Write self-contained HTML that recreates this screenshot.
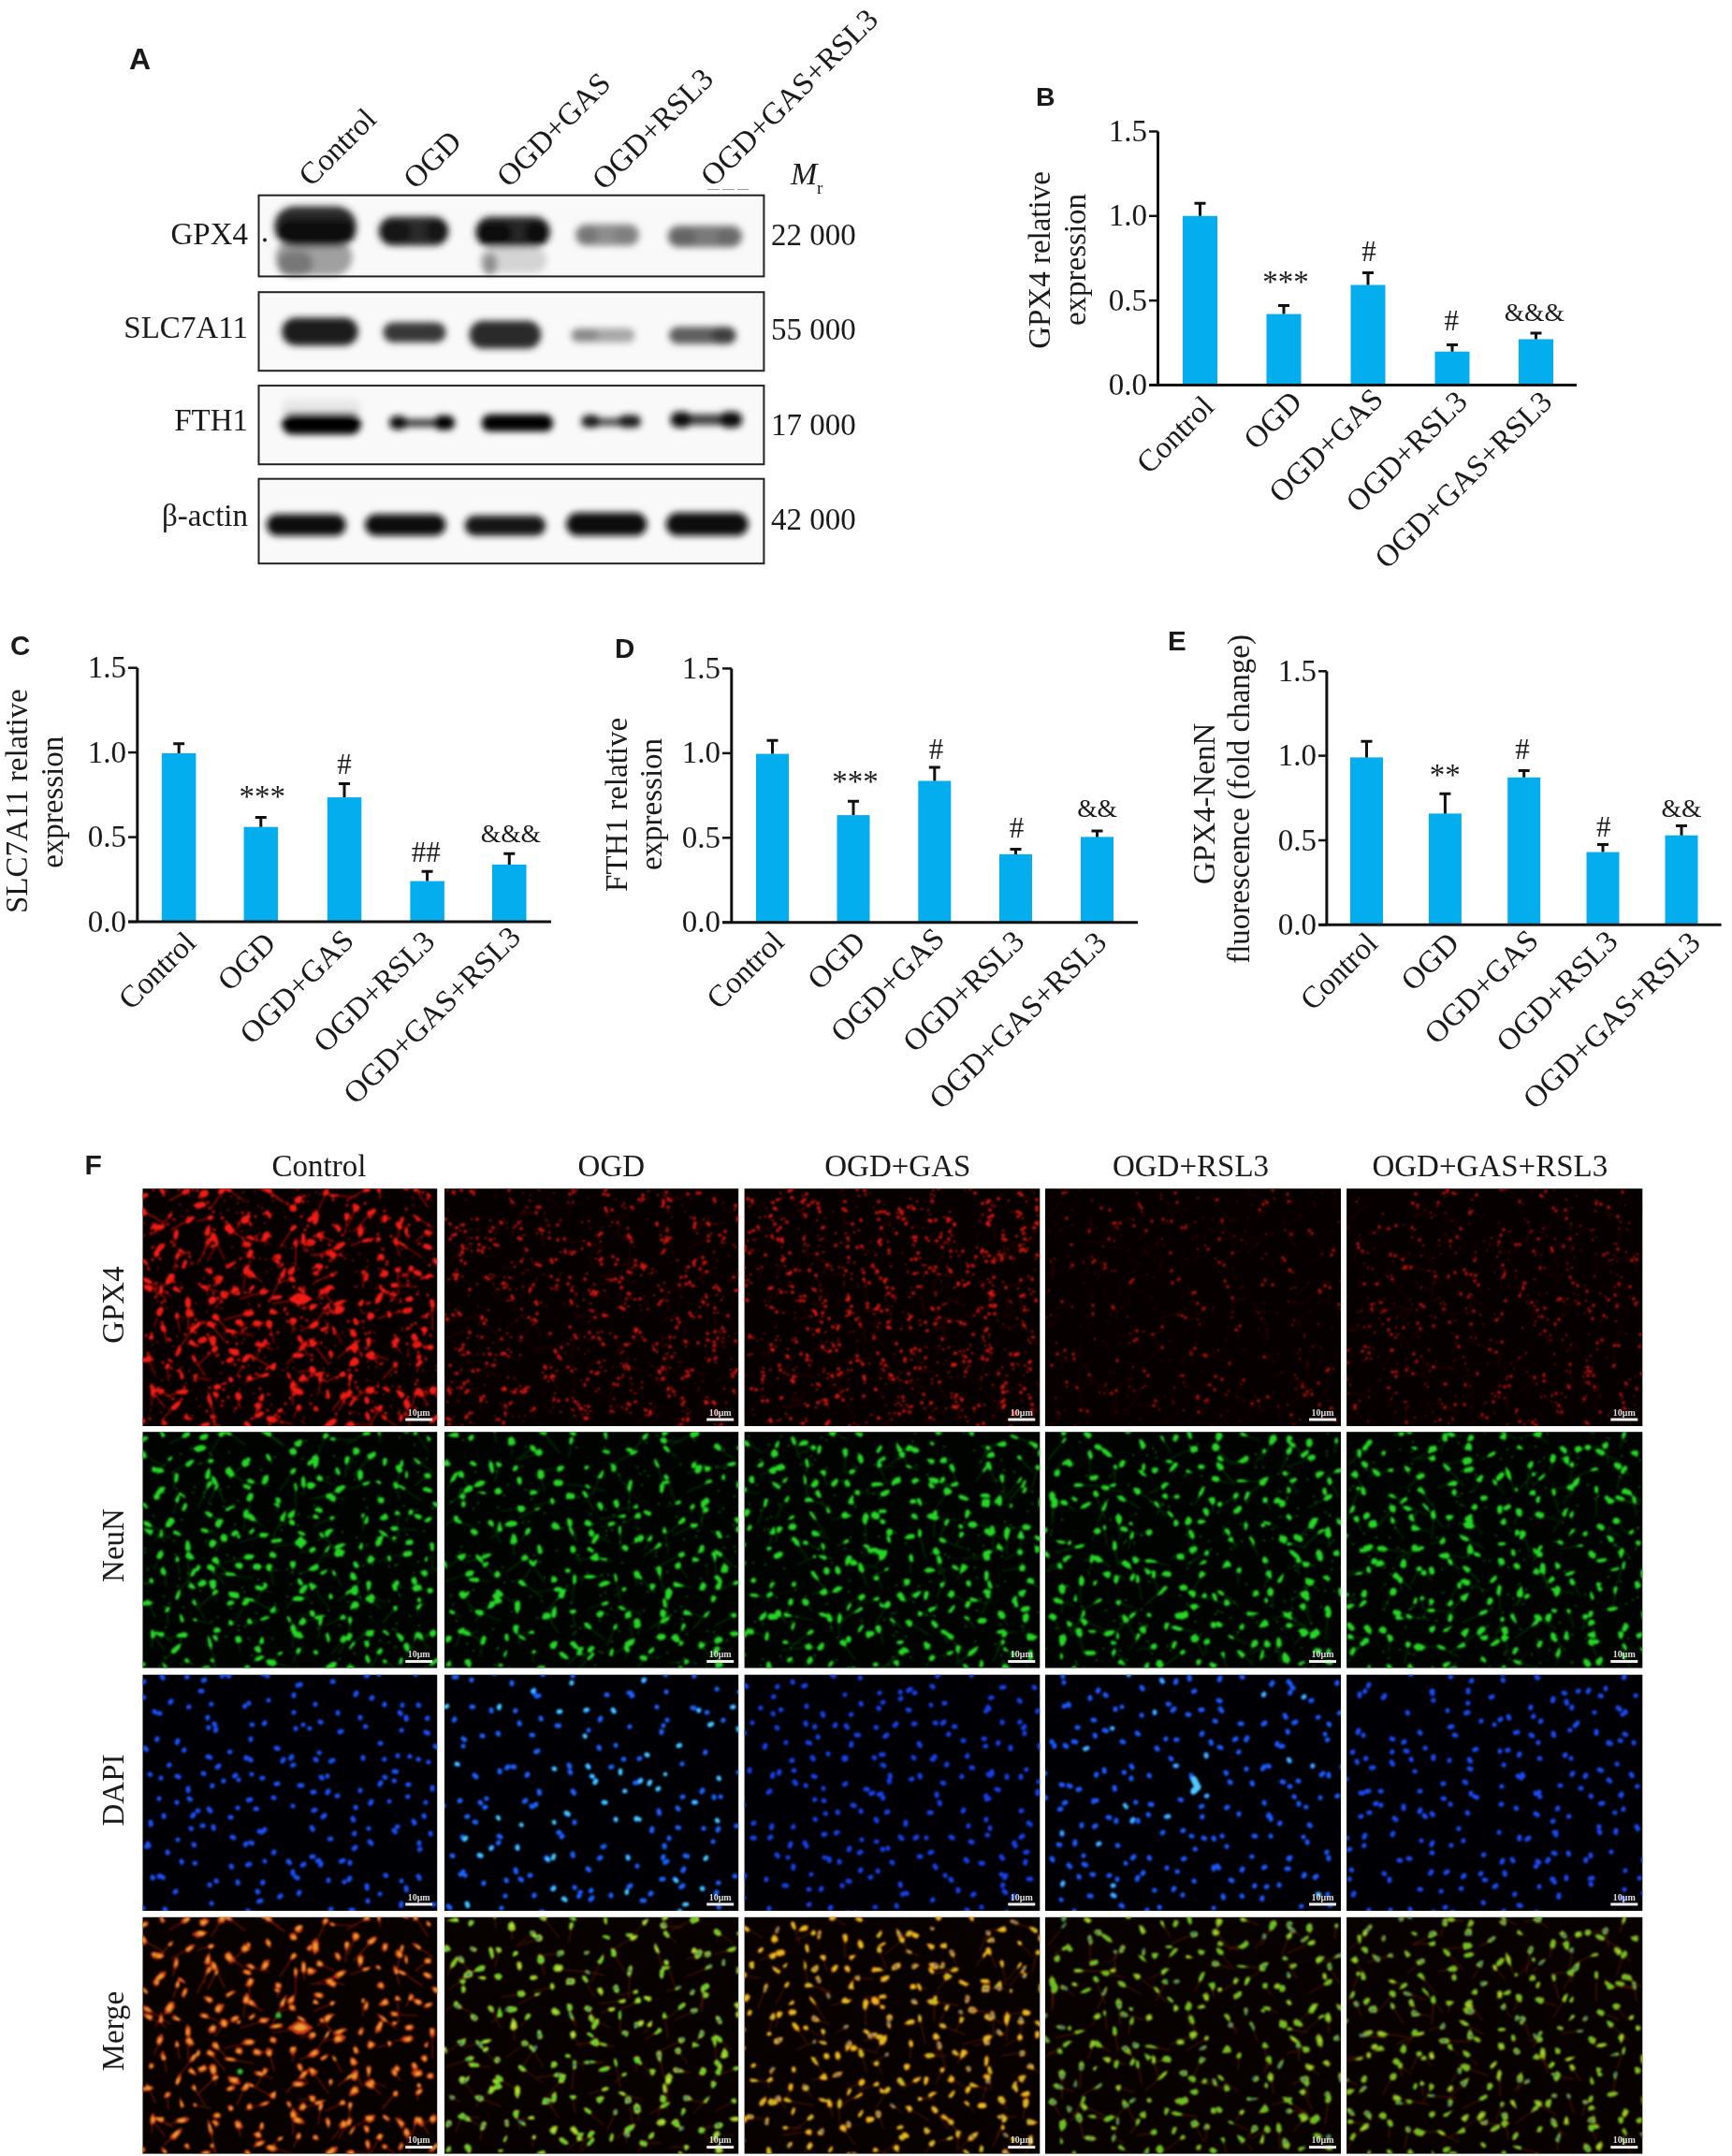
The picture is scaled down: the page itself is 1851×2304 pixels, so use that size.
<!DOCTYPE html>
<html><head><meta charset="utf-8"><title>Figure</title>
<style>html,body{margin:0;padding:0;background:#fff;}body{width:1851px;height:2304px;overflow:hidden;}svg{display:block;will-change:transform;}</style>
</head><body>
<svg width="1851" height="2304" viewBox="0 0 1851 2304" font-family="'Liberation Serif', serif" fill="#1a1a1a">
<defs><filter id="bl" x="-50%" y="-50%" width="200%" height="200%"><feGaussianBlur stdDeviation="3.6"/></filter><filter id="mb" x="0" y="0" width="100%" height="100%"><feGaussianBlur stdDeviation="1"/></filter><clipPath id="c00"><rect x="152.5" y="1270.2" width="314.7" height="253.8"/></clipPath><clipPath id="c01"><rect x="475" y="1270.2" width="314.2" height="253.8"/></clipPath><clipPath id="c02"><rect x="795.6" y="1270.2" width="315.7" height="253.8"/></clipPath><clipPath id="c03"><rect x="1117" y="1270.2" width="316.0" height="253.8"/></clipPath><clipPath id="c04"><rect x="1439.1" y="1270.2" width="316.2" height="253.8"/></clipPath><clipPath id="c10"><rect x="152.5" y="1530.2" width="314.7" height="252.3"/></clipPath><clipPath id="c11"><rect x="475" y="1530.2" width="314.2" height="252.3"/></clipPath><clipPath id="c12"><rect x="795.6" y="1530.2" width="315.7" height="252.3"/></clipPath><clipPath id="c13"><rect x="1117" y="1530.2" width="316.0" height="252.3"/></clipPath><clipPath id="c14"><rect x="1439.1" y="1530.2" width="316.2" height="252.3"/></clipPath><clipPath id="c20"><rect x="152.5" y="1789.7" width="314.7" height="252.3"/></clipPath><clipPath id="c21"><rect x="475" y="1789.7" width="314.2" height="252.3"/></clipPath><clipPath id="c22"><rect x="795.6" y="1789.7" width="315.7" height="252.3"/></clipPath><clipPath id="c23"><rect x="1117" y="1789.7" width="316.0" height="252.3"/></clipPath><clipPath id="c24"><rect x="1439.1" y="1789.7" width="316.2" height="252.3"/></clipPath><clipPath id="c30"><rect x="152.5" y="2048.8" width="314.7" height="252.8"/></clipPath><clipPath id="c31"><rect x="475" y="2048.8" width="314.2" height="252.8"/></clipPath><clipPath id="c32"><rect x="795.6" y="2048.8" width="315.7" height="252.8"/></clipPath><clipPath id="c33"><rect x="1117" y="2048.8" width="316.0" height="252.8"/></clipPath><clipPath id="c34"><rect x="1439.1" y="2048.8" width="316.2" height="252.8"/></clipPath></defs>
<text x="138" y="73.6" font-family="'Liberation Sans', sans-serif" font-weight="bold" font-size="32">A</text>
<text x="1107" y="112.6" font-family="'Liberation Sans', sans-serif" font-weight="bold" font-size="28.5">B</text>
<text x="11" y="700" font-family="'Liberation Sans', sans-serif" font-weight="bold" font-size="29.5">C</text>
<text x="657" y="703" font-family="'Liberation Sans', sans-serif" font-weight="bold" font-size="29.5">D</text>
<text x="1248" y="694.5" font-family="'Liberation Sans', sans-serif" font-weight="bold" font-size="29.5">E</text>
<text x="90.5" y="1255" font-family="'Liberation Sans', sans-serif" font-weight="bold" font-size="30">F</text>
<rect x="276.5" y="208.7" width="539.9" height="86.7" fill="#f9f9f9"/>
<rect x="276.5" y="312.2" width="539.9" height="84.0" fill="#f9f9f9"/>
<rect x="276.5" y="412.1" width="539.9" height="84.1" fill="#f9f9f9"/>
<rect x="276.5" y="511.7" width="539.9" height="90.5" fill="#f9f9f9"/>
<g filter="url(#bl)">
<rect x="294.5" y="255.5" width="82.0" height="39.0" rx="19.5" fill="#a0a0a0"/>
<rect x="296.5" y="268.5" width="38.0" height="26.0" rx="13.0" fill="#787878"/>
<rect x="293.1" y="220.5" width="87.9" height="43.0" rx="21.5" fill="#2a2a2a"/>
<rect x="296.5" y="234.5" width="83.0" height="27.0" rx="13.5" fill="#080808"/>
<rect x="404.5" y="231.5" width="75.0" height="31.0" rx="15.5" fill="#2a2a2a"/>
<rect x="407.5" y="236.5" width="32.0" height="23.0" rx="11.5" fill="#151515"/>
<rect x="455.5" y="234.5" width="22.0" height="25.0" rx="11.0" fill="#151515"/>
<rect x="508.1" y="231.5" width="79.9" height="32.7" rx="16.3" fill="#262626"/>
<rect x="510.5" y="237.5" width="37.0" height="24.0" rx="12.0" fill="#101010"/>
<rect x="560.5" y="236.5" width="25.0" height="25.0" rx="12.5" fill="#101010"/>
<rect x="512.5" y="264.5" width="72.0" height="27.0" rx="13.5" fill="#d4d4d4"/>
<rect x="515.5" y="270.5" width="16.0" height="23.0" rx="8.0" fill="#8a8a8a" opacity="0.9"/>
<rect x="614.8" y="239.5" width="68.5" height="23.0" rx="11.5" fill="#8e8e8e"/>
<rect x="617.5" y="242.5" width="22.0" height="18.0" rx="9.0" fill="#777"/>
<rect x="655.5" y="242.5" width="24.0" height="18.0" rx="9.0" fill="#808080"/>
<rect x="713.5" y="240.9" width="79.8" height="23.3" rx="11.6" fill="#7a7a7a"/>
<rect x="716.5" y="244.5" width="28.0" height="18.0" rx="9.0" fill="#666"/>
<rect x="765.5" y="244.5" width="24.0" height="18.0" rx="9.0" fill="#6a6a6a"/>
<rect x="301.2" y="339.5" width="81.5" height="29.7" rx="14.8" fill="#1c1c1c"/>
<rect x="409.5" y="344.4" width="67.0" height="21.6" rx="10.8" fill="#383838"/>
<rect x="501.5" y="342.8" width="76.8" height="29.7" rx="14.8" fill="#2c2c2c"/>
<rect x="610.0" y="350.8" width="68.5" height="15.2" rx="7.6" fill="#a8a8a8"/>
<rect x="611.5" y="351.5" width="28.0" height="13.0" rx="6.5" fill="#8a8a8a"/>
<rect x="715.0" y="349.2" width="71.8" height="18.3" rx="9.2" fill="#5e5e5e"/>
<rect x="760.5" y="349.5" width="26.0" height="18.0" rx="9.0" fill="#404040"/>
<rect x="300.5" y="426.5" width="86.0" height="19.0" rx="9.5" fill="#e8e8e8"/>
<rect x="301.2" y="441.1" width="84.7" height="23.2" rx="11.6" fill="#000"/>
<rect x="416.5" y="447.5" width="69.0" height="9.0" rx="4.5" fill="#444"/>
<rect x="416.0" y="444.5" width="19.5" height="14.5" rx="7.2" fill="#111"/>
<rect x="463.5" y="444.0" width="22.6" height="15.5" rx="7.8" fill="#050505"/>
<rect x="514.5" y="442.7" width="76.7" height="18.4" rx="9.2" fill="#000"/>
<rect x="621.5" y="446.5" width="63.0" height="9.0" rx="4.5" fill="#555"/>
<rect x="621.3" y="443.5" width="20.2" height="13.5" rx="6.8" fill="#1a1a1a"/>
<rect x="660.5" y="443.5" width="24.5" height="13.5" rx="6.8" fill="#1a1a1a"/>
<rect x="716.5" y="442.5" width="76.8" height="12.0" rx="6.0" fill="#444"/>
<rect x="716.5" y="440.0" width="23.0" height="17.0" rx="8.5" fill="#0a0a0a"/>
<rect x="768.5" y="440.0" width="24.8" height="17.0" rx="8.5" fill="#0a0a0a"/>
<rect x="285.0" y="549.4" width="84.7" height="23.2" rx="11.6" fill="#111"/>
<rect x="390.1" y="549.4" width="86.3" height="23.1" rx="11.6" fill="#0c0c0c"/>
<rect x="496.8" y="551.0" width="86.3" height="21.5" rx="10.8" fill="#141414"/>
<rect x="605.1" y="547.8" width="86.3" height="24.7" rx="12.4" fill="#111"/>
<rect x="711.8" y="547.8" width="87.9" height="24.7" rx="12.4" fill="#0e0e0e"/>
</g>
<circle cx="283" cy="256.6" r="2" fill="#222"/>
<rect x="276.5" y="208.7" width="539.9" height="86.7" fill="none" stroke="#222" stroke-width="2"/>
<rect x="276.5" y="312.2" width="539.9" height="84.0" fill="none" stroke="#222" stroke-width="2"/>
<rect x="276.5" y="412.1" width="539.9" height="84.1" fill="none" stroke="#222" stroke-width="2"/>
<rect x="276.5" y="511.7" width="539.9" height="90.5" fill="none" stroke="#222" stroke-width="2"/>
<text x="265" y="261" font-size="33" text-anchor="end">GPX4</text>
<text x="265" y="360.5" font-size="33" text-anchor="end">SLC7A11</text>
<text x="265" y="459.7" font-size="33" text-anchor="end">FTH1</text>
<text x="265" y="562" font-size="33" text-anchor="end">β-actin</text>
<text x="824" y="262" font-size="33">22 000</text>
<text x="824" y="363.3" font-size="33">55 000</text>
<text x="824" y="465.4" font-size="33">17 000</text>
<text x="824" y="566" font-size="33">42 000</text>
<text x="845" y="196.5" font-size="34" font-style="italic">M</text>
<text x="873" y="206.5" font-size="19">r</text>
<text transform="translate(332.6 200.6) rotate(-45)" font-size="33">Control</text>
<text transform="translate(444.3 203.6) rotate(-45)" font-size="33">OGD</text>
<text transform="translate(544 201.5) rotate(-45)" font-size="33">OGD+GAS</text>
<text transform="translate(645.9 204.4) rotate(-45)" font-size="33">OGD+RSL3</text>
<text transform="translate(762.1 200.9) rotate(-45)" font-size="33">OGD+GAS+RSL3</text>
<line x1="756" y1="202.5" x2="800" y2="202.5" stroke="#888" stroke-width="0.8" stroke-dasharray="13 3"/>
<rect x="1264.0" y="230.8" width="37" height="180.7" fill="#03adee"/>
<path d="M1282.5 230.8V215.7M1276.5 217.2H1288.5" stroke="#111" stroke-width="3" fill="none"/>
<rect x="1353.5" y="335.6" width="37" height="75.9" fill="#03adee"/>
<path d="M1372.0 335.6V325.0M1366.0 326.5H1378.0" stroke="#111" stroke-width="3" fill="none"/>
<rect x="1443.5" y="304.5" width="37" height="107.0" fill="#03adee"/>
<path d="M1462.0 304.5V290.1M1456.0 291.6H1468.0" stroke="#111" stroke-width="3" fill="none"/>
<rect x="1533.5" y="375.7" width="37" height="35.8" fill="#03adee"/>
<path d="M1552.0 375.7V367.1M1546.0 368.6H1558.0" stroke="#111" stroke-width="3" fill="none"/>
<rect x="1623.0" y="362.5" width="37" height="49.0" fill="#03adee"/>
<path d="M1641.5 362.5V354.6M1635.5 356.1H1647.5" stroke="#111" stroke-width="3" fill="none"/>
<path d="M1237.5 140.5V411.5M1228 411.5H1685" stroke="#111" stroke-width="3" fill="none"/>
<path d="M1228 411.5H1237.5" stroke="#111" stroke-width="2.5"/>
<text x="1226.0" y="422.0" font-size="33" text-anchor="end">0.0</text>
<path d="M1228 321.2H1237.5" stroke="#111" stroke-width="2.5"/>
<text x="1226.0" y="331.7" font-size="33" text-anchor="end">0.5</text>
<path d="M1228 230.8H1237.5" stroke="#111" stroke-width="2.5"/>
<text x="1226.0" y="241.3" font-size="33" text-anchor="end">1.0</text>
<path d="M1228 140.5H1237.5" stroke="#111" stroke-width="2.5"/>
<text x="1226.0" y="151.0" font-size="33" text-anchor="end">1.5</text>
<text x="1374.0" y="311.7" font-size="33" text-anchor="middle">***</text>
<text x="1463.0" y="278.9" font-size="31" text-anchor="middle">#</text>
<text x="1551.3" y="353.2" font-size="31" text-anchor="middle">#</text>
<text x="1639.8" y="343.0" font-size="27.5" text-anchor="middle">&amp;&amp;&amp;</text>
<text transform="translate(1122.2 278) rotate(-90)" font-size="33" text-anchor="middle">GPX4 relative</text>
<text transform="translate(1159.8 277.5) rotate(-90)" font-size="33" text-anchor="middle">expression</text>
<text transform="translate(1299.3 436.5) rotate(-45)" font-size="33" text-anchor="end">Control</text>
<text transform="translate(1393 431.5) rotate(-45)" font-size="33" text-anchor="end">OGD</text>
<text transform="translate(1480 428.5) rotate(-45)" font-size="33" text-anchor="end">OGD+GAS</text>
<text transform="translate(1570 431) rotate(-45)" font-size="33" text-anchor="end">OGD+RSL3</text>
<text transform="translate(1660.5 431.3) rotate(-45)" font-size="33" text-anchor="end">OGD+GAS+RSL3</text>
<rect x="172.9" y="805.0" width="36.5" height="180.0" fill="#03adee"/>
<path d="M191.2 805.0V793.3M185.2 794.8H197.2" stroke="#111" stroke-width="3" fill="none"/>
<rect x="260.6" y="883.7" width="36.5" height="101.3" fill="#03adee"/>
<path d="M278.8 883.7V872.0M272.8 873.5H284.8" stroke="#111" stroke-width="3" fill="none"/>
<rect x="349.8" y="852.1" width="36.5" height="132.9" fill="#03adee"/>
<path d="M368.0 852.1V836.0M362.0 837.5H374.0" stroke="#111" stroke-width="3" fill="none"/>
<rect x="438.4" y="941.6" width="36.5" height="43.4" fill="#03adee"/>
<path d="M456.6 941.6V929.7M450.6 931.2H462.6" stroke="#111" stroke-width="3" fill="none"/>
<rect x="526.0" y="923.9" width="36.5" height="61.1" fill="#03adee"/>
<path d="M544.3 923.9V910.7M538.3 912.2H550.3" stroke="#111" stroke-width="3" fill="none"/>
<path d="M146.8 713.7V985M137 985H589" stroke="#111" stroke-width="3" fill="none"/>
<path d="M137 985.0H146.8" stroke="#111" stroke-width="2.5"/>
<text x="135.0" y="995.5" font-size="33" text-anchor="end">0.0</text>
<path d="M137 894.6H146.8" stroke="#111" stroke-width="2.5"/>
<text x="135.0" y="905.1" font-size="33" text-anchor="end">0.5</text>
<path d="M137 804.1H146.8" stroke="#111" stroke-width="2.5"/>
<text x="135.0" y="814.6" font-size="33" text-anchor="end">1.0</text>
<path d="M137 713.7H146.8" stroke="#111" stroke-width="2.5"/>
<text x="135.0" y="724.2" font-size="33" text-anchor="end">1.5</text>
<text x="280.3" y="862.0" font-size="33" text-anchor="middle">***</text>
<text x="367.9" y="826.6" font-size="31" text-anchor="middle">#</text>
<text x="455.2" y="921.0" font-size="31" text-anchor="middle">##</text>
<text x="545.9" y="899.9" font-size="27.5" text-anchor="middle">&amp;&amp;&amp;</text>
<text transform="translate(29.4 856.2) rotate(-90)" font-size="33" text-anchor="middle">SLC7A11 relative</text>
<text transform="translate(67 857.3) rotate(-90)" font-size="33" text-anchor="middle">expression</text>
<text transform="translate(211.2 1009.3) rotate(-45)" font-size="33" text-anchor="end">Control</text>
<text transform="translate(296.4 1010) rotate(-45)" font-size="33" text-anchor="end">OGD</text>
<text transform="translate(380 1007) rotate(-45)" font-size="33" text-anchor="end">OGD+GAS</text>
<text transform="translate(466.4 1008) rotate(-45)" font-size="33" text-anchor="end">OGD+RSL3</text>
<text transform="translate(558.3 1003.4) rotate(-45)" font-size="33" text-anchor="end">OGD+GAS+RSL3</text>
<rect x="808.0" y="805.6" width="35" height="180.2" fill="#03adee"/>
<path d="M825.5 805.6V789.8M819.5 791.3H831.5" stroke="#111" stroke-width="3" fill="none"/>
<rect x="894.5" y="871.1" width="35" height="114.7" fill="#03adee"/>
<path d="M912.0 871.1V854.8M906.0 856.3H918.0" stroke="#111" stroke-width="3" fill="none"/>
<rect x="981.3" y="834.5" width="35" height="151.3" fill="#03adee"/>
<path d="M998.8 834.5V818.4M992.8 819.9H1004.8" stroke="#111" stroke-width="3" fill="none"/>
<rect x="1068.0" y="912.9" width="35" height="72.9" fill="#03adee"/>
<path d="M1085.5 912.9V906.0M1079.5 907.5H1091.5" stroke="#111" stroke-width="3" fill="none"/>
<rect x="1155.0" y="894.4" width="35" height="91.4" fill="#03adee"/>
<path d="M1172.5 894.4V886.5M1166.5 888.0H1178.5" stroke="#111" stroke-width="3" fill="none"/>
<path d="M781.8 714.4V985.8M772 985.8H1216" stroke="#111" stroke-width="3" fill="none"/>
<path d="M772 985.8H781.8" stroke="#111" stroke-width="2.5"/>
<text x="770.0" y="996.3" font-size="33" text-anchor="end">0.0</text>
<path d="M772 895.3H781.8" stroke="#111" stroke-width="2.5"/>
<text x="770.0" y="905.8" font-size="33" text-anchor="end">0.5</text>
<path d="M772 804.9H781.8" stroke="#111" stroke-width="2.5"/>
<text x="770.0" y="815.4" font-size="33" text-anchor="end">1.0</text>
<path d="M772 714.4H781.8" stroke="#111" stroke-width="2.5"/>
<text x="770.0" y="724.9" font-size="33" text-anchor="end">1.5</text>
<text x="913.9" y="846.3" font-size="33" text-anchor="middle">***</text>
<text x="1000.5" y="810.6" font-size="31" text-anchor="middle">#</text>
<text x="1086.5" y="894.7" font-size="31" text-anchor="middle">#</text>
<text x="1172.6" y="872.5" font-size="27.5" text-anchor="middle">&amp;&amp;</text>
<text transform="translate(669.8 859.9) rotate(-90)" font-size="33" text-anchor="middle">FTH1 relative</text>
<text transform="translate(707.4 859.5) rotate(-90)" font-size="33" text-anchor="middle">expression</text>
<text transform="translate(839.8 1008.6) rotate(-45)" font-size="33" text-anchor="end">Control</text>
<text transform="translate(926.7 1008.6) rotate(-45)" font-size="33" text-anchor="end">OGD</text>
<text transform="translate(1011.3 1005) rotate(-45)" font-size="33" text-anchor="end">OGD+GAS</text>
<text transform="translate(1096.5 1007.8) rotate(-45)" font-size="33" text-anchor="end">OGD+RSL3</text>
<text transform="translate(1184.5 1009) rotate(-45)" font-size="33" text-anchor="end">OGD+GAS+RSL3</text>
<rect x="1443.0" y="809.4" width="35" height="178.9" fill="#03adee"/>
<path d="M1460.5 809.4V790.7M1454.5 792.2H1466.5" stroke="#111" stroke-width="3" fill="none"/>
<rect x="1526.9" y="869.4" width="35" height="118.9" fill="#03adee"/>
<path d="M1544.4 869.4V846.8M1538.4 848.3H1550.4" stroke="#111" stroke-width="3" fill="none"/>
<rect x="1611.2" y="830.8" width="35" height="157.5" fill="#03adee"/>
<path d="M1628.7 830.8V822.1M1622.7 823.6H1634.7" stroke="#111" stroke-width="3" fill="none"/>
<rect x="1695.5" y="910.6" width="35" height="77.7" fill="#03adee"/>
<path d="M1713.0 910.6V901.0M1707.0 902.5H1719.0" stroke="#111" stroke-width="3" fill="none"/>
<rect x="1779.5" y="892.7" width="35" height="95.6" fill="#03adee"/>
<path d="M1797.0 892.7V881.0M1791.0 882.5H1803.0" stroke="#111" stroke-width="3" fill="none"/>
<path d="M1417.9 717.3V988.3M1409 988.3H1839.6" stroke="#111" stroke-width="3" fill="none"/>
<path d="M1409 988.3H1417.9" stroke="#111" stroke-width="2.5"/>
<text x="1407.0" y="998.8" font-size="33" text-anchor="end">0.0</text>
<path d="M1409 898.0H1417.9" stroke="#111" stroke-width="2.5"/>
<text x="1407.0" y="908.5" font-size="33" text-anchor="end">0.5</text>
<path d="M1409 807.6H1417.9" stroke="#111" stroke-width="2.5"/>
<text x="1407.0" y="818.1" font-size="33" text-anchor="end">1.0</text>
<path d="M1409 717.3H1417.9" stroke="#111" stroke-width="2.5"/>
<text x="1407.0" y="727.8" font-size="33" text-anchor="end">1.5</text>
<text x="1544.3" y="839.2" font-size="33" text-anchor="middle">**</text>
<text x="1626.9" y="811.0" font-size="31" text-anchor="middle">#</text>
<text x="1713.7" y="893.8" font-size="31" text-anchor="middle">#</text>
<text x="1796.9" y="872.5" font-size="27.5" text-anchor="middle">&amp;&amp;</text>
<text transform="translate(1297.8 858.9) rotate(-90)" font-size="33" text-anchor="middle">GPX4-NenN</text>
<text transform="translate(1335.2 853.9) rotate(-90)" font-size="33" text-anchor="middle">fluorescence (fold change)</text>
<text transform="translate(1474.3 1010) rotate(-45)" font-size="33" text-anchor="end">Control</text>
<text transform="translate(1561 1010) rotate(-45)" font-size="33" text-anchor="end">OGD</text>
<text transform="translate(1646 1007) rotate(-45)" font-size="33" text-anchor="end">OGD+GAS</text>
<text transform="translate(1730.8 1007.8) rotate(-45)" font-size="33" text-anchor="end">OGD+RSL3</text>
<text transform="translate(1819 1009) rotate(-45)" font-size="33" text-anchor="end">OGD+GAS+RSL3</text>
<rect x="152.5" y="1270.2" width="314.7" height="253.8" fill="#060000"/>
<g clip-path="url(#c00)" filter="url(#mb)">
<path d="M149 1282l-10 9M194 1276l-13 7M234 1278l-8 13M248 1274l14 10M284 1272l17 12M290 1274l14 11M346 1280l-8 18M359 1278l21 1M386 1274l-15 9M406 1275l0 6M446 1273l11 17M158 1297l17 10M179 1302l-12 14M198 1306l-15 8M222 1302l-11 3M257 1308l-12 12M370 1307l-1 11M378 1296l-6 14M393 1300l-15 16M428 1309l-4 18M450 1304l12 8M167 1312l4 4M187 1325l-2 7M221 1323l-3 18M232 1329l8 17M251 1317l9 6M272 1324l16 4M310 1317l-11 16M325 1330l0 7M346 1322l11 5M454 1319l-10 8M221 1332l-10 19M229 1334l-7 13M267 1347l-1 11M297 1347l-0 8M316 1335l0 18M328 1327l-10 0M357 1340l11 3M357 1334l-20 8M386 1327l-11 4M424 1332l3 10M436 1334l15 10M189 1346l-4 11M262 1364l-2 13M273 1365l7 5M350 1341l-18 0M388 1363l-0 13M425 1361l1 22M437 1360l-3 6M164 1372l18 12M177 1372l-11 14M223 1377l9 3M246 1381l-8 5M300 1366l-9 18M307 1368l-10 3M347 1383l13 14M353 1363l-17 7M414 1382l9 7M426 1374l20 1M164 1379l13 8M201 1400l0 21M238 1387l-8 11M277 1382l-20 6M314 1390l-22 3M328 1397l-7 1M347 1381l-8 6M462 1400l-0 21M168 1409l-3 8M190 1410l2 11M229 1420l11 13M234 1411l9 10M260 1405l-20 5M313 1416l0 8M330 1418l-9 4M346 1401l-9 13M356 1401l-10 2M413 1406l-9 3M429 1402l-8 1M176 1424l2 11M203 1425l-12 16M229 1439l2 11M252 1424l19 3M280 1414l10 1M289 1420l4 14M322 1435l7 14M338 1440l13 18M359 1424l6 11M379 1431l8 20M160 1456l6 13M227 1444l-16 15M283 1439l8 3M281 1438l-8 14M319 1444l-13 14M369 1445l-8 6M401 1448l11 4M424 1440l4 5M150 1455l-21 3M179 1464l1 11M210 1456l9 14M259 1459l-6 12M272 1451l18 10M312 1474l8 9M329 1465l-10 1M335 1470l-11 4M363 1470l-15 7M400 1453l7 6M420 1461l-11 13M447 1454l-1 12M163 1492l-1 9M175 1488l9 6M188 1489l-10 3M211 1472l14 3M231 1486l-0 10M276 1472l-14 5M313 1486l0 15M342 1478l-2 13M374 1477l-1 7M370 1494l-8 13M391 1487l-13 7M443 1493l-3 11M452 1493l6 9M165 1489l11 15M174 1488l7 4M182 1508l-7 7M226 1502l5 21M255 1497l2 8M278 1497l-7 20M317 1508l-3 7M363 1497l-8 10M435 1506l3 19M459 1488l-8 5M147 1519l-8 0M214 1525l-15 6M228 1518l3 5M296 1518l16 4M296 1510l-9 8M347 1525l-6 4M380 1522l18 1M403 1510l-8 13M414 1517l15 11" fill="none" stroke="#b81008" stroke-width="1.5" stroke-linecap="round" opacity="0.8"/>
<path d="M403 1510h.1M334 1335h.1M390 1365h.1M405 1356h.1M332 1470h.1M158 1354h.1M278 1345h.1M442 1288h.1M294 1348h.1M195 1300h.1M432 1364h.1M442 1365h.1M258 1316h.1M178 1272h.1M394 1495h.1M449 1453h.1M430 1422h.1M303 1510h.1M326 1315h.1M333 1491h.1M390 1403h.1M384 1340h.1M366 1424h.1M172 1509h.1M418 1469h.1M236 1467h.1M265 1284h.1M436 1449h.1M234 1388h.1M210 1495h.1M256 1484h.1M285 1417h.1M237 1279h.1M162 1314h.1M276 1289h.1M302 1331h.1M237 1368h.1M242 1387h.1M335 1410h.1M154 1307h.1M178 1398h.1M303 1356h.1M283 1307h.1M269 1416h.1M417 1391h.1M371 1283h.1M386 1400h.1M324 1469h.1M381 1359h.1M274 1511h.1M378 1509h.1M307 1462h.1M348 1412h.1M348 1440h.1M262 1339h.1M414 1453h.1M266 1393h.1M452 1464h.1M455 1501h.1M221 1402h.1M427 1507h.1M463 1340h.1M259 1435h.1M236 1297h.1M313 1462h.1M307 1403h.1M292 1283h.1M368 1499h.1M428 1388h.1M271 1489h.1M216 1281h.1M429 1364h.1M258 1362h.1M206 1513h.1M325 1515h.1M277 1420h.1M338 1274h.1M374 1301h.1M430 1419h.1M392 1475h.1M200 1294h.1M329 1473h.1M163 1437h.1M224 1394h.1M283 1330h.1M441 1416h.1M240 1283h.1M410 1490h.1M181 1302h.1M352 1331h.1M402 1461h.1M342 1276h.1M392 1354h.1M312 1334h.1M255 1281h.1M313 1350h.1M461 1400h.1M393 1455h.1M260 1274h.1M261 1431h.1M303 1464h.1M161 1427h.1M222 1383h.1M438 1458h.1M325 1521h.1M199 1338h.1M189 1428h.1M394 1487h.1M185 1439h.1M406 1302h.1M466 1464h.1M451 1322h.1M318 1324h.1M297 1440h.1M312 1392h.1M398 1498h.1M247 1279h.1M272 1273h.1M250 1508h.1M248 1333h.1M447 1432h.1M282 1491h.1M436 1443h.1M388 1419h.1M199 1389h.1M296 1402h.1M390 1312h.1M467 1493h.1M266 1459h.1M369 1316h.1M400 1433h.1M369 1297h.1M378 1422h.1M175 1516h.1M353 1456h.1M290 1501h.1M429 1335h.1M418 1503h.1M285 1359h.1M441 1280h.1M181 1506h.1M358 1438h.1M240 1425h.1M205 1401h.1M183 1295h.1M153 1367h.1M369 1345h.1M383 1511h.1M356 1448h.1M218 1366h.1M168 1391h.1M387 1403h.1M182 1470h.1M319 1356h.1M394 1461h.1M329 1284h.1M343 1393h.1M206 1400h.1M402 1377h.1M449 1304h.1M209 1393h.1M362 1316h.1M467 1483h.1M235 1364h.1M330 1277h.1M395 1452h.1M237 1398h.1M373 1324h.1M400 1424h.1M373 1421h.1M339 1369h.1M195 1408h.1M374 1315h.1M262 1404h.1M277 1441h.1M173 1373h.1M278 1462h.1M277 1318h.1M466 1460h.1M305 1332h.1M194 1461h.1M381 1375h.1M357 1424h.1M416 1484h.1M379 1375h.1M225 1503h.1M393 1347h.1M213 1347h.1M161 1507h.1M365 1394h.1M276 1433h.1M202 1277h.1M403 1400h.1M313 1455h.1M467 1515h.1M199 1478h.1M253 1296h.1M426 1363h.1M424 1433h.1M346 1463h.1M154 1319h.1M252 1490h.1M447 1380h.1M192 1287h.1M252 1429h.1M164 1318h.1M407 1306h.1M213 1503h.1M344 1421h.1M284 1346h.1M403 1482h.1M168 1434h.1M322 1417h.1M252 1319h.1M199 1306h.1M173 1475h.1M456 1483h.1M223 1428h.1M323 1519h.1M267 1335h.1M377 1347h.1M180 1454h.1M404 1477h.1M423 1324h.1M270 1322h.1M459 1513h.1M348 1425h.1M457 1330h.1M315 1420h.1M169 1355h.1M254 1286h.1M190 1447h.1M154 1321h.1M198 1391h.1M420 1481h.1M461 1283h.1M335 1372h.1M283 1450h.1M254 1501h.1M202 1465h.1M170 1310h.1M244 1293h.1M296 1403h.1M436 1447h.1M302 1362h.1M333 1388h.1M305 1301h.1M251 1355h.1M218 1433h.1M280 1291h.1" fill="none" stroke="#c01010" stroke-width="2" stroke-linecap="round" opacity="0.8"/>
<path d="M148 1283l1 -5l5 -3l4 0l1 3l-6 3zM175 1276l-2 0l-3 -5l1 -3l2 1l4 5zM194 1276l1 -4l6 -3l2 2l0 3l-5 3zM213 1278l1 -5l5 -2l4 2l-1 5l-5 2zM234 1277l-1 -4l3 -5l4 0l1 4l-3 4zM248 1274l-4 0l-4 -3l-2 -4l4 1l5 3zM284 1272l-3 0l-2 -2l0 -2l2 -1l3 2zM291 1275l-5 0l-4 -3l-1 -4l4 0l5 2zM322 1282l-2 1l-2 -2l0 -3l3 0l3 1zM320 1286l-4 0l-2 -4l3 -3l3 0l3 4zM346 1279l-1 -3l1 -4l3 -1l3 3l-3 3zM359 1278l-2 2l-3 -1l-2 -1l2 -2l3 0zM387 1274l2 -4l3 -2l3 1l1 4l-4 1zM406 1276l-3 -3l0 -5l2 -1l2 1l0 4zM436 1272l-3 0l-4 -3l0 -3l3 0l5 3zM446 1273l-4 1l0 -4l0 -3l4 -1l1 4zM459 1280l-2 -1l-1 -2l0 -3l3 2l2 2zM158 1297l-4 3l-5 -4l0 -4l3 -3l4 4zM180 1301l-1 -2l3 -2l2 -1l0 3l-2 2zM198 1306l1 -3l5 -3l5 0l-4 5l-4 3zM206 1288l5 -3l6 -1l4 3l-3 3l-7 2zM221 1303l2 -4l3 0l3 1l-2 3l-2 1zM258 1307l-1 -4l4 -4l4 1l2 5l-5 3zM267 1302l-2 1l-2 -4l2 -2l2 1l1 3zM289 1303l-3 -3l-3 -4l2 -3l3 2l2 4zM313 1295l-3 -1l-1 -6l5 -1l3 3l0 4zM329 1306l-1 -2l3 -4l3 0l0 3l-2 3zM336 1310l-2 -5l-1 -8l5 -4l3 5l-1 8zM370 1306l-2 -4l0 -5l3 -1l3 1l-1 5zM378 1296l-1 -5l0 -5l5 1l3 3l-2 4zM393 1300l-1 -5l6 -3l3 -1l1 4l-4 4zM410 1307l-2 -3l1 -5l3 -1l2 1l0 6zM428 1310l-1 -4l1 -5l3 -1l1 2l-1 4zM450 1304l-3 1l-2 -2l-5 -5l5 1l4 3zM167 1311l-3 3l-2 -3l1 -4l3 0l3 2zM162 1312l4 -4l8 1l2 3l-3 2l-6 0zM187 1325l-2 -4l2 -7l3 0l1 3l-1 6zM221 1321l-3 -2l2 -6l4 -5l1 6l-1 6zM231 1328l-3 -1l-3 -6l1 -4l4 1l3 7zM251 1317l-5 2l-6 -5l0 -4l5 -3l4 5zM272 1324l-2 2l-3 -1l-5 -3l5 -2l4 2zM279 1327l1 -5l2 -5l6 -1l0 6l-4 4zM310 1316l0 -3l3 -4l2 0l3 2l-4 4zM325 1331l-3 -3l0 -8l2 -3l2 3l1 7zM345 1322l-2 2l-5 -2l0 -3l3 -3l4 3zM362 1317l-3 -3l-2 -5l3 -1l3 2l2 4zM384 1323l-2 -5l0 -5l3 -3l4 3l-1 6zM407 1326l-2 0l-3 -2l0 -2l2 0l3 1zM430 1313l-4 1l-3 -4l0 -4l5 -1l2 5zM435 1320l-2 -1l-1 -4l2 -5l2 3l0 6zM454 1319l-1 -4l3 -1l4 1l1 4l-4 1zM166 1344l-2 -4l1 -3l4 -2l2 3l-1 4zM165 1339l2 -5l4 -5l6 0l-2 5l-5 4zM199 1341l-3 -1l-5 -3l-1 -2l3 -1l4 4zM221 1332l0 -4l1 -4l4 -3l1 5l-3 3zM229 1333l0 -3l2 -4l2 0l1 2l-3 4zM269 1331l-3 2l-6 -3l-1 -3l3 -1l6 2zM267 1345l-4 -2l2 -6l3 -2l3 2l-1 5zM297 1347l-2 -2l-1 -4l3 -1l4 1l-1 5zM316 1335l-1 -4l-1 -5l2 -2l2 3l0 4zM328 1327l1 -3l5 0l4 3l-3 4l-6 1zM358 1340l-4 3l-5 -2l-1 -4l3 -1l4 0zM357 1334l3 -5l6 -2l4 1l-3 4l-6 4zM387 1327l0 -2l6 -2l4 1l-3 3l-5 1zM403 1343l2 -3l4 0l2 3l-1 4l-5 -1zM424 1331l-2 0l-2 -5l2 -4l3 3l1 5zM434 1332l-3 0l-5 -3l-1 -3l3 1l5 3zM462 1335l-4 1l-6 -3l0 -3l3 -1l6 2zM158 1352l-2 0l-4 -4l0 -3l3 1l3 4zM188 1346l-1 -3l2 -4l3 -3l0 4l-1 5zM194 1355l1 -4l2 -5l3 1l0 3l-3 6zM228 1360l-4 2l-3 -3l-3 -3l4 -1l4 2zM241 1354l0 -2l7 -3l4 0l-4 4l-5 3zM263 1363l-3 -2l0 -5l4 -5l3 6l-1 5zM274 1366l-6 -1l-4 -3l1 -3l3 -2l4 4zM300 1350l-2 1l-4 -2l-2 -2l3 -1l4 2zM309 1363l-2 -4l3 -4l5 -2l0 5l-2 4zM341 1363l-4 0l-3 -1l1 -3l2 -1l3 2zM345 1355l-2 2l-6 -2l-1 -3l3 -2l6 1zM352 1341l1 -2l5 -1l2 3l-2 4l-5 -1zM388 1362l-2 -1l0 -2l2 -2l2 1l-1 3zM405 1364l3 -5l4 -2l3 2l0 4l-5 2zM425 1360l-3 -1l0 -3l2 -2l3 2l2 3zM438 1359l-2 -2l2 -5l3 1l2 2l-3 4zM469 1349l-3 3l-3 -3l-1 -4l3 -1l3 2zM164 1372l-5 0l-5 -2l-1 -5l5 1l3 2zM177 1373l0 -5l4 -7l5 0l1 5l-5 6zM194 1381l-3 0l-6 -2l0 -3l2 -2l5 4zM223 1378l-4 0l-3 -1l-3 -3l3 -1l6 1zM230 1371l0 -4l3 -4l6 1l-2 5l-3 4zM246 1381l2 -4l4 -2l3 1l1 3l-6 3zM267 1380l-1 -3l3 -3l3 -1l0 3l-3 3zM300 1366l-1 -4l3 -4l4 -4l-1 6l-1 5zM308 1368l1 -4l4 0l2 2l1 4l-5 0zM327 1381l-3 1l-5 -3l-1 -2l2 -1l5 2zM346 1383l-2 0l-3 -3l1 -2l2 -1l3 4zM352 1363l1 -2l2 -1l3 1l-1 3l-2 1zM390 1370l-1 -3l1 -3l2 -5l2 3l-1 6zM415 1382l-3 0l-5 -3l-3 -5l5 2l4 3zM426 1374l-3 2l-4 0l-2 -3l2 -2l5 0zM451 1363l-3 1l-5 -2l-2 -4l5 -1l4 2zM453 1366l2 -3l3 -2l5 1l-3 3l-3 2zM163 1378l-2 3l-6 -3l-2 -5l6 0l5 2zM172 1383l-2 -2l0 -3l2 -6l2 5l0 5zM201 1398l-3 -2l0 -6l2 -5l4 4l0 7zM225 1394l-3 -4l3 -4l3 -1l4 3l-3 5zM237 1387l-2 -4l2 -4l5 1l2 4l-2 4zM257 1383l-1 1l-3 0l0 -3l2 -1l2 1zM277 1382l1 -4l4 0l6 1l-4 4l-4 1zM288 1388l3 -3l8 -1l3 1l-2 3l-8 1zM314 1390l4 -3l6 -2l3 3l-2 3l-7 1zM330 1397l2 -3l4 -1l2 3l-1 2l-5 3zM346 1381l0 -4l5 -4l6 1l-4 5l-3 4zM356 1395l3 -4l7 -2l5 1l-5 3l-5 3zM385 1396l-3 -2l3 -4l2 -2l2 3l-2 5zM401 1394l0 -6l4 -6l5 -2l-1 5l-2 6zM425 1384l-2 1l-3 1l-1 -3l1 -1l3 0zM433 1388l2 -2l5 -1l2 3l-2 3l-6 0zM462 1399l-2 -3l-1 -7l3 -1l2 2l1 6zM169 1407l-2 -3l1 -5l5 -3l2 4l-3 6zM190 1409l-3 0l0 -4l2 -3l2 2l1 4zM208 1406l-5 2l-5 -4l1 -4l3 -3l4 5zM229 1420l-5 -2l-4 -2l2 -4l4 0l4 3zM235 1412l-5 -1l-4 -3l2 -4l4 0l2 3zM260 1414l-3 3l-5 -2l-1 -3l2 -2l5 0zM259 1405l3 -4l6 -1l4 2l-2 4l-6 1zM296 1402l-2 3l-6 -1l0 -4l2 -2l4 2zM313 1417l-4 -4l1 -4l3 -1l4 1l0 4zM329 1419l4 -5l5 -3l3 2l-1 4l-5 3zM347 1401l0 -4l3 -4l3 -2l-1 4l-2 3zM357 1401l1 -4l6 -2l5 3l-3 5l-7 2zM382 1416l-3 0l-2 -6l2 -2l3 2l2 4zM394 1411l-2 -4l2 -5l4 1l3 3l-3 4zM414 1406l0 -4l3 0l2 2l-1 3l-2 2zM429 1402l3 -4l8 -1l1 3l-2 3l-6 1zM455 1409l-1 -1l0 -3l3 -2l0 3l0 3zM161 1432l-2 -1l0 -2l2 -3l3 1l0 4zM175 1423l-2 0l-2 -5l3 -4l3 4l1 4zM203 1425l0 -4l3 -4l4 -2l0 4l-3 5zM214 1416l-2 3l-3 1l1 -5l1 -3l3 1zM229 1439l-4 -2l-2 -7l4 -3l4 2l0 6zM254 1424l-5 1l-7 -1l-2 -3l3 -1l7 1zM281 1414l-4 4l-6 -1l-1 -3l2 -3l5 0zM289 1420l-3 -1l-2 -5l2 -4l5 2l0 5zM323 1436l-4 -3l-1 -3l0 -3l3 0l3 5zM336 1439l-3 1l-3 -6l1 -4l3 2l6 3zM343 1423l-1 -3l5 -2l3 -1l0 3l-5 3zM359 1424l-2 0l-2 -3l0 -4l3 2l1 3zM379 1429l-4 -1l-1 -4l1 -4l4 1l3 6zM393 1441l-1 -4l-1 -6l3 -2l3 2l-1 6zM420 1435l1 -4l3 -3l3 3l0 3l-3 2zM445 1433l-4 0l-2 -5l2 -3l3 0l3 5zM455 1425l-3 -1l-3 -4l3 -2l4 0l1 4zM160 1456l-3 -2l-1 -3l1 -3l2 1l2 4zM189 1450l-2 -2l2 -6l3 -5l2 5l-3 6zM210 1439l-5 -1l-4 -2l1 -3l2 -2l5 4zM222 1432l-4 3l-5 1l-2 -4l4 -3l4 -1zM227 1445l-1 -4l4 -3l3 1l0 3l-3 3zM256 1448l-5 1l-6 -3l-1 -5l5 0l6 1zM283 1439l-3 1l-6 -1l-2 -4l4 -1l6 2zM281 1439l0 -3l1 -5l3 0l1 3l-2 4zM312 1449l2 -3l8 0l4 2l-4 3l-7 0zM320 1443l0 -4l5 -5l4 -1l-1 5l-4 5zM351 1446l1 -3l2 0l2 3l-1 3l-3 1zM369 1445l1 -4l5 -4l3 0l-1 3l-4 3zM376 1444l-2 -4l3 -5l5 -1l1 6l-2 5zM401 1448l-3 2l-2 -2l-1 -3l2 -2l3 2zM424 1440l-3 0l-2 -4l-1 -3l3 -1l4 5zM451 1438l-3 2l-5 1l-3 -4l4 -4l6 1zM460 1443l-3 -1l-1 -4l3 -1l3 0l2 4zM149 1455l4 -4l8 -1l4 3l-5 2l-4 1zM179 1463l-3 0l1 -4l1 -2l4 1l-1 3zM195 1474l-2 0l-1 -6l0 -5l3 4l2 5zM210 1456l-3 -1l-2 -3l1 -2l2 -1l2 4zM241 1454l3 -3l4 -1l3 3l-3 2l-4 2zM260 1456l-2 -2l4 -6l3 -1l3 2l-4 6zM272 1451l-2 1l-3 -2l-2 -2l3 -1l3 2zM290 1464l-2 -3l3 -4l4 -1l0 4l-1 4zM311 1473l-2 1l-2 -4l-1 -3l3 0l2 4zM330 1465l1 -5l4 0l3 4l-2 4l-4 -1zM336 1470l1 -3l5 -1l6 0l-5 4l-5 1zM362 1470l2 -3l3 -2l2 2l1 3l-5 2zM373 1460l1 -5l4 -5l5 2l1 5l-5 3zM400 1453l-5 0l-5 -4l2 -3l4 -2l4 5zM421 1461l-1 -3l1 -3l4 1l0 3l-2 3zM448 1452l-3 0l1 -4l2 -1l2 2l0 3zM444 1460l1 -3l4 -4l3 2l-1 2l-3 3zM162 1493l-1 -4l0 -6l3 -3l2 5l-1 4zM175 1488l-2 2l-3 -2l0 -4l3 0l3 1zM188 1489l2 -3l7 -2l5 2l-3 4l-7 0zM211 1472l-2 1l-2 -1l-1 -2l1 -1l3 1zM231 1485l-3 -1l1 -4l3 -1l4 1l0 4zM248 1477l-3 0l-1 -3l1 -3l3 1l2 3zM263 1474l1 -3l3 -2l3 3l0 3l-4 1zM277 1471l3 -2l4 -2l5 1l-3 3l-5 1zM313 1487l-3 -4l0 -4l3 -4l3 4l1 5zM319 1476l1 -4l4 -4l3 3l0 3l-3 3zM342 1478l-2 -3l1 -6l3 -1l1 2l-1 6zM374 1478l-2 -5l0 -4l3 -2l2 3l-1 3zM370 1494l0 -5l2 -4l3 0l2 3l-3 5zM391 1488l0 -5l4 -1l5 0l0 6l-5 2zM416 1488l-3 -1l-4 -3l0 -2l3 0l5 4zM443 1494l0 -5l1 -4l2 -3l1 3l-1 5zM452 1493l-5 -1l-2 -5l1 -3l3 -1l4 5zM166 1490l-4 -1l-1 -2l1 -3l2 -1l3 3zM174 1488l-3 2l-5 -4l-1 -2l4 0l5 1zM183 1507l0 -4l6 -5l5 -2l-2 6l-5 5zM226 1504l-3 -5l-1 -6l0 -7l3 6l2 7zM234 1492l-3 2l-3 -3l-1 -3l3 -1l4 3zM255 1497l-3 -2l-1 -5l3 -3l3 2l2 5zM279 1506l-4 0l-4 -4l3 -3l3 0l2 3zM278 1498l-1 -4l2 -4l2 -1l1 3l0 4zM325 1490l-5 1l-6 -2l0 -4l3 -2l6 2zM318 1508l-2 -3l2 -4l3 0l1 2l-1 4zM351 1496l-2 -4l-1 -5l2 -3l2 4l1 4zM364 1496l-1 -4l4 -5l4 2l0 3l-3 3zM374 1503l-1 -2l3 -5l2 -2l2 2l-4 6zM393 1501l-3 -2l-1 -5l2 -2l3 2l1 4zM431 1493l-2 2l-4 -5l-2 -5l5 1l5 4zM436 1507l-4 -4l-1 -5l3 -4l3 3l2 5zM459 1487l0 -3l4 -3l3 2l1 4l-5 4zM148 1519l1 -3l5 0l2 3l-2 2l-4 1zM178 1523l-2 0l-3 -3l0 -4l4 3l2 2zM203 1518l-4 -1l-3 -2l2 -3l2 0l2 2zM213 1525l3 -4l5 -1l4 0l-2 4l-4 2zM228 1517l-2 -1l-2 -2l1 -2l3 0l1 3zM269 1526l-4 0l-4 -3l0 -4l4 0l3 4zM272 1515l2 -4l5 -3l4 2l-3 3l-3 2zM297 1518l-5 3l-6 -2l-2 -4l3 -2l7 1zM297 1509l-1 -2l4 -2l2 0l0 3l-3 2zM341 1508l-4 0l-2 -1l0 -3l3 -2l2 3zM346 1526l3 -6l6 -4l5 0l-1 5l-7 5zM379 1522l-1 3l-6 0l-2 -4l4 -2l3 0zM394 1519l-3 -4l-1 -4l2 -3l2 2l2 5zM404 1508l-3 -2l4 -4l3 -1l1 3l-2 5zM413 1517l-2 1l-2 -2l-1 -2l3 -1l3 1zM428 1519l-2 -1l1 -5l2 -2l2 2l-1 5zM458 1520l3 -4l5 -4l6 -1l-4 5l-6 5zM334 1388l-9 6l-8 0l-9 -6l9 -6l8 0z" fill="#f01c12"/>
<path d="M164 1271h.1M143 1285h.1M143 1284h.1M175 1277h.1M167 1267h.1M191 1271h.1M206 1271h.1M210 1261h.1M213 1279h.1M219 1268h.1M211 1272h.1M233 1266h.1M245 1265h.1M246 1270h.1M239 1264h.1M278 1269h.1M282 1272h.1M291 1278h.1M324 1284h.1M325 1278h.1M318 1270h.1M349 1268h.1M350 1271h.1M353 1264h.1M360 1277h.1M356 1282h.1M351 1276h.1M407 1268h.1M407 1268h.1M403 1270h.1M428 1267h.1M443 1268h.1M448 1273h.1M457 1281h.1M452 1274h.1M458 1278h.1M151 1295h.1M179 1308h.1M186 1303h.1M201 1301h.1M224 1291h.1M222 1285h.1M228 1295h.1M255 1307h.1M259 1296h.1M273 1300h.1M268 1309h.1M266 1296h.1M267 1307h.1M289 1298h.1M282 1297h.1M307 1286h.1M315 1288h.1M338 1295h.1M335 1297h.1M329 1310h.1M335 1306h.1M371 1288h.1M390 1286h.1M395 1299h.1M396 1301h.1M413 1300h.1M411 1294h.1M416 1302h.1M430 1304h.1M434 1292h.1M446 1304h.1M175 1310h.1M166 1309h.1M161 1318h.1M162 1312h.1M166 1316h.1M186 1331h.1M221 1328h.1M223 1326h.1M231 1322h.1M227 1331h.1M229 1314h.1M237 1302h.1M242 1306h.1M238 1301h.1M281 1325h.1M274 1321h.1M289 1321h.1M274 1325h.1M322 1300h.1M327 1330h.1M326 1314h.1M328 1336h.1M345 1322h.1M343 1325h.1M345 1317h.1M366 1320h.1M356 1309h.1M386 1310h.1M404 1319h.1M398 1324h.1M403 1326h.1M437 1309h.1M435 1320h.1M437 1321h.1M458 1309h.1M461 1318h.1M458 1320h.1M171 1345h.1M163 1346h.1M163 1333h.1M172 1332h.1M183 1327h.1M193 1341h.1M202 1339h.1M226 1332h.1M228 1332h.1M263 1332h.1M260 1324h.1M260 1331h.1M268 1323h.1M271 1344h.1M292 1345h.1M294 1342h.1M314 1329h.1M323 1328h.1M336 1321h.1M332 1328h.1M352 1330h.1M356 1345h.1M344 1343h.1M358 1335h.1M358 1334h.1M361 1330h.1M396 1326h.1M414 1348h.1M409 1335h.1M404 1346h.1M421 1326h.1M418 1321h.1M434 1333h.1M448 1329h.1M159 1356h.1M189 1353h.1M205 1350h.1M203 1343h.1M196 1351h.1M229 1366h.1M225 1356h.1M232 1368h.1M257 1345h.1M251 1349h.1M243 1353h.1M268 1364h.1M265 1353h.1M266 1364h.1M268 1363h.1M302 1351h.1M295 1344h.1M300 1353h.1M310 1357h.1M310 1357h.1M339 1359h.1M335 1355h.1M337 1361h.1M341 1358h.1M349 1354h.1M353 1347h.1M364 1340h.1M352 1338h.1M390 1362h.1M413 1351h.1M409 1357h.1M411 1364h.1M427 1355h.1M431 1362h.1M434 1362h.1M436 1369h.1M475 1356h.1M459 1352h.1M468 1354h.1M166 1377h.1M149 1362h.1M167 1371h.1M186 1370h.1M178 1381h.1M194 1376h.1M224 1374h.1M221 1377h.1M213 1372h.1M232 1364h.1M221 1379h.1M230 1373h.1M241 1383h.1M249 1382h.1M250 1375h.1M262 1381h.1M267 1381h.1M301 1365h.1M298 1367h.1M299 1370h.1M314 1375h.1M325 1376h.1M323 1383h.1M321 1376h.1M342 1383h.1M346 1378h.1M344 1387h.1M359 1360h.1M390 1359h.1M419 1389h.1M407 1374h.1M415 1381h.1M436 1373h.1M451 1366h.1M453 1365h.1M462 1364h.1M151 1378h.1M173 1392h.1M176 1390h.1M166 1386h.1M202 1400h.1M228 1382h.1M243 1382h.1M237 1391h.1M233 1387h.1M252 1383h.1M282 1377h.1M288 1390h.1M318 1387h.1M338 1395h.1M356 1377h.1M353 1400h.1M392 1393h.1M408 1384h.1M420 1381h.1M418 1383h.1M428 1391h.1M446 1383h.1M457 1384h.1M462 1400h.1M173 1413h.1M189 1408h.1M200 1406h.1M215 1414h.1M218 1413h.1M230 1415h.1M258 1417h.1M260 1421h.1M268 1400h.1M263 1401h.1M277 1395h.1M304 1400h.1M305 1398h.1M307 1412h.1M312 1414h.1M307 1404h.1M350 1415h.1M328 1411h.1M352 1397h.1M346 1398h.1M356 1403h.1M350 1404h.1M355 1402h.1M382 1413h.1M388 1412h.1M395 1392h.1M415 1402h.1M432 1400h.1M436 1401h.1M426 1401h.1M458 1404h.1M455 1406h.1M452 1407h.1M156 1427h.1M162 1425h.1M180 1431h.1M182 1432h.1M176 1423h.1M204 1419h.1M206 1415h.1M209 1410h.1M224 1430h.1M222 1426h.1M249 1426h.1M259 1422h.1M263 1419h.1M260 1415h.1M297 1424h.1M289 1426h.1M324 1440h.1M319 1431h.1M320 1443h.1M343 1435h.1M335 1431h.1M349 1423h.1M350 1419h.1M357 1425h.1M358 1424h.1M372 1412h.1M391 1441h.1M395 1424h.1M391 1425h.1M435 1436h.1M422 1427h.1M437 1419h.1M440 1416h.1M435 1420h.1M444 1414h.1M460 1427h.1M453 1426h.1M160 1449h.1M158 1446h.1M192 1445h.1M183 1455h.1M211 1438h.1M198 1426h.1M215 1432h.1M209 1424h.1M233 1448h.1M223 1446h.1M243 1434h.1M246 1445h.1M253 1436h.1M274 1437h.1M281 1435h.1M287 1436h.1M277 1443h.1M333 1448h.1M333 1453h.1M325 1438h.1M326 1435h.1M330 1438h.1M354 1450h.1M383 1433h.1M380 1434h.1M402 1451h.1M420 1439h.1M443 1436h.1M446 1436h.1M453 1439h.1M455 1440h.1M162 1453h.1M183 1462h.1M174 1456h.1M181 1453h.1M190 1465h.1M197 1482h.1M192 1464h.1M206 1449h.1M247 1455h.1M238 1456h.1M255 1453h.1M260 1461h.1M251 1458h.1M271 1453h.1M287 1461h.1M287 1461h.1M285 1463h.1M309 1471h.1M341 1471h.1M350 1470h.1M328 1475h.1M360 1472h.1M381 1464h.1M379 1445h.1M386 1447h.1M408 1457h.1M423 1466h.1M424 1457h.1M449 1450h.1M447 1445h.1M447 1452h.1M455 1452h.1M162 1482h.1M171 1489h.1M174 1486h.1M189 1488h.1M190 1487h.1M185 1495h.1M209 1475h.1M208 1474h.1M210 1469h.1M239 1485h.1M238 1479h.1M224 1483h.1M241 1478h.1M256 1471h.1M277 1470h.1M274 1468h.1M313 1490h.1M315 1482h.1M310 1494h.1M333 1469h.1M346 1475h.1M380 1477h.1M373 1479h.1M373 1464h.1M377 1493h.1M382 1483h.1M367 1497h.1M385 1487h.1M402 1488h.1M404 1481h.1M413 1483h.1M446 1475h.1M444 1479h.1M455 1487h.1M443 1489h.1M165 1492h.1M162 1480h.1M161 1482h.1M169 1483h.1M194 1495h.1M222 1494h.1M223 1497h.1M238 1497h.1M244 1493h.1M237 1502h.1M252 1505h.1M275 1507h.1M279 1501h.1M278 1503h.1M287 1490h.1M277 1494h.1M278 1484h.1M312 1486h.1M315 1490h.1M321 1506h.1M350 1487h.1M349 1493h.1M369 1490h.1M374 1510h.1M379 1494h.1M381 1495h.1M399 1508h.1M436 1493h.1M427 1482h.1M444 1505h.1M466 1484h.1M471 1487h.1M466 1490h.1M160 1516h.1M174 1522h.1M204 1516h.1M199 1512h.1M230 1514h.1M234 1524h.1M230 1523h.1M221 1508h.1M228 1519h.1M229 1514h.1M268 1529h.1M286 1507h.1M269 1516h.1M292 1518h.1M288 1522h.1M301 1520h.1M298 1514h.1M295 1512h.1M305 1500h.1M338 1506h.1M332 1500h.1M359 1511h.1M347 1524h.1M369 1524h.1M378 1524h.1M397 1507h.1M407 1507h.1M404 1507h.1M401 1504h.1M412 1510h.1M410 1514h.1M409 1513h.1M433 1510h.1M433 1512h.1M426 1510h.1M463 1519h.1M472 1507h.1M322 1408h.1M319 1395h.1M325 1398h.1" fill="none" stroke="#d81510" stroke-width="3" stroke-linecap="round"/>
</g>
<rect x="433.2" y="1515.5" width="29" height="3" fill="#eee"/>
<text x="447.7" y="1512.5" font-size="10" font-weight="bold" fill="#ddd" text-anchor="middle">10μm</text>
<rect x="152.5" y="1530.2" width="314.7" height="252.3" fill="#000300"/>
<g clip-path="url(#c10)" filter="url(#mb)">
<path d="M149 1542l-10 9M194 1536l-13 7M234 1538l-8 13M248 1534l14 10M284 1532l17 12M290 1534l14 11M346 1540l-8 18M359 1538l21 1M386 1534l-15 9M406 1535l0 6M446 1533l11 17M158 1557l17 10M179 1562l-12 14M198 1566l-15 8M222 1562l-11 3M257 1568l-12 12M370 1567l-1 11M378 1556l-6 14M393 1560l-15 16M428 1569l-4 18M450 1564l12 8M167 1572l4 4M187 1585l-2 7M221 1583l-3 18M232 1589l8 17M251 1577l9 6M272 1584l16 4M310 1577l-11 16M325 1590l0 7M346 1582l11 5M454 1579l-10 8M221 1592l-10 19M229 1594l-7 13M267 1607l-1 11M297 1607l-0 8M316 1595l0 18M328 1587l-10 0M357 1600l11 3M357 1594l-20 8M386 1587l-11 4M424 1592l3 10M436 1594l15 10M189 1606l-4 11M262 1624l-2 13M273 1625l7 5M350 1601l-18 0M388 1623l-0 13M425 1621l1 22M437 1620l-3 6M164 1632l18 12M177 1632l-11 14M223 1637l9 3M246 1641l-8 5M300 1626l-9 18M307 1628l-10 3M347 1643l13 14M353 1623l-17 7M414 1642l9 7M426 1634l20 1M164 1639l13 8M201 1660l0 21M238 1647l-8 11M277 1642l-20 6M314 1650l-22 3M328 1657l-7 1M347 1641l-8 6M462 1660l-0 21M168 1669l-3 8M190 1670l2 11M229 1680l11 13M234 1671l9 10M260 1665l-20 5M313 1676l0 8M330 1678l-9 4M346 1661l-9 13M356 1661l-10 2M413 1666l-9 3M429 1662l-8 1M176 1684l2 11M203 1685l-12 16M229 1699l2 11M252 1684l19 3M280 1674l10 1M289 1680l4 14M322 1695l7 14M338 1700l13 18M359 1684l6 11M379 1691l8 20M160 1716l6 13M227 1704l-16 15M283 1699l8 3M281 1698l-8 14M319 1704l-13 14M369 1705l-8 6M401 1708l11 4M424 1700l4 5M150 1715l-21 3M179 1724l1 11M210 1716l9 14M259 1719l-6 12M272 1711l18 10M312 1734l8 9M329 1725l-10 1M335 1730l-11 4M363 1730l-15 7M400 1713l7 6M420 1721l-11 13M447 1714l-1 12M163 1752l-1 9M175 1748l9 6M188 1749l-10 3M211 1732l14 3M231 1746l-0 10M276 1732l-14 5M313 1746l0 15M342 1738l-2 13M374 1737l-1 7M370 1754l-8 13M391 1747l-13 7M443 1753l-3 11M452 1753l6 9M165 1749l11 15M174 1748l7 4M182 1768l-7 7M226 1762l5 21M255 1757l2 8M278 1757l-7 20M317 1768l-3 7M363 1757l-8 10M435 1766l3 19M459 1748l-8 5M147 1779l-8 0M214 1785l-15 6M228 1778l3 5M296 1778l16 4M296 1770l-9 8M347 1785l-6 4M380 1782l18 1M403 1770l-8 13M414 1777l15 11" fill="none" stroke="#18a018" stroke-width="1.2" stroke-linecap="round" opacity="0.35"/>
<path d="M301 1635h.1M297 1721h.1M432 1609h.1M158 1692h.1M429 1572h.1M176 1683h.1M202 1690h.1M262 1738h.1M446 1614h.1M345 1782h.1M416 1674h.1M394 1753h.1M455 1781h.1M422 1760h.1M379 1767h.1M196 1718h.1M456 1559h.1M279 1757h.1M451 1621h.1M276 1688h.1M427 1705h.1M372 1712h.1M294 1723h.1M321 1744h.1M261 1708h.1M416 1755h.1M428 1696h.1M383 1691h.1M438 1727h.1M427 1536h.1M177 1739h.1M384 1707h.1M186 1575h.1M200 1659h.1M190 1695h.1M435 1640h.1M226 1555h.1M155 1692h.1M304 1626h.1M420 1741h.1M319 1618h.1M193 1753h.1M376 1731h.1M366 1637h.1M294 1714h.1M214 1700h.1M163 1692h.1M220 1647h.1M228 1681h.1M340 1740h.1M155 1659h.1M318 1630h.1M350 1579h.1M215 1688h.1M259 1697h.1M290 1563h.1M325 1580h.1M155 1655h.1M192 1687h.1M307 1706h.1M351 1721h.1M158 1677h.1M453 1636h.1M336 1783h.1M381 1643h.1M175 1706h.1M443 1544h.1M398 1672h.1M340 1610h.1M230 1622h.1M281 1692h.1M416 1711h.1M187 1661h.1M392 1651h.1M243 1662h.1M379 1581h.1M363 1773h.1M381 1720h.1M193 1554h.1M458 1540h.1M218 1595h.1M242 1749h.1M403 1643h.1M389 1602h.1M236 1592h.1M189 1591h.1M466 1677h.1M332 1675h.1M448 1737h.1M323 1559h.1M291 1751h.1M348 1747h.1M269 1769h.1M265 1585h.1M291 1679h.1M224 1553h.1M423 1742h.1M170 1781h.1M321 1682h.1M247 1719h.1M233 1587h.1M266 1603h.1M294 1557h.1M396 1728h.1M451 1699h.1M208 1589h.1M175 1595h.1M238 1682h.1M233 1728h.1M327 1540h.1M389 1746h.1M225 1672h.1M442 1681h.1M295 1678h.1M226 1733h.1M269 1709h.1M204 1548h.1M374 1778h.1M366 1663h.1M181 1713h.1M373 1753h.1M336 1609h.1M311 1693h.1M176 1771h.1M255 1737h.1M201 1682h.1M167 1743h.1M447 1669h.1M321 1698h.1M312 1680h.1M447 1573h.1M164 1620h.1M388 1623h.1M186 1646h.1M251 1629h.1M292 1659h.1M363 1737h.1M452 1714h.1M365 1782h.1M244 1589h.1M176 1717h.1M406 1753h.1M333 1713h.1M255 1742h.1M274 1724h.1M214 1564h.1M239 1610h.1M225 1607h.1M456 1747h.1M205 1778h.1M318 1782h.1M424 1735h.1M392 1769h.1M266 1751h.1M194 1778h.1M388 1673h.1M422 1673h.1M206 1595h.1M194 1624h.1M160 1715h.1M250 1608h.1M404 1599h.1M357 1556h.1M307 1677h.1M392 1611h.1M226 1636h.1M424 1672h.1M457 1682h.1M261 1701h.1M245 1552h.1M279 1571h.1M189 1591h.1M346 1642h.1M254 1604h.1M448 1776h.1M250 1665h.1M462 1612h.1M271 1636h.1M233 1674h.1M330 1621h.1" fill="none" stroke="#20b020" stroke-width="1.8" stroke-linecap="round" opacity="0.7"/>
<path d="M148 1543l1 -5l5 -3l4 0l0 3l-5 3zM175 1536l-2 0l-2 -5l0 -3l2 1l4 5zM194 1536l2 -4l5 -3l2 2l0 3l-5 3zM213 1538l1 -4l5 -2l4 1l-2 5l-4 1zM235 1536l-2 -3l3 -5l4 1l1 3l-3 3zM248 1534l-4 0l-4 -3l-2 -4l4 1l5 3zM284 1532l-3 0l-2 -2l0 -2l2 0l3 1zM290 1535l-4 0l-4 -3l-1 -4l4 0l5 2zM322 1542l-2 1l-2 -2l1 -3l2 1l3 0zM320 1546l-4 0l-2 -4l3 -2l3 0l3 3zM346 1538l-1 -2l1 -4l3 -1l3 3l-3 3zM359 1538l-2 2l-3 -1l-2 -1l2 -2l3 0zM387 1534l2 -4l3 -2l3 1l1 4l-4 1zM406 1536l-2 -4l-1 -4l2 -1l2 1l0 3zM436 1532l-3 -1l-4 -2l0 -3l3 0l5 3zM446 1533l-4 1l0 -4l0 -3l4 -1l0 4zM459 1540l-2 -1l-1 -2l0 -3l3 2l2 2zM157 1557l-3 2l-5 -3l1 -4l2 -3l4 4zM180 1561l-1 -2l3 -2l2 -1l0 3l-2 2zM198 1566l1 -3l5 -3l4 0l-3 5l-4 3zM206 1548l5 -3l6 -1l4 3l-3 3l-7 2zM222 1562l1 -3l3 0l3 1l-2 3l-2 1zM259 1567l-1 -4l3 -4l4 1l2 5l-5 3zM267 1562l-2 0l-2 -3l2 -2l2 1l1 3zM289 1562l-3 -2l-2 -4l1 -3l3 2l2 4zM313 1555l-3 -1l-1 -5l5 -2l3 3l0 4zM329 1566l-1 -2l3 -4l3 0l0 3l-2 3zM336 1570l-2 -6l-1 -7l5 -3l3 4l-1 8zM370 1566l-2 -4l1 -5l2 -1l3 1l-1 5zM378 1555l-1 -4l1 -4l4 0l3 3l-2 4zM394 1560l-2 -5l6 -3l3 -1l1 4l-4 4zM410 1567l-1 -3l0 -5l3 -1l2 1l-1 6zM428 1570l-1 -4l1 -5l3 -1l0 2l0 4zM450 1564l-3 1l-2 -2l-4 -5l4 1l4 3zM167 1571l-3 3l-2 -3l1 -4l3 1l2 1zM163 1572l3 -4l7 1l3 3l-3 2l-5 0zM187 1585l-1 -4l1 -6l3 -1l1 3l-1 6zM221 1581l-2 -2l1 -6l4 -5l1 6l-1 6zM231 1588l-3 -2l-2 -5l0 -4l4 2l3 6zM251 1577l-5 2l-5 -5l0 -4l4 -3l4 5zM272 1584l-2 2l-3 -1l-4 -3l4 -2l4 2zM280 1586l0 -4l2 -5l5 -1l0 6l-3 4zM311 1576l-1 -4l3 -3l2 0l2 2l-3 4zM325 1591l-3 -4l0 -7l2 -3l2 3l1 7zM345 1582l-2 1l-4 -1l-1 -3l3 -3l4 3zM362 1577l-3 -3l-1 -5l3 -1l1 2l2 4zM384 1583l-2 -5l0 -5l3 -3l3 3l0 6zM407 1586l-2 0l-3 -2l0 -2l2 0l3 1zM430 1573l-4 1l-3 -4l0 -4l5 -1l2 5zM435 1580l-2 -1l0 -4l1 -4l2 3l0 4zM454 1579l-1 -4l4 -1l3 1l1 4l-4 1zM166 1603l-2 -3l1 -3l4 -2l2 4l-1 3zM165 1599l2 -5l4 -5l6 0l-2 5l-5 4zM199 1601l-3 -1l-5 -3l0 -2l2 0l4 3zM221 1592l0 -4l1 -4l4 -2l1 4l-3 3zM229 1593l0 -3l2 -3l1 -1l2 2l-3 4zM268 1591l-2 1l-5 -2l-2 -3l3 -1l6 2zM267 1605l-4 -2l2 -6l3 -2l3 2l-1 5zM297 1607l-2 -2l-1 -4l3 -1l3 2l0 4zM316 1595l-1 -4l-1 -5l2 -2l1 3l1 4zM328 1587l1 -3l5 0l4 3l-4 4l-5 0zM357 1600l-3 3l-5 -2l-1 -4l3 -1l4 0zM357 1594l3 -5l6 -2l4 1l-3 4l-5 4zM388 1587l-1 -2l6 -2l3 1l-2 2l-5 2zM403 1603l2 -3l4 0l2 3l-2 4l-4 -1zM424 1591l-2 0l-2 -5l2 -3l3 2l1 5zM434 1592l-3 0l-5 -3l-1 -2l3 0l5 3zM462 1595l-4 0l-6 -2l0 -3l3 -1l6 2zM158 1612l-2 0l-4 -4l0 -2l3 0l3 4zM188 1606l-1 -3l2 -4l3 -3l0 4l-1 5zM194 1614l1 -3l2 -5l3 1l0 3l-3 5zM228 1620l-4 2l-3 -3l-3 -3l4 -1l4 2zM241 1614l0 -2l7 -3l4 1l-4 2l-5 3zM263 1623l-3 -2l0 -5l4 -4l2 5l0 5zM274 1626l-6 -1l-4 -3l1 -3l3 -2l4 4zM299 1610l-1 1l-4 -2l-2 -2l3 -1l4 2zM309 1623l-2 -4l3 -3l5 -3l0 5l-2 4zM341 1623l-4 0l-3 -1l1 -3l2 -1l3 2zM345 1615l-2 2l-6 -2l-1 -3l4 -1l4 1zM352 1601l1 -2l5 -1l1 3l-1 4l-5 -1zM388 1622l-2 -1l0 -2l2 -2l2 1l-1 3zM405 1623l4 -4l3 -2l2 2l1 4l-5 2zM425 1619l-3 0l0 -3l2 -2l3 2l1 3zM438 1619l-2 -2l2 -4l2 0l2 2l-2 4zM469 1609l-3 2l-3 -3l-1 -3l3 0l3 1zM163 1632l-4 0l-5 -2l-1 -5l5 1l3 2zM177 1632l0 -4l4 -6l4 0l2 4l-5 6zM194 1641l-3 0l-6 -2l0 -2l2 -2l5 3zM223 1638l-4 0l-3 -1l-2 -3l2 -1l6 1zM230 1631l0 -4l3 -4l6 1l-2 5l-3 4zM247 1641l1 -4l4 -2l2 1l2 3l-6 3zM267 1640l-1 -3l3 -3l2 -1l1 3l-3 3zM300 1626l-1 -4l3 -4l4 -4l-1 6l-1 5zM309 1628l0 -4l4 0l2 2l0 4l-4 0zM327 1641l-4 0l-4 -2l-1 -2l3 -1l4 2zM346 1643l-2 0l-3 -3l1 -2l2 -1l2 4zM352 1623l1 -2l2 -1l3 1l-1 2l-2 2zM390 1629l-1 -2l1 -3l2 -5l2 4l-1 5zM415 1642l-3 0l-5 -3l-3 -4l5 1l4 3zM426 1634l-3 2l-4 0l-2 -3l2 -2l5 0zM450 1623l-2 1l-4 -2l-2 -4l4 0l4 1zM453 1626l2 -3l3 -2l4 1l-2 3l-3 2zM163 1638l-2 3l-5 -4l-3 -4l6 1l5 1zM172 1643l-2 -2l1 -3l1 -5l2 4l0 5zM201 1658l-3 -2l0 -6l2 -5l3 4l1 7zM225 1654l-2 -4l2 -4l3 -1l4 3l-3 5zM237 1647l-2 -4l3 -4l4 1l1 4l-1 4zM257 1643l-1 1l-2 0l-1 -3l2 -1l2 1zM277 1642l1 -4l4 0l6 1l-4 4l-4 0zM289 1648l2 -3l8 -1l3 1l-2 3l-8 1zM315 1650l3 -3l6 -2l3 3l-3 3l-6 1zM330 1657l2 -3l4 -1l2 3l-2 2l-4 2zM347 1641l0 -4l4 -3l6 0l-4 5l-3 4zM357 1655l2 -4l7 -2l4 1l-4 3l-5 3zM385 1656l-2 -2l2 -4l2 -2l1 3l-1 5zM402 1653l-1 -5l4 -6l5 -2l-1 5l-2 6zM424 1644l-1 1l-3 1l-1 -3l1 -1l3 0zM433 1648l2 -2l5 -1l2 3l-2 3l-6 0zM462 1658l-2 -2l-1 -7l3 -1l2 2l0 6zM169 1666l-2 -2l2 -5l4 -3l2 5l-3 5zM190 1669l-3 0l1 -4l1 -3l2 3l1 3zM208 1666l-5 1l-5 -3l1 -4l3 -2l4 4zM229 1680l-5 -2l-3 -2l1 -4l4 0l4 3zM234 1672l-4 -1l-4 -3l2 -4l4 0l2 3zM260 1674l-3 3l-5 -2l-1 -3l2 -2l5 0zM260 1665l3 -4l5 0l4 1l-2 4l-6 1zM296 1662l-2 3l-6 -1l0 -4l2 -2l4 2zM313 1677l-3 -4l0 -4l3 -1l3 1l0 4zM329 1678l4 -4l5 -3l3 2l-1 4l-5 2zM347 1660l0 -3l3 -4l3 -2l-1 4l-2 3zM357 1661l1 -4l6 -2l5 3l-3 5l-7 1zM382 1676l-3 -1l-2 -4l2 -3l3 2l2 4zM394 1671l-2 -4l3 -5l3 1l3 3l-3 4zM414 1666l0 -3l2 -1l2 2l0 3l-2 2zM430 1662l2 -4l7 -1l2 3l-2 3l-6 1zM455 1669l-1 -1l0 -3l3 -2l0 3l-1 3zM161 1692l-1 -1l-1 -2l2 -3l3 2l0 3zM175 1683l-2 0l-2 -5l3 -4l3 4l1 4zM203 1685l1 -4l2 -4l4 -2l0 4l-3 5zM214 1676l-2 3l-3 0l1 -4l1 -3l3 1zM229 1699l-4 -2l-2 -7l4 -2l4 1l0 6zM253 1684l-5 0l-6 0l-2 -3l3 -1l7 1zM280 1674l-3 4l-6 -1l-1 -3l2 -3l5 0zM289 1679l-3 0l-2 -4l2 -4l5 1l-1 5zM323 1695l-4 -2l-1 -3l0 -3l3 0l3 5zM336 1698l-3 2l-3 -6l1 -3l3 1l5 3zM343 1683l-1 -3l5 -2l3 -1l-1 3l-4 3zM359 1684l-2 0l-2 -3l0 -3l3 1l1 3zM379 1689l-4 -1l-1 -4l1 -4l4 1l3 6zM393 1701l-1 -5l-1 -5l3 -2l3 2l-1 6zM421 1694l0 -3l3 -3l3 3l-1 3l-2 2zM445 1693l-4 0l-2 -5l2 -2l3 -1l2 5zM455 1685l-3 -1l-3 -4l3 -2l4 0l1 4zM160 1716l-3 -2l-1 -3l1 -2l2 1l2 3zM189 1710l-2 -2l2 -6l3 -4l1 5l-2 5zM209 1698l-4 0l-4 -2l1 -3l2 -2l4 4zM221 1692l-3 3l-5 1l-2 -4l4 -3l4 -1zM227 1705l0 -4l3 -2l3 0l0 3l-3 2zM256 1708l-6 0l-5 -2l-1 -5l5 0l6 1zM282 1699l-2 1l-6 -1l-2 -4l4 -1l5 2zM281 1698l0 -2l1 -5l3 1l1 2l-2 4zM312 1709l3 -3l7 0l4 2l-4 3l-7 0zM320 1703l0 -4l5 -5l4 -1l-1 5l-4 5zM351 1706l1 -3l2 0l2 3l-1 3l-3 0zM369 1705l1 -4l5 -3l3 0l-1 2l-4 3zM376 1704l-2 -4l3 -5l5 -1l1 6l-2 5zM401 1708l-3 2l-2 -2l-1 -3l2 -2l3 2zM424 1700l-3 0l-2 -4l0 -3l2 -1l4 5zM451 1698l-3 2l-5 1l-3 -4l4 -4l6 1zM460 1703l-3 -1l-1 -4l3 -1l3 0l1 4zM149 1715l5 -4l7 0l3 2l-4 2l-4 1zM179 1723l-3 0l1 -4l2 -2l3 1l-1 3zM195 1734l-2 -1l-1 -4l0 -5l3 3l2 5zM210 1716l-3 -1l-2 -3l1 -2l2 -1l2 4zM242 1714l2 -3l4 -1l3 3l-3 2l-4 1zM261 1716l-3 -2l4 -6l3 -1l3 3l-4 5zM272 1711l-2 1l-3 -2l-2 -2l3 0l3 1zM290 1724l-2 -3l3 -3l3 -2l1 4l-1 3zM311 1733l-2 1l-2 -4l-1 -2l3 -1l2 4zM331 1725l0 -4l4 0l2 3l-1 4l-4 -1zM336 1730l1 -3l5 -1l6 0l-5 4l-4 1zM363 1730l1 -3l3 -2l2 2l1 3l-5 1zM374 1720l1 -5l3 -4l5 1l1 5l-5 2zM399 1713l-4 0l-5 -4l2 -3l4 -2l4 5zM421 1721l-1 -3l1 -2l3 0l1 3l-2 3zM448 1712l-2 0l0 -4l2 -1l2 2l0 3zM445 1720l0 -3l4 -4l2 2l-1 2l-2 3zM163 1752l-2 -3l0 -6l3 -2l1 4l0 4zM175 1748l-2 2l-3 -2l0 -4l3 0l3 1zM188 1749l2 -3l7 -2l4 2l-2 4l-7 0zM211 1732l-2 1l-2 -1l-1 -1l1 -2l3 1zM231 1745l-3 -1l1 -4l3 -1l3 1l1 4zM248 1737l-3 0l-1 -3l1 -3l3 1l2 3zM264 1734l0 -3l3 -2l2 3l1 3l-4 1zM277 1731l3 -2l4 -2l5 1l-3 2l-5 2zM313 1747l-2 -4l-1 -4l3 -4l3 4l1 5zM319 1736l1 -4l4 -4l3 3l0 3l-3 3zM342 1738l-2 -3l1 -6l3 -1l1 2l-1 5zM374 1737l-2 -4l0 -4l3 -2l1 3l0 3zM370 1753l0 -4l2 -4l3 0l2 3l-3 5zM391 1748l0 -5l4 -1l5 0l-1 6l-4 1zM416 1748l-3 -1l-4 -3l0 -2l3 0l4 4zM443 1754l0 -5l1 -4l2 -2l1 3l-1 3zM452 1753l-5 -2l-2 -4l1 -2l3 -1l3 4zM165 1750l-3 -1l-1 -2l1 -2l2 -1l3 2zM174 1748l-3 1l-5 -3l-1 -2l4 0l4 1zM183 1767l0 -4l6 -5l5 -2l-2 6l-5 5zM226 1763l-3 -4l-1 -6l0 -6l3 5l2 6zM233 1752l-2 2l-3 -3l-1 -3l3 -1l3 3zM255 1756l-3 -1l-1 -5l3 -2l3 1l2 5zM279 1766l-4 0l-4 -4l3 -3l3 0l2 3zM278 1757l-1 -3l2 -4l2 -1l1 3l0 4zM325 1750l-5 1l-6 -2l0 -4l3 -2l5 2zM318 1768l-2 -3l2 -4l3 0l1 2l-2 4zM351 1756l-2 -4l-1 -5l2 -3l2 4l1 4zM365 1756l-2 -4l4 -5l3 2l1 3l-3 3zM374 1763l-1 -2l3 -5l2 -2l2 2l-4 5zM393 1761l-3 -2l-1 -5l2 -1l3 1l1 4zM431 1753l-2 2l-4 -5l-2 -5l5 1l4 4zM436 1766l-4 -4l-1 -4l3 -3l3 2l1 5zM459 1747l0 -3l4 -3l3 2l0 4l-4 3zM148 1779l1 -3l5 0l2 3l-2 2l-3 0zM178 1783l-2 0l-2 -3l-1 -4l4 3l2 2zM203 1777l-4 0l-2 -2l1 -3l2 0l2 2zM214 1785l3 -4l4 -1l4 1l-2 3l-4 2zM228 1777l-2 -1l-2 -2l1 -1l3 -1l1 3zM268 1786l-3 0l-4 -3l1 -3l3 -1l3 4zM272 1775l2 -4l5 -2l4 1l-3 3l-3 2zM296 1778l-4 3l-6 -2l-2 -4l3 -2l7 1zM298 1769l-2 -2l4 -2l2 0l0 2l-3 2zM340 1768l-3 0l-2 -1l0 -3l3 -1l2 2zM347 1785l2 -5l6 -4l5 0l-1 5l-7 5zM379 1782l-1 3l-6 0l-2 -4l4 -2l3 1zM394 1778l-3 -3l-1 -4l2 -3l2 2l2 5zM404 1768l-2 -2l3 -4l3 -1l1 3l-2 4zM413 1777l-2 1l-2 -2l0 -2l2 -1l3 2zM428 1779l-2 -1l1 -5l2 -2l2 2l-1 4zM458 1780l3 -4l5 -4l5 -1l-3 5l-6 4z" fill="#26d626"/>
<path d="M314.5 1648.2l7-7 7 7-7 7z" fill="#26d626"/>
</g>
<rect x="433.2" y="1774.0" width="29" height="3" fill="#eee"/>
<text x="447.7" y="1771.0" font-size="10" font-weight="bold" fill="#ddd" text-anchor="middle">10μm</text>
<rect x="152.5" y="1789.7" width="314.7" height="252.3" fill="#000004"/>
<g clip-path="url(#c20)" filter="url(#mb)">
<path d="M154 1797l-1.0 0.9M173 1791l1.2 2.3M200 1792l-0.4 0.2M219 1795l-1.8 0.9M238 1790l-0.8 1.2M243 1790l1.8 1.2M280 1788l1.6 1.1M286 1791l0.0 0.0M321 1800l0.3 0.3M318 1801l0.1 0.2M355 1797l1.3 0.1M393 1790l-1.7 1.0M405 1789l0.0 0.5M444 1789l0.3 0.4M152 1813l1.6 0.9M183 1818l-1.2 1.4M202 1824l-0.5 0.3M216 1807l-2.0 0.2M226 1821l-0.4 0.1M262 1823l-0.6 0.6M266 1820l0.1 0.2M287 1817l0.0 0.1M314 1811l-0.1 1.3M337 1821l-0.1 0.6M381 1809l-0.9 2.1M398 1814l-1.0 1.1M411 1821l-0.2 1.0M430 1822l-0.1 0.5M447 1822l0.7 0.5M165 1829l0.8 0.8M171 1831l-0.8 0.0M222 1835l-0.2 1.2M229 1842l0.8 1.6M269 1843l0.7 0.2M283 1841l-0.8 1.1M314 1830l-0.1 0.1M324 1843l0.0 0.1M342 1840l1.1 0.5M361 1830l0.1 1.0M385 1835l-0.0 0.9M427 1830l1.2 1.3M434 1835l0.3 2.5M457 1836l-0.6 0.5M168 1858l-0.4 1.3M223 1846l-0.2 0.4M231 1848l-0.7 1.4M268 1858l-0.1 1.2M316 1847l0.0 0.6M331 1847l-0.2 0.0M365 1850l-2.1 0.9M391 1845l-0.6 0.2M407 1863l-1.0 0.0M429 1849l0.2 0.1M455 1851l2.4 1.3M155 1868l1.6 1.7M190 1860l-0.8 2.5M197 1870l-0.5 0.6M222 1877l2.8 1.2M246 1872l-0.6 0.3M263 1878l-0.1 1.0M267 1880l1.3 1.0M295 1868l2.3 0.8M312 1877l-1.3 2.2M337 1880l1.2 0.9M341 1873l0.3 0.1M388 1878l-0.0 1.3M411 1880l-0.2 0.1M425 1876l0.0 0.4M438 1877l-0.1 0.1M465 1866l2.4 1.3M181 1886l-0.4 0.5M189 1898l2.1 0.9M217 1895l1.0 0.4M234 1887l-1.9 1.5M252 1897l-1.5 1.0M269 1896l-0.0 0.0M303 1880l-1.1 2.2M314 1886l-1.5 0.5M343 1899l1.2 1.3M356 1881l-2.7 1.2M411 1899l0.8 0.6M421 1893l2.8 0.2M447 1880l0.4 0.2M458 1883l-0.2 0.1M160 1896l0.7 0.4M172 1900l-0.0 0.2M201 1911l0.1 2.8M227 1908l-0.3 0.7M239 1903l-0.3 0.4M255 1902l0.0 0.0M281 1900l-1.2 0.4M297 1906l-2.0 0.4M336 1915l-2.1 0.3M350 1898l-0.1 0.1M385 1913l-0.2 0.6M407 1905l-1.2 2.0M421 1903l0.6 0.0M437 1907l-1.4 0.0M462 1910l-0.0 2.0M170 1922l-0.1 0.2M189 1926l0.1 0.4M202 1922l1.6 1.0M223 1933l1.9 2.3M254 1932l0.2 0.0M268 1923l-2.7 0.6M292 1921l1.0 0.3M313 1930l0.0 0.0M337 1934l-2.0 0.8M351 1914l-1.3 1.9M361 1919l-1.0 0.2M380 1931l0.3 0.9M397 1925l-1.3 2.3M416 1925l-0.0 0.0M436 1920l-0.4 0.0M455 1926l-0.1 0.3M161 1947l0.3 2.9M175 1940l0.2 1.4M207 1939l-1.4 1.9M211 1935l0.8 0.2M228 1952l0.4 2.1M246 1942l1.3 0.2M273 1933l1.6 0.1M333 1953l1.4 2.0M347 1940l-2.1 1.7M377 1943l0.8 2.2M394 1954l-0.0 0.1M425 1952l-0.5 0.2M442 1946l1.1 2.3M453 1940l0.5 1.3M158 1970l1.0 2.3M190 1966l-0.0 0.0M204 1954l0.5 0.4M216 1951l1.4 0.1M248 1963l1.9 1.0M277 1957l2.8 0.9M283 1955l-0.7 1.1M354 1965l-1.8 0.2M379 1959l-0.5 0.7M421 1956l1.4 1.8M460 1959l0.2 1.0M159 1973l-2.7 0.3M179 1979l0.2 1.2M194 1989l0.3 1.2M207 1971l0.6 0.9M263 1970l-0.7 1.4M268 1969l1.5 0.8M293 1979l-0.6 1.0M308 1989l1.6 1.7M335 1984l-2.2 0.2M341 1988l-1.8 0.6M367 1988l-2.6 1.2M380 1974l-1.8 1.6M395 1968l2.1 2.0M448 1969l-0.1 1.3M449 1976l-0.7 0.5M163 2007l-0.0 0.0M172 2005l2.4 1.5M208 1991l0.7 0.1M247 1994l0.6 1.3M267 1992l-2.5 0.9M283 1989l-0.1 0.0M313 2000l0.0 2.2M325 1992l-1.8 1.3M343 1991l-0.4 2.3M374 1990l-0.1 1.2M374 2007l-1.2 1.9M412 2004l0.7 0.6M447 2005l1.4 2.1M163 2006l0.7 0.9M170 2005l0.3 0.2M188 2021l-1.0 1.0M224 2014l0.1 0.5M231 2010l0.5 0.3M254 2011l0.3 1.5M275 2021l0.7 1.0M281 2011l-0.5 1.3M316 2006l2.3 1.0M320 2022l-0.7 1.6M351 2009l0.0 0.8M368 2011l-0.1 0.2M392 2015l0.4 3.0M429 2010l0.0 0.0M434 2017l0.4 3.0M153 2039l-0.8 0.0M176 2040l1.0 1.5M226 2034l0.1 0.1M265 2042l1.2 1.1M279 2031l-2.4 1.1M300 2026l-1.4 1.2M354 2040l-0.8 0.6M375 2041l2.4 0.2M393 2031l0.1 0.9M406 2024l-0.0 0.0M429 2034l-0.4 2.5M464 2035l-0.6 0.4M320 1908l2.9 0.0" fill="none" stroke="#1c50f8" stroke-width="5" stroke-linecap="round"/>
</g>
<rect x="433.2" y="2033.5" width="29" height="3" fill="#eee"/>
<text x="447.7" y="2030.5" font-size="10" font-weight="bold" fill="#ddd" text-anchor="middle">10μm</text>
<rect x="152.5" y="2048.8" width="314.7" height="252.8" fill="#070200"/>
<g clip-path="url(#c30)" filter="url(#mb)">
<path d="M149 2061l-10 9M194 2055l-13 7M234 2056l-8 13M248 2053l14 10M284 2050l17 12M290 2053l14 11M346 2058l-8 18M359 2057l21 1M386 2053l-15 9M406 2053l0 6M446 2052l11 17M158 2076l17 10M179 2081l-12 14M198 2085l-15 8M222 2081l-11 3M257 2087l-12 12M370 2085l-1 11M378 2074l-6 14M393 2079l-15 16M428 2088l-4 18M450 2083l12 8M167 2090l4 4M187 2104l-2 7M221 2101l-3 18M232 2107l8 17M251 2096l9 6M272 2103l16 4M310 2096l-11 16M325 2108l0 7M346 2101l11 5M454 2098l-10 8M221 2110l-10 19M229 2112l-7 13M267 2125l-1 11M297 2126l-0 8M316 2114l0 18M328 2106l-10 0M357 2118l11 3M357 2112l-20 8M386 2106l-11 4M424 2111l3 10M436 2112l15 10M189 2124l-4 11M262 2142l-2 13M273 2144l7 5M350 2120l-18 0M388 2141l-0 13M425 2140l1 22M437 2138l-3 6M164 2151l18 12M177 2151l-11 14M223 2156l9 3M246 2160l-8 5M300 2145l-9 18M307 2147l-10 3M347 2162l13 14M353 2142l-17 7M414 2161l9 7M426 2153l20 1M164 2158l13 8M201 2179l0 21M238 2165l-8 11M277 2161l-20 6M314 2169l-22 3M328 2176l-7 1M347 2159l-8 6M462 2178l-0 21M168 2187l-3 8M190 2189l2 11M229 2199l11 13M234 2190l9 10M260 2184l-20 5M313 2195l0 8M330 2197l-9 4M346 2180l-9 13M356 2179l-10 2M413 2185l-9 3M429 2180l-8 1M176 2203l2 11M203 2203l-12 16M229 2217l2 11M252 2202l19 3M280 2193l10 1M289 2199l4 14M322 2213l7 14M338 2219l13 18M359 2203l6 11M379 2210l8 20M160 2234l6 13M227 2223l-16 15M283 2218l8 3M281 2217l-8 14M319 2222l-13 14M369 2223l-8 6M401 2226l11 4M424 2218l4 5M150 2233l-21 3M179 2243l1 11M210 2235l9 14M259 2237l-6 12M272 2230l18 10M312 2252l8 9M329 2243l-10 1M335 2249l-11 4M363 2249l-15 7M400 2232l7 6M420 2240l-11 13M447 2232l-1 12M163 2270l-1 9M175 2267l9 6M188 2268l-10 3M211 2250l14 3M231 2264l-0 10M276 2250l-14 5M313 2265l0 15M342 2257l-2 13M374 2256l-1 7M370 2272l-8 13M391 2266l-13 7M443 2272l-3 11M452 2271l6 9M165 2268l11 15M174 2267l7 4M182 2286l-7 7M226 2281l5 21M255 2275l2 8M278 2276l-7 20M317 2287l-3 7M363 2276l-8 10M435 2284l3 19M459 2266l-8 5M147 2298l-8 0M214 2304l-15 6M228 2297l3 5M296 2297l16 4M296 2288l-9 8M347 2304l-6 4M380 2300l18 1M403 2289l-8 13M414 2296l15 11" fill="none" stroke="#b02010" stroke-width="1.2" stroke-linecap="round" opacity="0.7"/>
<path d="M148 2062l0 -5l7 -4l3 0l1 4l-6 3zM175 2055l-3 0l-2 -6l1 -3l2 1l4 6zM193 2055l2 -5l6 -3l3 2l-1 3l-5 4zM213 2057l0 -5l6 -3l5 3l-2 4l-5 3zM234 2056l-2 -4l3 -5l5 0l2 4l-3 4zM249 2053l-5 0l-5 -4l-2 -4l5 1l6 3zM284 2050l-2 1l-3 -2l0 -3l2 0l3 1zM291 2054l-5 0l-5 -4l-1 -4l5 0l6 3zM323 2061l-3 1l-2 -2l0 -3l3 0l3 1zM320 2066l-4 -1l-2 -4l3 -3l3 0l4 4zM346 2058l-2 -4l2 -4l3 -1l3 3l-3 4zM359 2057l-2 2l-3 -1l-3 -2l3 -2l3 1zM387 2053l2 -5l3 -2l3 2l1 4l-4 1zM406 2055l-3 -3l0 -6l2 -1l2 1l0 4zM436 2051l-3 -1l-4 -2l0 -3l3 -1l6 4zM447 2052l-5 1l-1 -4l1 -4l4 -1l1 5zM459 2059l-2 -1l-2 -2l1 -4l3 2l2 3zM158 2076l-4 3l-6 -4l1 -4l3 -4l4 4zM180 2080l-1 -2l3 -3l3 -1l0 3l-2 3zM198 2085l0 -3l6 -4l5 0l-3 5l-5 4zM205 2067l6 -4l6 0l5 2l-4 4l-7 2zM221 2081l2 -3l3 -1l4 2l-3 3l-2 1zM258 2086l-1 -4l4 -5l5 1l2 5l-6 4zM267 2081l-3 0l-1 -4l2 -2l2 1l1 3zM289 2082l-4 -3l-2 -4l2 -4l3 2l2 4zM313 2074l-3 -2l-1 -5l5 -2l3 3l1 5zM329 2085l-2 -3l4 -4l3 0l0 3l-2 4zM336 2089l-3 -6l0 -8l5 -4l3 5l0 9zM370 2086l-2 -5l0 -5l3 -2l3 2l-1 5zM378 2075l-2 -5l1 -5l5 0l3 4l-2 4zM393 2079l-1 -5l6 -4l4 -1l1 4l-5 5zM410 2086l-2 -3l1 -6l3 -1l3 1l-1 7zM428 2090l-1 -5l1 -6l3 -1l1 2l-1 5zM450 2083l-2 1l-4 -3l-4 -5l5 1l5 3zM167 2090l-3 3l-3 -4l1 -3l4 0l3 1zM161 2090l5 -4l8 1l2 3l-3 3l-6 0zM186 2105l-1 -5l2 -8l3 0l1 4l-1 6zM221 2100l-3 -2l2 -7l4 -5l1 6l0 7zM232 2107l-4 -1l-3 -6l1 -5l4 2l3 6zM252 2096l-6 2l-6 -5l0 -5l5 -3l4 5zM273 2103l-3 2l-3 -1l-5 -4l5 -2l4 2zM279 2106l0 -5l3 -6l6 -1l0 6l-4 5zM310 2095l0 -4l3 -4l3 0l2 3l-4 4zM325 2110l-3 -3l0 -9l2 -3l3 3l0 8zM346 2101l-3 1l-5 -1l0 -4l2 -3l5 3zM362 2096l-3 -3l-2 -6l3 -1l3 2l2 5zM384 2103l-2 -6l0 -5l3 -4l4 3l-1 7zM407 2105l-2 0l-4 -2l1 -3l2 0l3 2zM430 2092l-4 1l-4 -4l1 -5l5 -1l3 6zM435 2099l-2 -1l-1 -5l1 -5l3 4l0 5zM454 2098l-1 -4l3 -2l5 1l0 5l-4 1zM166 2123l-3 -4l2 -4l4 -2l2 4l-1 4zM164 2119l2 -6l6 -6l6 0l-2 6l-6 4zM199 2120l-3 -1l-6 -3l0 -3l3 0l4 4zM220 2111l0 -4l2 -5l5 -3l0 5l-3 4zM229 2112l0 -3l2 -4l2 -1l1 2l-3 5zM269 2110l-3 1l-6 -2l-1 -3l3 -2l6 2zM267 2124l-5 -2l3 -7l3 -2l4 3l-2 5zM297 2126l-3 -2l0 -5l3 -1l4 2l0 5zM316 2115l-2 -5l0 -6l2 -2l2 3l0 5zM328 2106l1 -4l5 1l5 3l-4 4l-6 1zM358 2119l-4 4l-5 -3l-2 -4l4 -2l5 0zM356 2113l3 -5l7 -3l5 1l-4 5l-6 4zM387 2106l0 -3l6 -1l4 0l-3 3l-5 2zM402 2122l3 -4l4 0l2 4l-1 4l-5 -1zM424 2110l-2 0l-2 -6l1 -4l4 3l2 6zM435 2111l-4 0l-5 -3l-2 -3l4 0l6 3zM462 2114l-4 1l-6 -4l0 -3l3 -1l6 3zM158 2131l-2 0l-5 -5l1 -2l3 0l3 4zM188 2125l-1 -3l2 -5l3 -3l0 4l0 6zM194 2134l0 -4l3 -6l4 1l-1 4l-3 6zM228 2139l-4 2l-4 -3l-3 -4l5 -1l5 2zM241 2133l0 -2l7 -4l5 1l-4 3l-6 4zM263 2142l-4 -2l1 -6l4 -5l3 6l0 6zM275 2145l-6 -1l-5 -3l1 -3l3 -2l4 3zM300 2128l-2 2l-4 -2l-2 -2l3 -1l4 1zM308 2142l-2 -4l4 -4l5 -3l0 6l-2 4zM341 2142l-4 0l-3 -1l1 -4l2 -1l3 3zM346 2134l-3 2l-7 -2l-1 -4l4 -1l6 1zM351 2120l2 -3l5 0l2 3l-2 4l-5 -1zM388 2141l-2 -2l0 -2l2 -2l2 1l0 4zM404 2143l4 -5l4 -3l3 2l1 5l-6 2zM425 2138l-3 0l0 -4l2 -2l3 2l2 4zM437 2138l-1 -2l2 -6l3 1l2 2l-3 5zM470 2128l-4 3l-4 -4l-1 -4l4 0l4 2zM164 2151l-5 0l-6 -2l-1 -6l6 1l3 3zM176 2152l0 -6l5 -7l5 0l1 6l-5 7zM194 2159l-3 1l-7 -2l0 -3l2 -2l6 4zM224 2157l-5 0l-4 -1l-2 -3l3 -2l6 1zM230 2150l-1 -4l4 -5l7 1l-2 6l-4 4zM246 2160l1 -4l5 -2l3 0l1 3l-6 5zM267 2159l-2 -3l4 -3l3 -2l1 4l-4 3zM299 2146l0 -5l3 -5l5 -5l-2 7l-1 6zM308 2146l1 -4l4 0l3 2l0 5l-5 0zM328 2160l-4 0l-6 -2l-1 -3l3 -1l5 3zM346 2162l-2 0l-3 -3l1 -2l2 -1l3 3zM352 2142l1 -3l2 -1l4 1l-2 3l-2 2zM390 2149l-2 -3l2 -4l2 -5l2 4l-1 6zM415 2161l-3 0l-6 -4l-3 -5l6 2l4 4zM426 2153l-2 2l-5 0l-2 -3l1 -3l6 1zM451 2142l-3 1l-5 -2l-2 -5l5 0l5 2zM452 2145l3 -4l3 -1l5 0l-2 4l-4 2zM163 2157l-2 3l-6 -4l-3 -5l7 1l5 2zM172 2162l-3 -2l1 -4l2 -6l2 5l1 6zM201 2178l-3 -3l0 -7l2 -5l4 4l0 8zM224 2173l-2 -4l3 -4l3 -2l4 3l-2 6zM237 2166l-3 -4l3 -5l5 1l2 4l-2 5zM257 2161l-1 2l-3 0l0 -3l2 -1l3 0zM276 2161l2 -5l5 0l6 1l-4 5l-5 0zM287 2167l3 -3l10 -2l3 2l-2 3l-9 1zM314 2169l4 -3l7 -3l3 3l-3 4l-7 1zM329 2176l2 -4l5 -1l2 3l-1 3l-5 3zM346 2160l0 -5l5 -3l7 0l-5 6l-3 4zM356 2174l2 -4l9 -3l5 2l-6 3l-6 3zM384 2175l-2 -2l2 -5l4 -2l1 3l-2 6zM401 2173l0 -6l4 -7l5 -2l-1 6l-2 7zM425 2162l-2 2l-3 1l-2 -3l2 -2l3 0zM432 2166l3 -2l5 -1l3 3l-3 4l-6 0zM462 2178l-3 -3l0 -8l3 0l3 1l0 7zM169 2186l-2 -3l1 -6l5 -4l2 6l-3 6zM190 2188l-3 0l0 -5l2 -3l2 3l1 4zM208 2185l-5 2l-5 -4l0 -4l4 -4l4 5zM229 2199l-5 -2l-4 -2l2 -5l4 1l4 3zM235 2191l-5 -1l-4 -3l1 -5l5 0l2 4zM260 2193l-3 3l-5 -2l-1 -3l2 -3l5 0zM258 2184l4 -5l6 0l5 2l-2 4l-7 1zM296 2181l-2 3l-6 -2l0 -3l2 -3l5 2zM313 2197l-4 -5l1 -4l3 -1l4 0l0 5zM328 2198l4 -6l6 -3l4 3l-2 4l-5 3zM346 2180l1 -4l3 -5l3 -2l-1 4l-2 4zM356 2179l2 -3l6 -3l6 4l-4 5l-8 2zM382 2195l-3 0l-2 -6l2 -3l3 2l2 5zM394 2190l-2 -4l2 -6l5 2l3 3l-4 4zM414 2184l0 -3l3 0l2 2l-1 3l-2 2zM428 2180l3 -4l9 -1l2 4l-3 3l-6 1zM454 2188l-1 -2l1 -2l3 -3l1 4l-1 3zM161 2211l-2 -1l0 -3l2 -3l4 2l-1 4zM175 2202l-2 0l-2 -6l3 -5l3 6l1 4zM202 2204l1 -4l3 -4l5 -3l0 4l-4 6zM214 2195l-2 3l-3 1l1 -5l1 -4l3 1zM229 2219l-4 -3l-2 -8l4 -3l4 2l1 7zM254 2202l-5 1l-7 -1l-3 -2l4 -2l7 1zM281 2193l-3 4l-7 -1l-1 -4l2 -3l5 1zM289 2198l-3 0l-3 -5l3 -5l5 2l0 6zM323 2215l-4 -3l-2 -4l1 -3l4 0l2 5zM337 2218l-4 1l-3 -6l0 -4l5 1l5 4zM343 2202l-1 -3l5 -3l4 -1l-1 4l-5 3zM359 2203l-2 -1l-2 -3l0 -3l3 2l2 3zM379 2208l-4 -1l-1 -5l1 -4l5 2l3 5zM393 2221l-1 -6l-1 -6l3 -2l3 2l-1 7zM420 2213l1 -4l3 -3l4 4l-1 3l-3 2zM445 2213l-4 -1l-2 -6l2 -2l3 0l3 5zM455 2204l-3 -1l-3 -4l3 -3l4 0l1 5zM160 2235l-3 -2l-2 -4l2 -2l2 1l2 4zM189 2229l-2 -3l2 -6l4 -5l1 6l-3 6zM210 2218l-4 -1l-5 -3l0 -2l3 -3l5 5zM222 2211l-4 3l-5 1l-2 -5l4 -2l4 -2zM227 2224l-1 -5l4 -2l3 0l1 4l-4 2zM257 2227l-6 1l-6 -3l-2 -6l6 0l6 1zM283 2218l-3 1l-6 -1l-3 -4l5 -1l6 2zM281 2217l-1 -3l2 -5l3 1l2 2l-3 5zM312 2227l2 -3l9 0l4 3l-4 3l-9 0zM319 2222l1 -4l5 -5l5 -2l-1 5l-5 6zM351 2225l1 -3l2 -1l2 3l-1 4l-3 1zM368 2224l2 -4l5 -4l3 0l0 3l-5 3zM376 2223l-2 -4l3 -6l6 -1l0 6l-2 6zM401 2227l-3 2l-3 -3l-1 -2l2 -3l4 2zM424 2219l-3 0l-3 -4l0 -4l3 -1l4 5zM452 2217l-3 2l-6 1l-4 -5l5 -4l7 1zM461 2222l-5 -1l0 -4l3 -2l4 0l1 5zM148 2234l5 -4l8 -1l4 2l-4 3l-6 1zM179 2242l-4 0l1 -4l2 -3l5 1l-1 4zM195 2253l-2 -1l-1 -5l0 -6l3 5l2 5zM210 2235l-3 -1l-3 -3l2 -3l2 -1l2 5zM241 2233l3 -3l5 -2l3 3l-3 3l-5 1zM260 2235l-3 -2l5 -7l4 -1l3 3l-5 6zM272 2230l-2 1l-4 -2l-1 -3l3 0l3 2zM290 2243l-3 -4l4 -3l4 -2l0 5l-1 4zM311 2251l-2 2l-3 -5l0 -2l3 -1l3 4zM330 2243l0 -4l6 0l2 3l-2 5l-4 -1zM336 2249l0 -3l6 -2l7 0l-6 4l-5 2zM362 2249l1 -3l4 -3l2 3l1 3l-5 1zM373 2240l1 -6l4 -5l5 1l1 6l-5 3zM400 2232l-5 0l-6 -4l2 -4l5 -2l5 5zM420 2240l0 -3l1 -3l4 0l1 4l-2 3zM448 2231l-3 -1l1 -4l2 0l2 1l0 4zM444 2239l0 -4l5 -4l3 2l-1 3l-3 3zM162 2272l-2 -5l1 -6l3 -3l2 5l-1 5zM175 2266l-2 3l-3 -2l-1 -4l4 -1l3 1zM187 2268l2 -4l9 -2l5 2l-4 4l-7 1zM211 2250l-2 2l-2 -1l-1 -2l1 -2l3 1zM231 2264l-4 -2l1 -3l4 -2l4 2l0 4zM248 2256l-3 0l-2 -4l2 -3l3 1l2 3zM263 2253l1 -4l4 -2l2 3l0 4l-4 1zM276 2250l4 -3l5 -2l4 1l-3 3l-5 2zM313 2266l-3 -4l0 -4l3 -5l4 5l1 5zM319 2255l1 -5l4 -4l3 3l1 3l-4 4zM342 2257l-2 -3l1 -7l3 -1l2 3l-2 5zM374 2257l-2 -5l0 -5l3 -1l2 2l-1 4zM370 2273l0 -5l2 -5l3 0l2 3l-3 6zM390 2266l0 -5l5 -1l6 0l-1 6l-5 3zM416 2267l-3 -1l-4 -3l0 -3l3 0l5 4zM443 2273l-1 -5l1 -5l3 -2l2 3l-2 4zM452 2273l-5 -2l-2 -5l1 -3l4 -1l3 5zM166 2269l-4 -1l-1 -3l0 -2l3 -1l3 3zM175 2267l-4 1l-5 -3l-1 -3l3 0l6 2zM182 2286l0 -4l7 -6l6 -2l-2 6l-6 7zM227 2283l-4 -5l-1 -7l0 -7l3 6l3 8zM234 2271l-3 2l-4 -4l-1 -3l4 -1l4 3zM256 2276l-4 -2l-2 -6l3 -3l4 2l3 6zM279 2285l-4 0l-5 -4l4 -3l3 0l3 3zM278 2277l-1 -4l2 -5l2 0l1 2l0 5zM326 2269l-6 1l-6 -2l-1 -5l4 -1l6 2zM317 2287l-1 -3l2 -5l3 0l1 3l-1 4zM351 2275l-2 -4l-2 -6l3 -3l3 4l0 5zM364 2275l-2 -4l4 -6l5 2l1 4l-4 3zM374 2282l-1 -2l3 -6l2 -2l2 2l-4 6zM393 2280l-3 -2l-2 -6l3 -1l3 1l1 5zM432 2272l-3 3l-4 -6l-3 -6l6 1l5 5zM436 2286l-5 -5l0 -5l3 -3l3 3l2 5zM459 2266l0 -3l4 -4l4 2l0 5l-5 4zM147 2298l2 -4l5 0l2 4l-2 2l-4 0zM178 2302l-2 0l-3 -3l-1 -5l5 3l2 3zM203 2297l-4 -1l-3 -3l2 -2l2 -1l2 2zM212 2304l4 -5l5 -1l5 1l-3 4l-5 2zM228 2296l-3 -1l-1 -2l1 -2l3 -1l1 4zM269 2305l-4 0l-4 -4l0 -3l4 -1l3 4zM271 2294l3 -5l5 -2l5 1l-3 4l-5 2zM297 2297l-5 3l-7 -3l-1 -3l3 -2l7 0zM297 2288l-1 -3l4 -2l3 0l-1 3l-3 2zM341 2287l-4 0l-3 -1l0 -4l4 -1l2 2zM346 2305l2 -6l7 -5l6 0l-1 5l-8 6zM379 2300l-1 4l-6 0l-3 -4l5 -3l4 1zM394 2298l-3 -4l-1 -5l2 -3l3 2l1 6zM404 2287l-3 -2l4 -5l3 0l2 2l-3 6zM413 2296l-2 1l-3 -2l0 -3l3 -1l4 2zM428 2298l-3 -1l2 -6l2 -2l3 3l-2 4zM457 2299l4 -4l5 -5l6 -1l-4 5l-6 6zM335 2167l-10 7l-8 0l-10 -7l10 -7l8 0z" fill="#c83818"/>
<path d="M151 2060l0 -3l3 -2l2 0l1 2l-3 2zM174 2053l-1 0l-1 -3l0 -2l1 1l2 3zM196 2053l1 -2l3 -2l2 1l0 2l-3 2zM215 2056l0 -3l3 -1l3 1l-1 2l-2 2zM236 2053l-1 -2l1 -3l3 0l1 2l-2 3zM246 2051l-2 0l-3 -2l-1 -2l3 1l3 1zM283 2049l-2 1l-1 -2l0 -1l1 0l2 1zM289 2052l-3 0l-2 -2l-1 -2l2 0l3 1zM322 2060l-2 1l-1 -1l0 -2l2 0l2 0zM319 2063l-2 0l-1 -3l1 -1l2 0l2 2zM347 2055l-1 -1l1 -3l2 0l1 2l-1 1zM357 2057l-1 1l-1 -1l-2 -1l1 -1l2 1zM389 2051l2 -2l1 -1l2 0l0 3l-2 0zM406 2052l-2 -2l0 -3l1 0l1 0l0 2zM434 2049l-2 0l-2 -1l0 -2l2 0l3 2zM445 2051l-2 0l0 -2l0 -2l2 -1l1 3zM458 2058l-1 -1l0 -1l0 -2l2 1l1 2zM156 2074l-3 2l-3 -2l1 -2l2 -2l2 2zM181 2079l-1 -1l2 -2l1 0l0 1l-1 2zM199 2084l1 -2l3 -2l3 1l-2 2l-3 2zM210 2067l3 -3l3 0l3 2l-2 2l-4 0zM223 2081l1 -2l2 -1l2 1l-1 2l-2 1zM260 2084l-1 -2l2 -2l3 0l1 3l-3 2zM267 2080l-2 0l0 -2l1 -1l1 0l0 2zM288 2079l-2 -1l-1 -3l1 -2l2 2l1 2zM314 2072l-2 0l-1 -3l3 -1l2 2l0 2zM330 2083l-1 -1l2 -2l2 0l0 1l-2 2zM336 2085l-1 -3l0 -4l2 -3l2 3l0 5zM371 2082l-2 -3l0 -3l2 0l2 1l-1 2zM379 2072l-1 -3l1 -2l3 0l1 2l-1 2zM395 2077l-1 -3l4 -2l2 -1l0 3l-2 2zM411 2083l-1 -1l0 -3l2 -1l1 1l0 3zM429 2086l-1 -3l1 -3l1 -1l1 2l-1 2zM449 2082l-2 1l-1 -2l-3 -2l3 0l3 2zM166 2089l-1 2l-2 -2l1 -2l2 0l1 1zM166 2090l2 -2l4 1l2 1l-2 2l-3 0zM187 2101l0 -2l1 -4l1 0l1 2l-1 3zM222 2098l-2 -2l1 -3l2 -3l1 3l-1 4zM230 2104l-2 0l-1 -4l0 -2l3 1l1 3zM248 2094l-3 1l-3 -3l0 -3l3 -1l2 3zM271 2103l-1 1l-2 -1l-3 -2l3 -1l2 1zM281 2103l0 -2l1 -3l3 -1l1 4l-3 2zM312 2093l0 -3l1 -2l2 0l1 2l-2 2zM325 2107l-2 -2l0 -5l1 -2l2 2l0 5zM344 2100l-2 1l-2 -1l0 -2l1 -2l3 2zM361 2093l-1 -1l-1 -3l2 -1l1 1l1 3zM385 2099l-2 -3l0 -3l2 -2l2 2l0 4zM406 2103l-1 1l-2 -2l0 -1l1 0l2 1zM429 2091l-2 0l-2 -2l0 -3l3 0l1 3zM435 2097l-1 0l-1 -3l1 -2l1 1l0 3zM455 2097l0 -2l2 -1l2 0l0 3l-2 0zM167 2120l-2 -2l1 -1l2 -2l1 3l0 2zM167 2116l1 -3l3 -3l4 0l-1 3l-3 2zM197 2119l-1 -1l-3 -2l-1 -1l2 0l2 2zM222 2109l0 -3l1 -2l2 -2l0 3l-1 2zM230 2110l0 -2l1 -2l1 0l1 1l-2 3zM267 2109l-2 1l-3 -2l-1 -1l2 -1l3 1zM267 2121l-2 -1l1 -4l2 -1l2 1l-1 3zM297 2124l-1 -1l-1 -2l2 -1l2 1l0 2zM316 2111l-1 -2l0 -4l1 -1l1 2l0 2zM329 2106l1 -2l2 0l3 2l-2 2l-3 0zM355 2118l-2 2l-3 -2l0 -2l1 0l3 0zM360 2111l2 -3l3 -1l3 1l-2 2l-3 2zM389 2105l-1 -1l4 -1l2 0l-1 2l-3 1zM405 2122l1 -2l2 0l1 2l-1 2l-2 -1zM424 2109l-1 0l-1 -3l0 -2l2 1l1 3zM432 2110l-2 0l-3 -2l0 -2l2 1l3 1zM460 2112l-3 1l-3 -2l0 -2l2 0l3 1zM157 2130l-1 0l-3 -3l1 -1l1 0l2 2zM189 2123l-1 -2l1 -2l2 -2l0 2l0 3zM195 2131l1 -1l1 -3l2 0l0 2l-2 3zM226 2138l-2 1l-2 -1l-2 -2l3 -1l2 1zM243 2132l0 -1l4 -2l2 0l-2 2l-3 2zM263 2140l-2 -1l0 -3l3 -3l1 3l0 3zM271 2142l-3 0l-2 -2l0 -1l2 -1l2 2zM298 2128l-1 0l-2 0l-1 -2l2 0l2 1zM310 2140l-1 -3l2 -2l2 -1l0 3l-1 2zM339 2141l-2 0l-2 -1l1 -2l1 0l2 1zM344 2133l-2 1l-3 -1l-1 -2l2 -1l3 1zM353 2120l1 -1l3 -1l1 2l-1 2l-3 -1zM388 2140l-1 -1l0 -1l1 -2l1 1l0 2zM408 2141l2 -3l2 -1l1 1l1 3l-3 1zM425 2137l-2 0l0 -2l2 -1l1 1l1 2zM438 2137l-1 -1l1 -3l2 0l1 1l-2 3zM468 2127l-2 2l-2 -2l0 -2l2 -1l2 1zM162 2149l-3 0l-3 -1l-1 -3l3 1l2 1zM179 2149l-1 -3l3 -4l3 0l0 3l-2 4zM192 2158l-2 1l-3 -1l0 -2l1 -1l3 2zM221 2156l-2 0l-2 -1l-2 -1l2 -1l3 0zM231 2149l0 -3l2 -2l3 0l-1 4l-2 2zM248 2158l1 -2l3 -1l1 0l1 2l-3 2zM268 2157l-1 -1l2 -2l1 -1l1 2l-2 2zM301 2143l-1 -3l2 -2l3 -3l-1 4l-1 3zM310 2146l1 -2l2 -1l1 2l0 2l-2 0zM325 2159l-2 0l-3 -1l0 -2l1 0l3 1zM345 2160l-1 0l-2 -1l1 -1l1 -1l1 2zM353 2141l1 -1l1 -1l2 1l-1 2l-1 1zM391 2147l-1 -2l0 -2l1 -3l2 2l-1 4zM413 2160l-1 0l-3 -2l-2 -3l3 1l2 2zM424 2153l-1 1l-3 -1l-1 -1l1 -1l3 0zM449 2141l-2 1l-2 -2l-1 -2l2 -1l3 1zM455 2144l1 -2l2 -1l3 0l-2 2l-2 1zM162 2156l-1 2l-4 -2l-1 -3l3 1l3 1zM172 2161l-2 -1l1 -2l1 -4l1 3l0 3zM201 2175l-2 -2l0 -3l2 -3l1 2l0 4zM226 2170l-2 -2l2 -2l2 -1l2 2l-2 3zM238 2165l-1 -3l1 -3l3 1l1 3l-1 2zM256 2161l0 1l-2 0l0 -2l1 0l2 0zM279 2160l0 -2l3 0l3 0l-2 3l-2 0zM291 2166l2 -2l5 -1l1 2l-1 1l-4 1zM317 2168l2 -1l4 -2l1 2l-1 2l-4 0zM332 2175l1 -2l3 0l1 1l-1 2l-3 1zM348 2159l0 -3l2 -2l4 0l-2 4l-2 2zM359 2172l2 -2l4 -1l3 1l-3 2l-3 1zM385 2173l-1 0l1 -3l2 -1l0 2l-1 3zM403 2169l0 -3l3 -4l2 -1l0 3l-2 4zM423 2162l0 1l-2 0l-1 -1l1 -1l2 0zM434 2166l2 -1l3 0l1 1l-1 2l-4 0zM462 2174l-1 -1l-1 -4l2 -1l1 1l0 4zM169 2183l-1 -1l1 -3l3 -2l1 3l-2 3zM189 2186l-1 0l0 -2l1 -2l1 2l1 2zM206 2183l-3 1l-3 -2l0 -2l2 -2l3 3zM227 2196l-3 0l-2 -2l1 -2l2 0l2 2zM233 2189l-3 -1l-2 -2l1 -2l2 0l2 2zM258 2192l-2 2l-3 -1l0 -2l1 -1l2 0zM262 2183l2 -2l4 -1l2 1l-1 3l-4 0zM294 2180l-1 2l-3 -1l0 -2l1 -1l3 1zM313 2193l-2 -2l0 -3l2 0l2 0l0 2zM332 2196l2 -3l3 -2l2 2l-1 2l-3 1zM348 2177l0 -2l2 -3l2 -1l-1 3l-1 2zM358 2179l1 -2l3 -1l3 2l-1 3l-5 0zM381 2193l-2 0l-1 -3l2 -2l1 1l1 3zM395 2188l-1 -2l1 -3l3 0l1 2l-2 2zM415 2184l0 -2l1 0l2 1l-1 2l-1 1zM432 2180l2 -2l4 -1l1 2l-1 2l-4 0zM455 2187l-1 -1l1 -1l1 -2l0 2l0 2zM161 2210l-1 -1l0 -2l1 -1l2 1l0 2zM175 2201l-1 0l-1 -3l1 -2l2 2l1 3zM204 2202l1 -3l1 -2l3 -2l0 3l-3 3zM213 2195l-1 1l-2 1l0 -3l1 -2l2 1zM229 2216l-3 -2l-1 -4l2 -2l3 1l0 4zM251 2202l-3 0l-4 0l-2 -2l2 0l4 0zM278 2193l-2 2l-4 -1l0 -2l1 -1l2 0zM288 2197l-1 -1l-2 -2l2 -2l3 0l-1 4zM322 2212l-2 -1l-1 -2l0 -2l2 0l1 3zM335 2215l-2 1l-1 -3l0 -2l2 0l3 3zM344 2201l0 -2l2 -1l2 -1l0 2l-3 2zM358 2202l-1 0l-1 -2l0 -2l2 1l1 2zM378 2206l-2 -1l-1 -2l1 -3l2 1l2 3zM394 2217l-1 -3l-1 -3l2 -1l2 1l-1 4zM422 2212l0 -2l2 -1l2 1l0 2l-2 1zM444 2210l-2 -1l-1 -3l1 -1l1 0l2 3zM454 2202l-1 0l-2 -3l2 -1l2 0l1 3zM159 2233l-1 -1l-1 -2l0 -2l1 1l2 2zM189 2227l-1 -1l1 -4l2 -2l1 3l-1 3zM207 2216l-2 -1l-3 -1l1 -1l1 -2l3 2zM220 2211l-3 1l-3 1l-1 -3l3 -1l2 -1zM228 2222l0 -2l2 -1l2 0l0 2l-2 1zM253 2225l-3 0l-3 -1l-1 -3l3 0l4 0zM281 2217l-2 1l-3 -1l-1 -2l2 -1l3 1zM282 2216l-1 -2l1 -2l2 0l1 1l-2 3zM315 2227l1 -1l5 0l2 1l-2 2l-5 0zM322 2219l0 -2l3 -3l2 0l0 2l-3 3zM352 2225l0 -2l2 0l1 1l-1 2l-1 1zM371 2222l1 -3l3 -2l1 0l0 2l-2 1zM377 2221l-1 -2l2 -3l3 -1l0 3l-1 3zM400 2226l-2 1l-1 -1l-1 -2l1 -1l2 1zM423 2217l-2 0l-1 -2l0 -2l2 0l2 3zM450 2216l-2 2l-3 0l-2 -2l2 -2l4 0zM460 2220l-2 0l0 -2l1 -1l2 0l1 2zM153 2233l2 -2l5 -1l2 2l-3 1l-2 0zM179 2240l-2 0l1 -2l1 -1l2 0l-1 2zM195 2251l-2 0l0 -3l0 -3l2 2l1 3zM209 2233l-2 0l-1 -2l1 -1l1 -1l1 2zM243 2232l2 -1l2 -1l2 2l-2 1l-2 1zM261 2233l-1 -1l2 -4l2 -1l2 2l-3 3zM271 2229l-2 1l-1 -1l-1 -2l2 0l1 1zM291 2241l-1 -2l1 -2l3 -1l0 3l-1 2zM310 2250l-1 1l-1 -2l-1 -2l2 0l1 2zM332 2243l0 -2l3 0l1 2l-1 2l-2 0zM338 2248l0 -2l3 0l4 0l-3 2l-3 1zM364 2248l0 -1l2 -2l2 1l0 2l-3 1zM376 2237l0 -3l2 -3l3 1l1 3l-3 1zM398 2230l-3 0l-3 -2l1 -2l3 -1l2 3zM421 2239l0 -2l0 -1l3 0l0 2l-1 1zM448 2230l-2 0l1 -3l1 0l1 1l0 2zM446 2237l0 -2l3 -2l1 1l0 2l-2 1zM163 2269l-1 -2l0 -4l2 -1l1 2l-1 3zM174 2266l-1 1l-2 -1l0 -2l2 -1l2 1zM190 2267l1 -2l5 -1l2 1l-1 3l-4 0zM210 2250l-1 1l-1 -1l-1 -1l1 -1l1 1zM231 2262l-2 -1l1 -1l2 -1l2 0l0 3zM248 2255l-2 0l-1 -2l1 -2l2 1l1 1zM265 2252l0 -2l2 -1l1 2l0 2l-2 1zM279 2249l2 -1l3 -1l2 0l-2 2l-2 0zM313 2263l-1 -2l-1 -2l2 -3l2 3l1 3zM321 2253l1 -2l2 -2l2 1l0 2l-2 2zM342 2255l-1 -2l1 -4l2 -1l0 2l0 3zM374 2253l-1 -2l0 -3l2 -1l1 2l-1 2zM371 2270l0 -2l2 -3l1 0l1 2l-1 3zM392 2265l0 -3l3 0l3 0l0 3l-3 1zM414 2265l-1 0l-3 -2l0 -2l2 1l3 2zM444 2270l0 -3l0 -3l1 -1l1 2l-1 2zM450 2269l-3 -1l-1 -2l0 -2l3 -1l1 3zM165 2267l-2 0l-1 -2l0 -1l2 -1l1 2zM172 2266l-1 1l-3 -2l-1 -2l2 0l3 1zM185 2284l0 -3l3 -3l4 -1l-2 4l-3 3zM225 2279l-1 -3l-1 -4l0 -3l2 3l1 4zM232 2270l-1 1l-2 -2l-1 -2l2 0l2 2zM255 2273l-2 0l-1 -3l2 -2l2 1l1 3zM278 2283l-3 0l-2 -2l2 -2l1 0l2 2zM279 2274l-1 -2l1 -3l2 0l0 1l0 3zM322 2267l-3 1l-4 -1l0 -3l2 -1l3 1zM318 2285l-1 -2l2 -2l1 0l1 1l-1 2zM351 2272l-1 -2l-1 -3l2 -2l1 2l0 3zM366 2273l-1 -3l2 -3l2 1l1 3l-2 1zM375 2280l-1 -1l2 -3l1 -1l1 1l-2 3zM392 2278l-1 -1l-1 -3l2 -1l1 1l1 2zM430 2271l-1 1l-2 -3l-2 -3l3 1l3 2zM435 2282l-2 -2l0 -3l1 -2l2 2l1 2zM460 2265l0 -2l2 -1l2 1l1 2l-3 2zM150 2298l0 -2l3 0l1 2l-1 1l-2 0zM177 2301l-1 0l-1 -2l-1 -2l3 1l1 2zM201 2295l-2 -1l-1 -1l1 -1l1 -1l1 1zM216 2303l2 -3l3 -1l2 1l-1 2l-2 1zM227 2295l-1 -1l-1 -1l1 -1l1 -1l1 2zM267 2303l-2 0l-2 -2l0 -1l2 -1l2 2zM274 2292l2 -2l2 -1l3 0l-2 3l-2 1zM294 2296l-3 2l-4 -2l-1 -2l2 -1l4 1zM298 2287l0 -1l2 -2l1 0l0 2l-1 1zM339 2285l-2 1l-1 -1l0 -2l1 -1l2 2zM349 2302l2 -3l4 -3l2 0l0 3l-4 3zM378 2300l-1 2l-3 0l-2 -2l3 -1l2 0zM393 2295l-1 -2l-1 -3l1 -2l2 2l0 3zM405 2285l-2 -1l2 -3l2 0l1 2l-1 2zM412 2295l-1 1l-1 -1l0 -2l1 0l2 1zM428 2296l-1 0l1 -3l1 -2l1 2l-1 2zM461 2297l1 -2l3 -3l3 0l-2 3l-3 2zM329 2167l-6 3l-4 0l-6 -3l6 -4l4 0z" fill="#eca030"/>
<path d="M297.5 2153.8h.1M256.5 2213.8h.1" fill="none" stroke="#30c030" stroke-width="6" stroke-linecap="round"/>
</g>
<rect x="433.2" y="2293.1" width="29" height="3" fill="#eee"/>
<text x="447.7" y="2290.1" font-size="10" font-weight="bold" fill="#ddd" text-anchor="middle">10μm</text>
<rect x="475" y="1270.2" width="314.2" height="253.8" fill="#060000"/>
<g clip-path="url(#c01)" filter="url(#mb)">
<path d="M479 1274l-17 2M529 1274l1 8M547 1287l0 7M567 1289l-16 12M584 1275l14 17M610 1286l-2 11M686 1279l-12 14M714 1279l15 2M709 1275l-2 7M735 1275l-18 9M771 1290l13 9M797 1289l21 4M472 1308l-10 7M533 1308l-4 15M572 1294l-17 6M594 1310l-20 2M658 1312l10 16M673 1295l-18 10M704 1310l5 19M717 1292l6 5M745 1307l14 3M753 1311l-19 3M776 1306l-12 3M482 1324l-4 7M495 1319l7 13M507 1329l-18 9M579 1321l3 12M604 1326l21 2M632 1330l14 3M640 1321l-8 18M673 1334l-1 22M714 1323l7 20M754 1326l-20 8M495 1336l-15 11M588 1345l-18 4M628 1342l7 13M674 1351l-13 2M719 1348l-6 2M751 1351l-1 20M485 1364l-18 11M527 1372l8 17M552 1353l-16 2M571 1354l-16 8M610 1372l6 12M631 1372l10 15M649 1370l-6 2M660 1361l-19 2M678 1362l-14 6M724 1370l-11 9M752 1356l-4 10M493 1367l10 4M540 1371l-15 13M560 1382l-4 5M612 1380l4 7M636 1380l16 8M663 1381l-0 11M693 1388l-4 7M711 1380l3 20M738 1372l-17 8M790 1379l2 6M489 1407l-15 11M517 1411l14 16M513 1405l-17 5M549 1392l1 10M557 1408l-16 12M615 1400l6 9M636 1400l14 10M631 1405l-16 2M698 1396l-9 6M723 1404l-16 8M746 1400l-7 10M764 1409l2 15M772 1403l10 9M497 1423l-21 7M572 1416l9 14M568 1415l-8 12M609 1420l15 9M637 1425l8 0M650 1407l6 1M659 1431l4 21M680 1427l-0 7M706 1425l3 16M727 1416l8 10M497 1448l9 12M515 1429l9 1M537 1445l14 8M562 1434l18 13M590 1439l-16 2M613 1435l-2 19M664 1441l-7 5M687 1429l12 13M732 1435l6 1M765 1440l-6 10M783 1433l-14 5M486 1465l6 3M521 1459l-13 13M597 1447l-12 14M612 1465l3 14M642 1455l-13 4M670 1460l16 5M673 1472l4 22M711 1461l2 16M714 1450l-1 19M739 1465l17 4M781 1468l-16 9M498 1484l14 0M492 1487l-5 12M517 1465l18 7M553 1486l3 11M563 1485l-8 1M587 1470l10 15M591 1468l-2 6M632 1481l14 11M656 1482l-7 16M682 1482l1 6M705 1474l-10 6M707 1470l-4 12M726 1485l-4 7M752 1468l-11 12M503 1487l12 7M515 1501l-2 8M619 1503l6 6M628 1506l-8 10M667 1500l-8 6M670 1506l-1 6M752 1501l7 10M761 1494l-10 2M482 1520l16 13M570 1508l-1 7M617 1509l-10 9M626 1516l-13 13M694 1511l13 0M694 1507l-13 15M730 1526l10 11M730 1516l-13 1M762 1509l-10 16" fill="none" stroke="#d81810" stroke-width="1" stroke-linecap="round" opacity="0.25"/>
<path d="M676 1429h.1M551 1474h.1M581 1362h.1M701 1359h.1M773 1386h.1M592 1275h.1M713 1324h.1M618 1441h.1M622 1511h.1M599 1361h.1M507 1277h.1M512 1415h.1M511 1396h.1M522 1471h.1M486 1467h.1M769 1510h.1M621 1475h.1M529 1513h.1M782 1452h.1M779 1428h.1M780 1368h.1M500 1323h.1M747 1483h.1M596 1451h.1M758 1359h.1M559 1519h.1M591 1504h.1M555 1514h.1M487 1360h.1M613 1284h.1M730 1508h.1M604 1446h.1M558 1348h.1M685 1400h.1M507 1521h.1M786 1425h.1M765 1355h.1M610 1431h.1M498 1282h.1M636 1320h.1M711 1430h.1M603 1393h.1M692 1303h.1M718 1481h.1M539 1303h.1M712 1437h.1M725 1523h.1M700 1504h.1M540 1372h.1M754 1451h.1M677 1370h.1M548 1489h.1M490 1497h.1M738 1509h.1M486 1407h.1M703 1373h.1M774 1440h.1M738 1281h.1M774 1315h.1M573 1367h.1M714 1294h.1M613 1487h.1M658 1352h.1M652 1310h.1M501 1384h.1M552 1411h.1M511 1314h.1M695 1470h.1M518 1480h.1M714 1446h.1M649 1299h.1M567 1277h.1M746 1486h.1M497 1489h.1M548 1514h.1M693 1361h.1M632 1431h.1M630 1412h.1M729 1288h.1M588 1508h.1M689 1385h.1M475 1471h.1M584 1396h.1M548 1317h.1M779 1342h.1M732 1295h.1M728 1456h.1M675 1387h.1M560 1295h.1M659 1502h.1M629 1443h.1M558 1406h.1M735 1505h.1M625 1447h.1M720 1429h.1M559 1275h.1M718 1301h.1M696 1361h.1M683 1353h.1M500 1419h.1M679 1453h.1M592 1493h.1M628 1280h.1M578 1312h.1M510 1323h.1M658 1282h.1M542 1312h.1M569 1349h.1M751 1476h.1M773 1285h.1M552 1378h.1M644 1312h.1M535 1500h.1M631 1312h.1M568 1345h.1M678 1332h.1M503 1314h.1M549 1472h.1M561 1513h.1M542 1307h.1M662 1309h.1M737 1464h.1M650 1296h.1M697 1460h.1M564 1357h.1M655 1461h.1M757 1303h.1M582 1296h.1M479 1293h.1M550 1309h.1M676 1479h.1M690 1282h.1M607 1340h.1M765 1308h.1M527 1372h.1M485 1514h.1M527 1435h.1M728 1386h.1M671 1452h.1M750 1387h.1M521 1364h.1M639 1339h.1M684 1395h.1M766 1347h.1M559 1361h.1M659 1397h.1M636 1373h.1M522 1312h.1M510 1448h.1M725 1455h.1" fill="none" stroke="#d81810" stroke-width="1.8" stroke-linecap="round" opacity="0.6"/>
<path d="M484 1274h.1M493 1272h.1M506 1274h.1M503 1273h.1M527 1262h.1M529 1266h.1M526 1268h.1M547 1284h.1M544 1272h.1M580 1262h.1M585 1268h.1M613 1274h.1M609 1276h.1M608 1268h.1M612 1270h.1M650 1277h.1M647 1272h.1M645 1276h.1M675 1290h.1M687 1277h.1M687 1281h.1M683 1282h.1M709 1283h.1M714 1281h.1M717 1283h.1M712 1274h.1M745 1275h.1M748 1275h.1M735 1276h.1M764 1284h.1M763 1281h.1M792 1290h.1M786 1288h.1M474 1302h.1M476 1303h.1M481 1308h.1M510 1303h.1M524 1316h.1M527 1312h.1M536 1307h.1M535 1306h.1M574 1290h.1M573 1296h.1M577 1290h.1M596 1309h.1M647 1291h.1M648 1294h.1M654 1293h.1M702 1307h.1M702 1309h.1M709 1286h.1M714 1290h.1M708 1289h.1M742 1302h.1M743 1307h.1M758 1309h.1M756 1307h.1M788 1302h.1M791 1303h.1M487 1319h.1M484 1320h.1M481 1324h.1M495 1309h.1M488 1312h.1M497 1316h.1M510 1323h.1M512 1330h.1M524 1325h.1M554 1307h.1M557 1313h.1M557 1324h.1M554 1323h.1M580 1315h.1M577 1314h.1M596 1325h.1M603 1324h.1M587 1323h.1M630 1330h.1M629 1329h.1M643 1318h.1M640 1320h.1M642 1318h.1M674 1323h.1M671 1321h.1M675 1327h.1M672 1320h.1M707 1325h.1M713 1326h.1M712 1326h.1M713 1315h.1M716 1323h.1M742 1309h.1M742 1312h.1M757 1321h.1M757 1326h.1M757 1321h.1M775 1316h.1M769 1320h.1M774 1323h.1M494 1339h.1M495 1334h.1M494 1331h.1M515 1337h.1M511 1336h.1M517 1333h.1M529 1330h.1M532 1331h.1M563 1336h.1M594 1346h.1M590 1349h.1M589 1346h.1M614 1338h.1M604 1338h.1M611 1340h.1M643 1345h.1M643 1351h.1M641 1347h.1M660 1346h.1M655 1343h.1M658 1351h.1M679 1352h.1M686 1351h.1M679 1347h.1M708 1339h.1M710 1336h.1M752 1350h.1M751 1344h.1M748 1356h.1M754 1349h.1M795 1333h.1M487 1366h.1M489 1362h.1M488 1364h.1M493 1347h.1M497 1350h.1M494 1338h.1M522 1367h.1M519 1365h.1M557 1348h.1M573 1351h.1M576 1352h.1M577 1352h.1M607 1372h.1M609 1365h.1M625 1367h.1M658 1367h.1M657 1367h.1M653 1368h.1M674 1360h.1M671 1359h.1M686 1354h.1M688 1356h.1M687 1352h.1M690 1353h.1M728 1365h.1M733 1364h.1M726 1373h.1M743 1347h.1M741 1349h.1M742 1352h.1M755 1359h.1M753 1349h.1M792 1365h.1M784 1365h.1M790 1361h.1M487 1367h.1M485 1362h.1M502 1378h.1M539 1376h.1M538 1371h.1M570 1373h.1M566 1380h.1M567 1377h.1M595 1374h.1M589 1364h.1M596 1368h.1M611 1379h.1M632 1383h.1M636 1381h.1M634 1380h.1M636 1384h.1M638 1381h.1M664 1376h.1M662 1370h.1M665 1366h.1M684 1388h.1M707 1379h.1M733 1372h.1M737 1371h.1M741 1374h.1M767 1376h.1M763 1376h.1M769 1379h.1M791 1376h.1M786 1379h.1M788 1379h.1M492 1405h.1M490 1403h.1M484 1405h.1M515 1409h.1M517 1414h.1M515 1407h.1M547 1385h.1M548 1388h.1M574 1394h.1M573 1391h.1M610 1390h.1M611 1393h.1M633 1401h.1M636 1408h.1M667 1399h.1M665 1398h.1M663 1397h.1M684 1388h.1M673 1383h.1M671 1382h.1M706 1391h.1M704 1394h.1M752 1392h.1M751 1391h.1M755 1386h.1M764 1398h.1M778 1406h.1M475 1405h.1M478 1410h.1M473 1413h.1M536 1431h.1M571 1410h.1M573 1412h.1M565 1408h.1M574 1404h.1M609 1418h.1M630 1424h.1M634 1429h.1M648 1406h.1M645 1405h.1M658 1429h.1M681 1421h.1M679 1420h.1M677 1429h.1M724 1409h.1M726 1413h.1M723 1419h.1M737 1403h.1M748 1407h.1M739 1406h.1M767 1430h.1M764 1423h.1M774 1423h.1M772 1419h.1M491 1443h.1M495 1437h.1M494 1441h.1M515 1429h.1M502 1424h.1M523 1447h.1M540 1447h.1M538 1446h.1M536 1447h.1M557 1429h.1M588 1425h.1M593 1443h.1M600 1440h.1M616 1430h.1M614 1427h.1M645 1437h.1M640 1430h.1M644 1436h.1M668 1437h.1M670 1437h.1M689 1432h.1M679 1423h.1M684 1424h.1M699 1442h.1M702 1436h.1M716 1429h.1M732 1433h.1M733 1434h.1M756 1432h.1M746 1435h.1M756 1425h.1M764 1438h.1M763 1434h.1M763 1443h.1M786 1433h.1M481 1459h.1M488 1468h.1M500 1445h.1M520 1457h.1M528 1459h.1M582 1460h.1M583 1462h.1M597 1449h.1M594 1445h.1M599 1452h.1M611 1465h.1M607 1461h.1M640 1456h.1M671 1460h.1M672 1463h.1M667 1460h.1M708 1461h.1M718 1450h.1M716 1439h.1M710 1452h.1M740 1464h.1M735 1466h.1M736 1470h.1M764 1452h.1M758 1453h.1M787 1464h.1M783 1471h.1M785 1467h.1M493 1483h.1M500 1476h.1M496 1478h.1M505 1465h.1M511 1464h.1M563 1483h.1M562 1487h.1M559 1488h.1M589 1472h.1M583 1471h.1M589 1472h.1M590 1470h.1M592 1471h.1M628 1474h.1M625 1480h.1M639 1467h.1M638 1468h.1M632 1466h.1M660 1480h.1M656 1479h.1M661 1473h.1M709 1473h.1M705 1467h.1M708 1474h.1M704 1465h.1M733 1471h.1M729 1473h.1M784 1486h.1M481 1489h.1M480 1486h.1M479 1485h.1M500 1486h.1M498 1488h.1M517 1492h.1M514 1497h.1M514 1494h.1M540 1485h.1M539 1483h.1M537 1485h.1M557 1487h.1M550 1488h.1M597 1497h.1M592 1496h.1M615 1498h.1M618 1501h.1M606 1496h.1M620 1505h.1M621 1505h.1M629 1503h.1M679 1498h.1M673 1501h.1M671 1500h.1M714 1485h.1M715 1492h.1M720 1487h.1M731 1498h.1M729 1501h.1M729 1494h.1M754 1499h.1M756 1499h.1M754 1498h.1M762 1498h.1M763 1499h.1M481 1517h.1M478 1516h.1M480 1522h.1M502 1510h.1M498 1515h.1M499 1513h.1M538 1520h.1M533 1517h.1M545 1500h.1M540 1502h.1M540 1510h.1M570 1506h.1M571 1505h.1M626 1516h.1M625 1515h.1M627 1516h.1M653 1508h.1M695 1511h.1M695 1508h.1M690 1507h.1M728 1522h.1M728 1529h.1M727 1527h.1M730 1517h.1M735 1516h.1M735 1518h.1M764 1500h.1M767 1511h.1M768 1525h.1M771 1522h.1" fill="none" stroke="#d81810" stroke-width="3.6" stroke-linecap="round"/>
<path d="M486 1273h.1M478 1272h.1M486 1276h.1M506 1277h.1M506 1277h.1M508 1270h.1M550 1266h.1M545 1281h.1M549 1286h.1M575 1261h.1M576 1272h.1M612 1285h.1M607 1285h.1M616 1272h.1M611 1267h.1M615 1268h.1M648 1270h.1M648 1277h.1M665 1289h.1M677 1292h.1M667 1286h.1M693 1273h.1M686 1284h.1M714 1283h.1M711 1278h.1M703 1277h.1M785 1293h.1M786 1290h.1M504 1303h.1M496 1308h.1M524 1304h.1M563 1290h.1M566 1283h.1M586 1309h.1M599 1304h.1M584 1304h.1M622 1306h.1M629 1305h.1M660 1307h.1M660 1306h.1M654 1306h.1M668 1291h.1M738 1301h.1M743 1312h.1M745 1318h.1M758 1307h.1M788 1305h.1M789 1299h.1M483 1320h.1M492 1315h.1M492 1309h.1M519 1323h.1M528 1324h.1M551 1310h.1M557 1305h.1M560 1320h.1M549 1312h.1M556 1325h.1M574 1318h.1M579 1319h.1M587 1317h.1M630 1331h.1M642 1327h.1M672 1324h.1M671 1312h.1M671 1313h.1M710 1328h.1M714 1323h.1M710 1325h.1M710 1329h.1M713 1312h.1M752 1303h.1M760 1318h.1M774 1328h.1M772 1325h.1M771 1328h.1M491 1341h.1M492 1342h.1M504 1323h.1M503 1329h.1M499 1335h.1M516 1339h.1M523 1334h.1M515 1336h.1M561 1334h.1M599 1338h.1M604 1335h.1M610 1337h.1M622 1334h.1M624 1326h.1M622 1335h.1M637 1345h.1M641 1337h.1M689 1352h.1M712 1323h.1M706 1320h.1M712 1321h.1M724 1347h.1M751 1343h.1M763 1338h.1M792 1324h.1M786 1333h.1M784 1330h.1M488 1357h.1M504 1337h.1M526 1366h.1M528 1363h.1M524 1362h.1M539 1365h.1M544 1365h.1M542 1375h.1M550 1354h.1M547 1349h.1M559 1345h.1M578 1353h.1M612 1375h.1M635 1372h.1M627 1361h.1M649 1367h.1M672 1360h.1M676 1355h.1M685 1363h.1M697 1356h.1M697 1360h.1M733 1358h.1M736 1353h.1M736 1355h.1M734 1354h.1M755 1360h.1M783 1365h.1M789 1357h.1M785 1365h.1M480 1367h.1M494 1364h.1M510 1372h.1M532 1378h.1M539 1372h.1M536 1372h.1M542 1372h.1M546 1366h.1M559 1375h.1M592 1377h.1M595 1378h.1M589 1377h.1M616 1383h.1M629 1378h.1M646 1379h.1M630 1380h.1M631 1393h.1M665 1375h.1M664 1364h.1M699 1384h.1M692 1399h.1M710 1371h.1M704 1374h.1M715 1381h.1M737 1369h.1M739 1374h.1M766 1384h.1M765 1373h.1M771 1389h.1M487 1400h.1M479 1409h.1M515 1409h.1M519 1410h.1M522 1400h.1M542 1390h.1M545 1378h.1M545 1390h.1M557 1399h.1M558 1399h.1M578 1392h.1M571 1392h.1M617 1396h.1M624 1389h.1M630 1400h.1M672 1396h.1M668 1393h.1M670 1387h.1M679 1388h.1M669 1389h.1M678 1389h.1M713 1390h.1M706 1390h.1M709 1389h.1M748 1397h.1M754 1383h.1M756 1395h.1M757 1394h.1M763 1403h.1M767 1403h.1M476 1409h.1M518 1415h.1M516 1409h.1M520 1411h.1M542 1425h.1M534 1421h.1M570 1415h.1M568 1411h.1M639 1424h.1M625 1429h.1M643 1423h.1M645 1407h.1M686 1429h.1M673 1436h.1M718 1411h.1M724 1417h.1M742 1408h.1M769 1424h.1M773 1430h.1M487 1441h.1M493 1448h.1M496 1447h.1M501 1423h.1M500 1430h.1M510 1428h.1M522 1441h.1M530 1448h.1M517 1447h.1M543 1442h.1M546 1445h.1M543 1450h.1M556 1433h.1M546 1429h.1M607 1436h.1M642 1432h.1M652 1425h.1M664 1446h.1M666 1444h.1M702 1445h.1M702 1444h.1M698 1438h.1M733 1439h.1M721 1429h.1M754 1438h.1M758 1432h.1M762 1438h.1M772 1434h.1M766 1450h.1M790 1435h.1M795 1430h.1M493 1464h.1M500 1447h.1M502 1446h.1M496 1448h.1M525 1459h.1M528 1460h.1M529 1453h.1M525 1447h.1M544 1449h.1M556 1448h.1M589 1461h.1M580 1467h.1M615 1463h.1M646 1454h.1M668 1463h.1M669 1457h.1M664 1457h.1M666 1469h.1M712 1447h.1M708 1464h.1M716 1462h.1M716 1440h.1M721 1446h.1M765 1456h.1M757 1455h.1M789 1463h.1M782 1468h.1M781 1464h.1M483 1477h.1M496 1480h.1M507 1466h.1M543 1472h.1M552 1484h.1M556 1481h.1M560 1484h.1M561 1485h.1M566 1482h.1M582 1473h.1M586 1476h.1M595 1465h.1M591 1475h.1M589 1462h.1M640 1484h.1M637 1487h.1M647 1465h.1M636 1468h.1M642 1461h.1M665 1472h.1M686 1477h.1M686 1483h.1M674 1473h.1M702 1473h.1M711 1463h.1M707 1464h.1M733 1465h.1M735 1467h.1M774 1484h.1M785 1489h.1M790 1492h.1M483 1485h.1M480 1482h.1M478 1498h.1M489 1483h.1M520 1498h.1M551 1486h.1M549 1487h.1M546 1487h.1M593 1489h.1M612 1494h.1M621 1506h.1M625 1502h.1M622 1506h.1M625 1507h.1M614 1497h.1M628 1511h.1M674 1486h.1M679 1489h.1M669 1506h.1M665 1504h.1M670 1505h.1M718 1484h.1M721 1491h.1M715 1483h.1M714 1483h.1M755 1493h.1M478 1515h.1M503 1520h.1M494 1523h.1M505 1510h.1M530 1517h.1M538 1522h.1M541 1505h.1M547 1498h.1M540 1513h.1M567 1508h.1M571 1506h.1M578 1526h.1M614 1513h.1M599 1509h.1M611 1506h.1M613 1507h.1M628 1515h.1M631 1508h.1M656 1509h.1M656 1495h.1M653 1503h.1M693 1513h.1M674 1510h.1M689 1506h.1M690 1512h.1M695 1500h.1M723 1524h.1M731 1529h.1M735 1511h.1M765 1507h.1M776 1499h.1M764 1522h.1" fill="none" stroke="#d81810" stroke-width="2.2" stroke-linecap="round"/>
</g>
<rect x="755.2" y="1515.5" width="29" height="3" fill="#eee"/>
<text x="769.7" y="1512.5" font-size="10" font-weight="bold" fill="#ddd" text-anchor="middle">10μm</text>
<rect x="475" y="1530.2" width="314.2" height="252.3" fill="#000300"/>
<g clip-path="url(#c11)" filter="url(#mb)">
<path d="M479 1534l-17 2M529 1534l1 8M547 1547l0 7M567 1549l-16 12M584 1535l14 17M610 1546l-2 11M686 1539l-12 14M714 1539l15 2M709 1535l-2 7M735 1535l-18 9M771 1550l13 9M797 1549l21 4M472 1568l-10 7M533 1568l-4 15M572 1554l-17 6M594 1570l-20 2M658 1572l10 16M673 1555l-18 10M704 1570l5 19M717 1552l6 5M745 1567l14 3M753 1571l-19 3M776 1566l-12 3M482 1584l-4 7M495 1579l7 13M507 1589l-18 9M579 1581l3 12M604 1586l21 2M632 1590l14 3M640 1581l-8 18M673 1594l-1 22M714 1583l7 20M754 1586l-20 8M495 1596l-15 11M588 1605l-18 4M628 1602l7 13M674 1611l-13 2M719 1608l-6 2M751 1611l-1 20M485 1624l-18 11M527 1632l8 17M552 1613l-16 2M571 1614l-16 8M610 1632l6 12M631 1632l10 15M649 1630l-6 2M660 1621l-19 2M678 1622l-14 6M724 1630l-11 9M752 1616l-4 10M493 1627l10 4M540 1631l-15 13M560 1642l-4 5M612 1640l4 7M636 1640l16 8M663 1641l-0 11M693 1648l-4 7M711 1640l3 20M738 1632l-17 8M790 1639l2 6M489 1667l-15 11M517 1671l14 16M513 1665l-17 5M549 1652l1 10M557 1668l-16 12M615 1660l6 9M636 1660l14 10M631 1665l-16 2M698 1656l-9 6M723 1664l-16 8M746 1660l-7 10M764 1669l2 15M772 1663l10 9M497 1683l-21 7M572 1676l9 14M568 1675l-8 12M609 1680l15 9M637 1685l8 0M650 1667l6 1M659 1691l4 21M680 1687l-0 7M706 1685l3 16M727 1676l8 10M497 1708l9 12M515 1689l9 1M537 1705l14 8M562 1694l18 13M590 1699l-16 2M613 1695l-2 19M664 1701l-7 5M687 1689l12 13M732 1695l6 1M765 1700l-6 10M783 1693l-14 5M486 1725l6 3M521 1719l-13 13M597 1707l-12 14M612 1725l3 14M642 1715l-13 4M670 1720l16 5M673 1732l4 22M711 1721l2 16M714 1710l-1 19M739 1725l17 4M781 1728l-16 9M498 1744l14 0M492 1747l-5 12M517 1725l18 7M553 1746l3 11M563 1745l-8 1M587 1730l10 15M591 1728l-2 6M632 1741l14 11M656 1742l-7 16M682 1742l1 6M705 1734l-10 6M707 1730l-4 12M726 1745l-4 7M752 1728l-11 12M503 1747l12 7M515 1761l-2 8M619 1763l6 6M628 1766l-8 10M667 1760l-8 6M670 1766l-1 6M752 1761l7 10M761 1754l-10 2M482 1780l16 13M570 1768l-1 7M617 1769l-10 9M626 1776l-13 13M694 1771l13 0M694 1767l-13 15M730 1786l10 11M730 1776l-13 1M762 1769l-10 16" fill="none" stroke="#18a018" stroke-width="1.2" stroke-linecap="round" opacity="0.35"/>
<path d="M652 1564h.1M731 1772h.1M562 1592h.1M662 1743h.1M574 1729h.1M752 1657h.1M704 1607h.1M768 1593h.1M503 1721h.1M713 1766h.1M784 1630h.1M644 1766h.1M654 1635h.1M767 1748h.1M483 1605h.1M616 1547h.1M732 1738h.1M641 1765h.1M777 1642h.1M537 1675h.1M629 1738h.1M682 1619h.1M654 1754h.1M755 1673h.1M785 1599h.1M611 1640h.1M729 1730h.1M502 1663h.1M679 1622h.1M495 1539h.1M648 1641h.1M675 1758h.1M577 1669h.1M705 1687h.1M610 1713h.1M493 1591h.1M774 1549h.1M773 1612h.1M510 1666h.1M615 1744h.1M701 1663h.1M643 1683h.1M482 1705h.1M613 1746h.1M492 1701h.1M513 1583h.1M712 1651h.1M785 1653h.1M646 1547h.1M641 1732h.1M595 1657h.1M618 1662h.1M488 1732h.1M725 1777h.1M766 1567h.1M530 1572h.1M715 1701h.1M701 1659h.1M663 1648h.1M648 1636h.1M650 1683h.1M656 1619h.1M688 1721h.1M548 1690h.1M539 1691h.1M503 1682h.1M665 1670h.1M786 1658h.1M571 1662h.1M647 1613h.1M579 1711h.1M594 1587h.1M508 1573h.1M531 1762h.1M506 1764h.1M628 1681h.1M523 1561h.1M579 1659h.1M746 1636h.1M512 1627h.1M742 1539h.1M728 1717h.1M645 1690h.1M685 1692h.1M778 1642h.1M769 1616h.1M672 1605h.1M499 1757h.1M491 1659h.1M611 1722h.1M774 1654h.1M686 1587h.1M506 1612h.1M734 1746h.1M696 1657h.1M756 1743h.1M676 1649h.1M682 1634h.1M601 1633h.1M689 1572h.1M681 1568h.1M654 1764h.1M743 1777h.1M475 1662h.1M611 1630h.1M761 1637h.1M620 1740h.1M496 1602h.1M557 1691h.1M739 1615h.1M539 1598h.1M511 1606h.1M700 1676h.1M543 1587h.1M576 1592h.1M533 1761h.1M636 1780h.1M734 1706h.1M744 1642h.1M702 1534h.1M751 1691h.1M611 1738h.1M778 1675h.1M647 1702h.1M777 1753h.1M684 1575h.1M618 1600h.1M577 1552h.1M731 1645h.1M493 1653h.1M558 1567h.1M780 1565h.1M749 1687h.1M691 1542h.1M596 1709h.1M642 1705h.1M753 1566h.1M692 1701h.1M517 1660h.1M727 1565h.1M722 1722h.1M716 1606h.1M527 1741h.1M775 1569h.1M582 1686h.1M631 1618h.1M484 1715h.1M723 1621h.1M634 1629h.1M680 1611h.1M544 1782h.1M744 1561h.1M562 1546h.1M780 1725h.1M506 1699h.1M662 1576h.1M653 1719h.1M559 1627h.1M786 1674h.1M763 1744h.1M614 1722h.1M754 1602h.1M492 1594h.1M649 1725h.1M491 1600h.1M639 1724h.1M532 1611h.1M606 1695h.1M651 1631h.1M693 1577h.1M565 1626h.1M717 1726h.1M567 1706h.1M568 1602h.1M713 1680h.1M630 1640h.1M582 1617h.1M547 1722h.1M529 1779h.1M667 1626h.1" fill="none" stroke="#20b020" stroke-width="1.8" stroke-linecap="round" opacity="0.7"/>
<path d="M478 1534l6 -3l4 -1l2 2l0 4l-6 0zM502 1540l-2 -3l2 -3l3 -1l2 2l-2 4zM529 1532l-2 -2l0 -3l1 -3l2 2l0 4zM547 1545l-4 -1l0 -7l4 -2l3 3l1 5zM567 1549l-1 -4l3 -1l3 2l1 3l-2 2zM583 1534l-4 -1l-3 -2l1 -4l4 0l4 3zM610 1544l-2 -2l1 -6l3 0l1 2l-1 4zM616 1533l-3 2l-3 -2l-2 -3l3 -1l4 1zM648 1539l-2 -3l-1 -4l1 -3l3 2l0 5zM676 1550l-1 3l-4 -2l-3 -2l3 -2l5 1zM687 1538l-1 -2l2 -3l5 -2l-1 5l-3 3zM713 1539l-1 4l-5 -1l-2 -4l3 -2l4 1zM709 1535l-2 -3l3 -7l3 -1l3 2l-3 7zM737 1534l1 -3l4 -3l5 1l0 5l-7 3zM771 1550l-4 0l-4 -3l0 -3l3 -2l4 3zM795 1549l-3 1l-3 0l-2 -3l3 -3l5 1zM473 1567l0 -4l4 -4l3 3l2 4l-5 1zM510 1565l-2 2l-4 -1l-2 -2l1 -3l4 1zM526 1575l-2 -3l-2 -7l2 -4l3 3l1 8zM532 1568l-2 -3l0 -3l4 1l2 1l0 3zM576 1553l-4 -1l-3 -1l-2 -2l3 0l4 1zM572 1554l0 -4l5 -2l3 3l-1 4l-4 1zM595 1570l1 -3l6 -1l1 3l-3 3l-4 1zM624 1569l1 -2l2 -1l3 1l-1 2l-3 2zM652 1552l-1 2l-5 -1l-3 -2l3 -2l5 1zM658 1572l-4 1l-1 -5l0 -4l4 1l2 3zM673 1555l1 -3l3 -2l5 0l-2 3l-4 2zM704 1569l-3 -2l-2 -5l1 -4l3 5l2 4zM716 1552l-3 0l-4 -4l0 -3l3 0l3 3zM745 1567l-3 2l-3 0l0 -4l2 -3l3 1zM753 1571l0 -4l6 0l1 3l-2 2l-3 1zM776 1566l3 -3l6 -1l2 2l-2 2l-4 1zM481 1585l1 -5l3 -5l4 -3l0 4l-3 6zM496 1579l-5 0l-2 -4l2 -3l3 0l2 3zM506 1589l3 -5l5 -2l5 1l-2 4l-5 2zM548 1572l0 -3l2 -3l3 0l1 3l-3 3zM556 1587l-3 -2l-1 -5l2 -2l3 1l1 5zM579 1581l-4 -1l-1 -5l2 -5l5 2l1 6zM602 1586l-3 2l-6 0l-2 -4l3 -3l7 1zM631 1590l-1 1l-3 -1l-2 -2l2 -2l3 2zM641 1580l-3 -1l3 -4l4 -5l0 5l-2 5zM673 1595l-3 -4l1 -5l2 -2l2 2l0 4zM672 1593l-1 -5l1 -5l2 -2l2 2l-1 7zM707 1585l1 -2l5 -1l4 2l-5 2l-4 1zM714 1582l-3 -1l-2 -3l2 -3l3 2l1 3zM744 1575l-2 -4l3 -5l4 -1l2 3l-3 6zM753 1586l2 -4l5 -1l1 1l0 2l-3 1zM772 1582l-1 -3l1 -3l2 -1l1 3l0 3zM497 1600l-2 3l-4 -3l1 -3l3 -1l3 2zM495 1596l1 -5l5 -4l4 1l0 5l-5 2zM520 1596l-3 1l-3 -1l-4 -2l4 0l4 0zM534 1597l-4 0l-2 -4l3 -3l3 0l3 4zM575 1596l-4 1l-4 1l-1 -3l2 -3l5 1zM588 1605l0 -4l3 0l2 3l-1 3l-2 1zM615 1599l-2 3l-8 0l0 -4l1 -3l7 1zM627 1601l-2 -1l-3 -5l1 -2l3 1l3 5zM643 1615l-4 -4l-1 -4l2 -2l3 1l2 4zM660 1612l-3 -2l-2 -5l2 -2l3 -1l2 6zM676 1611l2 -2l3 -2l1 3l0 2l-4 0zM707 1596l-2 -2l0 -7l3 -3l2 4l-1 6zM721 1607l1 -2l4 -2l2 2l-1 2l-4 1zM751 1612l-2 -2l0 -5l2 -2l2 2l0 5zM751 1608l-2 -3l6 -5l3 2l0 4l-4 3zM790 1590l-3 0l0 -4l1 -4l3 4l2 3zM485 1624l0 -3l2 -2l3 2l0 4l-3 0zM494 1611l-1 -3l0 -3l3 -1l2 2l-1 4zM527 1632l-4 -2l-2 -3l2 -3l3 1l2 3zM553 1629l-3 2l-6 1l-2 -5l4 -2l6 1zM553 1613l0 -4l6 0l3 3l-3 4l-4 0zM571 1614l1 -2l3 -1l3 0l-2 2l-2 1zM610 1631l-3 0l-1 -4l0 -5l5 2l1 4zM631 1631l-3 0l-4 -2l2 -5l4 1l3 3zM650 1630l0 -3l5 -1l3 1l-2 3l-4 1zM660 1621l3 -2l5 -1l1 2l-1 2l-4 0zM678 1622l1 -4l4 -2l2 3l0 3l-3 1zM696 1619l-3 1l-5 -3l0 -3l3 0l5 2zM725 1629l0 -3l5 -5l3 2l-1 3l-4 3zM738 1613l-1 -2l2 -3l2 -1l2 2l-2 4zM752 1617l-1 -3l1 -3l3 -1l3 3l-2 3zM789 1629l-3 -3l-2 -3l4 -2l3 1l1 3zM494 1628l-4 0l-4 -2l-1 -2l2 -2l5 2zM510 1640l-3 1l-4 -3l0 -4l5 0l3 3zM534 1637l-3 -1l1 -5l2 -6l2 6l1 5zM540 1631l0 -3l3 -2l4 -1l-1 3l-3 3zM561 1641l0 -4l2 -4l4 0l0 4l-3 3zM599 1634l-5 1l-4 -2l-1 -3l3 -4l5 3zM613 1641l-4 -4l-1 -4l0 -2l2 0l3 6zM635 1640l-2 3l-4 -3l0 -3l2 -3l4 3zM633 1650l-1 -3l4 -7l4 -1l0 4l-4 6zM663 1641l-2 -3l0 -6l2 -2l1 3l0 3zM681 1647l0 -5l3 -2l4 1l0 4l-3 3zM693 1647l-2 -1l3 -4l3 -2l0 4l-1 3zM711 1639l-3 -1l0 -3l2 -4l2 4l1 2zM738 1632l0 -4l5 0l3 0l-1 4l-4 1zM771 1644l-3 0l-3 -5l0 -3l4 0l3 6zM790 1638l-3 -1l-1 -3l2 -3l4 0l-1 5zM490 1666l-2 -3l4 -2l6 -1l-1 5l-4 3zM517 1671l-3 -1l-5 -5l-1 -4l4 1l4 5zM513 1665l3 -3l6 -2l4 1l-4 3l-5 2zM549 1651l-4 -2l1 -5l2 -6l4 4l1 6zM558 1668l-1 -4l4 -3l3 2l1 3l-4 2zM578 1661l-3 -1l-1 -6l1 -4l3 2l2 6zM614 1659l-3 1l-2 -4l1 -4l4 0l2 5zM635 1659l-3 0l-5 -3l1 -2l2 -1l4 3zM630 1665l3 -3l5 -3l2 5l-1 4l-5 0zM664 1654l2 -3l3 0l3 3l-2 4l-3 -1zM678 1646l0 -3l4 0l2 2l-2 3l-4 1zM698 1656l3 -4l3 -4l3 2l0 2l-5 3zM725 1663l0 -3l5 -2l2 2l0 2l-4 3zM746 1660l1 -5l2 -4l3 0l1 3l-2 5zM764 1670l-2 -6l-2 -4l2 -2l3 0l1 6zM772 1663l-3 1l-4 -4l-2 -5l6 3l3 2zM477 1677l-3 -4l-2 -4l2 -1l2 0l2 4zM497 1683l1 -3l4 -2l5 1l-2 5l-6 1zM516 1674l0 -3l4 -2l2 0l0 3l-4 3zM534 1685l-4 1l-2 -3l2 -4l3 0l2 4zM571 1674l-2 0l-4 -4l1 -4l3 2l3 4zM569 1674l0 -3l3 -4l2 0l0 2l-2 4zM609 1680l-2 1l-3 -1l0 -3l2 -1l4 1zM638 1685l-6 2l-5 0l-4 -2l4 -2l6 0zM649 1667l-2 1l-4 -1l-5 -1l5 -1l5 0zM659 1691l-2 -2l-1 -6l1 -2l2 2l1 5zM680 1687l-2 -2l-1 -5l4 -2l3 3l0 5zM706 1686l-3 -4l-2 -6l3 -3l3 2l0 4zM727 1676l-4 1l-2 -3l1 -3l4 -2l2 3zM748 1667l-3 2l-5 0l0 -2l0 -3l5 1zM771 1691l-4 -1l-4 -4l1 -2l3 -1l4 4zM774 1681l-4 -1l1 -5l3 -5l4 4l0 6zM497 1707l-4 1l-3 -4l2 -3l4 -1l2 4zM513 1689l-3 2l-7 -1l-3 -3l5 -1l6 0zM534 1707l-3 3l-4 -2l-1 -3l3 -3l4 2zM538 1705l-4 2l-3 -3l-2 -4l3 -2l5 4zM563 1695l-5 0l-4 -3l0 -3l3 -1l3 2zM594 1691l-5 0l0 -3l1 -4l4 1l2 3zM591 1699l3 -3l5 0l2 2l-1 3l-6 0zM613 1694l-1 -4l0 -5l2 -3l2 3l0 6zM639 1695l3 -4l6 -2l5 2l-4 3l-6 2zM665 1700l-1 -2l3 -2l3 1l-1 2l-2 2zM686 1688l-2 0l-4 -4l-1 -3l3 -1l4 5zM696 1700l-1 -3l-1 -4l4 -1l3 2l-2 4zM732 1695l-5 1l-6 0l-2 -3l2 -3l7 3zM747 1699l1 -4l2 -4l4 1l1 3l-3 5zM766 1699l-2 -3l3 -5l5 -2l-1 6l-2 4zM783 1693l1 -3l5 -1l4 1l-2 2l-5 2zM486 1725l-3 0l-2 -1l-1 -2l1 -2l5 2zM494 1709l0 -4l3 -3l5 -2l-1 4l-4 4zM521 1719l1 -4l2 -4l5 0l0 5l-4 3zM528 1714l0 -4l3 -4l4 2l2 4l-5 2zM553 1725l-3 -5l0 -7l3 -3l3 2l0 7zM579 1730l1 -4l2 -3l3 1l1 3l-2 4zM597 1708l0 -5l3 -5l5 0l-1 5l-2 5zM612 1725l-2 -1l-2 -2l3 -2l4 0l1 3zM643 1715l0 -2l5 -2l3 1l-2 3l-5 1zM670 1720l-4 1l-3 -1l-3 -3l4 -1l3 2zM672 1729l-4 1l0 -6l3 -2l3 0l1 6zM711 1718l-2 -1l-1 -6l1 -4l3 3l1 7zM714 1710l-3 -2l0 -8l4 -4l4 5l-2 6zM740 1726l-5 0l-4 0l-1 -3l2 -3l5 2zM761 1713l-1 -3l0 -4l3 -1l3 2l-2 4zM782 1728l-1 -3l4 -2l2 2l0 3l-3 1zM497 1744l-3 2l-3 0l-2 -2l1 -3l5 0zM493 1745l-3 -2l3 -3l3 -1l1 3l-1 4zM517 1725l-3 2l-5 -2l-2 -4l4 -1l5 1zM553 1747l-4 -3l-1 -5l2 -3l5 1l-1 4zM564 1745l1 -1l4 -2l2 2l0 2l-5 0zM587 1730l-3 0l-2 -3l1 -3l4 -1l2 4zM590 1729l-1 -4l1 -5l4 -4l1 7l-1 5zM632 1741l-3 0l-4 -3l-1 -4l4 0l4 4zM638 1727l-1 -3l5 -3l4 2l-2 4l-3 2zM656 1742l-1 -3l2 -3l2 -1l1 2l-1 4zM682 1740l-4 0l-1 -8l3 -3l4 2l1 7zM705 1734l2 -4l6 -2l3 -1l-1 4l-6 4zM708 1729l-3 -3l1 -6l4 0l2 3l-1 5zM728 1743l0 -3l1 -5l3 0l1 2l-3 5zM752 1728l0 -2l3 -3l4 -2l-2 5l-2 2zM791 1746l-3 2l-5 1l-4 -4l5 -2l5 1zM477 1756l-1 -5l2 -3l4 0l1 3l-2 3zM504 1748l-5 0l-5 -2l1 -3l2 -1l4 1zM515 1758l-2 -1l2 -8l3 -1l2 2l-2 7zM543 1754l-3 -1l-1 -4l1 -3l3 0l1 5zM562 1753l-4 -1l-3 -2l-1 -3l2 0l5 3zM589 1762l-2 -4l4 -4l5 0l-1 5l-2 3zM620 1763l-6 -1l-5 -5l1 -3l4 0l3 4zM623 1763l-1 2l-4 -1l-2 -3l3 -1l5 0zM628 1766l0 -4l3 -3l3 0l2 2l-4 5zM667 1760l1 -5l5 -3l6 -1l-2 6l-5 3zM670 1766l-3 -3l0 -3l4 -1l2 3l0 3zM701 1750l3 -4l5 0l3 2l-2 4l-5 1zM727 1755l-5 0l-5 -4l2 -4l4 -1l3 4zM725 1758l1 -2l2 -3l3 2l-1 2l-2 2zM752 1761l-4 1l-2 -3l2 -5l4 2l2 1zM763 1753l2 -3l5 -1l3 3l-2 3l-6 2zM482 1780l-3 1l-3 -1l2 -3l3 -3l1 3zM502 1783l-4 -4l-2 -3l2 -3l4 0l2 5zM532 1781l1 -3l3 0l2 1l-1 2l-2 0zM538 1770l0 -2l2 -3l2 -2l0 3l-2 5zM570 1767l-2 0l1 -3l2 -1l2 1l-1 3zM573 1783l3 -3l6 0l1 3l-2 3l-6 0zM608 1773l-4 0l-5 -3l-2 -4l4 -1l5 4zM617 1769l-1 -3l2 -3l3 2l2 3l-3 1zM627 1774l1 -3l5 -5l2 0l0 3l-5 5zM653 1770l-2 -1l1 -5l2 -3l2 2l-1 6zM692 1771l-1 4l-6 -1l-2 -3l2 -2l4 0zM693 1767l0 -3l2 -2l4 -2l0 4l-3 3zM729 1785l-2 1l-2 -2l0 -3l2 -1l4 3zM731 1776l1 -3l2 0l3 2l-2 3l-3 1zM761 1770l1 -6l2 -4l4 -1l2 4l-4 4zM770 1782l-5 1l-1 -7l3 -3l4 1l2 6z" fill="#26d626"/>
</g>
<rect x="755.2" y="1774.0" width="29" height="3" fill="#eee"/>
<text x="769.7" y="1771.0" font-size="10" font-weight="bold" fill="#ddd" text-anchor="middle">10μm</text>
<rect x="475" y="1789.7" width="314.2" height="252.3" fill="#000004"/>
<g clip-path="url(#c21)" filter="url(#mb)">
<path d="M488 1792l-2.9 0.3M504 1795l-0.3 0.6M528 1787l0.2 1.4M547 1798l0.0 1.5M571 1806l-1.7 1.3M579 1788l1.3 1.6M611 1798l-0.2 1.0M612 1791l0.2 0.1M672 1809l2.6 0.5M689 1795l-1.3 1.5M712 1788l-0.7 2.0M742 1791l-0.3 0.2M766 1805l0.3 0.2M790 1808l0.7 0.1M504 1824l1.7 0.1M525 1827l0.2 1.5M533 1824l-0.0 0.1M571 1810l0.3 0.1M576 1812l-2.5 0.9M599 1829l-2.1 0.2M628 1827l-2.6 1.1M648 1811l1.1 0.2M655 1827l1.3 2.0M676 1812l-0.7 0.4M702 1824l0.1 0.4M712 1808l0.1 0.1M740 1825l2.2 0.5M756 1830l-0.8 0.1M784 1824l-1.9 0.4M486 1837l-0.8 1.3M551 1828l-0.4 0.4M555 1841l0.3 1.4M578 1836l0.3 1.2M595 1844l2.6 0.3M629 1849l0.1 0.0M642 1836l-0.9 2.2M673 1845l-0.1 0.3M709 1844l-0.1 0.0M713 1838l0.1 0.3M747 1827l-0.5 1.1M760 1843l-1.4 0.6M773 1838l-0.2 0.6M495 1858l1.7 1.2M515 1855l1.2 0.2M532 1852l0.7 1.3M568 1854l1.5 0.2M625 1855l0.1 0.1M640 1867l0.5 1.6M658 1865l0.1 0.2M707 1850l-0.1 1.5M726 1865l-0.1 0.0M789 1847l0.4 1.9M495 1866l-0.0 0.0M548 1888l1.7 0.3M575 1871l-2.4 1.2M608 1886l0.9 1.9M628 1887l1.3 1.9M654 1888l-1.5 0.5M667 1880l-1.0 0.1M684 1879l-1.1 0.5M691 1875l1.0 0.6M729 1885l-0.1 0.1M754 1872l-0.4 1.1M488 1885l1.7 0.8M507 1897l2.1 2.0M534 1892l0.0 1.8M543 1888l-1.5 1.3M564 1896l-1.0 1.3M592 1890l0.8 0.3M609 1893l0.7 1.5M632 1898l1.7 0.9M637 1903l-1.2 1.8M685 1902l-1.8 1.5M694 1905l-0.0 0.0M768 1900l0.3 0.5M789 1894l0.0 0.1M492 1924l-1.0 0.8M513 1926l0.8 1.0M520 1922l-0.2 0.1M562 1924l-1.7 1.3M576 1914l0.7 2.5M612 1914l1.6 2.3M668 1914l-0.7 0.1M681 1905l-2.6 0.3M703 1912l-0.0 0.0M730 1920l-0.8 0.4M751 1913l-1.2 1.8M763 1920l0.2 1.3M770 1920l0.2 0.1M474 1929l0.4 0.9M500 1941l-1.4 0.5M519 1931l-1.2 0.7M568 1930l0.6 0.9M573 1928l-0.7 1.0M605 1938l2.2 1.4M645 1926l2.2 0.2M658 1944l0.2 0.9M680 1943l-0.1 1.0M704 1935l0.6 2.9M724 1932l1.1 1.3M741 1926l2.8 0.1M767 1946l0.0 0.0M494 1963l0.9 1.3M507 1947l1.8 0.3M533 1962l2.1 1.2M598 1958l-1.4 0.2M614 1947l-0.1 0.9M697 1954l-0.5 2.7M724 1953l1.5 0.2M752 1954l-0.1 0.1M768 1954l-1.2 1.9M788 1951l-1.2 0.4M483 1983l1.0 0.4M497 1965l-0.1 0.1M526 1974l-1.5 1.6M533 1969l-0.7 0.6M553 1973l0.1 2.5M584 1985l-0.6 0.6M601 1962l-0.9 1.0M612 1981l0.4 2.3M646 1973l-1.8 0.6M671 1984l0.4 2.2M710 1972l0.3 1.8M715 1964l-0.0 0.7M732 1983l2.7 0.7M762 1968l-0.0 0.0M492 2003l0.7 0.0M495 2000l-0.9 2.0M512 1983l1.8 0.7M551 1998l0.6 2.5M567 2004l-1.0 0.2M585 1986l1.2 1.8M628 1997l1.6 1.3M642 1985l-1.7 1.0M681 1994l0.0 0.2M713 1989l-2.4 1.5M709 1984l-0.5 1.6M731 1997l-1.3 2.3M785 2005l1.0 0.1M497 2004l0.2 0.1M517 2012l-0.2 1.0M541 2009l0.3 0.8M556 2008l1.5 1.0M592 2017l-1.7 1.8M614 2017l0.4 0.3M620 2022l0.3 0.1M632 2020l-0.6 0.8M674 2015l-2.1 1.6M709 2008l-2.3 0.3M721 2008l2.1 2.1M730 2015l-2.3 1.6M751 2018l0.3 0.4M768 2012l-0.6 0.1M479 2037l2.1 1.8M499 2034l0.9 2.6M536 2039l-0.2 0.1M540 2026l-0.1 0.2M571 2025l-0.2 1.0M580 2043l-2.0 0.0M603 2029l0.1 0.1M619 2026l-0.5 0.5M633 2028l-2.0 2.0M653 2025l-0.1 1.0M686 2031l2.6 0.0M696 2023l-1.0 1.1M726 2042l1.8 1.9M766 2022l-1.0 1.7M768 2037l0.4 1.5" fill="none" stroke="#1c60ff" stroke-width="5" stroke-linecap="round"/>
<path d="M570 1807l-0.3 0.2M611 1798l-0.2 0.7M688 1795l-0.3 0.4M791 1808l0.3 0.0M478 1823l-1.5 1.1M534 1823l-0.6 2.4M599 1829l-1.9 0.1M627 1827l-0.5 0.2M655 1827l1.3 2.1M784 1824l-0.8 0.2M747 1828l-0.0 0.1M761 1842l-2.7 1.1M625 1855l0.4 0.8M727 1865l-2.3 0.8M789 1847l0.4 1.9M628 1887l0.7 1.0M691 1875l1.1 0.7M488 1885l0.5 0.2M592 1890l0.8 0.4M633 1898l0.2 0.1M637 1903l-1.4 2.2M663 1892l-0.0 2.9M685 1903l-1.1 0.9M695 1904l-1.3 2.5M711 1896l0.0 0.1M768 1900l0.6 1.0M668 1914l-0.3 0.0M704 1911l-1.4 1.0M532 1942l0.9 1.3M605 1937l2.4 1.5M645 1926l2.2 0.3M658 1944l0.1 0.4M680 1943l-0.1 1.4M742 1926l1.1 0.1M766 1945l1.0 1.0M557 1950l0.5 0.4M592 1947l0.4 0.8M683 1944l0.5 0.5M498 1964l-1.6 1.8M525 1975l-0.0 0.0M553 1974l0.1 1.4M671 1985l0.1 0.3M512 1982l2.3 0.9M585 1987l0.1 0.1M592 1983l-0.9 2.8M755 1985l-1.3 1.5M592 2018l-0.7 0.8M670 2021l-0.3 1.8M722 2009l0.8 0.8M750 2018l0.5 0.7M499 2034l1.0 2.8M602 2029l2.4 1.5M727 2043l0.3 0.3M734 2035l-2.5 0.2" fill="none" stroke="#40c8ff" stroke-width="4.5" stroke-linecap="round"/>
</g>
<rect x="755.2" y="2033.5" width="29" height="3" fill="#eee"/>
<text x="769.7" y="2030.5" font-size="10" font-weight="bold" fill="#ddd" text-anchor="middle">10μm</text>
<rect x="475" y="2048.8" width="314.2" height="252.8" fill="#070200"/>
<g clip-path="url(#c31)" filter="url(#mb)">
<path d="M479 2052l-17 2M529 2052l1 8M547 2065l0 7M567 2068l-16 12M584 2054l14 17M610 2064l-2 11M686 2057l-12 14M714 2058l15 2M709 2054l-2 7M735 2054l-18 9M771 2068l13 9M797 2068l21 4M472 2086l-10 7M533 2086l-4 15M572 2073l-17 6M594 2088l-20 2M658 2091l10 16M673 2073l-18 10M704 2089l5 19M717 2071l6 5M745 2085l14 3M753 2090l-19 3M776 2085l-12 3M482 2103l-4 7M495 2097l7 13M507 2107l-18 9M579 2099l3 12M604 2105l21 2M632 2108l14 3M640 2100l-8 18M673 2113l-1 22M714 2102l7 20M754 2104l-20 8M495 2115l-15 11M588 2124l-18 4M628 2121l7 13M674 2130l-13 2M719 2126l-6 2M751 2130l-1 20M485 2143l-18 11M527 2150l8 17M552 2132l-16 2M571 2133l-16 8M610 2150l6 12M631 2150l10 15M649 2149l-6 2M660 2139l-19 2M678 2141l-14 6M724 2148l-11 9M752 2135l-4 10M493 2146l10 4M540 2149l-15 13M560 2161l-4 5M612 2159l4 7M636 2159l16 8M663 2160l-0 11M693 2166l-4 7M711 2158l3 20M738 2151l-17 8M790 2158l2 6M489 2185l-15 11M517 2190l14 16M513 2183l-17 5M549 2170l1 10M557 2187l-16 12M615 2179l6 9M636 2178l14 10M631 2183l-16 2M698 2174l-9 6M723 2183l-16 8M746 2179l-7 10M764 2187l2 15M772 2182l10 9M497 2202l-21 7M572 2195l9 14M568 2194l-8 12M609 2199l15 9M637 2204l8 0M650 2186l6 1M659 2210l4 21M680 2206l-0 7M706 2203l3 16M727 2195l8 10M497 2226l9 12M515 2208l9 1M537 2224l14 8M562 2213l18 13M590 2218l-16 2M613 2214l-2 19M664 2220l-7 5M687 2207l12 13M732 2214l6 1M765 2219l-6 10M783 2212l-14 5M486 2243l6 3M521 2238l-13 13M597 2226l-12 14M612 2244l3 14M642 2234l-13 4M670 2239l16 5M673 2251l4 22M711 2239l2 16M714 2229l-1 19M739 2244l17 4M781 2247l-16 9M498 2263l14 0M492 2266l-5 12M517 2244l18 7M553 2264l3 11M563 2264l-8 1M587 2248l10 15M591 2247l-2 6M632 2260l14 11M656 2261l-7 16M682 2260l1 6M705 2253l-10 6M707 2248l-4 12M726 2264l-4 7M752 2247l-11 12M503 2266l12 7M515 2279l-2 8M619 2281l6 6M628 2285l-8 10M667 2279l-8 6M670 2284l-1 6M752 2279l7 10M761 2272l-10 2M482 2299l16 13M570 2287l-1 7M617 2288l-10 9M626 2294l-13 13M694 2290l13 0M694 2285l-13 15M730 2305l10 11M730 2294l-13 1M762 2288l-10 16" fill="none" stroke="#b03010" stroke-width="1" stroke-linecap="round" opacity="0.5"/>
<path d="M478 2052l6 -2l4 -1l2 2l0 3l-6 0zM502 2059l-2 -3l2 -4l3 0l2 2l-2 3zM529 2051l-2 -2l0 -3l1 -3l2 2l0 4zM547 2064l-4 -2l0 -6l4 -3l3 3l1 6zM567 2068l-1 -4l3 -1l3 1l1 3l-2 3zM583 2053l-4 -1l-3 -3l1 -3l4 0l4 2zM610 2063l-2 -3l1 -5l3 -1l1 3l-1 3zM616 2052l-3 1l-3 -2l-2 -2l3 -1l4 1zM648 2057l-2 -2l-1 -4l1 -3l3 2l0 4zM676 2069l-1 2l-4 -1l-3 -3l3 -1l5 0zM687 2057l-1 -3l2 -2l5 -2l-1 4l-3 4zM713 2058l-1 3l-5 0l-2 -4l3 -3l4 1zM709 2053l-2 -3l3 -6l3 -2l3 3l-3 6zM737 2053l1 -4l4 -2l5 1l0 5l-7 3zM771 2068l-4 1l-4 -3l0 -4l3 -1l4 3zM795 2067l-3 2l-3 0l-2 -3l3 -3l5 1zM473 2086l0 -5l4 -3l3 2l2 4l-5 2zM510 2083l-2 3l-4 -1l-2 -2l1 -3l4 1zM526 2094l-2 -4l-2 -7l2 -3l3 3l1 8zM532 2087l-2 -3l0 -3l4 0l2 2l0 3zM576 2072l-4 -1l-3 -1l-2 -3l3 0l4 2zM572 2073l0 -5l5 -1l3 3l-1 4l-4 1zM595 2088l1 -3l6 -1l1 4l-3 2l-4 1zM624 2088l1 -3l2 0l3 0l-1 3l-3 1zM652 2071l-1 2l-5 -2l-3 -2l3 -1l5 1zM658 2091l-4 0l-1 -4l0 -5l4 1l2 4zM673 2073l1 -3l3 -2l5 0l-2 4l-4 2zM704 2088l-3 -2l-2 -5l1 -5l3 5l2 5zM716 2070l-3 1l-4 -4l0 -3l3 -1l3 4zM745 2085l-3 3l-3 -1l0 -3l2 -3l3 1zM753 2090l0 -4l6 -1l1 4l-2 2l-3 1zM776 2085l3 -3l6 -2l2 2l-2 3l-4 1zM481 2104l1 -6l3 -4l4 -4l0 5l-3 6zM496 2098l-5 -1l-2 -4l2 -3l3 1l2 3zM506 2107l3 -4l5 -3l5 1l-2 5l-5 1zM548 2091l0 -3l2 -3l3 0l1 3l-3 2zM556 2106l-3 -2l-1 -6l2 -2l3 1l1 5zM579 2099l-4 -1l-1 -4l2 -6l5 3l1 5zM602 2104l-3 3l-6 0l-2 -4l3 -4l7 1zM631 2108l-1 2l-3 -1l-2 -2l2 -2l3 2zM641 2099l-3 -2l3 -4l4 -5l0 6l-2 4zM673 2113l-3 -3l1 -5l2 -2l2 2l0 3zM672 2111l-1 -4l1 -5l2 -2l2 2l-1 7zM707 2104l1 -3l5 0l4 1l-5 3l-4 0zM714 2100l-3 0l-2 -3l2 -3l3 1l1 3zM744 2094l-2 -4l3 -6l4 -1l2 3l-3 6zM753 2105l2 -4l5 -2l1 2l0 2l-3 1zM772 2101l-1 -3l1 -3l2 -2l1 3l0 4zM497 2119l-2 2l-4 -3l1 -2l3 -1l3 1zM495 2114l1 -5l5 -4l4 2l0 5l-5 2zM520 2114l-3 2l-3 -1l-4 -2l4 -1l4 0zM534 2116l-4 -1l-2 -4l3 -2l3 0l3 3zM575 2114l-4 2l-4 0l-1 -3l2 -2l5 0zM588 2124l0 -4l3 -1l2 4l-1 2l-2 2zM615 2117l-2 4l-8 0l0 -4l1 -3l7 0zM627 2119l-2 -1l-3 -4l1 -3l3 1l3 5zM643 2133l-4 -4l-1 -3l2 -2l3 0l2 5zM660 2130l-3 -1l-2 -5l2 -3l3 0l2 6zM676 2129l2 -2l3 -1l1 2l0 2l-4 1zM707 2115l-2 -3l0 -6l3 -3l2 3l-1 7zM721 2126l1 -2l4 -2l2 1l-1 2l-4 2zM751 2130l-2 -2l0 -4l2 -3l2 3l0 4zM751 2127l-2 -4l6 -4l3 2l0 3l-4 3zM790 2109l-3 0l0 -4l1 -4l3 3l2 4zM485 2143l0 -3l2 -2l3 2l0 3l-3 1zM494 2130l-1 -3l0 -4l3 -1l2 3l-1 4zM527 2151l-4 -2l-2 -4l2 -2l3 1l2 3zM553 2148l-3 2l-6 1l-2 -5l4 -2l6 1zM553 2132l0 -4l6 -1l3 4l-3 3l-4 0zM571 2133l1 -3l3 0l3 -1l-2 3l-2 1zM610 2149l-3 0l-1 -3l0 -5l5 1l1 5zM631 2150l-3 0l-4 -3l2 -4l4 1l3 2zM650 2148l0 -2l5 -1l3 1l-2 3l-4 1zM660 2139l3 -2l5 -1l1 2l-1 2l-4 1zM678 2141l1 -5l4 -2l2 3l0 3l-3 1zM696 2138l-3 1l-5 -3l0 -3l3 0l5 1zM725 2148l0 -4l5 -4l3 1l-1 3l-4 3zM738 2132l-1 -2l2 -4l2 0l2 1l-2 5zM752 2135l-1 -3l1 -3l3 0l3 2l-2 4zM789 2148l-3 -3l-2 -3l4 -3l3 2l1 3zM494 2146l-4 1l-4 -2l-1 -3l2 -1l5 1zM510 2159l-3 1l-4 -3l0 -5l5 1l3 3zM534 2156l-3 -1l1 -5l2 -6l2 6l1 5zM540 2149l0 -2l3 -3l4 0l-1 3l-3 3zM561 2159l0 -3l2 -4l4 0l0 3l-3 3zM599 2152l-5 2l-4 -2l-1 -4l3 -3l5 3zM613 2160l-4 -4l-1 -4l0 -3l2 1l3 6zM635 2158l-2 4l-4 -4l0 -3l2 -3l4 4zM633 2169l-1 -4l4 -7l4 -1l0 5l-4 6zM663 2159l-2 -2l0 -6l2 -3l1 3l0 4zM681 2165l0 -4l3 -2l4 0l0 4l-3 3zM693 2166l-2 -2l3 -3l3 -2l0 3l-1 4zM711 2157l-3 0l0 -4l2 -3l2 3l1 3zM738 2150l0 -3l5 -1l3 1l-1 3l-4 2zM771 2163l-3 0l-3 -5l0 -4l4 1l3 6zM790 2156l-3 0l-1 -4l2 -3l4 0l-1 5zM490 2184l-2 -3l4 -1l6 -2l-1 6l-4 3zM517 2190l-3 -1l-5 -5l-1 -4l4 1l4 5zM513 2184l3 -4l6 -1l4 1l-4 3l-5 1zM549 2170l-4 -2l1 -6l2 -6l4 5l1 6zM558 2186l-1 -4l4 -2l3 2l1 3l-4 2zM578 2179l-3 0l-1 -6l1 -4l3 1l2 7zM614 2178l-3 1l-2 -5l1 -3l4 -1l2 5zM635 2178l-3 -1l-5 -3l1 -2l2 0l4 3zM630 2183l3 -3l5 -2l2 4l-1 5l-5 -1zM664 2173l2 -3l3 0l3 2l-2 5l-3 -2zM678 2165l0 -4l4 0l2 3l-2 2l-4 2zM698 2174l3 -3l3 -4l3 1l0 3l-5 3zM725 2182l0 -4l5 -1l2 1l0 3l-4 3zM746 2179l1 -5l2 -5l3 1l1 3l-2 4zM764 2188l-2 -5l-2 -5l2 -2l3 1l1 6zM772 2182l-3 1l-4 -4l-2 -5l6 2l3 3zM477 2195l-3 -3l-2 -4l2 -1l2 0l2 4zM497 2201l1 -2l4 -2l5 1l-2 4l-6 1zM516 2192l0 -2l4 -3l2 1l0 3l-4 2zM534 2204l-4 1l-2 -3l2 -4l3 0l2 3zM571 2193l-2 -1l-4 -4l1 -3l3 1l3 5zM569 2193l0 -3l3 -4l2 0l0 2l-2 4zM609 2199l-2 0l-3 -1l0 -2l2 -1l4 1zM638 2204l-6 1l-5 1l-4 -2l4 -2l6 0zM649 2185l-2 2l-4 -1l-5 -2l5 -1l5 1zM659 2209l-2 -2l-1 -5l1 -3l2 3l1 4zM680 2205l-2 -2l-1 -4l4 -2l3 2l0 5zM706 2204l-3 -3l-2 -7l3 -3l3 2l0 5zM727 2195l-4 0l-2 -3l1 -3l4 -1l2 3zM748 2186l-3 1l-5 1l0 -3l0 -3l5 2zM771 2209l-4 0l-4 -4l1 -3l3 -1l4 5zM774 2200l-4 -1l1 -5l3 -6l4 5l0 5zM497 2225l-4 2l-3 -4l2 -4l4 0l2 3zM513 2208l-3 1l-7 0l-3 -4l5 -1l6 1zM534 2226l-3 2l-4 -2l-1 -3l3 -2l4 2zM538 2224l-4 1l-3 -3l-2 -3l3 -2l5 3zM563 2213l-5 1l-4 -4l0 -3l3 0l3 2zM594 2209l-5 1l0 -4l1 -3l4 0l2 3zM591 2218l3 -3l5 0l2 2l-1 2l-6 1zM613 2212l-1 -3l0 -5l2 -3l2 3l0 6zM639 2213l3 -3l6 -2l5 1l-4 4l-6 1zM665 2219l-1 -2l3 -2l3 0l-1 3l-2 1zM686 2206l-2 1l-4 -5l-1 -3l3 0l4 5zM696 2218l-1 -3l-1 -4l4 0l3 1l-2 5zM732 2214l-5 1l-6 0l-2 -3l2 -3l7 2zM747 2217l1 -4l2 -4l4 1l1 4l-3 4zM766 2217l-2 -2l3 -5l5 -3l-1 6l-2 5zM783 2211l1 -2l5 -1l4 0l-2 3l-5 2zM486 2243l-3 1l-2 -1l-1 -3l1 -1l5 1zM494 2227l0 -3l3 -3l5 -3l-1 5l-4 3zM521 2237l1 -3l2 -5l5 1l0 4l-4 4zM528 2233l0 -4l3 -4l4 2l2 4l-5 2zM553 2243l-3 -5l0 -7l3 -3l3 3l0 6zM579 2249l1 -5l2 -3l3 2l1 3l-2 3zM597 2226l0 -4l3 -6l5 1l-1 5l-2 4zM612 2244l-2 -2l-2 -2l3 -1l4 0l1 3zM643 2233l0 -1l5 -2l3 1l-2 3l-5 1zM670 2239l-4 1l-3 -2l-3 -2l4 -1l3 1zM672 2248l-4 0l0 -6l3 -2l3 1l1 5zM711 2237l-2 -1l-1 -6l1 -4l3 2l1 7zM714 2228l-3 -2l0 -7l4 -4l4 4l-2 7zM740 2244l-5 1l-4 0l-1 -4l2 -2l5 1zM761 2232l-1 -3l0 -5l3 0l3 2l-2 4zM782 2246l-1 -2l4 -2l2 2l0 3l-3 1zM497 2263l-3 2l-3 -1l-2 -2l1 -2l5 -1zM493 2264l-3 -2l3 -4l3 0l1 2l-1 4zM517 2244l-3 2l-5 -2l-2 -4l4 -1l5 1zM553 2265l-4 -3l-1 -4l2 -3l5 0l-1 5zM564 2264l1 -2l4 -1l2 1l0 3l-5 0zM587 2248l-3 1l-2 -3l1 -4l4 0l2 3zM590 2247l-1 -3l1 -6l4 -3l1 6l-1 5zM632 2259l-3 0l-4 -3l-1 -4l4 1l4 3zM638 2246l-1 -4l5 -2l4 1l-2 4l-3 3zM656 2260l-1 -3l2 -3l2 0l1 2l-1 4zM682 2259l-4 -1l-1 -7l3 -4l4 3l1 6zM705 2253l2 -4l6 -2l3 -1l-1 3l-6 4zM708 2247l-3 -2l1 -6l4 0l2 3l-1 5zM728 2261l0 -3l1 -5l3 0l1 3l-3 4zM752 2247l0 -2l3 -3l4 -2l-2 4l-2 3zM791 2265l-3 2l-5 0l-4 -3l5 -2l5 0zM477 2274l-1 -4l2 -4l4 0l1 4l-2 2zM504 2267l-5 0l-5 -3l1 -3l2 -1l4 2zM515 2277l-2 -1l2 -8l3 -1l2 2l-2 6zM543 2273l-3 -1l-1 -5l1 -2l3 0l1 5zM562 2272l-4 -1l-3 -3l-1 -2l2 0l5 2zM589 2280l-2 -4l4 -4l5 0l-1 5l-2 4zM620 2282l-6 -1l-5 -5l1 -3l4 -1l3 4zM623 2282l-1 2l-4 -2l-2 -2l3 -1l5 0zM628 2285l0 -4l3 -4l3 0l2 2l-4 5zM667 2279l1 -5l5 -3l6 -1l-2 5l-5 4zM670 2284l-3 -2l0 -3l4 -1l2 2l0 3zM701 2269l3 -4l5 -1l3 3l-2 4l-5 1zM727 2274l-5 -1l-5 -4l2 -3l4 -2l3 4zM725 2277l1 -2l2 -3l3 1l-1 3l-2 1zM752 2279l-4 1l-2 -3l2 -4l4 1l2 2zM763 2272l2 -3l5 -1l3 2l-2 4l-6 1zM482 2298l-3 2l-3 -1l2 -4l3 -2l1 3zM502 2302l-4 -4l-2 -4l2 -3l4 1l2 4zM532 2299l1 -2l3 0l2 0l-1 2l-2 1zM538 2289l0 -2l2 -4l2 -1l0 3l-2 4zM570 2286l-2 -1l1 -2l2 -2l2 2l-1 3zM573 2302l3 -3l6 -1l1 4l-2 3l-6 0zM608 2291l-4 1l-5 -3l-2 -4l4 -1l5 4zM617 2288l-1 -4l2 -2l3 2l2 3l-3 1zM627 2293l1 -3l5 -6l2 1l0 3l-5 5zM653 2289l-2 -2l1 -4l2 -4l2 3l-1 5zM692 2290l-1 4l-6 -1l-2 -3l2 -3l4 1zM693 2285l0 -2l2 -3l4 -2l0 5l-3 3zM729 2304l-2 1l-2 -3l0 -3l2 0l4 3zM731 2294l1 -2l2 0l3 2l-2 3l-3 1zM761 2289l1 -7l2 -4l4 -1l2 4l-4 4zM770 2301l-5 0l-1 -6l3 -3l4 1l2 6z" fill="#c8c820"/>
<path d="M480 2052l5 -2l3 0l1 1l0 3l-4 0zM502 2058l-1 -3l2 -2l2 -1l1 2l-1 3zM528 2050l-1 -2l0 -2l1 -2l1 1l0 4zM547 2062l-3 -1l0 -5l3 -1l2 2l1 4zM568 2067l-1 -3l2 -1l2 2l1 2l-2 2zM582 2051l-3 0l-2 -2l1 -3l2 1l3 1zM610 2061l-1 -1l1 -4l2 -1l0 2l0 3zM615 2052l-2 1l-3 -2l-1 -2l2 -1l3 1zM648 2056l-1 -2l-1 -3l1 -2l2 2l0 3zM675 2069l-1 1l-3 -1l-2 -1l2 -2l4 1zM687 2056l0 -1l1 -2l3 -2l0 3l-2 3zM712 2058l-1 2l-3 0l-1 -3l2 -2l2 1zM710 2052l-2 -2l2 -5l3 -1l1 2l-2 4zM738 2052l1 -2l3 -2l3 0l0 4l-5 3zM770 2067l-3 1l-3 -3l-1 -2l3 -1l3 2zM794 2067l-2 1l-2 0l-2 -2l2 -2l4 1zM474 2085l0 -3l3 -3l2 2l2 3l-4 1zM508 2083l-1 2l-3 -1l-1 -1l1 -2l3 0zM526 2092l-2 -2l-1 -6l1 -2l2 2l1 6zM533 2086l-2 -2l0 -2l3 0l1 1l0 2zM575 2071l-3 0l-2 -1l-2 -2l3 0l2 1zM573 2072l-1 -3l4 -1l2 2l0 3l-3 1zM596 2088l0 -2l5 -1l1 3l-2 2l-3 0zM625 2087l0 -1l2 -1l2 1l-1 2l-2 1zM651 2071l-1 1l-3 -1l-3 -1l2 -2l4 1zM657 2090l-3 0l-1 -3l0 -3l3 0l2 3zM674 2073l1 -2l2 -2l3 0l-1 3l-3 1zM703 2087l-1 -2l-2 -4l1 -3l2 4l1 3zM715 2069l-2 1l-3 -3l0 -2l2 -1l2 3zM744 2085l-2 2l-2 -1l0 -2l1 -2l2 0zM754 2089l0 -2l4 -1l1 3l-1 1l-3 1zM778 2084l2 -2l4 -1l2 2l-1 1l-4 1zM483 2102l0 -4l2 -3l3 -3l0 3l-2 5zM495 2097l-3 -1l-2 -3l2 -2l2 0l1 2zM508 2107l2 -4l4 -2l4 1l-2 3l-3 1zM549 2090l-1 -2l2 -3l2 0l1 3l-2 2zM556 2105l-2 -2l-1 -4l1 -2l2 1l1 4zM578 2098l-2 0l-1 -4l1 -4l4 2l1 4zM600 2104l-1 2l-5 0l-2 -3l3 -3l5 1zM630 2108l0 1l-2 0l-2 -2l2 -1l2 1zM641 2098l-2 -1l2 -3l3 -4l0 5l-1 3zM673 2111l-2 -2l1 -4l1 -2l2 2l-1 3zM672 2109l-1 -3l1 -4l2 -1l1 2l-1 5zM708 2104l0 -2l4 -1l3 2l-4 1l-3 1zM713 2100l-2 -1l-1 -2l2 -2l2 1l0 2zM745 2092l-2 -3l3 -4l2 -1l2 3l-2 4zM754 2104l2 -3l4 -1l1 1l-1 2l-2 0zM772 2100l-1 -2l1 -2l2 -2l1 3l-1 2zM497 2119l-2 1l-3 -2l1 -2l2 0l2 1zM497 2113l0 -3l4 -3l3 1l0 3l-4 2zM519 2114l-2 1l-3 0l-2 -2l2 0l3 0zM534 2115l-3 -1l-2 -3l2 -2l3 1l2 2zM573 2114l-3 1l-3 1l0 -3l1 -1l4 0zM589 2123l0 -2l2 -1l1 3l0 2l-2 1zM613 2117l-1 3l-6 0l0 -3l1 -2l5 0zM627 2118l-2 -1l-2 -3l1 -2l2 1l2 3zM642 2131l-2 -2l-1 -3l1 -2l2 1l2 3zM660 2129l-3 -1l-1 -4l1 -2l3 0l1 4zM677 2129l2 -1l2 -1l1 1l0 2l-3 0zM707 2114l-1 -3l-1 -4l3 -2l1 2l0 5zM722 2125l1 -1l3 -1l1 1l0 1l-3 1zM751 2129l-1 -1l0 -4l1 -1l2 2l-1 3zM752 2126l-2 -3l5 -3l2 2l0 2l-3 2zM790 2108l-2 0l0 -2l1 -4l2 3l1 2zM486 2142l-1 -2l2 -1l2 1l0 3l-2 0zM494 2129l-1 -3l1 -2l2 -1l1 2l-1 3zM526 2150l-2 -2l-2 -2l1 -2l2 1l2 2zM552 2148l-2 1l-5 1l-2 -4l4 -1l4 0zM554 2132l0 -3l4 -1l2 3l-2 2l-3 1zM572 2132l0 -1l3 -1l2 0l-1 2l-2 0zM610 2149l-3 -1l-1 -2l1 -4l3 1l1 4zM630 2149l-2 0l-3 -2l2 -3l3 0l2 3zM651 2148l0 -2l3 0l3 0l-1 2l-3 1zM662 2139l2 -1l3 -1l1 2l-1 1l-3 0zM679 2140l1 -3l3 -2l2 2l0 3l-3 1zM695 2137l-3 1l-3 -2l0 -3l2 0l3 1zM726 2147l0 -3l4 -3l2 1l-1 2l-3 3zM739 2131l-1 -2l1 -2l1 -1l2 1l-1 4zM753 2134l-2 -2l1 -2l3 0l2 1l-2 3zM789 2146l-3 -2l-1 -2l3 -2l2 1l1 3zM492 2146l-3 0l-2 -1l-1 -2l2 -1l3 1zM510 2158l-3 1l-2 -2l-1 -4l4 1l2 2zM534 2155l-2 -1l0 -3l2 -5l2 4l1 4zM541 2149l-1 -2l3 -2l3 0l-1 2l-2 2zM562 2158l0 -2l1 -3l3 0l0 2l-2 3zM597 2152l-4 1l-2 -2l-1 -2l2 -3l4 2zM612 2158l-3 -3l-1 -3l0 -2l2 1l2 4zM634 2158l-1 2l-3 -2l0 -2l2 -2l3 2zM634 2167l-1 -2l3 -5l3 -1l0 3l-3 5zM663 2158l-2 -3l0 -4l2 -2l1 3l0 2zM682 2164l0 -3l2 -1l3 0l0 3l-2 2zM694 2165l-2 -1l2 -2l2 -2l0 3l-1 2zM711 2157l-2 -1l0 -2l1 -3l2 3l0 2zM739 2150l0 -2l3 -1l3 0l-1 3l-3 1zM770 2162l-2 0l-2 -4l0 -2l3 0l2 4zM789 2156l-2 -1l0 -2l1 -3l3 0l0 4zM490 2184l-1 -2l3 -1l5 -1l-1 4l-4 2zM516 2189l-3 -1l-3 -4l-1 -3l3 1l3 4zM514 2183l3 -3l4 0l4 0l-3 2l-4 2zM549 2169l-3 -2l1 -4l1 -5l3 4l0 4zM559 2186l-1 -3l3 -2l2 1l1 3l-3 1zM578 2178l-3 0l-1 -5l1 -3l3 1l1 5zM614 2177l-2 1l-2 -3l0 -3l3 -1l2 4zM634 2177l-2 0l-4 -3l1 -1l1 -1l3 2zM632 2183l2 -2l3 -2l2 3l-1 4l-4 -1zM665 2173l2 -2l2 0l2 1l-1 4l-3 -1zM678 2165l0 -3l4 0l1 2l-2 2l-2 1zM700 2173l1 -2l3 -3l2 1l0 2l-3 2zM726 2181l0 -2l4 -2l2 2l-1 1l-3 3zM747 2177l1 -4l1 -3l3 1l0 2l-1 3zM764 2186l-2 -4l-1 -3l1 -2l3 1l0 4zM772 2181l-2 1l-4 -3l-1 -4l4 2l3 2zM477 2194l-3 -3l-1 -3l1 -1l2 0l1 3zM498 2201l0 -2l3 -1l4 1l-1 3l-5 1zM516 2192l1 -2l2 -2l2 1l0 2l-3 2zM533 2203l-2 1l-2 -2l1 -3l3 0l1 3zM570 2192l-1 -1l-3 -3l0 -2l3 1l2 4zM570 2192l0 -3l2 -3l1 1l1 1l-2 3zM608 2198l-1 1l-2 -1l-1 -2l2 -1l3 1zM636 2204l-5 1l-3 0l-4 -1l4 -2l4 0zM648 2185l-1 1l-3 0l-4 -2l4 0l3 0zM659 2208l-2 -2l0 -4l0 -2l2 2l1 4zM680 2205l-2 -2l0 -3l2 -2l3 2l0 4zM706 2202l-3 -3l-1 -4l2 -2l2 1l0 4zM726 2194l-3 0l-1 -2l1 -2l2 -1l2 2zM747 2186l-3 1l-3 0l0 -2l0 -2l3 1zM770 2208l-3 0l-3 -3l1 -2l2 -1l3 3zM774 2199l-3 -1l1 -3l2 -4l3 3l0 4zM496 2225l-3 1l-2 -3l2 -3l3 0l1 3zM511 2207l-2 2l-4 -1l-3 -2l4 -1l4 0zM533 2226l-2 1l-3 -1l-1 -2l2 -2l3 1zM537 2223l-3 1l-2 -2l-2 -2l3 -2l4 3zM562 2212l-4 0l-3 -2l0 -2l2 -1l3 2zM593 2209l-3 0l0 -3l1 -2l3 0l1 2zM592 2218l2 -3l4 1l2 1l-1 2l-4 0zM613 2211l-1 -3l0 -4l2 -2l2 3l-1 4zM641 2213l2 -3l4 -1l4 1l-3 3l-4 1zM666 2219l-1 -2l2 -1l2 0l-1 2l-1 1zM685 2205l-1 1l-3 -4l-1 -2l2 0l3 4zM697 2217l-1 -2l-1 -3l2 0l3 1l-1 3zM730 2213l-3 1l-5 0l-1 -2l1 -2l5 2zM749 2216l0 -3l2 -3l2 1l1 2l-2 4zM766 2216l-1 -1l2 -4l4 -2l-1 5l-1 3zM784 2211l1 -2l4 -1l3 1l-2 2l-4 1zM485 2243l-2 0l-2 -1l0 -1l1 -2l3 2zM494 2226l1 -2l2 -2l3 -2l0 3l-3 3zM522 2237l0 -3l2 -3l4 0l0 3l-3 3zM529 2232l0 -3l2 -3l3 1l2 3l-4 2zM553 2241l-2 -4l0 -5l2 -2l2 2l0 4zM580 2248l1 -4l1 -2l3 1l0 3l-1 2zM598 2225l0 -3l2 -4l4 0l-1 4l-2 3zM612 2243l-2 -1l-1 -1l2 -2l3 1l1 2zM644 2233l0 -1l3 -2l2 2l-1 1l-3 1zM669 2239l-3 0l-3 -1l-2 -2l3 0l3 1zM672 2247l-3 0l0 -4l2 -2l2 1l1 4zM711 2235l-2 0l0 -5l0 -3l2 2l1 6zM714 2227l-2 -1l0 -6l3 -3l3 3l-1 5zM738 2244l-3 0l-4 0l0 -2l1 -2l4 1zM762 2231l-2 -3l1 -3l2 0l2 1l-1 3zM782 2246l0 -2l3 -1l1 1l1 2l-3 1zM496 2262l-2 2l-3 0l-1 -2l1 -2l4 0zM493 2263l-2 -2l2 -2l2 0l2 1l-1 3zM516 2243l-3 2l-3 -2l-2 -3l4 0l3 0zM553 2264l-4 -3l0 -3l2 -2l3 0l-1 3zM565 2264l1 -2l3 -1l1 2l0 1l-4 0zM587 2248l-3 0l-1 -2l1 -3l2 0l2 2zM591 2246l-1 -2l0 -4l4 -3l0 5l0 3zM631 2259l-2 0l-3 -3l-1 -2l3 0l3 2zM639 2246l-1 -3l3 -2l4 1l-2 3l-2 2zM656 2259l0 -2l1 -2l1 -1l1 2l0 3zM682 2257l-3 0l-1 -5l2 -3l3 2l1 4zM707 2252l1 -3l4 -2l3 0l-1 2l-4 3zM708 2246l-2 -2l1 -4l3 0l1 2l0 4zM728 2260l0 -2l2 -4l2 0l0 2l-2 4zM753 2247l0 -2l1 -2l3 -2l-1 3l-2 2zM790 2265l-3 1l-3 0l-3 -2l3 -1l4 0zM477 2273l0 -3l1 -3l3 0l1 3l-2 2zM502 2266l-4 0l-3 -2l0 -2l2 -1l3 1zM516 2276l-2 -1l1 -6l2 -1l2 2l-2 4zM543 2272l-2 -1l-1 -3l0 -2l2 0l1 3zM561 2271l-4 -1l-2 -2l-1 -1l2 -1l4 2zM589 2279l-1 -3l3 -2l4 0l-1 3l-2 3zM618 2280l-4 -1l-4 -3l1 -2l3 -1l2 3zM622 2281l0 2l-4 -1l-1 -2l2 -1l4 0zM629 2283l0 -3l2 -2l2 0l2 1l-3 4zM669 2278l0 -4l4 -2l4 -1l-1 4l-4 3zM670 2284l-2 -2l0 -3l3 0l1 2l0 2zM703 2268l2 -2l4 -1l2 2l-1 3l-4 1zM726 2272l-4 0l-3 -3l1 -3l3 0l2 2zM726 2276l0 -1l2 -3l2 2l0 1l-2 2zM752 2279l-3 1l-2 -3l1 -3l3 1l2 1zM764 2272l2 -3l3 0l3 2l-1 2l-5 1zM481 2298l-2 1l-2 -1l1 -2l3 -2l1 2zM501 2300l-3 -3l-1 -3l2 -2l3 1l1 3zM533 2299l1 -2l2 0l2 1l-1 1l-2 0zM539 2288l-1 -2l2 -2l2 -1l-1 2l-1 3zM570 2285l-1 0l1 -2l1 -1l1 1l0 2zM574 2302l3 -3l4 0l1 3l-1 2l-5 0zM606 2291l-3 0l-3 -2l-1 -3l3 -1l3 3zM617 2287l0 -2l1 -2l2 1l2 2l-2 1zM628 2292l1 -3l3 -4l2 1l0 2l-3 4zM653 2288l-1 -1l0 -4l2 -2l1 1l-1 5zM691 2290l-1 3l-4 -1l-2 -2l2 -2l3 0zM694 2285l0 -2l1 -2l3 -1l0 3l-2 2zM728 2304l-1 0l-2 -2l0 -2l2 0l3 2zM732 2294l0 -2l2 0l2 2l-1 2l-3 1zM762 2287l1 -5l1 -3l4 -1l1 3l-3 3zM769 2300l-3 0l-1 -5l2 -2l3 1l2 4z" fill="#48d830"/>
<path d="M483 2052l3 -1l1 -1l1 1l0 2l-2 -1zM528 2048l0 0l0 -2l0 -1l1 1l0 2zM547 2060l-1 0l0 -3l1 -1l1 1l1 2zM569 2067l-1 -2l2 0l1 0l0 1l-1 1zM688 2055l-1 0l1 -1l2 -1l0 2l-1 1zM711 2050l-1 -1l1 -3l1 0l1 1l-1 2zM792 2067l-1 1l-1 -1l-1 -1l1 -1l2 1zM507 2083l-1 1l-1 0l-1 -1l0 -1l2 0zM573 2070l-2 0l-1 -1l0 -1l1 0l1 1zM675 2072l0 -1l1 -1l2 0l-1 2l-1 0zM703 2085l-1 0l-1 -2l1 -2l1 2l0 1zM743 2085l-1 1l-2 -1l0 -1l1 -1l1 0zM494 2095l-2 0l-1 -2l1 -1l1 0l1 1zM550 2088l0 -1l1 -1l1 0l0 1l-1 1zM556 2103l-2 -1l0 -2l1 -1l1 0l0 2zM599 2104l-1 1l-3 0l0 -2l1 -1l2 0zM630 2108l-1 0l-1 0l-1 -1l1 0l1 0zM672 2107l0 -2l0 -2l1 0l1 1l0 2zM713 2099l-1 0l-1 -2l1 -1l1 1l0 1zM746 2090l-1 -2l1 -2l2 0l0 1l-1 2zM517 2114l-1 0l-1 0l-2 -1l2 0l1 0zM571 2114l-1 0l-2 1l0 -1l1 -1l1 0zM590 2123l0 -1l1 0l0 1l0 1l-1 0zM611 2117l0 2l-3 -1l0 -1l0 -1l3 0zM642 2129l-2 -1l0 -2l0 -1l1 1l1 1zM573 2132l0 -1l2 0l1 -1l-1 1l-1 1zM652 2148l0 -1l2 -1l1 1l0 1l-2 0zM664 2139l1 -1l2 0l0 1l0 0l-2 0zM681 2139l1 -2l1 0l1 1l0 1l-1 0zM693 2136l-1 0l-2 -1l0 -1l1 0l2 0zM789 2144l-2 -1l0 -1l1 -1l1 1l1 1zM595 2151l-2 0l-1 -1l-1 -1l1 -1l2 1zM683 2163l0 -1l1 -1l2 0l0 2l-1 1zM694 2165l-1 -1l1 -1l1 -1l0 1l0 2zM789 2155l-1 -1l0 -1l0 -1l2 0l0 2zM517 2182l1 -1l2 0l2 0l-1 1l-2 1zM549 2167l-2 -1l0 -2l1 -3l2 2l0 2zM577 2176l-1 0l0 -2l0 -2l1 1l1 2zM613 2176l-1 0l-1 -1l0 -2l2 0l1 2zM728 2180l0 -1l2 0l0 0l0 1l-1 1zM749 2175l0 -2l1 -2l1 1l0 1l0 1zM476 2191l-2 -1l0 -2l0 0l1 0l1 1zM517 2191l1 -1l1 -1l1 1l-1 1l-1 1zM533 2203l-1 0l-1 -1l0 -1l2 0l0 1zM571 2190l0 -1l1 -2l1 0l0 1l-1 2zM705 2199l-1 -1l-1 -3l1 -1l1 1l0 2zM774 2198l-1 -1l0 -1l1 -2l1 1l0 2zM495 2224l-1 0l-1 -1l1 -2l1 0l1 2zM531 2225l-1 1l-1 -1l-1 -1l1 -1l1 1zM728 2213l-2 0l-3 0l0 -1l0 -1l3 1zM496 2225l0 -1l1 -1l2 -1l-1 1l-1 2zM524 2235l0 -1l1 -2l1 0l0 2l-1 1zM553 2237l-1 -2l0 -2l1 -1l1 1l0 2zM644 2233l0 -1l2 0l1 0l-1 1l-1 1zM667 2238l-1 0l-2 0l-1 -1l2 -1l1 1zM710 2234l0 0l-1 -3l1 -1l1 1l0 2zM715 2225l-2 0l0 -3l2 -2l1 2l0 2zM566 2263l0 0l2 -1l0 1l0 1l-2 0zM586 2247l-1 0l-1 -1l0 -1l2 -1l1 2zM657 2258l0 -1l0 -1l1 -1l0 1l0 2zM788 2265l-1 0l-2 0l-2 -1l2 -1l2 1zM516 2274l-1 -1l1 -3l1 0l1 1l-1 2zM590 2278l0 -1l1 -2l2 0l0 2l-1 1zM616 2278l-2 0l-2 -2l0 -1l2 0l1 1zM705 2268l1 -1l2 -1l1 1l0 2l-2 0zM534 2299l1 -1l1 0l1 0l-1 1l-1 0zM570 2285l0 0l0 -1l1 -1l1 1l-1 1zM577 2302l1 -1l2 -1l0 2l0 1l-2 0zM618 2286l0 -1l1 -1l1 1l0 1l-1 0zM728 2303l-1 0l-1 -1l0 -1l1 0l1 1zM732 2294l1 -1l1 0l0 1l0 1l-1 0zM764 2284l0 -2l1 -2l2 0l0 2l-1 1zM769 2298l-2 1l0 -3l1 -1l1 0l1 3z" fill="#e8e040"/>
<path d="M570 2065l-1.3 1.0M709 2057l2.2 0.3M504 2083l1.5 0.1M576 2071l-2.6 0.9M599 2088l-2.6 0.2M627 2087l-0.1 0.0M756 2089l-0.8 0.1M492 2092l1.0 1.8M628 2108l1.5 0.3M673 2105l-0.0 1.7M747 2086l-1.2 2.7M759 2102l-0.2 0.1M773 2097l-0.5 1.3M502 2109l-2.4 1.7M608 2117l2.6 0.2M658 2124l0.2 0.5M726 2124l-0.7 0.3M629 2147l0.1 0.2M740 2127l-0.6 1.6M488 2144l1.8 0.8M507 2156l1.1 1.0M543 2147l-1.4 1.2M609 2153l0.5 1.1M742 2149l-2.2 1.0M768 2159l0.8 1.3M493 2183l-1.8 1.3M512 2184l1.7 1.9M561 2184l-0.5 0.4M576 2174l0.6 2.0M668 2173l-0.3 0.0M681 2164l-2.9 0.3M730 2179l-1.4 0.7M751 2172l-1.2 1.8M500 2201l-0.2 0.1M532 2201l1.0 1.4M573 2187l-1.6 2.4M629 2204l1.6 0.0M704 2195l0.6 2.7M724 2192l0.4 0.4M598 2217l-1.0 0.1M614 2206l-0.1 1.6M723 2212l2.9 0.5M482 2241l1.9 0.8M497 2223l-1.2 1.3M671 2243l0.5 2.4M732 2242l2.9 0.8M512 2242l1.3 0.5M585 2245l1.1 1.6M658 2255l-0.9 2.3M681 2253l0.3 1.2M480 2269l-0.8 1.3M497 2263l0.0 0.0M517 2271l-0.3 1.5M541 2268l0.5 1.2M556 2267l1.1 0.8M670 2280l-0.5 2.9M730 2274l-1.9 1.3M768 2271l-0.9 0.2" fill="none" stroke="#2050a0" stroke-width="3" stroke-linecap="round" opacity="0.6"/>
</g>
<rect x="755.2" y="2293.1" width="29" height="3" fill="#eee"/>
<text x="769.7" y="2290.1" font-size="10" font-weight="bold" fill="#ddd" text-anchor="middle">10μm</text>
<rect x="795.6" y="1270.2" width="315.7" height="253.8" fill="#060000"/>
<g clip-path="url(#c02)" filter="url(#mb)">
<path d="M803 1285l12 7M850 1285l5 14M865 1289l-15 6M894 1273l10 5M963 1292l7 13M1054 1290l-7 16M1064 1284l-9 1M1088 1277l11 4M1109 1287l12 8M829 1310l-17 6M903 1298l0 16M961 1297l-15 12M1019 1314l2 7M1059 1312l6 13M1092 1301l12 12M1116 1300l7 14M837 1324l-7 8M861 1327l3 18M881 1319l3 9M941 1310l7 16M976 1309l6 2M1005 1324l12 4M1015 1327l-16 3M1049 1315l-6 8M1072 1326l3 17M1085 1327l-8 11M1108 1312l-5 17M799 1334l13 2M838 1346l-9 17M878 1344l8 14M921 1335l12 1M1010 1338l-8 11M1090 1330l-11 13M816 1351l-6 17M870 1345l17 5M900 1361l-11 3M937 1355l-11 0M981 1345l9 1M999 1366l-1 16M1060 1347l14 1M1112 1352l2 17M831 1380l-2 7M872 1365l10 14M877 1381l9 3M925 1371l-0 15M1004 1362l20 3M1009 1372l-4 9M1044 1370l20 2M1061 1382l1 16M1076 1386l0 15M1091 1372l-16 2M825 1381l-3 12M854 1392l9 13M866 1391l10 6M880 1397l1 6M901 1389l-7 4M936 1399l-13 3M984 1384l5 21M1013 1388l18 7M1025 1385l-4 8M1062 1380l9 5M1091 1386l-0 18M1115 1387l8 5M868 1405l-16 7M917 1411l21 5M940 1407l-4 6M973 1410l0 10M1001 1401l1 15M1005 1412l6 19M1050 1401l-21 6M1048 1405l-7 2M1085 1401l-11 6M824 1438l-3 14M875 1430l12 14M922 1420l4 15M939 1430l4 7M944 1419l-13 6M1002 1418l10 0M1005 1437l-4 11M1026 1422l-3 6M1058 1439l1 14M1088 1416l-17 3M1105 1433l7 5M811 1446l12 1M843 1457l-3 10M875 1442l-7 2M917 1448l-13 5M932 1450l-16 5M976 1446l-11 7M1020 1445l10 5M1055 1449l-5 16M1089 1445l-8 5M834 1467l6 7M848 1467l21 4M863 1455l5 7M888 1468l15 4M912 1464l-19 10M946 1459l-10 16M987 1465l12 1M991 1462l-9 4M1046 1451l10 3M1073 1471l4 6M807 1485l9 2M861 1488l-15 12M888 1475l2 8M897 1477l-0 12M941 1487l3 9M958 1475l6 5M976 1477l17 10M1003 1481l10 15M1015 1490l15 15M1036 1472l5 6M1076 1484l10 0M1071 1491l-6 13M1095 1475l-2 10M843 1496l13 0M857 1501l-21 3M904 1500l10 14M963 1497l3 12M959 1509l-15 13M1018 1492l8 14M1024 1508l-1 12M1034 1509l-9 8M1070 1498l-9 18M1079 1506l13 10M1108 1489l16 0M821 1527l-2 17M862 1518l-6 8M886 1522l-5 8M911 1525l11 2M940 1520l13 4M959 1521l7 17M993 1516l-7 10M1011 1508l-7 2M1049 1522l2 14M1081 1510l-9 15M1099 1514l-5 16" fill="none" stroke="#ea1a12" stroke-width="1" stroke-linecap="round" opacity="0.25"/>
<path d="M955 1313h.1M907 1474h.1M1016 1313h.1M1075 1488h.1M809 1433h.1M915 1290h.1M896 1433h.1M830 1352h.1M1013 1329h.1M1072 1415h.1M995 1280h.1M817 1425h.1M850 1403h.1M1079 1420h.1M936 1296h.1M835 1333h.1M1097 1461h.1M849 1282h.1M1102 1515h.1M964 1339h.1M965 1497h.1M875 1469h.1M952 1409h.1M1092 1273h.1M890 1295h.1M850 1489h.1M806 1512h.1M908 1424h.1M951 1298h.1M874 1320h.1M900 1272h.1M977 1332h.1M1011 1409h.1M1061 1513h.1M896 1431h.1M1042 1347h.1M984 1456h.1M1067 1464h.1M953 1396h.1M916 1433h.1M1105 1275h.1M1011 1454h.1M930 1275h.1M881 1502h.1M1035 1442h.1M1092 1497h.1M800 1383h.1M1016 1472h.1M945 1287h.1M991 1440h.1M925 1278h.1M854 1313h.1M947 1479h.1M845 1358h.1M861 1302h.1M849 1409h.1M1041 1509h.1M1085 1515h.1M963 1467h.1M883 1434h.1M1063 1343h.1M859 1331h.1M989 1439h.1M930 1327h.1M951 1309h.1M1048 1484h.1M830 1365h.1M1077 1335h.1M1063 1497h.1M1019 1447h.1M923 1334h.1M934 1290h.1M834 1432h.1M875 1331h.1M1096 1445h.1M952 1404h.1M804 1506h.1M925 1341h.1M851 1461h.1M965 1402h.1M940 1516h.1M1106 1381h.1M820 1519h.1M877 1481h.1M797 1470h.1M944 1493h.1M868 1421h.1M1106 1357h.1M816 1492h.1M1031 1272h.1M906 1307h.1M925 1470h.1M974 1376h.1M949 1460h.1M818 1390h.1M1004 1438h.1M951 1511h.1M903 1291h.1M1074 1496h.1M997 1508h.1M956 1390h.1M917 1375h.1M925 1374h.1M876 1373h.1M819 1291h.1M1008 1394h.1M1066 1411h.1M829 1418h.1M1013 1467h.1M1026 1514h.1M876 1410h.1M882 1302h.1M1047 1305h.1M844 1370h.1M858 1292h.1M845 1453h.1M950 1510h.1M881 1359h.1M946 1388h.1M1048 1475h.1M968 1351h.1M986 1312h.1M1081 1295h.1M973 1478h.1M854 1357h.1M981 1474h.1M1107 1508h.1M1094 1470h.1M994 1298h.1M1095 1387h.1M1006 1369h.1M1074 1442h.1M1023 1490h.1M902 1370h.1M920 1357h.1M796 1363h.1M1097 1421h.1M947 1502h.1M956 1447h.1M1015 1466h.1M814 1475h.1M912 1423h.1M814 1431h.1M868 1351h.1M1057 1429h.1M1111 1482h.1M1051 1377h.1M902 1373h.1M1109 1479h.1M987 1364h.1" fill="none" stroke="#ea1a12" stroke-width="1.8" stroke-linecap="round" opacity="0.6"/>
<path d="M804 1283h.1M799 1281h.1M792 1277h.1M826 1285h.1M831 1282h.1M846 1271h.1M843 1273h.1M846 1280h.1M862 1276h.1M857 1284h.1M860 1282h.1M868 1285h.1M864 1288h.1M874 1286h.1M886 1268h.1M890 1267h.1M916 1271h.1M924 1272h.1M939 1284h.1M941 1295h.1M937 1296h.1M961 1292h.1M963 1295h.1M976 1291h.1M971 1290h.1M977 1292h.1M996 1284h.1M1003 1270h.1M1037 1270h.1M1034 1267h.1M1042 1275h.1M1050 1286h.1M1055 1285h.1M1057 1283h.1M1067 1281h.1M1089 1275h.1M1092 1277h.1M1108 1290h.1M1108 1282h.1M810 1311h.1M824 1299h.1M823 1300h.1M828 1291h.1M828 1308h.1M834 1312h.1M841 1306h.1M861 1299h.1M875 1291h.1M876 1295h.1M901 1292h.1M904 1294h.1M903 1284h.1M920 1304h.1M945 1295h.1M949 1297h.1M964 1297h.1M960 1301h.1M993 1304h.1M995 1305h.1M1000 1304h.1M1014 1303h.1M1013 1302h.1M1020 1309h.1M1020 1308h.1M1013 1305h.1M1057 1301h.1M1057 1309h.1M1060 1299h.1M1061 1299h.1M1058 1293h.1M1091 1297h.1M1088 1295h.1M1088 1300h.1M1114 1292h.1M1115 1294h.1M1108 1293h.1M805 1315h.1M801 1317h.1M831 1315h.1M835 1324h.1M836 1327h.1M859 1324h.1M879 1312h.1M906 1323h.1M906 1332h.1M911 1308h.1M939 1303h.1M942 1312h.1M958 1318h.1M965 1303h.1M968 1308h.1M990 1323h.1M1005 1322h.1M1001 1326h.1M1015 1316h.1M1014 1324h.1M1055 1308h.1M1056 1306h.1M1072 1320h.1M1072 1324h.1M1075 1325h.1M1095 1312h.1M1092 1314h.1M1094 1318h.1M1105 1312h.1M1109 1308h.1M1107 1307h.1M796 1336h.1M796 1332h.1M801 1339h.1M831 1324h.1M825 1321h.1M836 1347h.1M838 1345h.1M844 1339h.1M873 1340h.1M893 1331h.1M921 1332h.1M916 1333h.1M941 1330h.1M941 1325h.1M939 1327h.1M950 1336h.1M978 1326h.1M976 1322h.1M979 1322h.1M1016 1337h.1M1007 1333h.1M1029 1337h.1M1050 1336h.1M1049 1338h.1M1054 1338h.1M1061 1348h.1M1095 1324h.1M1090 1331h.1M1093 1335h.1M1091 1336h.1M1096 1337h.1M795 1355h.1M818 1341h.1M842 1361h.1M850 1357h.1M845 1360h.1M884 1352h.1M907 1344h.1M938 1359h.1M933 1352h.1M937 1358h.1M974 1346h.1M981 1339h.1M979 1346h.1M1000 1354h.1M1040 1353h.1M1034 1359h.1M1035 1353h.1M1043 1343h.1M1057 1342h.1M1054 1348h.1M1070 1342h.1M1071 1345h.1M1062 1349h.1M1080 1344h.1M1112 1342h.1M1108 1341h.1M797 1374h.1M835 1381h.1M847 1375h.1M872 1363h.1M865 1357h.1M870 1378h.1M904 1358h.1M923 1367h.1M929 1371h.1M923 1360h.1M941 1366h.1M947 1367h.1M945 1369h.1M948 1376h.1M954 1385h.1M954 1377h.1M977 1361h.1M994 1355h.1M990 1360h.1M998 1358h.1M1015 1357h.1M1016 1359h.1M1024 1373h.1M1024 1371h.1M1024 1373h.1M1035 1371h.1M1062 1365h.1M1057 1382h.1M1062 1384h.1M1075 1376h.1M1103 1367h.1M1091 1368h.1M794 1390h.1M793 1388h.1M799 1390h.1M822 1377h.1M825 1376h.1M847 1381h.1M859 1390h.1M860 1385h.1M855 1390h.1M882 1390h.1M882 1396h.1M907 1389h.1M905 1389h.1M907 1386h.1M927 1397h.1M927 1393h.1M937 1398h.1M948 1400h.1M939 1395h.1M950 1382h.1M976 1382h.1M981 1375h.1M1031 1373h.1M1060 1380h.1M1059 1383h.1M1064 1395h.1M1063 1396h.1M1094 1384h.1M1091 1385h.1M1119 1386h.1M1117 1388h.1M790 1409h.1M824 1397h.1M830 1402h.1M870 1401h.1M872 1404h.1M871 1402h.1M879 1403h.1M886 1409h.1M908 1404h.1M910 1396h.1M908 1401h.1M915 1410h.1M942 1401h.1M974 1407h.1M971 1410h.1M973 1407h.1M997 1399h.1M1003 1398h.1M996 1398h.1M1004 1408h.1M1014 1412h.1M1015 1412h.1M1045 1401h.1M1058 1395h.1M1057 1404h.1M1063 1404h.1M1053 1408h.1M1095 1400h.1M1107 1390h.1M801 1429h.1M824 1437h.1M851 1434h.1M863 1420h.1M873 1422h.1M878 1413h.1M875 1421h.1M895 1420h.1M896 1417h.1M890 1418h.1M919 1415h.1M934 1430h.1M951 1419h.1M949 1413h.1M949 1418h.1M973 1419h.1M989 1413h.1M991 1422h.1M999 1415h.1M1007 1431h.1M1027 1414h.1M1031 1415h.1M1055 1420h.1M1053 1422h.1M1055 1443h.1M1094 1416h.1M1104 1429h.1M826 1443h.1M825 1442h.1M841 1449h.1M842 1450h.1M856 1447h.1M863 1449h.1M879 1440h.1M887 1444h.1M879 1439h.1M891 1438h.1M894 1443h.1M897 1437h.1M916 1449h.1M916 1454h.1M938 1446h.1M963 1444h.1M958 1436h.1M967 1452h.1M974 1443h.1M983 1443h.1M978 1441h.1M989 1451h.1M1021 1446h.1M1040 1426h.1M1059 1441h.1M1050 1452h.1M1055 1453h.1M1082 1458h.1M1086 1447h.1M1088 1447h.1M816 1470h.1M815 1474h.1M833 1459h.1M862 1453h.1M909 1456h.1M922 1458h.1M944 1454h.1M946 1459h.1M983 1462h.1M978 1462h.1M1020 1459h.1M1018 1459h.1M1021 1458h.1M1030 1455h.1M1036 1455h.1M1032 1450h.1M1067 1468h.1M1080 1447h.1M1085 1448h.1M1101 1455h.1M1100 1456h.1M1101 1463h.1M808 1485h.1M803 1484h.1M834 1464h.1M848 1477h.1M848 1471h.1M846 1475h.1M874 1479h.1M889 1470h.1M896 1463h.1M899 1467h.1M896 1469h.1M923 1471h.1M924 1474h.1M936 1485h.1M953 1470h.1M951 1469h.1M955 1474h.1M971 1468h.1M969 1477h.1M1004 1477h.1M1032 1466h.1M1072 1481h.1M1071 1483h.1M1072 1488h.1M1075 1478h.1M820 1497h.1M815 1497h.1M835 1494h.1M874 1499h.1M863 1502h.1M881 1496h.1M883 1500h.1M883 1496h.1M895 1491h.1M901 1496h.1M894 1493h.1M923 1492h.1M965 1493h.1M966 1508h.1M995 1499h.1M985 1499h.1M987 1490h.1M1022 1491h.1M1028 1496h.1M1041 1505h.1M1046 1502h.1M1071 1498h.1M1072 1504h.1M1073 1502h.1M1073 1502h.1M1095 1484h.1M1101 1494h.1M1091 1488h.1M792 1509h.1M823 1517h.1M824 1519h.1M845 1516h.1M858 1521h.1M886 1519h.1M884 1521h.1M883 1522h.1M908 1524h.1M917 1530h.1M916 1530h.1M917 1525h.1M939 1515h.1M961 1511h.1M974 1503h.1M972 1509h.1M994 1515h.1M1019 1503h.1M1021 1504h.1M1022 1504h.1M1053 1526h.1M1045 1523h.1M1051 1521h.1M1080 1525h.1M1078 1526h.1M1078 1529h.1M1086 1509h.1M1083 1510h.1M1103 1501h.1M1103 1507h.1" fill="none" stroke="#ea1a12" stroke-width="3.6" stroke-linecap="round"/>
<path d="M804 1286h.1M801 1289h.1M802 1282h.1M834 1275h.1M834 1281h.1M827 1292h.1M847 1279h.1M845 1273h.1M845 1267h.1M858 1286h.1M858 1278h.1M871 1283h.1M886 1264h.1M925 1276h.1M918 1278h.1M967 1302h.1M985 1292h.1M974 1288h.1M980 1284h.1M997 1283h.1M998 1278h.1M995 1276h.1M997 1272h.1M1040 1263h.1M1042 1265h.1M1060 1288h.1M1078 1283h.1M1097 1284h.1M811 1314h.1M812 1301h.1M818 1300h.1M826 1304h.1M828 1292h.1M830 1293h.1M835 1303h.1M838 1302h.1M859 1297h.1M874 1290h.1M946 1296h.1M965 1294h.1M959 1296h.1M973 1281h.1M1000 1303h.1M992 1293h.1M1015 1295h.1M1009 1301h.1M1013 1302h.1M1013 1306h.1M1017 1303h.1M1056 1301h.1M1050 1298h.1M1063 1289h.1M1086 1295h.1M1091 1297h.1M1093 1302h.1M1109 1299h.1M799 1326h.1M806 1325h.1M834 1311h.1M837 1324h.1M864 1331h.1M860 1329h.1M860 1321h.1M881 1311h.1M873 1304h.1M879 1313h.1M899 1328h.1M905 1333h.1M907 1326h.1M918 1315h.1M904 1318h.1M913 1317h.1M941 1313h.1M949 1327h.1M975 1312h.1M969 1306h.1M1000 1326h.1M1006 1317h.1M1017 1320h.1M1006 1319h.1M1020 1327h.1M1059 1304h.1M1072 1315h.1M1086 1321h.1M1087 1321h.1M1110 1305h.1M797 1336h.1M804 1336h.1M819 1321h.1M832 1326h.1M826 1324h.1M839 1353h.1M836 1342h.1M879 1324h.1M876 1325h.1M880 1338h.1M893 1318h.1M920 1331h.1M936 1341h.1M951 1339h.1M949 1340h.1M976 1330h.1M993 1326h.1M992 1326h.1M1016 1343h.1M1010 1328h.1M1025 1342h.1M1022 1337h.1M1044 1333h.1M1052 1343h.1M1066 1341h.1M1070 1347h.1M1068 1337h.1M1098 1325h.1M1094 1330h.1M1101 1323h.1M1090 1338h.1M1098 1334h.1M802 1362h.1M792 1366h.1M795 1364h.1M814 1354h.1M810 1356h.1M844 1362h.1M855 1358h.1M859 1337h.1M888 1353h.1M889 1357h.1M910 1361h.1M902 1363h.1M910 1367h.1M901 1355h.1M913 1349h.1M906 1349h.1M931 1353h.1M936 1361h.1M934 1355h.1M952 1353h.1M978 1344h.1M986 1352h.1M983 1344h.1M982 1339h.1M1004 1362h.1M1033 1350h.1M1062 1345h.1M1039 1351h.1M1060 1348h.1M1073 1340h.1M1064 1346h.1M1068 1340h.1M1084 1345h.1M1107 1345h.1M800 1368h.1M797 1368h.1M803 1371h.1M833 1378h.1M844 1374h.1M865 1359h.1M877 1379h.1M868 1377h.1M872 1380h.1M897 1354h.1M924 1370h.1M922 1356h.1M928 1371h.1M946 1371h.1M957 1387h.1M970 1359h.1M979 1361h.1M981 1360h.1M989 1352h.1M1002 1361h.1M1017 1360h.1M1012 1354h.1M1020 1376h.1M1030 1375h.1M1040 1362h.1M1059 1386h.1M1056 1367h.1M1058 1370h.1M1081 1392h.1M1079 1390h.1M1072 1370h.1M1099 1364h.1M1100 1378h.1M797 1388h.1M788 1390h.1M856 1386h.1M840 1381h.1M851 1390h.1M855 1385h.1M879 1393h.1M876 1389h.1M877 1386h.1M906 1383h.1M934 1399h.1M947 1384h.1M985 1374h.1M972 1386h.1M984 1376h.1M1000 1381h.1M1000 1384h.1M1011 1393h.1M1029 1368h.1M1033 1373h.1M1051 1373h.1M1049 1374h.1M1061 1374h.1M1058 1389h.1M1088 1377h.1M1102 1383h.1M1116 1389h.1M1104 1380h.1M795 1411h.1M788 1414h.1M819 1395h.1M837 1403h.1M827 1398h.1M867 1407h.1M868 1400h.1M872 1406h.1M879 1407h.1M906 1406h.1M905 1401h.1M904 1406h.1M912 1403h.1M918 1408h.1M936 1400h.1M934 1404h.1M940 1414h.1M939 1399h.1M971 1404h.1M971 1404h.1M1000 1410h.1M1008 1394h.1M1001 1414h.1M1023 1412h.1M1041 1406h.1M1046 1398h.1M1049 1397h.1M1060 1397h.1M1061 1394h.1M1050 1398h.1M1099 1400h.1M1095 1396h.1M1107 1388h.1M805 1430h.1M801 1426h.1M803 1428h.1M831 1428h.1M829 1432h.1M847 1432h.1M850 1430h.1M875 1424h.1M869 1426h.1M882 1424h.1M920 1418h.1M934 1427h.1M938 1418h.1M951 1412h.1M948 1419h.1M963 1420h.1M984 1416h.1M983 1411h.1M1008 1442h.1M1026 1412h.1M1050 1428h.1M1057 1426h.1M1051 1430h.1M1052 1433h.1M1058 1437h.1M1053 1438h.1M1093 1412h.1M1096 1418h.1M1087 1409h.1M1101 1435h.1M1103 1423h.1M1099 1432h.1M793 1447h.1M803 1447h.1M800 1448h.1M829 1439h.1M842 1442h.1M862 1447h.1M867 1454h.1M889 1435h.1M885 1445h.1M882 1443h.1M888 1443h.1M919 1454h.1M943 1452h.1M968 1455h.1M966 1455h.1M974 1453h.1M977 1447h.1M974 1446h.1M1026 1444h.1M1029 1448h.1M1014 1440h.1M1037 1437h.1M1055 1443h.1M1057 1445h.1M1050 1449h.1M1060 1446h.1M1083 1463h.1M815 1478h.1M814 1466h.1M816 1462h.1M832 1459h.1M848 1464h.1M842 1469h.1M838 1467h.1M865 1459h.1M864 1453h.1M885 1468h.1M880 1466h.1M906 1464h.1M929 1457h.1M921 1456h.1M910 1464h.1M942 1458h.1M941 1457h.1M945 1465h.1M943 1463h.1M989 1461h.1M989 1461h.1M1002 1456h.1M1018 1457h.1M1030 1455h.1M1036 1460h.1M1034 1442h.1M1037 1454h.1M1039 1446h.1M1030 1444h.1M1076 1470h.1M1071 1461h.1M1088 1458h.1M1087 1447h.1M1095 1459h.1M816 1466h.1M831 1473h.1M823 1464h.1M851 1471h.1M848 1474h.1M848 1477h.1M873 1485h.1M868 1480h.1M876 1481h.1M884 1473h.1M881 1463h.1M890 1472h.1M892 1480h.1M924 1478h.1M941 1473h.1M950 1473h.1M959 1472h.1M953 1474h.1M962 1475h.1M974 1475h.1M975 1484h.1M1001 1470h.1M996 1474h.1M996 1478h.1M1017 1489h.1M1017 1493h.1M1033 1462h.1M1031 1471h.1M1054 1469h.1M1049 1472h.1M1071 1487h.1M1061 1480h.1M1077 1487h.1M1074 1487h.1M1098 1466h.1M1090 1480h.1M794 1474h.1M791 1490h.1M820 1496h.1M815 1484h.1M834 1495h.1M836 1493h.1M872 1504h.1M863 1503h.1M860 1500h.1M883 1496h.1M884 1501h.1M877 1497h.1M901 1486h.1M897 1493h.1M899 1488h.1M910 1495h.1M906 1485h.1M905 1485h.1M935 1484h.1M960 1499h.1M957 1501h.1M960 1493h.1M956 1510h.1M966 1497h.1M963 1502h.1M988 1505h.1M996 1498h.1M994 1501h.1M1026 1494h.1M1022 1498h.1M1018 1504h.1M1021 1494h.1M1029 1495h.1M1028 1507h.1M1032 1514h.1M1052 1501h.1M1073 1495h.1M1074 1501h.1M1073 1497h.1M1099 1490h.1M795 1510h.1M822 1531h.1M834 1517h.1M831 1518h.1M840 1511h.1M856 1521h.1M862 1519h.1M861 1516h.1M883 1522h.1M879 1529h.1M903 1529h.1M908 1528h.1M913 1521h.1M926 1520h.1M938 1516h.1M931 1512h.1M953 1517h.1M969 1501h.1M971 1504h.1M998 1517h.1M995 1515h.1M1000 1505h.1M1011 1505h.1M1024 1502h.1M1034 1519h.1M1041 1530h.1M1050 1528h.1M1047 1526h.1M1081 1524h.1M1078 1534h.1M1084 1512h.1M1104 1511h.1" fill="none" stroke="#ea1a12" stroke-width="2.2" stroke-linecap="round"/>
</g>
<rect x="1077.3" y="1515.5" width="29" height="3" fill="#eee"/>
<text x="1091.8" y="1512.5" font-size="10" font-weight="bold" fill="#ddd" text-anchor="middle">10μm</text>
<rect x="795.6" y="1530.2" width="315.7" height="252.3" fill="#000300"/>
<g clip-path="url(#c12)" filter="url(#mb)">
<path d="M803 1545l12 7M850 1545l5 14M865 1549l-15 6M894 1533l10 5M963 1552l7 13M1054 1550l-7 16M1064 1544l-9 1M1088 1537l11 4M1109 1547l12 8M829 1570l-17 6M903 1558l0 16M961 1557l-15 12M1019 1574l2 7M1059 1572l6 13M1092 1561l12 12M1116 1560l7 14M837 1584l-7 8M861 1587l3 18M881 1579l3 9M941 1570l7 16M976 1569l6 2M1005 1584l12 4M1015 1587l-16 3M1049 1575l-6 8M1072 1586l3 17M1085 1587l-8 11M1108 1572l-5 17M799 1594l13 2M838 1606l-9 17M878 1604l8 14M921 1595l12 1M1010 1598l-8 11M1090 1590l-11 13M816 1611l-6 17M870 1605l17 5M900 1621l-11 3M937 1615l-11 0M981 1605l9 1M999 1626l-1 16M1060 1607l14 1M1112 1612l2 17M831 1640l-2 7M872 1625l10 14M877 1641l9 3M925 1631l-0 15M1004 1622l20 3M1009 1632l-4 9M1044 1630l20 2M1061 1642l1 16M1076 1646l0 15M1091 1632l-16 2M825 1641l-3 12M854 1652l9 13M866 1651l10 6M880 1657l1 6M901 1649l-7 4M936 1659l-13 3M984 1644l5 21M1013 1648l18 7M1025 1645l-4 8M1062 1640l9 5M1091 1646l-0 18M1115 1647l8 5M868 1665l-16 7M917 1671l21 5M940 1667l-4 6M973 1670l0 10M1001 1661l1 15M1005 1672l6 19M1050 1661l-21 6M1048 1665l-7 2M1085 1661l-11 6M824 1698l-3 14M875 1690l12 14M922 1680l4 15M939 1690l4 7M944 1679l-13 6M1002 1678l10 0M1005 1697l-4 11M1026 1682l-3 6M1058 1699l1 14M1088 1676l-17 3M1105 1693l7 5M811 1706l12 1M843 1717l-3 10M875 1702l-7 2M917 1708l-13 5M932 1710l-16 5M976 1706l-11 7M1020 1705l10 5M1055 1709l-5 16M1089 1705l-8 5M834 1727l6 7M848 1727l21 4M863 1715l5 7M888 1728l15 4M912 1724l-19 10M946 1719l-10 16M987 1725l12 1M991 1722l-9 4M1046 1711l10 3M1073 1731l4 6M807 1745l9 2M861 1748l-15 12M888 1735l2 8M897 1737l-0 12M941 1747l3 9M958 1735l6 5M976 1737l17 10M1003 1741l10 15M1015 1750l15 15M1036 1732l5 6M1076 1744l10 0M1071 1751l-6 13M1095 1735l-2 10M843 1756l13 0M857 1761l-21 3M904 1760l10 14M963 1757l3 12M959 1769l-15 13M1018 1752l8 14M1024 1768l-1 12M1034 1769l-9 8M1070 1758l-9 18M1079 1766l13 10M1108 1749l16 0M821 1787l-2 17M862 1778l-6 8M886 1782l-5 8M911 1785l11 2M940 1780l13 4M959 1781l7 17M993 1776l-7 10M1011 1768l-7 2M1049 1782l2 14M1081 1770l-9 15M1099 1774l-5 16" fill="none" stroke="#18a018" stroke-width="1.2" stroke-linecap="round" opacity="0.35"/>
<path d="M971 1731h.1M982 1695h.1M1084 1573h.1M883 1569h.1M875 1655h.1M868 1565h.1M824 1621h.1M1090 1557h.1M833 1608h.1M817 1635h.1M871 1560h.1M940 1601h.1M861 1706h.1M1066 1695h.1M991 1576h.1M1070 1560h.1M900 1583h.1M838 1676h.1M891 1777h.1M915 1568h.1M990 1726h.1M801 1607h.1M895 1750h.1M1067 1650h.1M1074 1690h.1M917 1553h.1M1042 1675h.1M934 1661h.1M961 1559h.1M1031 1627h.1M1061 1637h.1M1032 1738h.1M1018 1565h.1M818 1672h.1M892 1598h.1M909 1643h.1M822 1544h.1M1103 1594h.1M807 1733h.1M829 1665h.1M1042 1754h.1M1056 1664h.1M887 1665h.1M1069 1736h.1M1036 1769h.1M1010 1661h.1M1008 1579h.1M1108 1645h.1M812 1560h.1M961 1765h.1M958 1694h.1M1065 1582h.1M1051 1652h.1M815 1773h.1M835 1535h.1M1050 1545h.1M950 1779h.1M973 1771h.1M921 1624h.1M1031 1672h.1M850 1699h.1M869 1761h.1M1065 1745h.1M889 1670h.1M954 1771h.1M1053 1568h.1M1044 1721h.1M1035 1656h.1M809 1587h.1M871 1769h.1M1041 1661h.1M848 1627h.1M1044 1686h.1M825 1689h.1M813 1614h.1M852 1728h.1M994 1763h.1M995 1660h.1M828 1554h.1M1097 1728h.1M878 1536h.1M877 1637h.1M883 1539h.1M939 1642h.1M1106 1652h.1M1004 1681h.1M904 1589h.1M937 1682h.1M968 1649h.1M1001 1660h.1M955 1737h.1M1064 1757h.1M958 1744h.1M859 1579h.1M805 1670h.1M1103 1607h.1M814 1561h.1M845 1761h.1M1100 1543h.1M1071 1663h.1M856 1565h.1M1092 1671h.1M999 1727h.1M821 1634h.1M891 1535h.1M1071 1594h.1M1073 1571h.1M968 1749h.1M1072 1776h.1M907 1701h.1M1070 1769h.1M1098 1615h.1M1055 1566h.1M957 1638h.1M924 1640h.1M862 1571h.1M994 1690h.1M884 1714h.1M921 1732h.1M863 1759h.1M815 1735h.1M1041 1550h.1M820 1623h.1M914 1610h.1M813 1780h.1M1110 1723h.1M834 1770h.1M864 1546h.1M847 1776h.1M867 1556h.1M871 1581h.1M991 1576h.1M1014 1664h.1M798 1592h.1M810 1567h.1M851 1691h.1M1048 1709h.1M843 1545h.1M830 1707h.1M1030 1531h.1M935 1565h.1M1071 1658h.1M976 1712h.1M1015 1560h.1M860 1758h.1M1001 1715h.1M888 1739h.1M903 1655h.1M1009 1546h.1M1046 1641h.1M846 1646h.1M889 1776h.1M1083 1633h.1M974 1550h.1M908 1689h.1M847 1733h.1M996 1678h.1M1054 1551h.1M955 1748h.1M974 1704h.1M979 1566h.1M1010 1629h.1M1080 1630h.1M934 1596h.1M894 1774h.1M953 1724h.1M921 1659h.1M945 1731h.1M800 1535h.1M956 1724h.1M1092 1738h.1M995 1618h.1M966 1695h.1M1073 1577h.1M1038 1617h.1M978 1532h.1M1048 1562h.1M927 1592h.1M975 1540h.1M1074 1626h.1" fill="none" stroke="#20b020" stroke-width="1.8" stroke-linecap="round" opacity="0.7"/>
<path d="M802 1545l-3 1l-6 -3l0 -4l3 0l4 2zM829 1548l-1 -3l2 -4l2 -2l1 3l-1 4zM850 1545l-3 -2l-2 -6l1 -2l3 1l2 5zM853 1545l3 -5l4 -1l4 1l-1 4l-5 1zM866 1548l1 -3l3 -1l2 2l0 3l-3 1zM893 1533l-3 2l-4 -2l0 -4l4 -1l4 1zM922 1534l-2 2l-4 -2l-3 -3l4 -1l5 1zM938 1553l-2 -2l3 -5l3 -2l1 3l-3 5zM963 1552l-3 0l-2 -5l0 -6l4 5l3 3zM983 1550l-3 3l-5 -1l-1 -3l1 -3l5 1zM998 1544l-2 1l-2 -2l0 -3l2 1l3 1zM1001 1533l-2 -2l2 -5l5 0l1 4l-3 4zM1039 1535l-3 -2l-1 -6l3 -2l3 2l0 6zM1054 1549l-1 -2l1 -2l2 0l3 2l-1 3zM1064 1544l5 -3l5 -1l2 3l-2 3l-4 0zM1089 1537l-3 1l-5 -2l-2 -2l2 -1l6 2zM1109 1547l-3 1l-4 -4l-3 -4l5 1l5 2zM810 1568l0 -3l3 -2l3 -1l0 4l-3 2zM824 1556l0 -4l3 -4l4 3l1 4l-5 3zM827 1570l3 -4l6 -2l3 3l0 3l-6 2zM863 1569l-2 -3l-1 -5l2 -3l2 3l1 6zM875 1554l-2 -2l1 -6l2 -2l2 2l-1 6zM903 1558l-2 -4l-1 -4l3 -3l3 2l0 6zM921 1564l-2 0l-3 -6l2 -5l4 3l1 6zM937 1562l3 -3l5 -3l2 2l-1 2l-4 2zM962 1557l-2 -3l3 -3l4 1l0 5l-3 1zM967 1550l2 -4l2 -2l4 1l0 4l-3 2zM998 1564l-3 1l-2 -2l-3 -4l5 0l4 1zM1004 1562l2 -4l5 -1l1 3l0 3l-5 1zM1019 1574l-3 -3l-2 -4l2 -3l3 2l2 4zM1059 1572l-4 -3l-2 -4l2 -3l3 0l2 6zM1054 1557l2 -4l5 -2l2 3l0 3l-5 1zM1092 1560l-3 0l-2 -2l0 -2l3 -1l2 3zM1115 1559l-3 -1l-3 -4l1 -5l5 2l2 5zM806 1585l-4 0l-2 -4l2 -4l4 1l0 4zM828 1575l-4 0l-3 -4l4 -3l3 -1l2 5zM837 1584l-1 -2l3 -2l3 -2l-1 4l-2 3zM861 1587l-2 -2l0 -4l0 -6l3 5l0 4zM881 1578l-3 -3l-2 -2l2 -2l4 0l1 4zM908 1589l-4 -1l-2 -3l1 -3l3 -1l3 5zM907 1574l1 -3l3 -1l4 1l-2 3l-3 2zM941 1568l-3 1l-1 -4l1 -3l3 0l2 5zM953 1588l0 -5l4 -4l5 -1l1 6l-5 2zM975 1569l-3 0l-3 -1l-1 -1l1 -2l5 2zM1004 1583l-3 3l-7 -2l-2 -5l6 0l4 1zM1004 1585l1 -4l2 -3l3 1l0 3l-3 3zM1015 1587l3 -2l4 -2l3 2l-2 3l-5 1zM1050 1574l0 -3l4 -5l2 -1l0 3l-3 4zM1072 1585l-2 -1l-2 -6l2 -3l3 2l0 5zM1086 1586l2 -4l2 -3l2 -1l0 3l-2 3zM1109 1571l-3 -2l1 -3l3 -1l2 3l-1 3zM798 1593l-2 2l-4 1l-3 -4l4 -3l5 1zM834 1591l-3 0l-5 -4l-1 -4l5 2l4 3zM839 1605l-1 -2l2 -2l2 -3l2 3l-3 5zM869 1590l-3 -3l4 -5l4 -1l1 5l-3 3zM876 1601l-2 -1l-3 -4l1 -3l3 -1l3 7zM889 1589l-1 -4l4 -4l3 -1l1 3l-3 5zM919 1595l0 3l-5 -1l-1 -2l2 -3l4 1zM945 1587l-6 1l-7 1l-1 -3l2 -2l8 0zM941 1599l0 -4l6 -3l4 0l-1 4l-4 3zM974 1583l1 -2l4 -2l4 3l-4 3l-3 1zM997 1591l-3 -1l-2 -3l1 -3l3 1l3 3zM1010 1598l-2 -5l3 -4l4 2l3 3l-3 3zM1036 1602l-3 2l-7 -2l-2 -3l2 -2l6 2zM1059 1600l-5 1l-5 -1l-2 -2l3 -2l6 0zM1065 1607l-3 -2l4 -5l3 -3l2 4l-3 6zM1090 1590l2 -3l2 -5l3 0l-1 3l-2 5zM1094 1596l-2 -2l2 -3l1 -2l3 1l-2 5zM794 1619l0 -4l4 -3l4 2l-1 4l-3 3zM816 1611l0 -4l1 -5l3 -1l1 2l-2 7zM842 1624l2 -3l3 -2l2 1l0 2l-4 2zM870 1605l-5 0l-5 0l0 -3l3 -2l4 1zM886 1617l-2 0l-1 -4l1 -3l2 2l2 4zM899 1621l2 -3l4 0l6 1l-5 3l-3 1zM909 1608l-3 -2l2 -5l4 -4l0 6l1 4zM940 1623l-5 1l-4 -3l0 -4l4 -2l5 3zM939 1615l1 -2l6 0l2 2l-2 2l-7 0zM980 1605l-3 2l-4 0l-1 -3l2 -2l4 0zM985 1610l-3 -2l-2 -4l0 -3l3 0l2 4zM999 1624l-2 -3l0 -5l3 -3l2 3l-1 5zM1032 1623l-1 -4l1 -5l3 -1l2 3l-2 5zM1058 1606l-1 5l-8 -1l0 -4l1 -4l8 0zM1071 1606l-2 4l-3 -2l-1 -3l2 -4l4 1zM1080 1612l-1 -2l0 -2l1 -1l2 0l0 3zM1112 1611l-2 -2l0 -5l1 -5l2 5l2 5zM801 1636l-3 -1l1 -3l2 -3l3 2l-1 3zM831 1639l-1 -3l0 -4l4 -1l3 2l-3 4zM851 1633l-2 2l-5 0l-2 -3l3 -4l6 1zM873 1625l-4 -2l-4 -6l0 -2l3 1l3 4zM877 1641l-5 1l-4 -1l-1 -3l2 -3l5 2zM899 1620l1 -3l4 -2l2 3l0 4l-4 0zM925 1630l-3 -3l0 -7l3 -4l4 4l-2 6zM946 1628l-2 1l-3 -1l-1 -3l3 -2l3 2zM952 1641l-4 0l-1 -5l3 -3l4 2l0 4zM981 1624l-5 -1l-3 -3l2 -2l2 -1l3 2zM1004 1622l-4 3l-7 -2l-3 -3l4 -3l6 1zM1010 1631l-1 -4l2 -3l1 -1l3 2l-3 5zM1024 1631l1 -2l3 0l1 2l0 3l-4 -1zM1045 1630l-4 3l-5 -1l-2 -3l3 -3l5 0zM1061 1640l-2 -3l-1 -5l2 -2l2 1l2 7zM1076 1647l-3 -5l0 -6l3 -5l4 4l-2 7zM1092 1632l2 -3l4 0l4 2l-2 4l-6 0zM797 1653l-4 0l-1 -2l0 -3l3 -1l2 3zM825 1640l-3 -1l2 -4l3 -4l2 5l-1 4zM855 1653l-5 -2l-4 -6l1 -3l3 1l4 4zM864 1650l-2 1l-4 -1l0 -3l3 -1l3 2zM880 1657l-2 -3l-1 -4l2 -1l2 1l1 4zM901 1649l1 -2l2 -2l3 0l0 3l-4 2zM930 1653l-2 3l-3 -2l-3 -2l2 -2l4 1zM935 1659l2 -4l5 1l3 1l-2 3l-4 2zM952 1649l-3 -1l-2 -5l2 -2l2 1l1 3zM966 1644l4 -4l5 -1l3 2l-1 3l-6 1zM984 1643l-3 -1l0 -5l1 -4l3 3l0 4zM1012 1648l-3 1l-4 -1l-2 -4l4 -1l3 2zM1025 1643l0 -3l1 -3l2 0l3 1l-3 5zM1062 1640l-4 2l-6 -4l0 -4l4 -1l5 2zM1073 1655l-4 2l-4 -2l0 -3l2 -3l2 2zM1091 1645l-4 -2l2 -5l2 -3l2 3l2 6zM1114 1647l-3 0l-4 -2l-2 -4l4 0l5 2zM797 1670l-1 3l-5 -1l-4 -2l4 -4l5 2zM820 1657l-1 -3l3 -1l2 0l1 2l-3 2zM827 1665l0 -4l6 -3l4 1l-1 4l-5 3zM868 1664l1 -1l2 -2l1 2l0 2l-2 0zM884 1666l-3 1l-4 -2l-3 -3l5 0l4 1zM904 1674l-1 -6l2 -5l3 -1l3 2l-2 6zM917 1671l-3 2l-5 0l0 -4l3 -3l3 2zM927 1658l0 -3l6 -1l5 0l-2 4l-6 2zM940 1668l-1 -5l4 -6l5 -1l0 5l-3 5zM973 1669l-1 -1l-1 -4l2 -4l3 3l0 6zM1001 1662l-4 -2l0 -4l3 -3l3 3l2 4zM1005 1672l-3 -2l-1 -5l1 -3l3 1l2 6zM1025 1678l-3 0l-4 -2l-1 -3l3 -1l4 3zM1051 1661l0 -3l6 -2l4 2l-3 3l-6 3zM1051 1665l-1 -5l6 -1l2 3l0 5l-5 1zM1087 1660l0 -3l3 -2l3 2l0 4l-4 1zM1108 1660l-2 -2l0 -6l3 0l2 1l0 5zM802 1690l1 -3l2 -1l3 1l0 3l-3 2zM824 1698l-2 -3l2 -4l2 0l3 0l-3 4zM846 1695l0 -2l1 -3l3 1l1 3l-2 2zM875 1690l-4 -3l-3 -3l-2 -5l4 0l4 6zM887 1679l-2 4l-4 -1l-1 -3l1 -4l4 0zM896 1683l-3 -2l-1 -4l2 -4l3 2l2 5zM922 1681l-4 -2l-1 -6l2 -4l3 4l2 5zM938 1689l-3 0l-2 -3l3 -2l2 0l2 2zM945 1679l1 -3l2 -1l2 1l-1 2l-2 1zM968 1695l-2 -3l0 -4l2 -1l5 1l-1 5zM1000 1678l-3 2l-6 1l-4 -3l5 -3l5 1zM1006 1697l-2 -3l1 -2l3 -2l2 2l-2 4zM1026 1682l0 -5l2 -6l3 1l4 2l-4 5zM1053 1690l-1 -4l0 -6l3 -2l2 4l-1 6zM1058 1698l-2 -2l-1 -5l2 -3l2 3l2 6zM1089 1676l1 -3l4 -1l2 2l-1 5l-5 0zM1105 1693l-5 -1l-3 -1l1 -4l3 -1l4 2zM812 1706l-5 1l-4 -1l-2 -1l1 -2l6 0zM820 1707l-1 -3l4 -3l3 1l0 3l-4 2zM844 1716l-2 -2l1 -5l3 -1l2 2l-1 5zM862 1716l-3 -3l-2 -3l2 -2l3 1l1 3zM875 1702l3 -3l4 -2l2 3l0 4l-5 1zM889 1702l2 -4l4 -3l6 1l-3 4l-4 2zM917 1708l1 -3l4 -2l3 2l-1 3l-4 3zM933 1710l1 -2l4 -2l2 2l-1 2l-4 1zM968 1711l-5 0l-5 -6l2 -3l3 -1l3 4zM975 1706l1 -3l4 -2l5 -1l-2 4l-4 4zM988 1710l-1 -4l1 -5l3 -1l2 2l-2 7zM1020 1705l-3 3l-5 -3l2 -3l2 -3l4 2zM1034 1695l-2 -3l1 -3l3 0l2 2l-1 5zM1059 1702l-2 2l-4 0l-3 -3l3 -3l5 1zM1055 1708l-2 -2l1 -4l3 -2l1 4l0 4zM1083 1714l-2 -2l2 -5l3 -2l1 3l-2 5zM1089 1705l-1 -4l5 -2l4 0l-2 5l-2 3zM812 1732l-1 -3l3 -4l5 -3l0 5l-3 4zM835 1728l-5 0l-2 -3l1 -4l4 -1l2 3zM847 1727l-3 1l-5 0l-2 -3l2 -2l5 2zM864 1715l-4 1l-3 -3l1 -4l5 0l2 3zM888 1728l-4 1l-7 -2l-3 -3l5 -1l5 2zM905 1722l0 -4l2 -4l3 -1l0 2l-2 4zM911 1724l5 -4l4 -3l2 1l0 2l-5 3zM944 1718l-2 0l-2 -2l0 -4l3 2l2 3zM946 1719l-2 -4l4 -4l3 0l1 4l-2 3zM986 1725l-1 2l-4 0l0 -3l0 -2l4 0zM992 1722l0 -3l5 -2l5 0l-4 4l-4 2zM1015 1724l-2 -2l5 -6l3 -1l-1 4l-3 4zM1033 1719l-2 -3l2 -5l3 0l2 1l-2 5zM1047 1711l-6 1l-4 -1l-1 -3l2 -1l4 1zM1073 1730l-4 0l-3 -5l1 -4l5 1l3 5zM1088 1718l-4 -1l0 -5l0 -3l3 1l1 4zM1090 1721l3 -4l6 -1l2 2l-1 3l-6 2zM806 1745l-2 2l-6 -1l-1 -3l2 -3l6 1zM832 1730l-5 1l-5 0l-2 -4l3 -3l7 1zM847 1743l-2 -4l2 -4l1 -1l2 0l-1 5zM862 1747l1 -3l4 -3l2 1l1 2l-4 3zM888 1734l-4 -2l0 -5l1 -4l3 3l2 5zM897 1736l-2 -3l0 -5l2 -5l3 4l-1 6zM917 1745l0 -4l3 -4l2 -1l1 2l-3 5zM940 1746l-3 -2l-2 -5l2 -2l4 0l1 5zM958 1735l-4 -1l-3 -3l0 -2l2 0l3 3zM975 1737l-3 2l-3 -3l-2 -4l5 -1l3 2zM1002 1739l-3 1l-4 -5l1 -4l4 2l3 4zM1014 1749l-3 -1l-6 -4l2 -3l3 1l4 3zM1036 1732l-3 -1l-3 -2l1 -2l2 0l3 2zM1055 1732l-3 3l-6 0l-2 -3l3 -3l6 0zM1075 1744l-2 2l-6 0l-2 -3l3 -1l5 -1zM1072 1750l-2 -2l3 -5l2 0l2 2l-2 4zM1095 1734l-2 -2l0 -6l5 -3l2 5l-2 5zM794 1750l-2 -3l0 -5l4 1l3 2l-1 4zM818 1753l-1 -2l1 -5l2 -3l2 3l-1 7zM843 1756l-3 1l-2 0l-2 -2l1 -2l4 0zM860 1760l2 -3l3 -1l3 3l-1 4l-5 0zM875 1764l-2 -3l4 -5l3 -1l1 4l-2 4zM904 1760l-5 -2l-2 -2l1 -3l4 -1l3 3zM910 1752l-2 4l-4 -2l0 -3l2 -3l3 1zM925 1747l1 -4l7 0l2 3l-2 2l-6 3zM963 1757l-4 0l-1 -3l4 -1l3 0l1 2zM961 1768l-1 -4l5 -3l3 1l2 3l-6 4zM993 1762l-4 1l-2 -6l1 -3l3 1l4 3zM1018 1752l-3 0l-3 -3l2 -4l4 2l2 2zM1024 1768l-3 -5l1 -4l2 -1l3 1l-1 4zM1034 1770l1 -5l6 -4l5 -2l-2 5l-5 5zM1070 1758l0 -3l0 -2l3 -1l1 3l-1 2zM1078 1765l-3 0l-3 -2l0 -2l2 -1l3 3zM1109 1749l-4 4l-7 0l-1 -4l1 -4l5 1zM790 1773l2 -4l2 -3l2 1l1 2l-3 3zM821 1786l-2 -3l0 -6l3 -2l2 3l1 6zM841 1775l0 -2l3 -2l3 0l0 3l-4 3zM863 1778l-1 -3l3 -5l3 1l1 4l-4 4zM886 1782l-1 -3l2 -3l3 -2l0 4l-2 3zM909 1785l-1 3l-4 0l0 -4l2 -2l3 0zM917 1787l-3 0l-3 -2l-1 -4l4 1l3 2zM939 1780l-3 1l-3 0l0 -3l2 -2l3 1zM960 1781l-4 -2l-2 -3l3 -2l3 0l1 3zM972 1766l-3 0l-4 -1l-1 -4l3 -1l4 3zM994 1775l-2 -3l4 -4l2 1l2 2l-3 4zM1011 1768l2 -3l5 -1l1 1l-1 2l-3 2zM1037 1785l-3 0l-4 -3l-1 -4l3 0l4 5zM1049 1782l-3 -1l1 -4l1 -4l3 3l0 4zM1078 1785l-3 2l-4 -3l0 -5l4 -1l4 4zM1082 1770l-2 -2l2 -3l2 0l1 2l-1 3zM1099 1775l0 -5l0 -6l4 -1l1 4l0 6z" fill="#26d626"/>
</g>
<rect x="1077.3" y="1774.0" width="29" height="3" fill="#eee"/>
<text x="1091.8" y="1771.0" font-size="10" font-weight="bold" fill="#ddd" text-anchor="middle">10μm</text>
<rect x="795.6" y="1789.7" width="315.7" height="252.3" fill="#000004"/>
<g clip-path="url(#c22)" filter="url(#mb)">
<path d="M796 1801l2.1 1.3M831 1802l-0.3 0.8M847 1797l0.3 0.8M861 1801l-2.3 1.0M889 1790l2.4 1.2M919 1793l0.4 0.1M940 1809l-0.1 0.3M962 1808l0.2 0.4M977 1809l1.1 0.1M996 1802l1.1 0.8M1003 1789l-1.4 2.0M1038 1788l0.2 2.5M1073 1803l-2.7 0.2M1105 1803l1.0 0.7M813 1825l-0.2 0.2M827 1813l-0.6 0.4M835 1827l-0.7 0.2M862 1823l0.0 0.7M903 1811l0.0 0.0M920 1820l0.5 1.5M944 1819l-0.7 0.3M963 1815l-0.8 0.6M973 1805l-2.4 1.7M995 1822l0.0 0.0M1010 1820l-1.3 0.2M1056 1824l1.0 2.2M1060 1814l-1.5 0.5M1089 1817l1.3 1.3M1113 1813l0.8 1.6M804 1841l0.1 0.1M826 1831l0.4 0.7M861 1841l0.3 1.9M879 1831l0.8 2.4M904 1844l1.7 2.2M910 1832l-0.7 0.3M939 1825l0.4 1.0M958 1842l-1.9 2.1M970 1827l1.9 0.7M999 1841l1.3 0.4M1009 1840l-1.8 1.7M1021 1845l-1.6 0.3M1055 1827l-1.4 1.8M1071 1840l0.2 0.9M1090 1840l-0.3 0.4M1109 1828l-0.3 1.0M795 1852l0.8 0.1M830 1846l0.8 0.8M840 1862l-0.1 0.3M871 1845l-0.4 0.6M874 1856l0.3 0.6M893 1843l-0.9 1.4M915 1854l2.7 0.3M936 1846l0.7 0.0M948 1854l-2.4 1.7M978 1842l-1.8 0.3M1014 1853l-0.4 0.6M1029 1860l1.1 0.2M1051 1858l1.3 0.3M1067 1862l-0.5 1.2M1095 1845l-1.4 1.7M1095 1852l-0.2 0.8M818 1865l-0.9 2.5M847 1881l-1.2 0.6M863 1862l2.6 0.9M885 1874l0.1 0.5M904 1880l-1.6 0.4M910 1863l-0.5 2.3M934 1878l0.9 0.7M944 1875l-2.5 0.0M982 1863l1.4 2.6M999 1877l-0.0 1.0M1034 1876l-0.4 1.3M1053 1866l0.8 0.0M1080 1867l0.1 1.9M1111 1865l0.3 2.4M801 1891l0.1 2.0M833 1893l-0.6 2.1M848 1892l1.0 0.1M868 1878l1.4 1.9M869 1898l2.1 0.7M904 1878l-2.2 0.7M943 1886l1.9 1.0M951 1897l0.5 2.3M976 1878l1.0 0.9M996 1880l1.4 0.2M1012 1885l-0.4 1.1M1038 1889l1.8 0.2M1060 1893l0.2 2.8M1076 1898l0.0 1.6M1097 1891l-0.2 0.0M826 1896l-0.5 2.4M849 1904l1.5 2.1M861 1908l0.3 0.2M880 1911l0.0 0.2M904 1906l-1.6 1.0M925 1912l2.3 0.3M942 1917l-2.7 0.7M950 1903l0.5 1.2M975 1901l-1.4 0.4M983 1897l0.4 2.0M1007 1905l1.7 0.7M1028 1898l-0.3 0.8M1056 1896l2.4 1.3M1065 1912l2.2 0.9M1091 1898l-0.0 1.5M1110 1904l0.1 0.1M793 1929l1.7 0.1M823 1914l-2.0 1.6M871 1923l-0.5 0.2M880 1924l0.9 0.4M911 1929l2.3 0.6M933 1916l-2.3 0.9M944 1921l-0.5 0.7M1001 1917l0.2 2.1M1004 1926l0.5 1.7M1054 1919l-0.5 0.1M1057 1922l-2.7 0.9M1109 1914l-0.1 2.9M806 1948l-1.1 0.7M825 1951l-0.6 2.4M848 1952l-0.4 0.4M871 1944l0.4 0.5M882 1938l0.5 0.0M895 1936l0.4 1.2M920 1935l0.2 1.0M936 1944l1.1 2.1M949 1936l-1.6 0.8M968 1947l-0.2 2.9M993 1937l2.2 0.0M1030 1934l-0.9 1.7M1054 1944l-0.2 0.9M1058 1953l0.1 1.2M1092 1935l-1.0 0.2M1099 1948l2.3 1.9M804 1964l2.4 0.2M824 1963l-1.6 1.2M845 1970l-0.8 2.9M860 1969l0.5 1.6M882 1960l-2.1 0.5M895 1958l-1.6 0.9M921 1966l-0.1 0.0M937 1968l-0.5 0.1M962 1963l2.0 1.9M980 1963l-2.1 1.3M990 1964l-0.0 0.1M1016 1963l2.3 1.2M1035 1951l-0.2 0.4M1055 1961l0.7 0.1M1084 1969l-0.4 1.4M1093 1962l-2.1 1.4M830 1982l1.5 1.6M842 1985l0.1 0.0M862 1973l0.1 0.1M881 1985l0.6 0.2M908 1975l-1.0 2.0M920 1979l-1.8 1.0M943 1976l0.4 0.6M949 1975l-0.2 0.3M982 1984l2.1 0.1M996 1979l-2.2 1.0M1037 1968l2.2 0.6M1070 1984l1.4 2.2M1085 1972l0.3 0.7M1098 1979l-2.2 0.5M848 1994l-0.3 2.5M867 2003l-0.1 0.1M886 1986l0.5 2.5M897 1989l-0.0 1.3M920 1998l-0.7 1.3M938 1999l0.3 0.9M953 1990l1.0 0.8M999 1994l1.3 2.0M1010 2004l0.2 0.3M1032 1987l1.6 1.8M1048 1991l2.4 0.2M1070 2003l0.4 0.0M1075 2004l-1.3 2.7M1096 1989l-0.5 2.1M796 2004l-0.8 2.6M819 2008l-0.2 0.9M838 2015l2.5 0.0M865 2019l-1.0 0.1M878 2018l-0.8 1.4M900 2015l0.3 0.3M906 2010l2.0 0.6M931 2006l-1.2 0.2M962 2013l0.5 2.1M965 2024l-0.6 0.5M1016 2008l0.9 1.6M1024 2019l-0.1 2.1M1041 2024l-1.5 1.2M1072 2014l-0.7 1.3M1073 2021l2.1 1.7M1099 2008l3.0 0.1M795 2028l-1.8 1.9M822 2039l-0.2 1.6M865 2035l-0.6 0.7M888 2038l-0.9 1.4M905 2044l2.1 0.4M914 2044l0.5 0.4M935 2038l0.4 0.1M958 2036l0.5 1.4M968 2023l1.2 0.7M997 2030l-0.6 0.8M1033 2041l1.7 1.4M1049 2038l0.0 0.2M1076 2043l0.4 0.4M1084 2026l-1.5 2.4" fill="none" stroke="#1840e8" stroke-width="5" stroke-linecap="round"/>
</g>
<rect x="1077.3" y="2033.5" width="29" height="3" fill="#eee"/>
<text x="1091.8" y="2030.5" font-size="10" font-weight="bold" fill="#ddd" text-anchor="middle">10μm</text>
<rect x="795.6" y="2048.8" width="315.7" height="252.8" fill="#070200"/>
<g clip-path="url(#c32)" filter="url(#mb)">
<path d="M803 2064l12 7M850 2063l5 14M865 2067l-15 6M894 2052l10 5M963 2071l7 13M1054 2069l-7 16M1064 2062l-9 1M1088 2056l11 4M1109 2065l12 8M829 2089l-17 6M903 2076l0 16M961 2076l-15 12M1019 2092l2 7M1059 2090l6 13M1092 2079l12 12M1116 2079l7 14M837 2103l-7 8M861 2105l3 18M881 2097l3 9M941 2088l7 16M976 2088l6 2M1005 2102l12 4M1015 2106l-16 3M1049 2093l-6 8M1072 2104l3 17M1085 2105l-8 11M1108 2090l-5 17M799 2112l13 2M838 2125l-9 17M878 2123l8 14M921 2114l12 1M1010 2116l-8 11M1090 2109l-11 13M816 2129l-6 17M870 2123l17 5M900 2140l-11 3M937 2134l-11 0M981 2124l9 1M999 2144l-1 16M1060 2125l14 1M1112 2130l2 17M831 2159l-2 7M872 2144l10 14M877 2160l9 3M925 2150l-0 15M1004 2140l20 3M1009 2151l-4 9M1044 2149l20 2M1061 2160l1 16M1076 2165l0 15M1091 2151l-16 2M825 2159l-3 12M854 2171l9 13M866 2170l10 6M880 2175l1 6M901 2168l-7 4M936 2178l-13 3M984 2163l5 21M1013 2167l18 7M1025 2163l-4 8M1062 2158l9 5M1091 2165l-0 18M1115 2166l8 5M868 2183l-16 7M917 2189l21 5M940 2186l-4 6M973 2189l0 10M1001 2180l1 15M1005 2191l6 19M1050 2179l-21 6M1048 2184l-7 2M1085 2180l-11 6M824 2217l-3 14M875 2209l12 14M922 2199l4 15M939 2209l4 7M944 2198l-13 6M1002 2197l10 0M1005 2215l-4 11M1026 2200l-3 6M1058 2218l1 14M1088 2194l-17 3M1105 2211l7 5M811 2224l12 1M843 2236l-3 10M875 2221l-7 2M917 2227l-13 5M932 2229l-16 5M976 2225l-11 7M1020 2224l10 5M1055 2227l-5 16M1089 2224l-8 5M834 2246l6 7M848 2246l21 4M863 2234l5 7M888 2246l15 4M912 2242l-19 10M946 2237l-10 16M987 2243l12 1M991 2241l-9 4M1046 2230l10 3M1073 2249l4 6M807 2263l9 2M861 2267l-15 12M888 2254l2 8M897 2255l-0 12M941 2265l3 9M958 2253l6 5M976 2256l17 10M1003 2260l10 15M1015 2268l15 15M1036 2251l5 6M1076 2262l10 0M1071 2270l-6 13M1095 2254l-2 10M843 2274l13 0M857 2279l-21 3M904 2278l10 14M963 2276l3 12M959 2288l-15 13M1018 2271l8 14M1024 2286l-1 12M1034 2288l-9 8M1070 2276l-9 18M1079 2285l13 10M1108 2268l16 0M821 2305l-2 17M862 2297l-6 8M886 2300l-5 8M911 2304l11 2M940 2299l13 4M959 2299l7 17M993 2295l-7 10M1011 2286l-7 2M1049 2300l2 14M1081 2289l-9 15M1099 2293l-5 16" fill="none" stroke="#b03010" stroke-width="1" stroke-linecap="round" opacity="0.5"/>
<path d="M802 2063l-3 2l-6 -4l0 -3l3 0l4 2zM829 2067l-1 -4l2 -3l2 -2l1 2l-1 5zM850 2063l-3 -2l-2 -6l1 -2l3 1l2 6zM853 2064l3 -5l4 -2l4 1l-1 5l-5 1zM866 2067l1 -3l3 -2l2 3l0 2l-3 2zM893 2051l-3 2l-4 -1l0 -5l4 -1l4 2zM922 2053l-2 1l-4 -1l-3 -3l4 -2l5 2zM938 2071l-2 -2l3 -4l3 -3l1 4l-3 5zM963 2070l-3 1l-2 -5l0 -6l4 5l3 3zM983 2068l-3 4l-5 -2l-1 -3l1 -3l5 2zM998 2063l-2 0l-2 -1l0 -3l2 0l3 1zM1001 2052l-2 -3l2 -4l5 0l1 4l-3 4zM1039 2054l-3 -3l-1 -5l3 -3l3 2l0 7zM1054 2068l-1 -2l1 -3l2 0l3 2l-1 4zM1064 2063l5 -3l5 -2l2 4l-2 3l-4 0zM1089 2056l-3 1l-5 -2l-2 -2l2 -2l6 2zM1109 2065l-3 1l-4 -3l-3 -4l5 0l5 3zM810 2087l0 -3l3 -3l3 0l0 3l-3 3zM824 2074l0 -3l3 -4l4 3l1 4l-5 3zM827 2089l3 -5l6 -1l3 2l0 4l-6 2zM863 2087l-2 -2l-1 -6l2 -2l2 2l1 7zM875 2073l-2 -2l1 -7l2 -2l2 2l-1 7zM903 2077l-2 -4l-1 -5l3 -2l3 2l0 6zM921 2082l-2 1l-3 -6l2 -5l4 3l1 6zM937 2081l3 -3l5 -3l2 1l-1 2l-4 2zM962 2075l-2 -3l3 -3l4 2l0 4l-3 2zM967 2069l2 -5l2 -1l4 0l0 4l-3 3zM998 2083l-3 1l-2 -2l-3 -5l5 0l4 2zM1004 2080l2 -3l5 -1l1 3l0 3l-5 0zM1019 2092l-3 -2l-2 -5l2 -2l3 1l2 5zM1059 2090l-4 -2l-2 -5l2 -2l3 0l2 5zM1054 2075l2 -3l5 -2l2 2l0 4l-5 0zM1092 2079l-3 0l-2 -3l0 -2l3 0l2 2zM1115 2077l-3 -1l-3 -4l1 -5l5 3l2 4zM806 2104l-4 0l-2 -5l2 -3l4 0l0 5zM828 2093l-4 1l-3 -5l4 -2l3 -1l2 4zM837 2102l-1 -1l3 -2l3 -2l-1 3l-2 3zM861 2105l-2 -1l0 -5l0 -5l3 5l0 3zM881 2096l-3 -2l-2 -3l2 -2l4 0l1 4zM908 2108l-4 -1l-2 -4l1 -2l3 -1l3 4zM907 2093l1 -3l3 -1l4 0l-2 3l-3 3zM941 2087l-3 0l-1 -4l1 -2l3 -1l2 5zM953 2106l0 -5l4 -3l5 -1l1 5l-5 3zM975 2088l-3 0l-3 -1l-1 -2l1 -2l5 2zM1004 2102l-3 3l-7 -2l-2 -5l6 -1l4 1zM1004 2104l1 -4l2 -4l3 2l0 3l-3 3zM1015 2106l3 -3l4 -1l3 2l-2 3l-5 1zM1050 2093l0 -4l4 -5l2 0l0 2l-3 5zM1072 2103l-2 -1l-2 -5l2 -3l3 2l0 5zM1086 2105l2 -5l2 -3l2 0l0 2l-2 3zM1109 2089l-3 -1l1 -3l3 -2l2 3l-1 3zM798 2112l-2 2l-4 1l-3 -4l4 -4l5 1zM834 2109l-3 0l-5 -4l-1 -4l5 2l4 3zM839 2124l-1 -2l2 -3l2 -2l2 3l-3 4zM869 2108l-3 -3l4 -4l4 -2l1 5l-3 4zM876 2120l-2 -1l-3 -5l1 -2l3 -1l3 6zM889 2108l-1 -4l4 -4l3 -1l1 3l-3 5zM919 2114l0 3l-5 -1l-1 -3l2 -2l4 0zM945 2106l-6 1l-7 1l-1 -3l2 -3l8 1zM941 2118l0 -5l6 -2l4 0l-1 4l-4 3zM974 2102l1 -3l4 -1l4 2l-4 3l-3 2zM997 2110l-3 -2l-2 -3l1 -3l3 1l3 4zM1010 2117l-2 -5l3 -4l4 2l3 2l-3 3zM1036 2120l-3 3l-7 -3l-2 -2l2 -3l6 3zM1059 2119l-5 1l-5 -1l-2 -3l3 -1l6 0zM1065 2126l-3 -2l4 -5l3 -3l2 4l-3 6zM1090 2109l2 -4l2 -4l3 -1l-1 4l-2 5zM1094 2114l-2 -1l2 -4l1 -1l3 1l-2 5zM794 2138l0 -4l4 -4l4 3l-1 3l-3 4zM816 2130l0 -4l1 -5l3 -2l1 3l-2 6zM842 2142l2 -2l3 -3l2 2l0 2l-4 2zM870 2123l-5 1l-5 0l0 -4l3 -1l4 1zM886 2136l-2 -1l-1 -4l1 -2l2 1l2 4zM899 2140l2 -4l4 0l6 1l-5 4l-3 0zM909 2126l-3 -1l2 -5l4 -5l0 7l1 4zM940 2142l-5 1l-4 -3l0 -5l4 -2l5 4zM939 2134l1 -2l6 -1l2 3l-2 2l-7 0zM980 2124l-3 2l-4 0l-1 -3l2 -3l4 0zM985 2128l-3 -1l-2 -5l0 -3l3 1l2 4zM999 2143l-2 -3l0 -6l3 -2l2 2l-1 5zM1032 2141l-1 -3l1 -6l3 0l2 3l-2 5zM1058 2125l-1 4l-8 0l0 -4l1 -4l8 0zM1071 2125l-2 3l-3 -1l-1 -3l2 -4l4 1zM1080 2130l-1 -1l0 -3l1 -1l2 1l0 3zM1112 2130l-2 -2l0 -5l1 -5l2 5l2 5zM801 2154l-3 -1l1 -3l2 -3l3 2l-1 4zM831 2157l-1 -2l0 -5l4 -1l3 2l-3 5zM851 2152l-2 1l-5 1l-2 -4l3 -3l6 1zM873 2144l-4 -3l-4 -5l0 -3l3 2l3 4zM877 2160l-5 1l-4 -1l-1 -4l2 -3l5 3zM899 2139l1 -3l4 -2l2 3l0 3l-4 1zM925 2149l-3 -3l0 -7l3 -4l4 4l-2 6zM946 2146l-2 1l-3 0l-1 -4l3 -1l3 2zM952 2160l-4 0l-1 -5l3 -3l4 2l0 4zM981 2142l-5 0l-3 -3l2 -3l2 0l3 2zM1004 2140l-4 3l-7 -1l-3 -4l4 -2l6 0zM1010 2149l-1 -3l2 -3l1 -1l3 1l-3 6zM1024 2150l1 -2l3 0l1 2l0 3l-4 -1zM1045 2149l-4 3l-5 -1l-2 -3l3 -4l5 1zM1061 2158l-2 -2l-1 -5l2 -3l2 2l2 7zM1076 2166l-3 -5l0 -6l3 -6l4 5l-2 7zM1092 2151l2 -4l4 1l4 2l-2 4l-6 0zM797 2171l-4 1l-1 -3l0 -2l3 -1l2 2zM825 2159l-3 -2l2 -4l3 -3l2 4l-1 4zM855 2171l-5 -1l-4 -6l1 -3l3 1l4 4zM864 2169l-2 1l-4 -2l0 -2l3 -2l3 2zM880 2175l-2 -2l-1 -4l2 -1l2 1l1 3zM901 2167l1 -2l2 -1l3 0l0 2l-4 3zM930 2172l-2 2l-3 -1l-3 -2l2 -3l4 2zM935 2178l2 -4l5 0l3 2l-2 3l-4 1zM952 2168l-3 -1l-2 -5l2 -2l2 1l1 3zM966 2163l4 -4l5 -1l3 1l-1 4l-6 1zM984 2162l-3 -2l0 -4l1 -4l3 3l0 4zM1012 2167l-3 1l-4 -1l-2 -4l4 -1l3 1zM1025 2162l0 -3l1 -4l2 0l3 2l-3 5zM1062 2158l-4 2l-6 -3l0 -4l4 -1l5 2zM1073 2174l-4 2l-4 -3l0 -3l2 -2l2 2zM1091 2164l-4 -2l2 -5l2 -3l2 3l2 5zM1114 2165l-3 1l-4 -3l-2 -3l4 -1l5 3zM797 2189l-1 2l-5 0l-4 -3l4 -3l5 1zM820 2175l-1 -2l3 -2l2 1l1 2l-3 2zM827 2184l0 -5l6 -2l4 0l-1 4l-5 4zM868 2183l1 -2l2 -2l1 2l0 2l-2 1zM884 2185l-3 0l-4 -1l-3 -3l5 0l4 1zM904 2193l-1 -6l2 -5l3 -2l3 3l-2 6zM917 2189l-3 3l-5 0l0 -5l3 -2l3 1zM927 2177l0 -3l6 -2l5 0l-2 4l-6 3zM940 2186l-1 -5l4 -5l5 -2l0 6l-3 5zM973 2188l-1 -1l-1 -5l2 -3l3 3l0 5zM1001 2180l-4 -1l0 -5l3 -2l3 3l2 3zM1005 2191l-3 -2l-1 -5l1 -3l3 1l2 5zM1025 2197l-3 0l-4 -2l-1 -3l3 -2l4 3zM1051 2179l0 -3l6 -2l4 2l-3 4l-6 2zM1051 2183l-1 -4l6 -1l2 3l0 4l-5 1zM1087 2179l0 -3l3 -3l3 3l0 3l-4 2zM1108 2179l-2 -2l0 -6l3 -1l2 1l0 6zM802 2209l1 -3l2 -1l3 0l0 3l-3 2zM824 2217l-2 -3l2 -4l2 -1l3 1l-3 4zM846 2214l0 -3l1 -3l3 1l1 4l-2 2zM875 2208l-4 -2l-3 -4l-2 -4l4 0l4 6zM887 2198l-2 3l-4 -1l-1 -3l1 -3l4 0zM896 2202l-3 -2l-1 -5l2 -3l3 1l2 5zM922 2199l-4 -1l-1 -6l2 -4l3 4l2 4zM938 2208l-3 0l-2 -3l3 -2l2 -1l2 3zM945 2197l1 -2l2 -2l2 2l-1 2l-2 1zM968 2213l-2 -3l0 -3l2 -2l5 1l-1 5zM1000 2197l-3 2l-6 1l-4 -4l5 -2l5 0zM1006 2215l-2 -2l1 -3l3 -1l2 2l-2 4zM1026 2201l0 -6l2 -5l3 0l4 3l-4 5zM1053 2209l-1 -4l0 -6l3 -3l2 4l-1 6zM1058 2217l-2 -2l-1 -5l2 -3l2 3l2 6zM1089 2194l1 -2l4 -1l2 2l-1 4l-5 1zM1105 2212l-5 -1l-3 -1l1 -4l3 -1l4 2zM812 2224l-5 1l-4 0l-2 -2l1 -2l6 1zM820 2225l-1 -2l4 -3l3 0l0 4l-4 1zM844 2235l-2 -3l1 -5l3 -1l2 2l-1 6zM862 2234l-3 -2l-2 -3l2 -2l3 1l1 2zM875 2221l3 -4l4 -2l2 4l0 4l-5 0zM889 2220l2 -4l4 -2l6 0l-3 5l-4 1zM917 2227l1 -4l4 -2l3 3l-1 3l-4 3zM933 2229l1 -3l4 -2l2 3l-1 2l-4 1zM968 2229l-5 0l-5 -5l2 -4l3 0l3 4zM975 2225l1 -3l4 -2l5 -1l-2 4l-4 3zM988 2229l-1 -4l1 -6l3 0l2 2l-2 6zM1020 2224l-3 2l-5 -2l2 -4l2 -3l4 3zM1034 2214l-2 -3l1 -3l3 0l2 2l-1 4zM1059 2220l-2 3l-4 -1l-3 -3l3 -3l5 1zM1055 2226l-2 -1l1 -4l3 -2l1 3l0 5zM1083 2233l-2 -2l2 -5l3 -3l1 3l-2 6zM1089 2224l-1 -5l5 -2l4 1l-2 4l-2 4zM812 2251l-1 -4l3 -4l5 -3l0 5l-3 5zM835 2246l-5 0l-2 -3l1 -3l4 -1l2 3zM847 2246l-3 1l-5 -1l-2 -2l2 -3l5 2zM864 2234l-4 1l-3 -3l1 -5l5 1l2 3zM888 2246l-4 1l-7 -1l-3 -4l5 0l5 2zM905 2240l0 -4l2 -4l3 0l0 2l-2 4zM911 2243l5 -4l4 -3l2 1l0 2l-5 3zM944 2237l-2 0l-2 -2l0 -4l3 1l2 3zM946 2238l-2 -4l4 -4l3 0l1 3l-2 3zM986 2243l-1 2l-4 0l0 -2l0 -2l4 0zM992 2240l0 -2l5 -3l5 1l-4 3l-4 3zM1015 2242l-2 -2l5 -6l3 0l-1 4l-3 4zM1033 2238l-2 -4l2 -4l3 -1l2 2l-2 5zM1047 2230l-6 1l-4 -1l-1 -3l2 -2l4 2zM1073 2249l-4 -1l-3 -4l1 -4l5 0l3 5zM1088 2236l-4 -1l0 -5l0 -2l3 0l1 4zM1090 2239l3 -3l6 -2l2 3l-1 3l-6 1zM806 2263l-2 2l-6 0l-1 -3l2 -3l6 1zM832 2248l-5 2l-5 0l-2 -4l3 -4l7 2zM847 2261l-2 -3l2 -5l1 -1l2 1l-1 5zM862 2266l1 -3l4 -4l2 1l1 3l-4 3zM888 2253l-4 -2l0 -6l1 -3l3 3l2 5zM897 2254l-2 -3l0 -5l2 -4l3 3l-1 7zM917 2263l0 -4l3 -3l2 -2l1 3l-3 5zM940 2264l-3 -1l-2 -5l2 -3l4 1l1 4zM958 2253l-4 0l-3 -3l0 -2l2 0l3 2zM975 2255l-3 3l-3 -4l-2 -3l5 -1l3 2zM1002 2258l-3 1l-4 -5l1 -4l4 2l3 3zM1014 2267l-3 -1l-6 -3l2 -4l3 1l4 4zM1036 2251l-3 -1l-3 -3l1 -2l2 0l3 3zM1055 2251l-3 2l-6 0l-2 -3l3 -3l6 0zM1075 2262l-2 3l-6 -1l-2 -2l3 -2l5 -1zM1072 2269l-2 -3l3 -4l2 -1l2 3l-2 3zM1095 2253l-2 -2l0 -7l5 -3l2 5l-2 6zM794 2269l-2 -3l0 -5l4 0l3 2l-1 5zM818 2271l-1 -2l1 -4l2 -3l2 2l-1 7zM843 2274l-3 2l-2 0l-2 -2l1 -2l4 0zM860 2279l2 -3l3 -1l3 2l-1 5l-5 -1zM875 2282l-2 -3l4 -4l3 -1l1 4l-2 4zM904 2279l-5 -2l-2 -2l1 -4l4 -1l3 4zM910 2271l-2 4l-4 -3l0 -3l2 -3l3 2zM925 2266l1 -4l7 0l2 2l-2 3l-6 2zM963 2275l-4 1l-1 -3l4 -2l3 0l1 3zM961 2286l-1 -3l5 -3l3 0l2 4l-6 4zM993 2280l-4 1l-2 -5l1 -3l3 1l4 3zM1018 2271l-3 0l-3 -4l2 -3l4 1l2 3zM1024 2286l-3 -4l1 -5l2 0l3 0l-1 5zM1034 2288l1 -5l6 -4l5 -1l-2 5l-5 5zM1070 2276l0 -2l0 -3l3 0l1 3l-1 2zM1078 2284l-3 0l-3 -2l0 -3l2 0l3 2zM1109 2268l-4 3l-7 0l-1 -4l1 -3l5 1zM790 2292l2 -4l2 -3l2 1l1 2l-3 2zM821 2305l-2 -3l0 -7l3 -1l2 3l1 5zM841 2294l0 -2l3 -3l3 0l0 3l-4 4zM863 2296l-1 -2l3 -5l3 1l1 3l-4 5zM886 2300l-1 -2l2 -3l3 -2l0 3l-2 4zM909 2304l-1 3l-4 -1l0 -3l2 -3l3 0zM917 2305l-3 0l-3 -2l-1 -3l4 0l3 3zM939 2299l-3 1l-3 0l0 -4l2 -1l3 1zM960 2300l-4 -2l-2 -3l3 -3l3 0l1 4zM972 2284l-3 1l-4 -2l-1 -3l3 -2l4 3zM994 2294l-2 -3l4 -4l2 0l2 2l-3 5zM1011 2287l2 -3l5 -1l1 1l-1 2l-3 1zM1037 2304l-3 -1l-4 -3l-1 -3l3 0l4 4zM1049 2300l-3 -1l1 -3l1 -4l3 2l0 4zM1078 2304l-3 1l-4 -3l0 -4l4 -2l4 5zM1082 2288l-2 -2l2 -2l2 0l1 1l-1 4zM1099 2294l0 -6l0 -5l4 -2l1 5l0 5z" fill="#e07010"/>
<path d="M801 2063l-3 1l-4 -3l0 -2l2 -1l3 2zM829 2065l0 -2l1 -3l1 -1l2 2l-2 3zM849 2062l-2 -2l-2 -4l2 -2l2 1l1 4zM854 2063l3 -4l3 -1l3 1l-1 3l-3 1zM867 2067l1 -3l2 -1l2 2l-1 2l-2 1zM892 2051l-2 1l-3 -1l0 -3l3 -1l3 1zM921 2052l-1 2l-3 -1l-2 -3l3 -1l3 1zM938 2070l-1 -1l2 -3l2 -2l1 2l-2 4zM963 2070l-2 0l-2 -4l0 -4l3 3l2 3zM982 2068l-2 3l-4 -1l-1 -2l1 -3l3 1zM998 2062l-2 1l-1 -1l-1 -2l2 0l2 1zM1001 2051l-1 -2l2 -3l3 0l1 3l-2 3zM1039 2052l-2 -2l-1 -3l2 -2l2 1l0 5zM1055 2067l-1 -2l0 -1l2 0l2 1l0 3zM1066 2062l4 -2l3 -1l2 3l-1 2l-4 0zM1088 2055l-3 1l-3 -1l-2 -2l2 -1l4 1zM1108 2065l-3 0l-2 -2l-2 -3l3 0l4 2zM811 2086l-1 -2l3 -2l2 0l0 2l-2 2zM825 2074l0 -3l2 -3l3 2l1 4l-4 1zM829 2088l3 -3l4 -1l2 2l0 2l-5 2zM863 2086l-2 -2l0 -4l1 -2l2 2l0 5zM875 2071l-1 -1l1 -5l1 -1l1 1l-1 5zM903 2075l-1 -3l-1 -3l2 -2l2 2l0 4zM921 2082l-2 0l-2 -4l1 -4l4 2l1 5zM939 2080l2 -2l3 -2l2 1l-1 1l-3 2zM962 2075l-1 -2l2 -2l3 1l0 3l-2 1zM969 2068l1 -3l1 -2l3 1l0 3l-2 2zM998 2082l-3 1l-2 -2l-2 -3l4 0l3 1zM1005 2080l2 -2l4 -1l1 2l-1 2l-3 1zM1019 2091l-3 -2l-1 -3l1 -2l2 1l2 3zM1058 2089l-3 -2l-1 -3l1 -2l2 0l2 4zM1055 2075l2 -3l3 -1l2 2l0 2l-4 1zM1091 2078l-2 0l-1 -2l0 -1l2 0l2 1zM1115 2076l-3 -1l-2 -2l1 -4l4 2l1 3zM805 2103l-3 0l-1 -4l1 -2l3 0l1 3zM827 2093l-3 0l-1 -3l2 -2l3 -1l1 3zM838 2102l-1 -1l2 -2l2 -1l0 2l-2 3zM861 2104l-1 -1l0 -3l0 -4l1 3l1 3zM880 2095l-2 -2l-2 -2l2 -1l3 0l1 3zM907 2107l-2 -1l-2 -2l0 -2l3 -1l2 3zM908 2092l1 -2l2 0l2 0l-1 2l-2 2zM940 2086l-2 0l-1 -3l1 -1l3 -1l1 4zM954 2105l0 -3l3 -3l4 -1l1 4l-4 2zM974 2087l-2 0l-3 0l0 -2l1 -1l3 1zM1003 2101l-2 3l-5 -2l-2 -4l4 0l3 1zM1005 2103l1 -3l1 -3l2 2l1 1l-2 3zM1017 2105l1 -1l3 -1l3 1l-2 2l-3 1zM1051 2091l0 -2l3 -4l2 0l0 1l-3 4zM1072 2102l-2 -1l-1 -3l1 -3l2 2l0 3zM1087 2104l1 -4l2 -2l2 -1l-1 2l-1 3zM1109 2089l-2 -1l1 -3l2 -1l2 2l-1 3zM797 2112l-1 1l-3 1l-2 -3l3 -3l3 1zM833 2108l-2 0l-4 -3l0 -3l3 2l3 2zM839 2123l-1 -1l2 -2l2 -2l1 2l-2 4zM869 2107l-2 -2l3 -3l4 -1l0 3l-2 3zM876 2119l-2 -1l-2 -3l1 -2l2 -1l2 5zM890 2106l-1 -3l3 -2l2 -1l1 2l-2 4zM919 2114l-1 2l-3 -1l-1 -2l1 -1l3 0zM943 2106l-5 0l-5 1l0 -2l1 -2l6 0zM942 2117l1 -3l4 -3l3 1l-1 2l-3 3zM975 2102l0 -2l3 -1l3 2l-2 2l-3 1zM996 2109l-2 -1l-1 -2l1 -3l2 1l2 3zM1011 2116l-2 -4l3 -3l3 1l2 2l-3 2zM1034 2120l-2 2l-5 -2l-1 -2l1 -2l4 2zM1057 2118l-4 1l-4 -1l-1 -2l2 -1l5 0zM1065 2124l-2 -1l3 -3l3 -3l1 3l-2 4zM1091 2108l1 -3l2 -3l3 -1l-1 3l-2 3zM1094 2114l-2 -2l2 -2l1 -1l2 1l-1 3zM795 2137l0 -3l3 -2l3 1l0 3l-3 2zM816 2129l0 -3l1 -4l2 -1l1 2l-2 4zM843 2142l2 -2l2 -2l1 1l0 2l-3 1zM868 2123l-3 0l-4 0l0 -2l2 -2l4 1zM886 2135l-2 0l0 -3l1 -2l1 1l1 3zM900 2140l2 -3l2 0l5 1l-3 3l-3 0zM910 2125l-3 -1l1 -3l3 -3l1 4l0 3zM938 2141l-3 1l-3 -3l0 -3l3 -1l3 2zM940 2134l1 -2l4 0l2 2l-2 1l-5 0zM979 2124l-2 1l-3 0l-1 -2l1 -2l3 0zM984 2127l-2 -1l-2 -4l1 -2l2 1l1 3zM999 2141l-1 -2l0 -4l2 -2l1 2l0 4zM1033 2140l-1 -2l1 -5l2 0l1 2l-1 4zM1057 2125l-1 3l-6 0l0 -3l1 -3l5 0zM1070 2125l-1 2l-3 -1l0 -2l1 -3l3 1zM1080 2129l-1 -1l0 -2l1 0l2 0l-1 2zM1112 2129l-2 -2l0 -3l1 -4l2 3l1 4zM801 2154l-2 -1l1 -3l1 -2l2 2l0 2zM832 2156l-2 -2l1 -3l2 -1l3 2l-2 3zM851 2151l-2 2l-4 0l-2 -3l3 -2l4 1zM871 2142l-2 -2l-3 -3l0 -3l2 2l2 3zM875 2159l-3 1l-3 -1l-1 -2l2 -3l3 2zM900 2139l1 -3l3 -1l1 2l0 3l-3 0zM925 2147l-2 -2l0 -5l2 -3l3 3l-2 4zM945 2146l-1 1l-2 -1l-1 -2l2 -1l2 1zM951 2159l-2 0l-1 -4l2 -2l3 1l0 4zM980 2141l-4 0l-2 -3l1 -1l2 -1l2 2zM1002 2140l-3 2l-5 -1l-2 -3l2 -1l5 0zM1010 2148l0 -3l1 -2l1 0l2 1l-2 4zM1025 2150l0 -2l3 0l0 2l0 2l-2 -1zM1043 2149l-3 2l-3 -1l-2 -2l2 -3l4 1zM1061 2157l-2 -2l0 -4l1 -1l2 1l1 5zM1076 2164l-2 -4l0 -4l2 -4l3 3l-1 5zM1093 2151l1 -3l4 0l3 2l-2 3l-4 0zM796 2171l-2 0l-2 -2l1 -1l2 -2l1 2zM825 2158l-2 -1l1 -3l3 -2l1 3l-1 3zM853 2169l-3 -1l-3 -4l1 -3l2 1l3 3zM863 2168l-1 1l-3 -1l0 -2l2 -1l3 1zM880 2174l-2 -2l0 -3l1 -1l2 1l1 3zM902 2167l0 -2l2 -1l2 0l0 2l-3 2zM929 2172l-2 2l-2 -1l-2 -2l2 -2l2 1zM937 2178l1 -4l4 1l2 1l-1 2l-4 1zM952 2166l-3 0l-1 -4l1 -2l2 1l1 2zM968 2162l3 -3l4 -1l2 2l-1 2l-4 1zM984 2160l-2 -1l-1 -3l1 -3l2 2l1 3zM1011 2166l-3 1l-2 -1l-2 -2l3 -1l3 1zM1026 2161l0 -3l1 -2l1 0l2 1l-2 4zM1061 2158l-4 1l-4 -2l0 -4l3 0l4 1zM1071 2173l-3 1l-3 -1l0 -2l2 -2l2 1zM1091 2162l-3 -1l1 -4l2 -2l2 2l1 4zM1113 2165l-2 0l-3 -2l-1 -2l2 -1l4 2zM796 2189l-1 2l-3 -1l-3 -2l3 -2l3 1zM820 2175l0 -2l2 -1l2 0l0 2l-2 1zM828 2183l0 -3l5 -2l3 0l-1 3l-4 3zM869 2183l0 -2l2 -1l1 2l0 1l-2 1zM883 2184l-2 1l-3 -1l-2 -3l3 1l3 0zM905 2191l-1 -5l2 -3l2 -2l2 2l-2 4zM916 2189l-3 2l-3 0l0 -3l2 -2l2 1zM928 2176l0 -2l5 -1l4 0l-2 3l-5 2zM941 2185l-1 -4l3 -4l4 -1l0 4l-3 4zM973 2187l-1 -1l-1 -3l2 -2l2 2l0 4zM1001 2179l-3 0l0 -4l3 -2l2 2l1 3zM1005 2190l-2 -2l-1 -4l1 -2l2 1l1 4zM1024 2196l-2 0l-3 -1l-1 -3l2 -1l3 3zM1051 2179l1 -2l4 -2l3 2l-2 2l-4 2zM1052 2183l-1 -3l5 -1l1 2l0 3l-3 1zM1088 2178l0 -2l2 -2l2 2l0 3l-3 1zM1109 2177l-2 -1l0 -4l2 -1l2 1l-1 4zM803 2208l1 -2l1 -1l2 1l0 2l-2 1zM824 2215l-1 -2l1 -3l2 0l2 0l-2 3zM847 2213l-1 -2l1 -2l3 1l0 2l-2 2zM874 2207l-3 -2l-3 -3l0 -3l3 0l2 5zM886 2197l-2 3l-3 -1l0 -2l0 -2l4 0zM896 2200l-3 -1l0 -3l1 -3l3 1l1 4zM921 2198l-2 -1l-1 -4l1 -3l3 2l1 4zM938 2207l-3 0l-1 -2l2 -2l2 0l1 2zM946 2197l0 -2l2 -1l2 1l-1 2l-2 0zM968 2212l-2 -3l0 -2l2 -1l4 1l-1 3zM999 2197l-3 1l-4 1l-3 -3l3 -2l4 1zM1006 2214l-1 -1l1 -2l1 -1l2 1l-1 3zM1027 2199l0 -4l1 -4l3 0l2 2l-3 4zM1053 2208l-1 -3l1 -5l2 -2l1 3l-1 5zM1058 2216l-2 -2l0 -3l1 -3l2 2l1 5zM1090 2194l0 -2l3 -1l2 2l-1 3l-3 1zM1104 2211l-4 -1l-2 -1l1 -3l2 -1l3 2zM810 2224l-4 1l-3 0l-1 -2l1 -1l4 0zM820 2224l0 -1l3 -3l2 1l0 2l-3 2zM844 2233l-1 -1l1 -4l2 -1l1 2l-1 4zM861 2233l-2 -2l-1 -2l2 -1l1 0l1 2zM876 2220l3 -2l2 -2l2 3l0 3l-4 0zM891 2220l1 -3l3 -2l4 0l-2 3l-3 1zM918 2227l1 -3l3 -2l2 2l-1 3l-3 2zM934 2228l1 -1l3 -2l1 2l-1 2l-2 0zM967 2228l-4 0l-4 -5l1 -2l3 0l2 3zM976 2224l1 -2l3 -1l3 -1l-1 3l-3 2zM988 2227l0 -3l0 -4l3 0l1 1l-1 5zM1019 2223l-2 2l-3 -1l1 -3l1 -2l4 2zM1034 2213l-1 -2l1 -3l2 0l1 2l0 3zM1058 2220l-1 2l-3 0l-2 -2l2 -3l3 1zM1055 2226l-2 -1l2 -3l2 -2l1 3l-1 3zM1083 2232l-1 -2l1 -3l2 -2l1 2l-1 4zM1090 2223l-1 -3l4 -1l3 0l-2 3l-2 3zM813 2250l-1 -3l2 -3l4 -2l0 4l-3 3zM834 2245l-3 0l-2 -2l0 -3l3 0l2 2zM846 2245l-3 1l-3 0l-2 -2l2 -2l3 2zM863 2233l-3 1l-2 -2l1 -4l4 1l1 2zM886 2246l-3 0l-5 -1l-2 -2l4 0l3 1zM906 2239l0 -3l1 -3l2 -1l1 2l-2 3zM913 2242l4 -3l3 -2l1 0l0 1l-4 3zM944 2237l-2 0l-1 -2l0 -3l2 1l2 2zM947 2237l-2 -3l3 -3l3 0l0 2l-2 3zM985 2243l-1 2l-3 0l0 -2l1 -2l3 1zM992 2240l1 -2l4 -2l3 1l-3 2l-3 2zM1015 2241l-1 -1l4 -4l2 -1l-1 3l-2 3zM1033 2236l-1 -2l2 -4l1 0l2 1l-1 4zM1045 2229l-5 1l-3 -1l-1 -2l2 -1l3 1zM1072 2248l-2 -1l-3 -3l1 -3l3 0l3 4zM1087 2235l-2 -1l-1 -3l0 -2l2 0l1 3zM1092 2239l2 -3l5 -1l1 2l-1 2l-4 1zM805 2263l-2 1l-4 0l-1 -2l2 -2l5 0zM830 2248l-3 1l-4 0l-2 -3l2 -2l6 1zM847 2260l-1 -3l1 -3l1 -1l2 0l-1 4zM863 2265l1 -3l3 -2l2 1l0 2l-3 2zM887 2251l-2 -1l-1 -4l2 -3l2 2l1 4zM897 2253l-2 -3l0 -3l2 -3l2 2l0 5zM918 2262l0 -3l2 -3l1 -1l1 2l-2 4zM940 2263l-3 -1l-1 -4l2 -2l2 0l1 4zM957 2252l-3 0l-2 -2l0 -2l1 0l2 2zM974 2255l-2 2l-2 -3l-1 -3l3 0l2 1zM1001 2257l-2 1l-3 -4l1 -3l3 1l2 3zM1013 2266l-2 -1l-4 -2l1 -3l2 1l3 3zM1035 2250l-2 -1l-2 -2l1 -1l1 0l3 2zM1054 2251l-3 2l-4 0l-2 -3l2 -2l5 0zM1074 2262l-2 2l-4 0l-2 -2l2 -1l4 -1zM1072 2268l-1 -2l2 -4l2 0l1 2l-1 3zM1095 2252l-1 -2l0 -4l3 -3l2 4l-1 4zM794 2267l-1 -2l0 -4l3 1l2 2l-1 3zM818 2270l-1 -1l1 -4l2 -2l1 2l0 5zM842 2274l-2 1l-2 0l-1 -1l1 -2l2 0zM861 2278l1 -1l3 -1l2 2l-1 3l-3 -1zM876 2281l-2 -2l3 -3l3 -1l0 3l-1 3zM903 2277l-3 -1l-3 -2l2 -2l3 -1l2 3zM909 2270l-1 4l-3 -2l0 -3l1 -2l2 1zM926 2266l1 -3l5 0l2 1l-1 3l-5 1zM963 2275l-3 0l-1 -2l3 -1l2 0l1 2zM962 2286l-1 -3l4 -2l2 0l1 3l-4 3zM992 2279l-3 1l-1 -4l1 -2l2 0l2 3zM1018 2270l-3 0l-1 -2l1 -3l2 1l2 2zM1024 2284l-2 -3l0 -3l2 -1l2 1l-1 3zM1036 2287l0 -4l5 -3l4 -1l-2 4l-4 3zM1071 2276l-1 -2l1 -2l2 -1l0 3l0 1zM1077 2283l-2 0l-2 -1l0 -2l1 0l2 1zM1107 2268l-4 2l-5 0l0 -3l1 -2l4 1zM791 2291l1 -3l2 -2l2 0l0 2l-2 2zM822 2303l-2 -2l0 -5l2 -1l2 2l0 4zM841 2294l0 -2l2 -2l3 0l0 2l-3 3zM863 2296l-1 -2l3 -4l2 1l1 2l-3 4zM886 2300l-1 -2l2 -2l2 -2l1 3l-2 2zM908 2304l-1 2l-2 -1l-1 -2l2 -2l3 0zM916 2305l-2 0l-2 -2l-1 -2l3 0l3 2zM938 2298l-2 1l-3 0l1 -2l1 -2l2 1zM959 2299l-2 -2l-2 -2l2 -2l3 0l1 3zM971 2284l-2 0l-3 -1l-1 -3l3 -1l3 3zM994 2293l-1 -3l3 -2l2 0l1 1l-2 4zM1012 2286l2 -2l3 -1l1 1l0 1l-3 2zM1036 2303l-2 0l-3 -3l-1 -2l3 0l3 3zM1049 2300l-2 -1l0 -3l1 -3l3 2l0 3zM1077 2303l-2 1l-2 -2l-1 -3l3 -1l3 3zM1082 2288l-2 -2l2 -2l2 0l1 2l-1 2zM1100 2292l-1 -4l0 -4l4 -1l1 3l-1 4z" fill="#e0c020"/>
<path d="M868 2066l1 -1l1 -1l1 1l-1 1l-1 1zM939 2069l-1 -1l1 -1l1 -1l1 1l-1 2zM962 2069l-1 0l0 -2l-1 -2l2 2l1 1zM997 2062l-1 0l-1 -1l0 -1l1 0l1 1zM1106 2064l-1 0l-1 -1l-1 -2l1 0l2 1zM970 2067l1 -2l1 -1l1 1l0 1l-1 1zM804 2101l-1 0l-1 -1l1 -2l1 1l1 1zM861 2103l-1 -1l0 -1l0 -2l1 1l0 2zM940 2085l-1 0l-1 -1l1 -1l1 0l1 2zM972 2087l-1 0l-1 -1l0 0l0 -1l2 1zM1001 2101l-1 1l-3 -1l0 -2l2 0l1 0zM1006 2101l1 -1l1 -1l1 0l0 1l-1 1zM1018 2105l1 -1l2 0l1 0l-1 1l-2 1zM1071 2101l0 0l-1 -2l1 -1l1 0l0 2zM832 2107l-1 0l-2 -2l-1 -1l2 1l1 1zM870 2106l-1 -1l2 -2l1 0l1 1l-2 2zM1012 2114l-1 -2l2 -1l1 0l1 1l-1 1zM1066 2123l-1 -1l2 -2l1 -1l0 2l-1 2zM1093 2106l0 -1l1 -2l1 0l0 1l-1 2zM1094 2113l-1 -1l1 -1l1 -1l1 1l-1 1zM866 2122l-2 0l-1 0l-1 -1l1 -1l2 1zM941 2134l1 -1l2 0l1 1l-1 0l-2 0zM999 2139l0 -1l0 -2l0 -1l1 1l0 2zM1055 2125l0 1l-3 0l-1 -1l1 -2l3 0zM1080 2128l0 0l0 -1l0 -1l1 1l0 1zM978 2139l-2 0l-1 -1l1 -1l1 0l1 1zM999 2140l-2 1l-2 -1l-1 -1l1 -1l3 0zM826 2157l-2 0l1 -2l1 -1l1 2l0 1zM903 2166l0 0l1 -1l1 0l0 1l-2 1zM939 2177l0 -1l2 0l1 0l0 1l-2 1zM983 2159l-1 -1l0 -1l1 -2l1 1l0 2zM1009 2166l-1 0l-1 0l-1 -2l1 0l2 0zM1027 2159l0 -1l0 -1l1 0l1 0l-1 2zM1091 2160l-2 -1l1 -1l1 -1l1 1l0 2zM1112 2164l-1 0l-2 -1l-1 -1l2 0l2 1zM830 2182l0 -2l3 -1l1 0l0 2l-2 1zM870 2182l0 0l1 -1l0 1l0 1l-1 0zM882 2184l-1 0l-2 -1l-1 -1l2 0l1 1zM906 2187l-1 -2l1 -2l1 0l1 1l-1 2zM1022 2195l-1 0l-1 -1l-1 -1l2 0l1 1zM825 2213l-1 -1l1 -1l0 0l1 0l0 1zM872 2205l-1 -1l-1 -1l-1 -2l2 0l1 2zM921 2196l-1 0l-1 -2l1 -2l1 1l1 2zM937 2206l-1 0l-1 -2l1 0l1 0l1 0zM997 2196l-2 1l-2 1l-1 -2l1 -1l2 1zM1058 2214l-1 0l0 -2l0 -1l1 1l1 2zM1091 2194l0 -1l1 0l1 0l0 2l-2 0zM807 2224l-2 0l-1 0l-1 0l1 -1l2 0zM822 2224l0 -1l1 -1l1 0l0 1l-1 1zM935 2228l1 -1l1 -1l1 1l-1 1l-1 0zM965 2226l-2 0l-2 -3l0 -1l2 0l1 1zM1035 2211l-1 -1l1 -1l1 0l0 1l0 2zM1083 2231l0 -1l0 -2l1 -1l1 1l-1 2zM1091 2222l0 -1l1 -1l2 0l-1 2l-1 1zM814 2248l-1 -1l2 -1l1 -2l0 2l-1 2zM844 2245l-2 0l-1 0l-1 -1l1 -1l2 1zM862 2233l-1 0l-1 -1l1 -2l1 0l1 1zM884 2245l-2 0l-2 0l-1 -1l1 0l2 0zM948 2235l-1 -1l1 -1l2 -1l0 2l-1 1zM1016 2240l0 0l1 -3l2 0l-1 2l-1 1zM1042 2229l-3 0l-1 -1l-1 0l1 -1l2 0zM1071 2246l-1 0l-1 -2l0 -1l2 0l1 2zM1086 2233l-1 0l0 -2l0 -1l1 0l0 2zM828 2248l-2 0l-2 0l-1 -1l1 -2l3 1zM865 2264l0 -2l2 -1l1 1l0 1l-2 1zM897 2251l-1 -2l0 -1l1 -2l1 1l0 3zM919 2260l0 -2l1 -1l1 0l0 0l-1 2zM939 2261l-1 -1l-1 -2l1 0l1 0l1 2zM1073 2266l0 -1l1 -2l1 0l0 1l-1 1zM1096 2251l-1 -1l0 -2l2 -2l0 2l0 2zM840 2274l-1 1l-1 0l0 -1l0 -1l2 0zM877 2280l-1 -2l1 -1l2 -1l0 2l-1 1zM962 2274l-1 0l0 -1l1 0l1 0l1 1zM963 2284l0 -1l2 -1l1 0l0 1l-2 2zM991 2278l-1 0l-1 -2l0 -1l1 0l2 1zM1017 2269l-1 0l-1 -1l1 -1l1 0l1 1zM1024 2282l-1 -2l0 -2l1 0l1 0l0 2zM1103 2268l-1 1l-3 0l0 -2l0 -1l2 0zM793 2289l0 -1l1 -1l1 0l0 1l-1 1zM822 2301l-1 -1l0 -2l1 -1l1 1l0 2zM907 2303l0 2l-1 -1l-1 -1l1 -1l1 0zM996 2291l-1 -1l1 -1l1 0l1 0l-1 2zM1014 2286l1 -2l2 0l0 1l0 0l-1 1zM1035 2302l-1 0l-1 -1l-1 -1l1 0l2 1zM1049 2299l-1 -1l0 -1l1 -2l1 1l0 2zM1077 2303l-1 0l-2 -1l0 -2l2 0l1 1zM1082 2287l0 -1l1 -1l0 0l1 1l-1 1z" fill="#60d030"/>
<path d="M831 2061l-0.8 2.1M962 2067l0.4 0.8M996 2061l0.0 0.0M1056 2064l-1.1 2.4M1083 2054l2.6 0.8M876 2067l-0.2 1.0M1017 2085l0.7 2.2M1060 2074l-0.9 0.3M1113 2072l0.9 2.0M958 2101l-1.3 1.5M970 2086l0.3 0.1M999 2100l1.4 0.5M1008 2100l-0.3 0.2M871 2104l-0.0 0.0M874 2115l1.0 1.8M916 2113l0.4 0.0M977 2101l-0.7 0.1M1095 2104l-0.9 1.1M1094 2112l-0.0 0.1M818 2125l-0.1 0.3M885 2132l0.5 1.8M1034 2135l-0.6 2.0M1052 2125l2.9 0.1M1066 2124l2.7 0.7M870 2157l1.5 0.5M951 2157l0.1 0.5M976 2137l1.2 1.2M1027 2150l-1.9 0.1M1038 2148l2.5 0.3M1060 2152l0.2 3.0M793 2168l1.9 1.9M904 2166l-1.2 0.7M949 2161l0.9 2.3M1057 2155l0.5 0.3M1065 2171l2.6 1.0M1091 2157l-0.0 2.6M833 2180l-1.6 1.0M871 2182l-1.7 0.8M907 2183l-0.6 2.1M933 2175l-2.6 1.0M1003 2184l0.8 2.8M1056 2182l-0.7 0.2M825 2210l-0.4 1.9M948 2196l-0.7 0.3M1093 2194l-2.7 0.4M1100 2207l0.6 0.5M860 2229l0.1 0.2M896 2217l-2.3 1.2M1036 2209l-1.1 2.5M1056 2224l-0.4 1.4M830 2241l1.7 1.9M802 2262l0.6 0.1M938 2258l0.9 2.4M953 2249l1.4 1.2M1070 2262l0.1 0.0M819 2267l-0.3 1.5M879 2277l-1.2 2.0M906 2270l1.1 0.3M1040 2283l-0.7 0.6M1073 2281l1.6 1.2M795 2287l-2.0 2.2M843 2292l-0.8 0.6M914 2303l0.9 0.8M1075 2301l1.0 0.9" fill="none" stroke="#2050a0" stroke-width="3" stroke-linecap="round" opacity="0.6"/>
</g>
<rect x="1077.3" y="2293.1" width="29" height="3" fill="#eee"/>
<text x="1091.8" y="2290.1" font-size="10" font-weight="bold" fill="#ddd" text-anchor="middle">10μm</text>
<rect x="1117" y="1270.2" width="316.0" height="253.8" fill="#060000"/>
<g clip-path="url(#c03)" filter="url(#mb)">
<path d="M1133 1284l-13 16M1245 1281l6 11M1302 1290l10 10M1301 1281l-4 10M1334 1275l11 4M1357 1284l-9 16M1380 1281l9 10M1428 1282l-2 11M1134 1306l-7 4M1165 1299l-0 19M1196 1308l-11 11M1270 1290l-18 8M1309 1300l14 5M1323 1302l-10 3M1349 1293l-8 11M1376 1295l-6 15M1395 1300l-19 8M1426 1314l-11 5M1158 1327l21 1M1185 1328l-6 0M1192 1310l-1 18M1240 1330l-12 6M1303 1322l11 3M1306 1310l13 16M1334 1323l14 1M1346 1327l-14 12M1376 1318l10 17M1424 1328l8 13M1124 1346l1 19M1173 1342l8 20M1187 1332l14 3M1205 1344l14 8M1220 1336l14 11M1244 1342l-8 17M1282 1339l-5 9M1296 1349l1 7M1317 1341l-11 8M1354 1346l4 7M1413 1343l-14 8M1126 1354l-2 15M1141 1348l7 6M1178 1356l-5 12M1196 1370l1 15M1239 1352l7 9M1270 1371l-0 12M1358 1369l7 3M1398 1373l-14 13M1436 1371l13 13M1170 1380l-3 5M1181 1377l2 14M1207 1376l14 4M1208 1386l-2 10M1275 1387l4 14M1314 1382l7 13M1409 1379l-16 14M1420 1384l-0 10M1148 1394l-21 5M1178 1409l9 6M1192 1397l3 16M1237 1410l13 3M1270 1398l-19 8M1287 1401l-19 11M1318 1388l5 4M1340 1392l4 10M1352 1411l3 19M1382 1391l15 3M1388 1405l11 9M1130 1415l-16 5M1135 1408l-14 7M1166 1413l-3 9M1188 1423l14 4M1208 1416l8 10M1234 1428l5 17M1242 1423l-12 2M1281 1428l-9 19M1324 1422l-1 10M1355 1425l-4 11M1388 1411l-0 12M1391 1413l-15 3M1135 1445l-0 19M1155 1436l-1 17M1217 1433l3 16M1237 1444l-13 11M1280 1445l12 4M1309 1445l14 11M1359 1446l2 13M1388 1446l-7 3M1403 1434l7 6M1138 1453l9 3M1155 1469l-10 18M1169 1454l-13 7M1199 1454l13 4M1207 1470l-15 15M1291 1447l19 8M1371 1467l-11 3M1395 1461l7 14M1397 1452l2 11M1128 1473l5 9M1146 1478l7 8M1163 1474l18 8M1205 1474l10 19M1220 1485l-12 17M1266 1482l13 2M1325 1482l-4 6M1381 1477l14 0M1383 1471l16 10M1419 1470l-3 21M1154 1490l4 17M1173 1484l12 2M1193 1493l-4 19M1229 1501l-14 2M1279 1495l8 15M1289 1497l0 10M1320 1491l13 6M1337 1502l-3 5M1351 1499l-14 9M1367 1501l1 16M1391 1488l-8 10M1417 1509l-4 10M1193 1508l8 4M1204 1520l9 6M1260 1508l-14 11M1308 1512l5 19M1332 1512l7 7" fill="none" stroke="#b01008" stroke-width="1" stroke-linecap="round" opacity="0.25"/>
<path d="M1171 1360h.1M1178 1349h.1M1400 1275h.1M1366 1447h.1M1126 1279h.1M1293 1497h.1M1250 1454h.1M1380 1521h.1M1320 1365h.1M1355 1421h.1M1267 1481h.1M1250 1433h.1M1342 1492h.1M1160 1479h.1M1405 1289h.1M1187 1404h.1M1253 1496h.1M1138 1274h.1M1387 1446h.1M1268 1345h.1M1286 1497h.1M1351 1392h.1M1162 1356h.1M1264 1456h.1M1397 1456h.1M1361 1488h.1M1293 1313h.1M1410 1392h.1M1394 1426h.1M1297 1397h.1M1186 1466h.1M1155 1417h.1M1171 1312h.1M1325 1519h.1M1327 1376h.1M1210 1473h.1M1345 1450h.1M1410 1335h.1M1420 1370h.1M1296 1280h.1M1309 1490h.1M1215 1287h.1M1284 1465h.1M1207 1336h.1M1162 1408h.1M1328 1374h.1M1400 1402h.1M1412 1440h.1M1167 1473h.1M1154 1487h.1M1296 1303h.1M1211 1359h.1M1244 1331h.1M1142 1343h.1M1383 1391h.1M1224 1318h.1M1426 1275h.1M1153 1272h.1M1334 1302h.1M1138 1507h.1M1159 1371h.1M1193 1509h.1M1323 1337h.1M1127 1306h.1M1318 1356h.1M1324 1388h.1M1263 1386h.1M1226 1362h.1M1163 1344h.1M1377 1316h.1M1179 1433h.1M1337 1288h.1M1342 1402h.1M1413 1274h.1M1181 1481h.1M1322 1494h.1M1219 1517h.1M1245 1493h.1M1129 1406h.1M1234 1399h.1M1404 1285h.1M1311 1432h.1M1353 1492h.1M1219 1322h.1M1197 1436h.1M1225 1338h.1M1146 1309h.1M1345 1420h.1M1272 1392h.1M1123 1522h.1M1122 1316h.1M1199 1398h.1M1389 1298h.1M1231 1386h.1M1117 1462h.1M1202 1507h.1M1420 1497h.1M1280 1321h.1M1146 1293h.1M1397 1460h.1M1344 1329h.1M1165 1512h.1M1354 1451h.1M1415 1370h.1M1329 1388h.1M1351 1402h.1M1312 1508h.1M1237 1328h.1M1413 1455h.1M1275 1324h.1M1322 1284h.1M1285 1302h.1M1360 1318h.1M1244 1407h.1M1370 1466h.1M1305 1304h.1M1330 1442h.1M1335 1271h.1M1288 1323h.1M1127 1523h.1M1399 1371h.1M1424 1419h.1M1131 1516h.1M1346 1504h.1M1118 1346h.1M1167 1386h.1M1331 1316h.1M1207 1302h.1M1400 1444h.1M1183 1437h.1M1197 1320h.1M1186 1489h.1M1350 1507h.1M1203 1305h.1M1290 1480h.1M1296 1399h.1M1205 1493h.1M1222 1299h.1M1332 1328h.1M1395 1483h.1M1167 1308h.1M1191 1467h.1M1287 1414h.1M1133 1314h.1M1206 1511h.1M1207 1474h.1M1297 1445h.1M1365 1403h.1M1233 1365h.1M1165 1479h.1" fill="none" stroke="#b01008" stroke-width="1.8" stroke-linecap="round" opacity="0.6"/>
<path d="M1136 1275h.1M1140 1269h.1M1218 1288h.1M1220 1291h.1M1258 1285h.1M1256 1275h.1M1301 1282h.1M1360 1272h.1M1354 1285h.1M1376 1276h.1M1377 1284h.1M1140 1302h.1M1177 1291h.1M1186 1293h.1M1197 1307h.1M1231 1305h.1M1252 1305h.1M1243 1303h.1M1350 1287h.1M1346 1293h.1M1145 1330h.1M1164 1316h.1M1185 1324h.1M1190 1307h.1M1192 1307h.1M1212 1310h.1M1225 1315h.1M1263 1312h.1M1267 1312h.1M1303 1324h.1M1306 1304h.1M1380 1319h.1M1399 1315h.1M1402 1318h.1M1251 1339h.1M1291 1335h.1M1317 1339h.1M1423 1341h.1M1425 1336h.1M1146 1352h.1M1168 1349h.1M1170 1347h.1M1181 1351h.1M1181 1355h.1M1208 1371h.1M1210 1368h.1M1252 1358h.1M1303 1349h.1M1308 1352h.1M1352 1368h.1M1360 1373h.1M1373 1347h.1M1371 1344h.1M1378 1357h.1M1379 1358h.1M1434 1369h.1M1438 1375h.1M1135 1391h.1M1260 1367h.1M1253 1371h.1M1275 1382h.1M1277 1381h.1M1309 1369h.1M1312 1375h.1M1349 1373h.1M1410 1379h.1M1411 1381h.1M1416 1374h.1M1421 1376h.1M1114 1399h.1M1189 1396h.1M1190 1398h.1M1267 1408h.1M1263 1406h.1M1280 1393h.1M1286 1399h.1M1287 1398h.1M1317 1387h.1M1434 1399h.1M1431 1394h.1M1168 1395h.1M1168 1404h.1M1232 1426h.1M1242 1418h.1M1325 1417h.1M1321 1421h.1M1130 1447h.1M1138 1443h.1M1212 1433h.1M1215 1431h.1M1215 1422h.1M1242 1440h.1M1277 1441h.1M1273 1447h.1M1148 1452h.1M1147 1447h.1M1194 1454h.1M1223 1465h.1M1227 1470h.1M1289 1449h.1M1287 1448h.1M1314 1457h.1M1351 1450h.1M1418 1465h.1M1420 1463h.1M1124 1459h.1M1140 1477h.1M1164 1469h.1M1188 1489h.1M1264 1470h.1M1293 1480h.1M1298 1485h.1M1299 1471h.1M1306 1474h.1M1329 1475h.1M1392 1482h.1M1397 1487h.1M1151 1483h.1M1193 1486h.1M1235 1497h.1M1233 1502h.1M1280 1494h.1M1280 1492h.1M1289 1497h.1M1290 1496h.1M1338 1500h.1M1345 1497h.1M1355 1493h.1M1394 1491h.1M1409 1478h.1M1402 1490h.1M1423 1505h.1M1149 1525h.1M1162 1508h.1M1155 1507h.1M1281 1509h.1M1299 1526h.1M1380 1512h.1M1410 1501h.1M1427 1518h.1" fill="none" stroke="#b01008" stroke-width="3.6" stroke-linecap="round"/>
<path d="M1139 1275h.1M1140 1274h.1M1167 1283h.1M1217 1285h.1M1215 1275h.1M1241 1277h.1M1241 1281h.1M1299 1282h.1M1362 1281h.1M1352 1283h.1M1379 1284h.1M1220 1295h.1M1247 1305h.1M1251 1305h.1M1280 1280h.1M1277 1306h.1M1431 1306h.1M1164 1314h.1M1191 1326h.1M1195 1313h.1M1193 1311h.1M1211 1303h.1M1242 1324h.1M1268 1309h.1M1307 1317h.1M1306 1307h.1M1319 1321h.1M1327 1325h.1M1353 1319h.1M1373 1315h.1M1123 1348h.1M1127 1345h.1M1179 1332h.1M1288 1331h.1M1280 1335h.1M1353 1340h.1M1349 1345h.1M1413 1340h.1M1425 1335h.1M1147 1352h.1M1144 1355h.1M1167 1343h.1M1158 1349h.1M1192 1358h.1M1188 1358h.1M1209 1370h.1M1212 1367h.1M1299 1345h.1M1382 1360h.1M1121 1379h.1M1111 1374h.1M1258 1368h.1M1384 1376h.1M1380 1377h.1M1410 1378h.1M1118 1408h.1M1123 1405h.1M1146 1397h.1M1259 1405h.1M1348 1409h.1M1345 1403h.1M1377 1391h.1M1377 1391h.1M1409 1415h.1M1205 1407h.1M1222 1423h.1M1282 1415h.1M1280 1410h.1M1317 1402h.1M1316 1408h.1M1322 1422h.1M1381 1416h.1M1383 1411h.1M1129 1435h.1M1170 1431h.1M1208 1425h.1M1207 1435h.1M1272 1444h.1M1302 1443h.1M1389 1442h.1M1394 1428h.1M1403 1439h.1M1129 1447h.1M1139 1451h.1M1211 1461h.1M1389 1452h.1M1140 1482h.1M1182 1479h.1M1180 1489h.1M1207 1482h.1M1224 1481h.1M1265 1477h.1M1255 1483h.1M1261 1470h.1M1326 1479h.1M1386 1473h.1M1384 1469h.1M1392 1479h.1M1425 1463h.1M1128 1494h.1M1175 1488h.1M1221 1483h.1M1212 1486h.1M1254 1499h.1M1313 1487h.1M1311 1491h.1M1385 1484h.1M1397 1491h.1M1401 1485h.1M1132 1511h.1M1130 1509h.1M1239 1506h.1M1265 1507h.1M1305 1525h.1M1295 1524h.1M1305 1513h.1M1376 1501h.1M1366 1503h.1M1383 1522h.1M1389 1517h.1M1422 1505h.1" fill="none" stroke="#b01008" stroke-width="2.2" stroke-linecap="round"/>
</g>
<rect x="1399.0" y="1515.5" width="29" height="3" fill="#eee"/>
<text x="1413.5" y="1512.5" font-size="10" font-weight="bold" fill="#ddd" text-anchor="middle">10μm</text>
<rect x="1117" y="1530.2" width="316.0" height="252.3" fill="#000300"/>
<g clip-path="url(#c13)" filter="url(#mb)">
<path d="M1133 1544l-13 16M1245 1541l6 11M1302 1550l10 10M1301 1541l-4 10M1334 1535l11 4M1357 1544l-9 16M1380 1541l9 10M1428 1542l-2 11M1134 1566l-7 4M1165 1559l-0 19M1196 1568l-11 11M1270 1550l-18 8M1309 1560l14 5M1323 1562l-10 3M1349 1553l-8 11M1376 1555l-6 15M1395 1560l-19 8M1426 1574l-11 5M1158 1587l21 1M1185 1588l-6 0M1192 1570l-1 18M1240 1590l-12 6M1303 1582l11 3M1306 1570l13 16M1334 1583l14 1M1346 1587l-14 12M1376 1578l10 17M1424 1588l8 13M1124 1606l1 19M1173 1602l8 20M1187 1592l14 3M1205 1604l14 8M1220 1596l14 11M1244 1602l-8 17M1282 1599l-5 9M1296 1609l1 7M1317 1601l-11 8M1354 1606l4 7M1413 1603l-14 8M1126 1614l-2 15M1141 1608l7 6M1178 1616l-5 12M1196 1630l1 15M1239 1612l7 9M1270 1631l-0 12M1358 1629l7 3M1398 1633l-14 13M1436 1631l13 13M1170 1640l-3 5M1181 1637l2 14M1207 1636l14 4M1208 1646l-2 10M1275 1647l4 14M1314 1642l7 13M1409 1639l-16 14M1420 1644l-0 10M1148 1654l-21 5M1178 1669l9 6M1192 1657l3 16M1237 1670l13 3M1270 1658l-19 8M1287 1661l-19 11M1318 1648l5 4M1340 1652l4 10M1352 1671l3 19M1382 1651l15 3M1388 1665l11 9M1130 1675l-16 5M1135 1668l-14 7M1166 1673l-3 9M1188 1683l14 4M1208 1676l8 10M1234 1688l5 17M1242 1683l-12 2M1281 1688l-9 19M1324 1682l-1 10M1355 1685l-4 11M1388 1671l-0 12M1391 1673l-15 3M1135 1705l-0 19M1155 1696l-1 17M1217 1693l3 16M1237 1704l-13 11M1280 1705l12 4M1309 1705l14 11M1359 1706l2 13M1388 1706l-7 3M1403 1694l7 6M1138 1713l9 3M1155 1729l-10 18M1169 1714l-13 7M1199 1714l13 4M1207 1730l-15 15M1291 1707l19 8M1371 1727l-11 3M1395 1721l7 14M1397 1712l2 11M1128 1733l5 9M1146 1738l7 8M1163 1734l18 8M1205 1734l10 19M1220 1745l-12 17M1266 1742l13 2M1325 1742l-4 6M1381 1737l14 0M1383 1731l16 10M1419 1730l-3 21M1154 1750l4 17M1173 1744l12 2M1193 1753l-4 19M1229 1761l-14 2M1279 1755l8 15M1289 1757l0 10M1320 1751l13 6M1337 1762l-3 5M1351 1759l-14 9M1367 1761l1 16M1391 1748l-8 10M1417 1769l-4 10M1193 1768l8 4M1204 1780l9 6M1260 1768l-14 11M1308 1772l5 19M1332 1772l7 7" fill="none" stroke="#18a018" stroke-width="1.2" stroke-linecap="round" opacity="0.35"/>
<path d="M1421 1586h.1M1218 1735h.1M1284 1577h.1M1150 1776h.1M1316 1655h.1M1391 1761h.1M1360 1644h.1M1273 1607h.1M1351 1646h.1M1277 1733h.1M1351 1631h.1M1332 1605h.1M1425 1646h.1M1302 1616h.1M1268 1696h.1M1211 1555h.1M1184 1603h.1M1424 1668h.1M1282 1624h.1M1251 1764h.1M1182 1682h.1M1220 1720h.1M1261 1705h.1M1283 1747h.1M1262 1661h.1M1403 1673h.1M1248 1759h.1M1272 1670h.1M1403 1559h.1M1182 1721h.1M1391 1642h.1M1368 1621h.1M1281 1600h.1M1269 1624h.1M1340 1706h.1M1378 1658h.1M1132 1695h.1M1421 1620h.1M1214 1722h.1M1243 1608h.1M1344 1734h.1M1433 1676h.1M1378 1574h.1M1404 1599h.1M1197 1764h.1M1391 1647h.1M1376 1559h.1M1203 1710h.1M1326 1629h.1M1346 1783h.1M1373 1711h.1M1271 1545h.1M1347 1774h.1M1303 1571h.1M1393 1556h.1M1306 1723h.1M1178 1667h.1M1167 1558h.1M1179 1762h.1M1139 1695h.1M1299 1725h.1M1406 1605h.1M1141 1695h.1M1394 1696h.1M1236 1558h.1M1401 1735h.1M1228 1690h.1M1419 1532h.1M1397 1697h.1M1404 1690h.1M1161 1667h.1M1384 1701h.1M1327 1647h.1M1421 1619h.1M1198 1735h.1M1418 1551h.1M1129 1740h.1M1370 1741h.1M1203 1647h.1M1273 1537h.1M1431 1622h.1M1267 1577h.1M1384 1673h.1M1130 1577h.1M1274 1637h.1M1282 1717h.1M1308 1639h.1M1118 1762h.1M1197 1669h.1M1269 1676h.1M1212 1649h.1M1381 1719h.1M1384 1731h.1M1397 1581h.1M1301 1661h.1M1375 1602h.1M1283 1682h.1M1302 1738h.1M1144 1742h.1M1172 1774h.1M1376 1600h.1M1404 1780h.1M1331 1626h.1M1319 1712h.1M1366 1575h.1M1158 1782h.1M1423 1677h.1M1315 1729h.1M1230 1605h.1M1356 1629h.1M1292 1647h.1M1197 1727h.1M1365 1733h.1M1214 1618h.1M1276 1721h.1M1161 1577h.1M1342 1554h.1M1204 1774h.1M1332 1693h.1M1280 1543h.1M1191 1732h.1M1124 1636h.1M1197 1684h.1M1165 1534h.1M1294 1656h.1M1231 1767h.1M1368 1594h.1M1358 1716h.1M1156 1717h.1M1375 1595h.1M1433 1711h.1M1226 1555h.1M1225 1738h.1M1364 1765h.1M1151 1779h.1M1308 1632h.1M1323 1744h.1M1381 1709h.1M1412 1717h.1M1386 1620h.1M1206 1587h.1M1187 1624h.1M1339 1728h.1M1135 1711h.1M1283 1642h.1M1385 1678h.1M1235 1552h.1M1418 1555h.1M1364 1762h.1M1302 1722h.1M1307 1561h.1M1328 1741h.1M1220 1641h.1M1269 1722h.1M1408 1638h.1M1194 1599h.1M1226 1737h.1M1328 1768h.1M1399 1544h.1M1416 1700h.1M1350 1568h.1M1320 1604h.1M1123 1640h.1M1268 1640h.1M1352 1770h.1M1226 1754h.1M1387 1612h.1M1422 1649h.1M1201 1649h.1M1401 1562h.1M1269 1714h.1M1232 1548h.1M1154 1541h.1M1396 1640h.1M1417 1616h.1M1360 1634h.1M1426 1700h.1M1249 1610h.1M1135 1624h.1M1342 1568h.1" fill="none" stroke="#20b020" stroke-width="1.8" stroke-linecap="round" opacity="0.7"/>
<path d="M1134 1542l1 -2l2 -3l3 -1l-1 3l-2 3zM1136 1535l-2 -3l0 -3l2 -2l4 2l-1 4zM1165 1537l-3 0l-4 -4l1 -4l4 1l4 3zM1172 1549l-3 -3l2 -3l5 1l2 3l-3 3zM1207 1532l-4 0l-1 -5l3 -2l4 2l0 3zM1223 1548l-3 1l-2 -6l-1 -5l4 1l4 6zM1245 1542l-3 -3l-2 -3l0 -2l3 1l1 3zM1256 1541l-3 -2l2 -6l3 0l2 2l-2 4zM1272 1538l-2 -2l-2 -6l2 -3l3 3l1 7zM1302 1550l-4 1l-3 -3l1 -5l4 -1l4 4zM1301 1541l-2 -5l1 -5l5 0l2 3l-2 4zM1334 1535l-5 0l-3 -1l-1 -2l2 -2l4 2zM1357 1545l-1 -5l2 -6l5 -1l2 5l-4 5zM1379 1540l-2 0l-2 -1l0 -4l4 -1l3 3zM1385 1546l-3 1l-5 -4l-3 -4l5 1l5 3zM1400 1547l-4 -2l0 -6l3 -2l3 1l1 5zM1428 1543l-2 -2l1 -4l2 -1l1 3l0 2zM1135 1565l0 -2l3 -2l3 1l-2 3l-2 1zM1144 1568l-4 -2l-2 -5l3 -2l3 1l3 5zM1165 1560l-2 -4l-1 -4l3 -3l2 4l1 4zM1189 1557l-5 0l-6 -5l-2 -5l5 1l6 5zM1196 1568l0 -4l3 -4l4 1l-1 4l-2 3zM1221 1573l-1 -4l1 -5l2 0l1 1l0 5zM1234 1575l-3 -2l0 -4l3 -1l4 1l-1 4zM1254 1563l-3 1l-4 -1l-2 -2l3 -1l3 0zM1272 1550l0 -4l5 -1l3 1l0 5l-6 2zM1280 1568l1 -3l4 0l3 2l-2 3l-4 0zM1308 1560l-3 2l-4 -2l0 -3l2 -2l3 2zM1322 1562l6 -4l4 -3l3 3l-2 4l-5 2zM1349 1553l0 -2l1 -3l3 1l0 2l-1 2zM1376 1555l-2 -4l3 -4l3 -2l1 4l-1 4zM1390 1557l0 -3l4 -3l5 -2l-1 5l-5 4zM1397 1559l1 -3l5 -2l3 2l-1 4l-5 1zM1425 1574l3 -4l5 -1l3 0l-1 3l-4 2zM1128 1578l-2 -3l2 -4l4 -1l1 4l-1 3zM1159 1587l-4 2l-6 0l-2 -2l3 -2l4 0zM1174 1579l-3 3l-6 0l-1 -4l3 -1l6 -1zM1186 1588l1 -2l5 -1l1 2l-2 2l-4 0zM1192 1570l-2 -1l0 -3l2 -1l2 1l0 3zM1226 1578l-5 -1l-3 -3l-2 -3l4 0l3 3zM1241 1590l0 -3l4 -3l5 1l-4 4l-3 3zM1249 1573l2 -5l4 -5l4 0l-1 4l-5 5zM1275 1574l-3 0l-4 0l-1 -2l2 -2l3 2zM1304 1582l-4 2l-5 -2l0 -3l2 -2l5 1zM1307 1571l-4 0l-3 -4l0 -5l5 2l3 3zM1335 1583l-7 1l-5 0l-2 -2l3 -1l4 0zM1346 1587l0 -5l5 -3l5 -1l-2 5l-3 5zM1375 1577l-3 0l-2 -3l2 -2l2 0l3 3zM1378 1584l1 -3l5 -2l2 1l0 2l-4 3zM1406 1577l0 -3l4 -2l6 1l-3 4l-5 3zM1423 1586l-3 1l-2 -5l1 -3l3 0l2 5zM1124 1605l-2 -2l-1 -6l3 -4l4 4l-1 7zM1152 1602l-2 3l-4 -2l-1 -2l2 -2l3 2zM1172 1600l-3 -1l-1 -4l1 -2l3 0l3 5zM1186 1591l-3 2l-4 -1l-3 -3l4 -2l5 1zM1204 1604l-3 1l-5 -2l-2 -4l5 -1l3 3zM1219 1596l-4 2l-3 -4l-1 -4l5 0l3 2zM1244 1601l-3 -2l3 -3l3 0l1 3l0 3zM1254 1600l1 -2l4 -1l2 2l-1 2l-3 1zM1281 1600l0 -4l3 -6l4 -2l-1 4l-2 5zM1296 1609l-3 -4l-2 -3l3 -2l4 0l1 5zM1318 1601l0 -3l2 -3l4 1l-1 4l-3 2zM1330 1604l0 -4l2 -6l3 0l1 2l-3 6zM1354 1606l-4 0l-1 -3l2 -3l3 0l1 3zM1365 1607l-4 -1l1 -4l3 -2l4 2l-1 4zM1378 1596l-2 -1l-1 -4l1 -2l2 0l2 4zM1418 1598l-4 -1l-1 -4l1 -3l3 0l1 4zM1414 1603l2 -4l4 -2l4 0l-1 4l-5 3zM1126 1612l-3 -2l1 -7l4 -3l3 4l-1 6zM1141 1608l-3 1l-5 -2l1 -4l4 0l3 2zM1154 1612l3 -4l6 -3l4 1l-3 3l-5 3zM1178 1615l-1 -2l3 -6l3 -4l0 5l-2 6zM1196 1630l-3 -4l-1 -5l3 -4l4 4l0 5zM1210 1630l-2 0l-2 -2l2 -2l2 1l1 2zM1239 1611l-2 0l-3 -3l-1 -4l4 1l2 4zM1254 1621l-2 1l-4 -4l-1 -3l3 0l4 4zM1270 1630l-4 -1l1 -5l3 -4l4 4l-1 4zM1290 1621l-3 -3l-2 -5l4 -2l3 3l0 4zM1306 1608l-2 3l-3 -2l0 -3l2 -1l3 0zM1319 1618l-1 -4l6 -5l3 1l0 3l-3 4zM1358 1629l-2 1l-5 -2l-1 -3l4 1l4 1zM1367 1607l1 -4l4 0l2 3l-1 4l-5 1zM1379 1625l-2 -1l-3 -3l2 -3l2 0l3 4zM1398 1633l1 -6l4 -5l6 0l-2 6l-4 6zM1436 1630l-3 0l-4 -2l-1 -5l5 1l5 3zM1112 1637l1 -4l5 -1l2 3l-2 3l-4 2zM1139 1649l-3 1l-5 -1l-3 -3l5 0l5 1zM1171 1639l-3 -2l3 -4l4 0l2 4l-4 3zM1181 1636l-2 -2l0 -3l1 -2l2 2l0 3zM1206 1636l-3 1l-5 -1l-1 -3l2 -2l5 1zM1208 1645l-1 -2l1 -3l2 -4l2 3l-1 5zM1229 1641l-3 0l-2 -4l2 -2l4 -1l2 4zM1254 1628l1 -4l3 0l2 4l-2 3l-3 0zM1275 1645l-3 -2l-2 -6l2 -3l3 3l2 5zM1279 1626l3 -2l4 0l3 2l-3 2l-4 1zM1314 1642l-4 -4l-2 -3l1 -1l3 -1l3 4zM1331 1636l-1 -3l-1 -5l3 -1l2 2l-1 4zM1348 1632l-1 -2l2 -2l3 -1l0 3l-1 2zM1376 1646l-3 4l-6 -3l0 -3l1 -4l7 2zM1393 1646l-4 2l-6 -3l-1 -4l3 -2l6 3zM1409 1640l0 -4l4 -2l2 0l1 2l-4 2zM1420 1644l-4 -3l0 -7l4 -3l2 4l1 6zM1122 1665l-4 -1l-4 -3l0 -3l3 -1l4 3zM1145 1649l-1 2l-3 0l0 -3l2 -2l2 1zM1148 1654l1 -2l7 -2l4 1l-4 3l-5 1zM1179 1669l-6 1l-5 -4l1 -3l3 -1l4 2zM1192 1657l-3 -1l0 -6l1 -4l3 2l1 6zM1210 1667l1 -4l4 1l3 3l-2 3l-4 1zM1238 1670l-6 0l-7 0l-2 -3l5 -1l5 1zM1266 1666l-4 1l-4 -1l-1 -4l3 -2l5 1zM1271 1658l0 -4l6 -2l3 2l-1 3l-5 4zM1287 1661l0 -2l3 -3l2 2l0 3l-3 2zM1318 1648l-3 0l-3 -2l1 -2l3 -2l2 2zM1340 1653l-2 -4l-3 -5l1 -3l3 3l2 4zM1352 1671l-3 -2l0 -3l2 -3l3 2l2 4zM1382 1651l-3 0l-3 1l-1 -3l2 -1l3 1zM1389 1665l-5 0l-5 -5l-1 -4l4 1l5 4zM1413 1669l-5 -2l-2 -8l3 -4l4 4l1 5zM1425 1662l0 -4l5 -2l1 2l1 4l-4 1zM1130 1674l0 -3l4 -1l1 3l1 3l-4 1zM1136 1668l0 -3l5 -3l5 1l-5 4l-3 3zM1166 1671l-2 -3l2 -7l3 1l2 2l-2 4zM1187 1683l-2 4l-4 -2l-3 -4l5 -2l4 1zM1209 1677l-6 -2l-5 -4l3 -4l3 1l4 3zM1229 1682l-3 1l-2 -3l-1 -5l4 2l4 3zM1234 1687l-3 -1l0 -4l0 -4l4 1l0 5zM1241 1683l3 -4l5 0l3 2l-1 4l-5 0zM1282 1687l-1 -4l2 -4l2 0l4 3l-3 3zM1281 1672l2 -2l3 -3l4 1l-2 3l-4 1zM1306 1676l2 -5l3 -4l4 3l1 4l-5 1zM1324 1681l-3 -1l1 -4l3 -1l2 1l-1 5zM1355 1685l-3 -3l2 -3l3 -1l2 2l-1 4zM1358 1688l-2 -2l1 -4l1 -2l1 2l0 3zM1388 1670l-3 0l0 -4l3 -4l2 4l1 4zM1392 1672l0 -3l5 0l3 1l-1 4l-5 1zM1420 1690l-4 -2l-3 -3l3 -1l2 -1l4 4zM1135 1704l-3 -3l-1 -5l4 -4l4 4l-1 6zM1155 1695l-2 -2l0 -6l3 -4l3 5l-1 6zM1168 1693l0 -2l3 -2l2 0l-1 3l-2 3zM1193 1693l-3 -3l1 -6l3 -1l2 2l-1 5zM1209 1690l-2 -3l2 -4l3 -2l1 3l-1 4zM1217 1692l-3 -1l0 -6l1 -3l2 2l1 4zM1236 1705l4 -5l4 -5l4 0l-1 3l-6 6zM1261 1699l-1 -4l5 -2l4 2l0 4l-5 1zM1278 1704l-2 4l-5 -4l-2 -3l4 -2l5 2zM1300 1712l-3 -3l-2 -4l1 -3l3 1l2 5zM1308 1705l-2 0l-4 -2l-1 -4l4 1l3 2zM1346 1704l-4 2l-3 0l0 -3l1 -3l4 -1zM1359 1706l-4 -1l-1 -5l3 -4l4 3l0 4zM1366 1692l-1 -3l3 -4l4 -4l-1 6l-2 4zM1390 1705l-1 -3l7 -3l3 3l0 4l-7 2zM1403 1694l-4 1l-4 -3l0 -6l5 1l5 2zM1437 1708l-5 -2l-2 -5l1 -4l4 -1l2 7zM1137 1713l-3 1l-6 -1l-3 -4l4 -2l6 3zM1149 1711l-2 0l1 -4l2 -4l1 5l0 4zM1154 1730l2 -5l1 -4l2 0l1 2l-1 4zM1168 1714l4 -4l4 -2l2 1l-1 2l-4 2zM1198 1713l-2 3l-3 -2l-1 -2l2 -2l4 0zM1207 1730l0 -4l4 -3l2 0l1 2l-4 4zM1230 1728l-3 0l-2 -2l2 -3l2 1l2 2zM1268 1727l-4 3l-7 0l-2 -5l5 -2l6 0zM1281 1717l-3 3l-4 0l-3 -4l4 -2l4 0zM1290 1706l-2 2l-4 -1l1 -3l2 -2l3 2zM1312 1716l-3 0l-1 -3l1 -4l4 1l2 4zM1332 1725l1 -3l7 1l6 1l-6 2l-6 1zM1354 1713l-2 0l-1 -4l2 -2l2 2l0 3zM1371 1727l3 -3l6 -2l1 2l-1 2l-5 3zM1394 1721l-3 -1l-3 -4l3 -2l3 -1l2 4zM1397 1711l-2 -1l-2 -3l3 -3l4 3l-1 3zM1417 1722l-2 -1l2 -5l3 0l1 3l-1 4zM1127 1732l-3 -1l-4 -3l3 -4l4 1l3 3zM1145 1738l-3 1l-2 -4l0 -3l4 1l2 2zM1163 1734l-4 4l-3 -4l-2 -3l4 -2l3 2zM1179 1747l3 -4l6 -1l4 1l-3 4l-6 2zM1205 1734l-4 0l-2 -5l1 -4l4 2l3 4zM1220 1745l-3 -4l3 -3l4 0l1 4l-1 4zM1246 1743l-2 -4l1 -5l3 0l2 1l-2 5zM1265 1741l-4 2l-5 -1l-5 -3l4 -2l7 2zM1259 1729l2 -4l6 -4l3 3l0 4l-7 3zM1297 1740l-3 -1l0 -5l3 -1l2 1l1 5zM1305 1739l-3 0l-3 -3l1 -3l3 0l4 3zM1325 1741l-1 -2l2 -3l3 -1l1 3l-2 4zM1345 1739l3 -5l4 -4l3 3l1 4l-5 2zM1382 1737l-3 3l-4 -1l-1 -2l1 -2l4 -1zM1382 1730l-3 1l-6 -4l-3 -5l5 1l5 4zM1398 1744l-2 3l-6 -1l-3 -4l5 -2l4 1zM1419 1729l-3 -2l1 -5l4 -5l2 6l-1 5zM1134 1760l-2 -5l0 -7l6 -2l2 5l-2 6zM1155 1750l-4 -2l-2 -5l3 -4l4 2l1 6zM1172 1744l-3 1l-4 0l-3 -3l4 0l4 0zM1194 1756l-2 1l-4 1l-1 -3l1 -2l3 1zM1194 1752l-1 -2l0 -4l2 -2l1 4l0 3zM1214 1754l0 -4l1 -4l2 -1l2 2l-2 4zM1229 1761l2 -4l4 -1l2 4l-2 2l-2 1zM1252 1761l0 -2l2 -5l4 0l-1 4l-2 4zM1279 1755l-5 0l-2 -5l3 -3l3 -1l4 5zM1289 1758l-3 -2l1 -3l2 -2l4 1l0 4zM1319 1751l-2 1l-3 -2l-2 -2l2 -1l4 2zM1337 1761l0 -4l2 -4l4 -1l2 4l-3 4zM1351 1759l0 -4l2 -3l4 3l1 4l-4 2zM1367 1761l-3 -2l0 -6l2 -4l3 3l1 6zM1391 1749l-2 -5l3 -3l4 0l3 4l-4 4zM1400 1751l0 -6l7 -5l3 3l1 3l-6 5zM1418 1768l-1 -2l1 -3l2 -2l3 3l-2 3zM1135 1773l-2 0l0 -3l0 -4l3 2l0 4zM1147 1786l-2 -2l1 -3l2 -1l2 1l0 3zM1172 1767l-4 2l-7 0l-3 -4l4 -1l7 0zM1192 1767l-2 3l-2 -2l0 -3l3 -3l2 2zM1203 1780l-4 -1l-4 -1l0 -3l3 -2l3 3zM1224 1787l-2 -3l2 -6l4 -2l0 5l-2 4zM1242 1782l-4 1l-3 -5l2 -4l4 0l3 5zM1261 1767l0 -2l3 -2l2 0l1 3l-4 3zM1280 1780l-2 -3l1 -3l2 -1l3 1l-1 4zM1299 1782l-3 1l-4 -4l2 -3l3 1l4 2zM1308 1773l-2 -4l-2 -2l3 -2l2 1l0 3zM1330 1770l-3 2l-4 -5l-1 -4l4 1l5 4zM1348 1773l-2 -1l2 -7l2 -3l1 3l-1 7zM1377 1778l-6 -2l-1 -6l2 -5l4 3l3 5zM1387 1779l1 -2l4 -2l4 1l-3 2l-3 2zM1413 1766l-3 1l-4 0l-3 -4l4 -2l5 1zM1425 1777l-2 2l-4 0l-4 -3l4 -2l4 0z" fill="#26d626"/>
</g>
<rect x="1399.0" y="1774.0" width="29" height="3" fill="#eee"/>
<text x="1413.5" y="1771.0" font-size="10" font-weight="bold" fill="#ddd" text-anchor="middle">10μm</text>
<rect x="1117" y="1789.7" width="316.0" height="252.3" fill="#000004"/>
<g clip-path="url(#c23)" filter="url(#mb)">
<path d="M1137 1798l-0.1 0.1M1136 1790l-0.1 2.0M1174 1806l-0.9 1.3M1206 1788l0.4 2.3M1220 1803l1.2 2.1M1241 1795l1.5 2.5M1257 1796l-0.7 2.2M1271 1792l0.3 2.7M1304 1793l-0.9 2.5M1327 1792l1.0 0.4M1360 1798l-1.3 2.4M1377 1797l1.9 2.2M1381 1803l1.2 0.9M1429 1798l-0.2 1.2M1138 1823l-0.9 0.4M1142 1821l0.5 1.6M1165 1814l-0.0 1.2M1181 1811l1.4 1.1M1199 1824l-0.0 0.0M1234 1830l-0.0 0.8M1248 1821l1.5 0.3M1277 1807l-1.6 0.7M1285 1827l-2.1 0.2M1302 1817l2.2 0.8M1351 1811l-0.4 0.5M1379 1808l-0.5 1.3M1394 1813l-1.1 0.9M1402 1817l-1.3 0.5M1433 1830l-1.7 0.7M1151 1846l1.2 0.1M1168 1838l1.8 0.2M1189 1847l-0.5 0.0M1192 1826l-0.0 1.1M1220 1833l0.3 0.2M1255 1826l-2.0 2.0M1269 1832l1.8 0.4M1298 1839l1.4 0.5M1304 1826l1.8 2.4M1325 1842l2.3 0.1M1352 1841l-2.0 1.7M1373 1833l1.4 2.4M1385 1840l-2.4 1.2M1409 1835l-0.6 0.3M1420 1842l0.7 1.3M1124 1861l0.0 0.7M1147 1861l2.9 0.6M1170 1854l0.6 1.4M1180 1849l2.7 0.7M1199 1861l1.6 0.8M1215 1852l1.6 1.2M1246 1858l-0.2 0.5M1258 1859l-1.4 0.3M1285 1852l-0.9 1.6M1294 1861l0.5 2.1M1321 1858l-1.7 1.2M1333 1857l-1.4 2.5M1365 1863l-0.2 1.5M1376 1850l0.4 1.3M1416 1853l0.1 0.3M1419 1859l-0.8 0.4M1127 1865l-0.2 1.5M1138 1865l1.8 1.5M1162 1868l-1.9 0.8M1209 1887l1.0 2.0M1236 1868l1.1 1.4M1251 1879l0.9 0.8M1289 1875l0.2 1.7M1303 1867l2.0 0.8M1324 1872l-0.5 0.5M1355 1887l1.4 0.7M1371 1866l-2.4 0.3M1378 1881l0.4 0.7M1403 1887l-0.5 0.5M1434 1888l0.0 0.0M1117 1895l-0.9 0.2M1134 1907l1.7 0.5M1172 1896l-0.7 1.1M1180 1891l0.3 2.3M1201 1894l0.7 0.2M1209 1900l-0.2 1.3M1228 1897l0.5 1.0M1258 1887l-2.3 0.1M1273 1897l0.7 2.8M1310 1894l0.7 1.3M1332 1890l-0.1 0.8M1351 1888l-1.7 2.4M1370 1904l1.8 0.5M1387 1903l0.9 0.4M1414 1895l-2.0 1.8M1420 1896l-0.0 2.0M1116 1920l1.7 1.3M1142 1908l2.1 0.8M1154 1912l-2.1 0.5M1172 1924l0.1 0.1M1191 1910l0.4 2.2M1214 1926l-0.5 0.0M1229 1928l2.2 0.5M1261 1923l1.5 0.6M1276 1915l-1.3 0.6M1290 1919l-1.0 0.5M1314 1904l1.2 1.0M1338 1905l0.6 1.6M1351 1926l0.2 1.2M1378 1909l1.0 0.2M1383 1920l0.4 0.3M1411 1921l0.1 0.3M1430 1919l-1.2 0.5M1134 1933l-1.8 0.5M1139 1926l-1.9 1.0M1169 1924l-0.5 1.4M1184 1942l2.0 0.5M1227 1939l0.5 0.6M1249 1941l-3.0 0.5M1285 1941l-0.4 0.9M1285 1930l-1.6 0.7M1312 1931l-1.4 0.9M1324 1938l-0.1 0.9M1356 1939l-0.6 1.8M1358 1942l0.1 2.4M1388 1927l-0.0 1.3M1396 1931l-0.3 0.1M1135 1958l-0.0 2.6M1156 1950l-0.1 1.4M1171 1951l-1.6 1.1M1193 1945l-0.2 1.8M1210 1945l-0.4 1.5M1216 1945l0.3 1.5M1243 1958l-0.9 0.8M1265 1956l-1.2 0.6M1273 1962l0.9 0.3M1297 1964l0.5 1.4M1306 1962l0.2 0.2M1340 1962l1.8 0.2M1358 1962l0.1 0.4M1368 1948l-0.6 1.1M1393 1963l-0.1 0.0M1399 1950l1.3 1.1M1131 1971l1.9 0.6M1149 1968l-0.4 2.8M1158 1983l-0.1 0.2M1175 1970l-1.5 0.8M1194 1972l1.0 0.3M1212 1984l-1.7 1.8M1228 1985l0.6 1.0M1277 1976l0.5 0.0M1286 1964l1.6 0.7M1311 1973l0.1 0.4M1338 1984l-0.3 0.0M1379 1985l-0.2 0.1M1397 1968l0.2 1.3M1418 1979l-0.2 0.6M1124 1986l1.1 1.8M1142 1993l1.7 2.0M1158 1992l2.6 1.1M1186 2004l-1.1 0.4M1203 1991l0.1 0.3M1222 2001l-1.0 1.4M1247 1996l-0.1 0.4M1258 2000l0.5 0.1M1266 1986l-1.6 0.7M1297 1995l0.1 2.5M1301 1994l1.6 2.2M1328 1997l-1.0 1.6M1352 1995l-1.6 1.0M1375 1997l2.2 0.0M1377 1986l1.0 0.7M1394 2003l0.4 0.1M1420 1985l-0.2 1.6M1136 2012l-0.5 2.0M1153 2005l0.3 1.3M1167 2003l1.7 0.3M1189 2015l1.5 0.1M1194 2008l-0.2 0.7M1216 2006l-0.8 2.4M1234 2020l-0.5 0.1M1255 2018l-1.0 1.4M1276 2010l0.2 0.4M1315 2009l1.9 0.8M1341 2015l-0.4 0.6M1354 2016l-0.8 0.6M1367 2014l0.0 0.7M1394 2004l-0.8 1.0M1407 2005l-1.9 1.5M1419 2024l-0.2 0.6M1134 2030l0.1 0.2M1148 2042l-0.0 0.5M1164 2026l2.2 0.3M1189 2025l2.2 1.2M1198 2036l1.6 1.1M1226 2041l-1.0 2.7M1239 2038l0.3 0.4M1264 2025l-0.2 0.2M1297 2039l0.0 0.1M1307 2026l0.6 2.1M1327 2026l0.6 0.6M1349 2028l-0.3 1.6M1391 2037l-0.5 0.2M1409 2024l0.2 0.1M1421 2036l1.4 0.1" fill="none" stroke="#1c58ff" stroke-width="5" stroke-linecap="round"/>
<path d="M1206 1789l0.0 0.3M1242 1796l0.3 0.6M1234 1829l-0.0 1.1M1351 1810l-1.0 1.3M1394 1813l-0.9 0.7M1189 1847l-0.5 0.0M1162 1868l-2.6 1.1M1289 1875l0.2 2.2M1377 1880l1.2 2.1M1403 1887l-0.1 0.1M1257 1887l-0.7 0.0M1290 1919l-0.3 0.2M1202 1929l1.8 2.2M1249 1941l-2.1 0.4M1135 1959l-0.0 0.1M1211 1944l-0.7 2.4M1175 1970l-1.5 0.8M1136 2012l-0.6 2.2M1189 2015l1.0 0.1M1189 2025l1.9 1.0M1408 2024l2.3 0.7" fill="none" stroke="#40b0ff" stroke-width="4.5" stroke-linecap="round"/>
<path d="M1276 1901.7l3 6M1280 1909.7l-4 4" fill="none" stroke="#50c8ff" stroke-width="7" stroke-linecap="round"/>
</g>
<rect x="1399.0" y="2033.5" width="29" height="3" fill="#eee"/>
<text x="1413.5" y="2030.5" font-size="10" font-weight="bold" fill="#ddd" text-anchor="middle">10μm</text>
<rect x="1117" y="2048.8" width="316.0" height="252.8" fill="#070200"/>
<g clip-path="url(#c33)" filter="url(#mb)">
<path d="M1133 2063l-13 16M1245 2060l6 11M1302 2068l10 10M1301 2059l-4 10M1334 2053l11 4M1357 2063l-9 16M1380 2059l9 10M1428 2061l-2 11M1134 2084l-7 4M1165 2078l-0 19M1196 2087l-11 11M1270 2069l-18 8M1309 2079l14 5M1323 2080l-10 3M1349 2072l-8 11M1376 2073l-6 15M1395 2079l-19 8M1426 2092l-11 5M1158 2106l21 1M1185 2106l-6 0M1192 2089l-1 18M1240 2109l-12 6M1303 2100l11 3M1306 2089l13 16M1334 2102l14 1M1346 2106l-14 12M1376 2097l10 17M1424 2107l8 13M1124 2125l1 19M1173 2121l8 20M1187 2110l14 3M1205 2123l14 8M1220 2115l14 11M1244 2121l-8 17M1282 2118l-5 9M1296 2127l1 7M1317 2120l-11 8M1354 2125l4 7M1413 2122l-14 8M1126 2133l-2 15M1141 2127l7 6M1178 2135l-5 12M1196 2149l1 15M1239 2131l7 9M1270 2150l-0 12M1358 2148l7 3M1398 2151l-14 13M1436 2149l13 13M1170 2159l-3 5M1181 2155l2 14M1207 2154l14 4M1208 2164l-2 10M1275 2165l4 14M1314 2160l7 13M1409 2158l-16 14M1420 2162l-0 10M1148 2173l-21 5M1178 2187l9 6M1192 2176l3 16M1237 2188l13 3M1270 2177l-19 8M1287 2180l-19 11M1318 2166l5 4M1340 2171l4 10M1352 2190l3 19M1382 2169l15 3M1388 2184l11 9M1130 2193l-16 5M1135 2187l-14 7M1166 2191l-3 9M1188 2202l14 4M1208 2195l8 10M1234 2206l5 17M1242 2202l-12 2M1281 2207l-9 19M1324 2201l-1 10M1355 2204l-4 11M1388 2190l-0 12M1391 2191l-15 3M1135 2223l-0 19M1155 2215l-1 17M1217 2211l3 16M1237 2223l-13 11M1280 2224l12 4M1309 2224l14 11M1359 2224l2 13M1388 2224l-7 3M1403 2212l7 6M1138 2232l9 3M1155 2248l-10 18M1169 2232l-13 7M1199 2232l13 4M1207 2248l-15 15M1291 2225l19 8M1371 2246l-11 3M1395 2240l7 14M1397 2231l2 11M1128 2252l5 9M1146 2257l7 8M1163 2253l18 8M1205 2252l10 19M1220 2263l-12 17M1266 2260l13 2M1325 2260l-4 6M1381 2256l14 0M1383 2250l16 10M1419 2249l-3 21M1154 2268l4 17M1173 2263l12 2M1193 2272l-4 19M1229 2280l-14 2M1279 2274l8 15M1289 2276l0 10M1320 2270l13 6M1337 2280l-3 5M1351 2277l-14 9M1367 2280l1 16M1391 2267l-8 10M1417 2288l-4 10M1193 2286l8 4M1204 2299l9 6M1260 2287l-14 11M1308 2291l5 19M1332 2291l7 7" fill="none" stroke="#b03010" stroke-width="1" stroke-linecap="round" opacity="0.5"/>
<path d="M1134 2061l1 -3l2 -2l3 -2l-1 3l-2 3zM1136 2054l-2 -3l0 -3l2 -3l4 2l-1 5zM1165 2055l-3 0l-4 -3l1 -4l4 1l4 3zM1172 2068l-3 -3l2 -3l5 0l2 4l-3 3zM1207 2051l-4 -1l-1 -4l3 -3l4 2l0 4zM1223 2067l-3 0l-2 -5l-1 -5l4 1l4 6zM1245 2061l-3 -3l-2 -3l0 -3l3 1l1 3zM1256 2060l-3 -2l2 -6l3 0l2 2l-2 4zM1272 2057l-2 -2l-2 -6l2 -3l3 2l1 7zM1302 2068l-4 1l-3 -3l1 -4l4 -1l4 4zM1301 2060l-2 -5l1 -5l5 0l2 3l-2 4zM1334 2053l-5 1l-3 -1l-1 -2l2 -3l4 2zM1357 2064l-1 -5l2 -6l5 -1l2 4l-4 6zM1379 2059l-2 0l-2 -1l0 -4l4 -1l3 2zM1385 2065l-3 1l-5 -4l-3 -5l5 1l5 4zM1400 2066l-4 -3l0 -5l3 -3l3 1l1 6zM1428 2061l-2 -2l1 -3l2 -1l1 2l0 2zM1135 2084l0 -3l3 -1l3 1l-2 2l-2 2zM1144 2086l-4 -2l-2 -4l3 -3l3 2l3 5zM1165 2079l-2 -4l-1 -5l3 -3l2 4l1 5zM1189 2076l-5 -1l-6 -5l-2 -4l5 1l6 4zM1196 2087l0 -4l3 -5l4 2l-1 3l-2 4zM1221 2091l-1 -4l1 -4l2 -1l1 1l0 5zM1234 2094l-3 -3l0 -4l3 0l4 0l-1 4zM1254 2081l-3 1l-4 0l-2 -2l3 -1l3 0zM1272 2068l0 -3l5 -1l3 1l0 4l-6 2zM1280 2086l1 -3l4 1l3 1l-2 4l-4 0zM1308 2078l-3 2l-4 -1l0 -3l2 -2l3 1zM1322 2081l6 -4l4 -4l3 4l-2 3l-5 3zM1349 2072l0 -2l1 -4l3 1l0 3l-1 2zM1376 2073l-2 -4l3 -3l3 -2l1 4l-1 3zM1390 2075l0 -2l4 -3l5 -2l-1 4l-5 4zM1397 2078l1 -3l5 -2l3 1l-1 4l-5 1zM1425 2093l3 -4l5 -2l3 1l-1 3l-4 1zM1128 2097l-2 -4l2 -3l4 -1l1 4l-1 3zM1159 2106l-4 2l-6 0l-2 -3l3 -1l4 0zM1174 2098l-3 2l-6 1l-1 -4l3 -2l6 -1zM1186 2106l1 -2l5 -1l1 3l-2 2l-4 0zM1192 2088l-2 -1l0 -3l2 0l2 0l0 3zM1226 2097l-5 -2l-3 -3l-2 -3l4 1l3 3zM1241 2109l0 -3l4 -3l5 1l-4 4l-3 3zM1249 2092l2 -5l4 -5l4 0l-1 3l-5 5zM1275 2092l-3 1l-4 0l-1 -3l2 -1l3 1zM1304 2100l-4 2l-5 -1l0 -4l2 -2l5 1zM1307 2089l-4 0l-3 -4l0 -4l5 2l3 3zM1335 2102l-7 1l-5 -1l-2 -1l3 -1l4 0zM1346 2106l0 -6l5 -3l5 0l-2 4l-3 6zM1375 2095l-3 0l-2 -2l2 -3l2 1l3 2zM1378 2103l1 -4l5 -1l2 1l0 2l-4 3zM1406 2096l0 -3l4 -3l6 1l-3 5l-5 3zM1423 2105l-3 1l-2 -5l1 -3l3 -1l2 6zM1124 2124l-2 -2l-1 -6l3 -5l4 5l-1 6zM1152 2121l-2 2l-4 -1l-1 -2l2 -2l3 1zM1172 2119l-3 -2l-1 -3l1 -2l3 0l3 5zM1186 2110l-3 2l-4 -1l-3 -4l4 -1l5 0zM1204 2123l-3 1l-5 -2l-2 -5l5 0l3 2zM1219 2114l-4 2l-3 -3l-1 -4l5 0l3 2zM1244 2120l-3 -2l3 -3l3 0l1 2l0 4zM1254 2119l1 -3l4 -1l2 2l-1 2l-3 1zM1281 2119l0 -5l3 -6l4 -1l-1 4l-2 5zM1296 2128l-3 -5l-2 -3l3 -1l4 -1l1 5zM1318 2119l0 -2l2 -4l4 2l-1 3l-3 3zM1330 2122l0 -4l2 -5l3 -1l1 3l-3 6zM1354 2125l-4 0l-1 -4l2 -2l3 0l1 2zM1365 2126l-4 -2l1 -3l3 -2l4 2l-1 3zM1378 2114l-2 0l-1 -5l1 -2l2 1l2 4zM1418 2116l-4 -1l-1 -4l1 -3l3 1l1 3zM1414 2121l2 -3l4 -3l4 0l-1 5l-5 2zM1126 2131l-3 -3l1 -7l4 -3l3 5l-1 5zM1141 2127l-3 0l-5 -2l1 -4l4 1l3 2zM1154 2130l3 -3l6 -3l4 1l-3 3l-5 2zM1178 2133l-1 -2l3 -5l3 -4l0 5l-2 5zM1196 2148l-3 -4l-1 -5l3 -4l4 4l0 6zM1210 2149l-2 0l-2 -3l2 -1l2 0l1 3zM1239 2130l-2 0l-3 -3l-1 -4l4 1l2 4zM1254 2140l-2 0l-4 -3l-1 -3l3 0l4 4zM1270 2149l-4 -2l1 -4l3 -5l4 4l-1 5zM1290 2139l-3 -2l-2 -5l4 -3l3 3l0 5zM1306 2127l-2 2l-3 -1l0 -3l2 -1l3 0zM1319 2137l-1 -5l6 -4l3 0l0 4l-3 3zM1358 2148l-2 1l-5 -2l-1 -3l4 0l4 1zM1367 2125l1 -3l4 -1l2 3l-1 4l-5 1zM1379 2143l-2 0l-3 -4l2 -2l2 0l3 4zM1398 2151l1 -5l4 -5l6 0l-2 5l-4 6zM1436 2149l-3 0l-4 -3l-1 -5l5 2l5 3zM1112 2155l1 -3l5 -1l2 3l-2 2l-4 2zM1139 2168l-3 1l-5 -1l-3 -3l5 -1l5 1zM1171 2158l-3 -2l3 -4l4 -1l2 4l-4 3zM1181 2155l-2 -3l0 -2l1 -2l2 1l0 4zM1206 2154l-3 2l-5 -1l-1 -3l2 -3l5 2zM1208 2164l-1 -2l1 -4l2 -3l2 3l-1 5zM1229 2159l-3 1l-2 -4l2 -3l4 -1l2 5zM1254 2147l1 -5l3 1l2 3l-2 3l-3 1zM1275 2164l-3 -2l-2 -6l2 -3l3 2l2 6zM1279 2145l3 -2l4 -1l3 3l-3 1l-4 1zM1314 2161l-4 -4l-2 -3l1 -2l3 0l3 4zM1331 2154l-1 -3l-1 -4l3 -2l2 3l-1 4zM1348 2150l-1 -2l2 -1l3 -1l0 3l-1 2zM1376 2165l-3 3l-6 -2l0 -4l1 -4l7 2zM1393 2165l-4 1l-6 -2l-1 -4l3 -3l6 4zM1409 2158l0 -3l4 -2l2 0l1 2l-4 2zM1420 2162l-4 -3l0 -6l4 -3l2 4l1 5zM1122 2183l-4 0l-4 -3l0 -3l3 -2l4 4zM1145 2168l-1 2l-3 -1l0 -3l2 -1l2 1zM1148 2173l1 -3l7 -1l4 1l-4 2l-5 2zM1179 2188l-6 0l-5 -3l1 -3l3 -2l4 3zM1192 2176l-3 -2l0 -6l1 -3l3 2l1 6zM1210 2186l1 -4l4 1l3 2l-2 4l-4 0zM1238 2189l-6 0l-7 -1l-2 -2l5 -1l5 1zM1266 2184l-4 1l-4 0l-1 -4l3 -2l5 1zM1271 2176l0 -4l6 -2l3 3l-1 3l-5 4zM1287 2180l0 -3l3 -2l2 2l0 2l-3 2zM1318 2166l-3 1l-3 -2l1 -3l3 -1l2 2zM1340 2171l-2 -4l-3 -4l1 -3l3 2l2 5zM1352 2189l-3 -1l0 -3l2 -3l3 2l2 4zM1382 2169l-3 1l-3 0l-1 -2l2 -2l3 1zM1389 2184l-5 -1l-5 -4l-1 -4l4 1l5 4zM1413 2188l-5 -2l-2 -9l3 -4l4 4l1 5zM1425 2180l0 -3l5 -3l1 3l1 3l-4 1zM1130 2193l0 -3l4 -1l1 2l1 3l-4 1zM1136 2187l0 -3l5 -3l5 0l-5 5l-3 2zM1166 2190l-2 -3l2 -7l3 0l2 3l-2 4zM1187 2202l-2 3l-4 -2l-3 -4l5 -1l4 1zM1209 2196l-6 -2l-5 -5l3 -3l3 0l4 4zM1229 2201l-3 1l-2 -4l-1 -4l4 2l4 2zM1234 2206l-3 -1l0 -5l0 -4l4 2l0 5zM1241 2202l3 -5l5 0l3 3l-1 4l-5 0zM1282 2206l-1 -4l2 -4l2 0l4 2l-3 4zM1281 2191l2 -3l3 -2l4 0l-2 4l-4 1zM1306 2194l2 -5l3 -4l4 3l1 5l-5 1zM1324 2200l-3 -1l1 -4l3 -2l2 2l-1 4zM1355 2204l-3 -3l2 -3l3 -1l2 2l-1 3zM1358 2207l-2 -2l1 -4l1 -2l1 1l0 4zM1388 2189l-3 -1l0 -4l3 -4l2 5l1 3zM1392 2191l0 -4l5 0l3 2l-1 4l-5 1zM1420 2209l-4 -2l-3 -3l3 -2l2 -1l4 4zM1135 2223l-3 -3l-1 -6l4 -3l4 4l-1 5zM1155 2213l-2 -1l0 -7l3 -3l3 4l-1 6zM1168 2212l0 -2l3 -2l2 0l-1 2l-2 3zM1193 2211l-3 -3l1 -5l3 -2l2 2l-1 5zM1209 2208l-2 -2l2 -5l3 -2l1 3l-1 4zM1217 2211l-3 -2l0 -5l1 -3l2 2l1 4zM1236 2223l4 -5l4 -4l4 -1l-1 3l-6 6zM1261 2217l-1 -3l5 -2l4 1l0 5l-5 1zM1278 2223l-2 3l-5 -3l-2 -3l4 -2l5 2zM1300 2230l-3 -2l-2 -5l1 -2l3 1l2 5zM1308 2223l-2 1l-4 -3l-1 -4l4 1l3 3zM1346 2222l-4 3l-3 -1l0 -3l1 -2l4 -1zM1359 2225l-4 -2l-1 -4l3 -5l4 3l0 5zM1366 2211l-1 -3l3 -5l4 -3l-1 5l-2 5zM1390 2224l-1 -4l7 -2l3 2l0 5l-7 1zM1403 2212l-4 1l-4 -3l0 -5l5 1l5 2zM1437 2227l-5 -2l-2 -6l1 -4l4 0l2 6zM1137 2232l-3 1l-6 -1l-3 -4l4 -2l6 3zM1149 2230l-2 -1l1 -3l2 -4l1 4l0 4zM1154 2249l2 -6l1 -3l2 0l1 2l-1 4zM1168 2233l4 -4l4 -3l2 1l-1 3l-4 2zM1198 2232l-2 3l-3 -2l-1 -3l2 -2l4 0zM1207 2248l0 -3l4 -3l2 0l1 2l-4 3zM1230 2247l-3 0l-2 -3l2 -2l2 0l2 2zM1268 2246l-4 3l-7 -1l-2 -4l5 -2l6 0zM1281 2236l-3 3l-4 -1l-3 -3l4 -2l4 -1zM1290 2225l-2 2l-4 -1l1 -3l2 -2l3 1zM1312 2235l-3 0l-1 -4l1 -4l4 2l2 4zM1332 2244l1 -3l7 1l6 0l-6 2l-6 1zM1354 2232l-2 -1l-1 -3l2 -3l2 2l0 3zM1371 2246l3 -4l6 -1l1 2l-1 2l-5 2zM1394 2239l-3 0l-3 -4l3 -2l3 -1l2 4zM1397 2230l-2 -1l-2 -3l3 -3l4 2l-1 3zM1417 2241l-2 -2l2 -4l3 0l1 2l-1 4zM1127 2250l-3 0l-4 -3l3 -5l4 1l3 4zM1145 2256l-3 2l-2 -4l0 -4l4 1l2 2zM1163 2253l-4 3l-3 -3l-2 -4l4 -2l3 3zM1179 2266l3 -4l6 -2l4 2l-3 3l-6 3zM1205 2252l-4 1l-2 -5l1 -5l4 3l3 4zM1220 2263l-3 -3l3 -3l4 -1l1 5l-1 3zM1246 2261l-2 -3l1 -6l3 1l2 1l-2 4zM1265 2260l-4 1l-5 0l-5 -3l4 -2l7 2zM1259 2248l2 -4l6 -4l3 3l0 4l-7 3zM1297 2259l-3 -1l0 -5l3 -1l2 1l1 5zM1305 2258l-3 0l-3 -4l1 -2l3 -1l4 4zM1325 2260l-1 -3l2 -2l3 -1l1 3l-2 3zM1345 2258l3 -5l4 -5l3 4l1 4l-5 2zM1382 2256l-3 3l-4 -1l-1 -2l1 -2l4 -1zM1382 2249l-3 0l-6 -4l-3 -4l5 0l5 5zM1398 2262l-2 3l-6 0l-3 -5l5 -2l4 1zM1419 2248l-3 -2l1 -5l4 -5l2 6l-1 4zM1134 2278l-2 -5l0 -6l6 -3l2 6l-2 5zM1155 2269l-4 -2l-2 -5l3 -5l4 3l1 5zM1172 2263l-3 1l-4 -1l-3 -2l4 -1l4 0zM1194 2274l-2 2l-4 0l-1 -2l1 -2l3 1zM1194 2271l-1 -2l0 -5l2 -2l1 4l0 4zM1214 2272l0 -4l1 -4l2 0l2 2l-2 4zM1229 2280l2 -4l4 -1l2 4l-2 2l-2 1zM1252 2280l0 -2l2 -5l4 0l-1 4l-2 4zM1279 2273l-5 1l-2 -6l3 -2l3 -1l4 5zM1289 2276l-3 -1l1 -3l2 -3l4 2l0 4zM1319 2270l-2 0l-3 -1l-2 -2l2 -1l4 2zM1337 2280l0 -5l2 -4l4 0l2 4l-3 3zM1351 2277l0 -3l2 -3l4 2l1 5l-4 2zM1367 2280l-3 -3l0 -6l2 -3l3 3l1 6zM1391 2268l-2 -5l3 -3l4 0l3 4l-4 3zM1400 2269l0 -5l7 -5l3 2l1 4l-6 5zM1418 2287l-1 -3l1 -2l2 -2l3 3l-2 3zM1135 2291l-2 0l0 -3l0 -4l3 3l0 3zM1147 2304l-2 -2l1 -2l2 -2l2 2l0 3zM1172 2286l-4 2l-7 -1l-3 -3l4 -2l7 1zM1192 2286l-2 3l-2 -2l0 -4l3 -2l2 2zM1203 2298l-4 0l-4 -2l0 -3l3 -1l3 3zM1224 2305l-2 -2l2 -6l4 -3l0 5l-2 5zM1242 2301l-4 1l-3 -5l2 -4l4 -1l3 5zM1261 2286l0 -2l3 -3l2 1l1 3l-4 2zM1280 2298l-2 -2l1 -3l2 -1l3 0l-1 5zM1299 2301l-3 1l-4 -4l2 -3l3 0l4 3zM1308 2291l-2 -3l-2 -3l3 -1l2 1l0 2zM1330 2289l-3 2l-4 -6l-1 -4l4 2l5 3zM1348 2291l-2 -1l2 -6l2 -4l1 4l-1 7zM1377 2297l-6 -2l-1 -7l2 -4l4 3l3 5zM1387 2298l1 -3l4 -1l4 0l-3 3l-3 2zM1413 2285l-3 1l-4 -1l-3 -4l4 -2l5 2zM1425 2295l-2 3l-4 0l-4 -3l4 -2l4 0z" fill="#98a018"/>
<path d="M1135 2060l0 -2l2 -2l2 -1l-1 2l-1 3zM1136 2053l-2 -2l0 -3l2 -1l3 1l-1 3zM1164 2055l-2 0l-2 -3l0 -3l3 1l3 2zM1172 2067l-2 -2l2 -2l3 0l2 3l-2 2zM1207 2050l-3 0l-1 -3l3 -2l2 1l0 3zM1222 2066l-2 0l-2 -4l0 -4l3 1l3 5zM1244 2059l-2 -2l-2 -2l1 -2l1 1l2 2zM1256 2059l-2 -2l2 -4l2 0l1 2l-1 2zM1272 2056l-2 -2l-1 -4l2 -2l2 1l0 6zM1301 2068l-3 0l-2 -2l1 -3l3 -1l2 3zM1302 2058l-2 -3l1 -4l3 0l2 2l-1 3zM1332 2053l-3 0l-3 0l0 -2l1 -2l3 2zM1357 2062l0 -3l2 -5l3 -1l2 4l-3 4zM1379 2058l-2 0l-2 -1l1 -3l3 0l2 2zM1384 2064l-2 1l-3 -3l-3 -3l4 0l3 3zM1400 2064l-3 -2l0 -4l2 -2l2 1l1 4zM1428 2060l-1 -1l0 -3l2 0l1 1l0 2zM1135 2084l0 -2l3 -1l2 0l-1 2l-2 1zM1143 2085l-2 -2l-2 -3l2 -2l2 2l3 3zM1165 2077l-1 -3l-1 -3l2 -2l1 3l1 3zM1187 2074l-3 0l-5 -4l-1 -3l3 1l5 3zM1197 2086l0 -3l2 -3l3 1l-1 2l-2 3zM1222 2090l-1 -3l0 -4l2 0l0 1l0 3zM1234 2093l-2 -2l0 -3l2 -1l3 1l-1 3zM1253 2081l-3 1l-2 -1l-2 -1l2 -1l3 0zM1273 2068l0 -3l3 -1l3 1l0 4l-4 1zM1281 2086l1 -2l3 0l2 2l-1 2l-3 0zM1307 2078l-2 1l-3 -1l0 -2l1 -1l2 1zM1324 2080l4 -3l3 -2l3 2l-2 3l-3 2zM1350 2071l-1 -1l1 -3l2 1l1 2l-2 2zM1377 2072l-2 -3l2 -2l3 -2l0 3l0 2zM1391 2075l0 -2l3 -2l3 -2l0 3l-4 3zM1398 2078l1 -3l3 -1l3 1l-1 3l-4 1zM1427 2092l2 -3l4 -1l2 0l-1 2l-3 1zM1129 2096l-2 -3l2 -2l3 -1l0 3l-1 2zM1157 2106l-3 1l-4 0l-2 -2l2 -1l4 0zM1173 2098l-2 1l-5 1l0 -3l2 -1l4 -1zM1186 2106l2 -1l3 -1l1 2l-1 1l-3 0zM1192 2088l-1 -1l0 -2l1 -1l1 1l0 2zM1224 2095l-3 0l-3 -3l-1 -2l3 0l3 2zM1241 2108l0 -2l4 -2l3 1l-3 3l-2 2zM1250 2090l2 -3l3 -4l3 0l-1 2l-4 4zM1274 2092l-3 0l-3 0l-1 -1l2 -2l2 2zM1303 2100l-3 1l-4 -1l0 -2l2 -2l3 1zM1306 2088l-2 1l-3 -3l0 -4l4 2l2 2zM1332 2102l-4 0l-4 0l-2 -1l2 -1l4 0zM1347 2105l0 -4l4 -3l4 0l-1 3l-3 4zM1374 2095l-1 0l-2 -2l1 -2l2 0l2 2zM1380 2102l1 -2l3 -1l2 0l-1 2l-3 2zM1406 2095l1 -2l3 -2l4 1l-2 4l-4 2zM1422 2104l-2 1l-1 -4l0 -2l3 -1l1 4zM1124 2123l-1 -2l-1 -4l2 -3l3 3l0 5zM1151 2121l-1 1l-4 0l0 -2l1 -1l3 0zM1172 2118l-2 -2l-1 -2l0 -2l3 0l2 4zM1185 2110l-2 1l-3 -1l-2 -2l3 -2l3 1zM1203 2122l-2 1l-4 -2l-1 -3l3 0l3 2zM1218 2114l-2 1l-3 -2l0 -3l3 0l2 1zM1245 2119l-3 -1l2 -3l3 0l1 2l0 3zM1255 2119l1 -2l3 -1l1 2l-1 1l-2 1zM1282 2117l0 -3l2 -5l3 -1l-1 3l-1 4zM1296 2126l-3 -3l-1 -3l2 -1l3 0l1 4zM1319 2119l-1 -2l2 -3l3 2l-1 2l-2 2zM1331 2121l-1 -3l2 -4l3 -1l1 3l-3 4zM1353 2124l-3 0l0 -3l1 -1l2 -1l1 2zM1365 2125l-3 -1l1 -3l2 -1l3 1l-1 3zM1378 2113l-2 0l-1 -3l1 -2l2 0l1 3zM1417 2115l-2 -1l-1 -2l0 -3l3 0l0 3zM1415 2120l2 -2l3 -2l3 0l-1 3l-4 2zM1127 2129l-3 -2l1 -5l3 -2l2 3l-1 4zM1140 2126l-2 1l-3 -2l0 -3l3 1l2 1zM1156 2129l2 -2l4 -2l3 0l-2 3l-4 2zM1179 2132l-1 -2l2 -3l2 -3l0 3l-1 4zM1196 2147l-2 -3l-1 -4l2 -3l3 3l0 4zM1210 2148l-2 0l-1 -1l1 -2l2 1l1 1zM1238 2129l-1 0l-2 -2l-1 -3l3 1l2 3zM1253 2140l-1 0l-3 -3l-1 -2l2 0l4 3zM1270 2148l-3 -1l1 -4l2 -3l3 3l-1 3zM1289 2138l-1 -2l-2 -3l3 -2l2 2l1 3zM1305 2127l-1 1l-2 -1l-1 -2l2 -1l3 1zM1320 2135l0 -3l4 -3l3 0l-1 3l-2 2zM1357 2147l-1 1l-4 -1l-1 -2l3 0l3 1zM1368 2125l0 -3l3 0l2 2l-1 4l-3 0zM1379 2142l-2 0l-2 -2l1 -2l2 0l2 3zM1399 2150l1 -4l3 -4l4 0l-1 4l-3 5zM1435 2148l-2 0l-3 -1l-1 -4l4 1l4 2zM1114 2155l0 -2l3 -1l2 2l-1 2l-3 1zM1138 2168l-2 0l-4 0l-2 -3l3 0l4 1zM1171 2157l-2 -1l2 -3l3 0l2 3l-3 2zM1181 2154l-2 -2l0 -2l1 -1l1 1l1 2zM1205 2154l-3 1l-3 -1l-1 -2l2 -2l3 1zM1209 2163l-2 -2l1 -2l2 -3l1 2l-1 4zM1229 2159l-2 0l-2 -3l2 -2l3 0l1 3zM1254 2146l1 -3l3 1l1 2l-1 2l-2 1zM1275 2162l-2 -1l-2 -4l2 -3l2 2l1 4zM1281 2145l2 -2l3 0l2 2l-2 1l-3 0zM1313 2159l-3 -3l-2 -2l2 -1l1 0l2 2zM1331 2153l-1 -2l0 -4l2 -1l1 2l0 3zM1349 2150l-1 -2l1 -1l2 0l1 2l-2 1zM1375 2164l-3 3l-4 -2l0 -2l1 -3l5 1zM1391 2164l-3 1l-4 -2l0 -2l2 -2l4 2zM1410 2158l0 -3l3 -2l1 0l1 2l-3 1zM1420 2161l-3 -2l0 -5l3 -3l2 4l0 3zM1121 2182l-3 0l-3 -2l0 -3l2 -1l3 3zM1145 2168l-1 1l-2 0l0 -2l1 -2l2 1zM1149 2173l1 -2l5 -1l3 0l-3 2l-4 1zM1177 2187l-4 0l-4 -3l1 -2l2 -1l3 2zM1192 2174l-2 -1l0 -4l0 -3l3 2l0 4zM1211 2186l1 -3l3 0l2 2l-2 3l-3 0zM1236 2188l-5 0l-5 0l-1 -2l3 0l4 0zM1265 2184l-3 1l-3 -1l-1 -3l3 -1l3 1zM1272 2176l0 -3l4 -2l2 2l0 3l-4 2zM1288 2180l0 -2l2 -2l1 1l0 2l-2 1zM1317 2166l-2 0l-2 -1l0 -2l2 -2l2 2zM1340 2170l-2 -3l-2 -4l1 -2l2 2l1 3zM1352 2188l-2 -1l-1 -2l2 -2l2 1l2 3zM1381 2169l-2 1l-3 0l0 -2l1 -1l2 1zM1387 2183l-3 -1l-4 -3l-1 -3l3 1l4 2zM1413 2186l-4 -2l-2 -6l3 -3l2 3l1 4zM1426 2180l0 -3l3 -2l2 2l0 3l-3 1zM1131 2193l0 -3l3 0l1 2l0 2l-3 1zM1136 2186l0 -2l4 -2l4 0l-3 3l-3 3zM1167 2188l-2 -2l2 -5l2 0l1 2l-1 3zM1186 2202l-1 2l-3 -1l-2 -3l3 -1l3 1zM1207 2194l-4 -2l-3 -3l1 -2l3 0l2 3zM1228 2200l-2 1l-1 -2l-1 -4l3 1l3 2zM1234 2205l-2 -1l-1 -3l1 -3l3 1l0 4zM1243 2201l2 -3l4 0l2 2l-1 3l-4 0zM1282 2205l0 -4l1 -2l2 0l3 1l-3 3zM1282 2190l1 -2l3 -1l3 0l-2 3l-3 0zM1307 2193l2 -3l2 -3l3 2l1 3l-4 1zM1324 2199l-2 -1l1 -2l1 -2l2 2l0 3zM1355 2202l-2 -2l2 -2l2 -1l1 2l0 2zM1358 2205l-1 -1l0 -3l1 -1l1 1l0 2zM1388 2188l-3 0l1 -3l2 -3l2 4l0 2zM1393 2191l0 -3l4 0l2 1l0 3l-5 1zM1419 2207l-3 -1l-2 -2l2 -1l2 -1l2 3zM1135 2222l-2 -3l-1 -4l3 -2l3 2l-1 5zM1155 2212l-1 -1l0 -5l2 -2l2 3l-1 5zM1169 2211l0 -1l1 -1l2 0l0 1l-2 2zM1193 2210l-2 -2l1 -4l2 -2l1 2l0 3zM1210 2207l-2 -2l1 -3l2 -1l2 2l-2 3zM1217 2209l-2 -1l-1 -4l1 -2l2 1l0 4zM1238 2222l3 -4l3 -3l3 -1l-1 3l-4 4zM1262 2217l-1 -3l4 -1l3 1l0 3l-4 1zM1277 2223l-1 2l-4 -2l-2 -3l3 -1l3 1zM1299 2229l-2 -2l-1 -3l1 -2l1 0l2 4zM1308 2223l-2 0l-3 -2l-1 -2l3 0l2 2zM1345 2222l-3 2l-3 0l0 -3l1 -1l3 -1zM1359 2224l-3 -1l-1 -4l2 -3l3 3l0 3zM1367 2210l-1 -3l2 -3l3 -2l0 4l-2 3zM1391 2223l-1 -2l5 -2l2 2l0 3l-5 1zM1402 2212l-3 0l-2 -2l-1 -4l4 1l3 1zM1436 2225l-4 -1l-1 -4l1 -3l3 -1l1 5zM1136 2231l-2 1l-5 -1l-2 -3l3 -1l4 2zM1149 2230l-2 -1l1 -2l2 -4l0 4l0 3zM1155 2247l2 -4l1 -3l1 0l1 2l-1 3zM1170 2232l3 -3l2 -2l2 1l-1 2l-2 1zM1197 2232l-2 2l-2 -2l0 -2l1 -1l3 0zM1208 2247l0 -3l3 -2l1 1l1 1l-2 3zM1229 2246l-2 0l-1 -2l1 -1l2 0l1 1zM1266 2246l-2 2l-5 -1l-2 -3l4 -1l4 0zM1280 2236l-2 2l-4 0l-1 -3l2 -2l3 0zM1289 2225l-1 1l-3 -1l0 -2l2 -1l2 1zM1312 2234l-3 0l0 -2l1 -3l3 1l1 3zM1333 2243l1 -1l5 0l5 1l-4 1l-5 1zM1354 2231l-1 0l-1 -3l1 -2l1 2l1 2zM1373 2245l2 -2l5 -1l1 1l-1 1l-4 2zM1394 2238l-3 0l-2 -3l2 -2l2 0l2 2zM1397 2229l-2 0l-1 -3l2 -2l3 2l-1 2zM1418 2240l-2 -1l1 -3l2 0l1 2l0 3zM1127 2249l-3 0l-3 -3l2 -3l3 1l2 3zM1144 2255l-2 2l-1 -3l0 -3l2 1l2 1zM1162 2253l-3 2l-2 -2l-1 -3l2 -2l3 2zM1180 2265l3 -3l4 -1l3 1l-2 3l-4 2zM1205 2252l-3 0l-2 -4l1 -3l3 2l2 3zM1220 2262l-1 -2l1 -2l4 0l0 3l-1 2zM1246 2260l-1 -3l1 -4l2 0l1 1l-1 3zM1263 2260l-3 1l-4 -1l-3 -2l3 -1l5 1zM1261 2247l1 -3l5 -3l1 2l0 3l-4 2zM1297 2258l-2 -1l0 -4l2 0l2 0l0 4zM1304 2257l-2 0l-2 -3l1 -2l2 0l3 2zM1326 2259l-1 -2l2 -2l2 0l1 2l-2 2zM1347 2257l2 -4l3 -3l2 2l1 3l-4 2zM1381 2256l-3 2l-2 0l-1 -2l1 -2l2 0zM1381 2248l-2 0l-5 -3l-2 -3l4 0l4 4zM1397 2262l-2 2l-4 0l-2 -3l4 -2l3 1zM1419 2247l-2 -1l1 -4l2 -4l2 5l-1 3zM1134 2277l-1 -4l0 -5l4 -2l2 4l-1 4zM1154 2267l-2 -1l-2 -4l2 -3l3 2l1 4zM1171 2263l-2 0l-4 0l-1 -2l2 0l3 0zM1193 2274l-2 1l-2 1l-1 -2l1 -2l2 1zM1194 2270l-1 -1l0 -4l2 -1l1 3l-1 2zM1215 2271l-1 -3l1 -3l2 0l1 1l-1 3zM1230 2280l2 -4l3 0l1 3l-1 2l-2 0zM1253 2279l0 -1l1 -4l3 0l-1 3l-1 3zM1278 2272l-3 1l-2 -4l2 -2l3 -1l2 4zM1289 2275l-2 -1l0 -2l2 -2l3 2l0 2zM1318 2269l-1 1l-3 -1l-1 -2l2 0l2 1zM1338 2278l0 -3l2 -3l3 0l1 3l-3 2zM1352 2277l0 -3l1 -2l3 2l1 3l-3 1zM1367 2278l-2 -2l0 -4l2 -3l1 3l1 4zM1391 2267l-1 -4l3 -2l3 0l1 3l-2 2zM1401 2268l1 -4l5 -4l2 2l1 3l-5 3zM1418 2286l-1 -2l1 -2l2 -1l2 2l-2 2zM1135 2291l-2 0l0 -2l0 -3l2 2l1 2zM1147 2303l-1 -1l0 -2l2 -1l1 1l0 2zM1170 2286l-3 1l-5 0l-2 -3l3 -1l5 1zM1192 2285l-2 3l-2 -2l0 -2l3 -2l1 1zM1202 2297l-3 0l-3 -1l0 -2l2 -1l2 2zM1224 2304l-1 -1l1 -5l3 -2l0 4l-1 3zM1242 2300l-3 0l-3 -3l1 -3l4 0l2 3zM1262 2286l0 -2l2 -2l2 1l0 1l-3 2zM1281 2297l-2 -2l1 -2l1 -1l2 1l-1 3zM1299 2300l-3 1l-2 -3l1 -2l2 0l3 2zM1308 2290l-2 -3l-1 -1l2 -2l1 1l1 2zM1329 2288l-2 1l-3 -3l-1 -3l4 0l3 3zM1348 2290l-1 -1l1 -4l2 -3l1 3l-1 5zM1376 2295l-4 -1l-1 -5l2 -4l2 3l3 3zM1388 2297l1 -2l3 -1l2 1l-1 2l-3 1zM1412 2284l-2 1l-3 0l-3 -3l4 -2l3 2zM1424 2295l-1 2l-4 0l-2 -2l3 -2l3 1z" fill="#58c828"/>
<path d="M1164 2054l-2 0l-1 -2l0 -1l2 0l2 1zM1206 2049l-1 0l0 -1l1 -1l1 0l0 2zM1221 2064l-1 0l-1 -2l0 -2l2 1l1 2zM1243 2057l-1 -1l-1 -1l0 -1l1 0l1 1zM1300 2067l-1 0l-1 -1l0 -2l1 0l2 1zM1303 2056l-1 -2l0 -2l2 0l1 1l-1 2zM1330 2052l-2 0l-1 0l0 -1l1 -1l1 1zM1429 2059l-1 -1l0 -1l1 0l0 1l0 0zM1136 2083l0 -1l2 0l1 0l-1 1l-1 0zM1198 2085l0 -2l1 -2l1 1l0 1l-1 2zM1222 2087l0 -1l0 -2l0 0l1 0l0 2zM1378 2070l-1 -1l1 -2l1 0l0 1l0 1zM1392 2074l0 -1l1 -1l2 -1l0 1l-2 2zM1400 2077l0 -1l2 -1l1 1l0 1l-2 0zM1429 2091l2 -2l1 0l1 0l0 1l-1 0zM1154 2106l-1 0l-2 0l-1 -1l1 0l2 0zM1187 2106l1 -1l2 0l0 1l-1 1l-1 0zM1192 2087l-1 -1l0 -1l1 0l1 0l0 1zM1242 2108l0 -1l2 -1l2 0l-2 1l-1 2zM1272 2092l-2 0l-1 0l-1 -1l1 -1l2 1zM1301 2099l-2 1l-2 -1l0 -1l1 -1l2 1zM1407 2095l1 -1l1 -1l2 0l-1 2l-2 1zM1150 2121l-1 0l-2 0l0 -1l1 -1l1 1zM1217 2113l-1 1l-1 -2l-1 -1l2 0l1 1zM1319 2118l0 -1l1 -1l1 1l0 1l-1 1zM1332 2119l0 -2l1 -2l1 0l0 1l-1 2zM1365 2124l-1 -1l0 -1l1 -1l1 1l0 1zM1417 2113l-2 0l0 -1l0 -2l1 1l1 1zM1180 2130l-1 -1l1 -1l1 -2l0 2l-1 2zM1209 2148l0 0l-1 -1l1 -1l0 0l1 1zM1238 2128l-1 0l-1 -1l0 -1l1 0l1 2zM1289 2137l-1 -1l0 -2l1 -1l1 1l0 2zM1305 2127l-1 0l-1 0l0 -1l1 -1l1 0zM1378 2141l-1 0l0 -1l0 -1l1 0l1 1zM1401 2148l1 -2l1 -2l2 0l-1 2l-1 2zM1115 2155l0 -1l2 -1l1 1l-1 1l-1 1zM1172 2157l-1 -1l1 -1l1 -1l1 2l-1 1zM1229 2158l-1 0l-1 -2l1 -1l1 0l1 2zM1255 2146l1 -1l1 0l1 1l-1 1l-1 1zM1283 2145l1 -1l1 0l1 1l-1 0l-1 1zM1332 2151l-1 -1l0 -2l1 0l1 1l-1 1zM1420 2158l-1 -1l0 -2l1 -1l1 1l0 2zM1263 2183l-1 1l-2 -1l0 -1l1 -1l2 1zM1274 2175l-1 -1l3 -1l1 1l-1 1l-1 1zM1288 2179l1 -1l1 -1l0 1l0 1l-1 0zM1316 2165l-1 0l-1 -1l0 -1l1 0l1 0zM1385 2181l-2 0l-2 -2l0 -1l2 0l1 1zM1412 2183l-2 -1l-1 -3l1 -1l2 1l0 2zM1427 2179l1 -1l1 -1l1 1l0 1l-1 0zM1167 2186l0 -1l1 -3l1 0l0 1l0 2zM1185 2201l0 2l-2 -1l-1 -1l2 -1l1 0zM1233 2203l-1 0l0 -2l0 -1l2 0l0 2zM1283 2190l1 -1l1 -1l2 0l-1 1l-2 1zM1418 2206l-1 -1l-1 -1l0 -1l1 0l2 1zM1135 2220l-1 -1l-1 -2l2 -2l1 2l0 2zM1169 2211l0 -1l1 0l1 0l0 0l-1 1zM1241 2220l1 -2l1 -2l2 0l0 1l-3 2zM1298 2226l-1 -1l0 -1l0 -1l1 0l1 2zM1358 2223l-1 -1l0 -2l1 -1l1 1l0 2zM1367 2209l0 -2l1 -1l2 -1l-1 2l0 1zM1392 2223l0 -1l2 -1l1 1l0 1l-2 1zM1401 2211l-1 0l-2 -1l0 -2l2 0l2 1zM1435 2223l-2 -1l-1 -2l1 -2l1 0l1 3zM1172 2231l2 -2l1 -1l1 1l-1 1l-1 0zM1196 2231l-1 1l-1 0l0 -1l0 -1l2 0zM1209 2246l1 -2l1 -1l1 0l0 1l-1 1zM1393 2236l-2 0l0 -1l1 -1l1 0l0 1zM1161 2252l-2 1l-1 -1l-1 -1l2 -1l1 1zM1326 2258l0 -1l1 -1l1 0l0 1l-1 1zM1379 2256l-2 1l-1 0l0 -1l0 -1l1 0zM1191 2274l0 1l-2 0l0 -1l0 -1l2 0zM1194 2269l0 -1l0 -1l1 -1l0 1l0 2zM1289 2274l-1 0l0 -1l1 -1l2 0l0 2zM1392 2265l0 -2l1 -1l1 0l1 2l-1 1zM1168 2285l-2 1l-3 0l-1 -1l2 -1l2 0zM1348 2289l0 0l0 -3l1 -1l1 1l-1 3zM1375 2292l-2 0l0 -3l0 -1l2 1l1 2z" fill="#d0d030"/>
<path d="M1138 2057l-1.2 1.5M1136 2048l-0.2 2.9M1173 2065l-0.6 0.8M1377 2056l1.3 1.5M1380 2062l2.2 1.6M1165 2072l-0.0 1.7M1199 2083l-0.3 0.3M1222 2083l-0.3 2.5M1277 2066l-2.8 1.1M1351 2069l-1.3 1.7M1394 2072l-1.0 0.8M1433 2089l-1.5 0.6M1192 2085l-0.0 0.9M1298 2098l1.4 0.4M1352 2101l-0.8 0.7M1421 2101l0.4 0.7M1246 2117l-0.1 0.1M1259 2118l-2.3 0.6M1376 2109l0.4 1.1M1137 2124l2.3 1.9M1180 2128l-0.4 0.9M1196 2142l0.0 0.5M1118 2154l-2.5 0.5M1134 2166l2.9 0.8M1200 2153l2.2 0.6M1332 2149l-0.1 1.1M1117 2179l0.6 0.5M1214 2185l-1.8 0.1M1314 2163l2.0 1.7M1338 2165l0.1 0.3M1430 2178l-1.5 0.7M1202 2188l1.4 1.7M1285 2200l-0.4 0.9M1286 2188l-2.5 1.1M1388 2187l-0.0 0.3M1135 2217l-0.0 1.9M1156 2209l-0.1 1.6M1266 2215l-2.2 1.2M1297 2224l0.0 0.1M1339 2221l2.2 0.3M1369 2206l-1.4 2.5M1395 2222l-2.6 1.0M1433 2220l0.5 1.0M1132 2230l1.0 0.3M1149 2227l-0.4 2.5M1175 2229l-0.2 0.1M1212 2243l-1.5 1.5M1339 2243l-2.2 0.2M1418 2238l-0.2 0.5M1125 2246l0.9 1.4M1142 2252l1.9 2.2M1203 2250l0.2 0.5M1375 2256l1.8 0.0M1153 2264l0.3 1.0M1194 2267l-0.4 1.7M1276 2269l0.0 0.0M1289 2273l0.0 0.9M1341 2274l-0.8 1.2M1420 2282l-1.0 2.4M1165 2285l0.1 0.0M1190 2284l1.0 0.6M1225 2301l-0.3 0.9M1374 2289l0.3 0.8" fill="none" stroke="#2050a0" stroke-width="3" stroke-linecap="round" opacity="0.6"/>
</g>
<rect x="1399.0" y="2293.1" width="29" height="3" fill="#eee"/>
<text x="1413.5" y="2290.1" font-size="10" font-weight="bold" fill="#ddd" text-anchor="middle">10μm</text>
<rect x="1439.1" y="1270.2" width="316.2" height="253.8" fill="#060000"/>
<g clip-path="url(#c04)" filter="url(#mb)">
<path d="M1456 1290l-14 15M1461 1286l-3 7M1542 1283l-2 8M1556 1274l7 1M1609 1271l11 7M1646 1276l8 6M1642 1271l-12 4M1680 1292l-13 9M1711 1285l-8 1M1717 1288l2 15M1734 1278l-3 9M1527 1298l-17 1M1523 1294l-13 6M1561 1302l-17 2M1589 1297l-7 3M1635 1310l-4 21M1658 1304l-2 9M1716 1295l15 7M1733 1309l10 8M1451 1321l7 10M1482 1312l-20 6M1513 1322l-9 8M1551 1313l13 14M1579 1326l-5 9M1615 1323l4 11M1637 1317l-13 14M1643 1323l-5 5M1680 1310l-3 16M1683 1328l-4 11M1699 1312l-12 5M1733 1315l-5 17M1451 1334l-5 14M1493 1341l11 3M1522 1338l11 13M1546 1327l-9 2M1600 1327l8 10M1662 1341l4 16M1673 1330l-15 1M1680 1331l-9 16M1706 1339l-0 20M1727 1344l21 2M1744 1338l16 9M1443 1356l-10 13M1486 1355l-13 15M1509 1353l15 5M1528 1355l14 17M1532 1364l-2 21M1573 1364l11 16M1605 1354l-6 3M1621 1362l-3 7M1669 1362l-9 15M1738 1343l12 4M1747 1348l2 11M1451 1366l4 10M1490 1369l10 16M1512 1366l4 8M1519 1375l9 2M1549 1365l-1 7M1610 1370l5 7M1630 1384l5 15M1651 1361l12 3M1717 1375l14 6M1730 1368l8 10M1435 1387l-5 9M1484 1396l21 3M1509 1399l-8 12M1511 1397l-18 8M1536 1388l-8 2M1570 1386l16 9M1643 1400l-5 9M1684 1393l-15 2M1725 1389l16 14M1461 1397l21 2M1470 1414l-6 4M1515 1419l-7 14M1551 1403l20 1M1554 1412l5 5M1641 1402l-7 1M1650 1422l4 15M1733 1418l-5 14M1448 1422l-20 4M1459 1418l-20 2M1496 1428l12 10M1497 1433l1 7M1525 1423l5 6M1557 1437l-6 9M1572 1421l7 7M1646 1423l13 10M1683 1435l6 10M1758 1428l6 19M1442 1446l8 4M1486 1445l-8 15M1520 1450l1 10M1528 1455l-7 13M1561 1451l-15 15M1571 1433l19 7M1603 1445l0 16M1623 1448l-1 8M1627 1449l-10 7M1669 1440l13 3M1726 1444l-2 13M1438 1458l-16 6M1500 1464l9 1M1510 1468l17 3M1534 1461l21 2M1580 1466l-17 8M1604 1475l-5 12M1648 1472l15 9M1677 1464l5 15M1694 1471l-3 11M1757 1472l2 8M1482 1485l7 6M1500 1470l7 1M1576 1487l-12 9M1609 1489l3 18M1636 1478l-17 13M1702 1478l7 17M1733 1485l-4 6M1757 1488l21 2M1446 1489l13 2M1453 1500l-6 6M1485 1496l-1 9M1504 1502l-3 15M1523 1500l19 0M1544 1503l15 7M1556 1502l-8 4M1591 1490l10 1M1665 1495l8 9M1702 1499l4 10M1739 1505l4 8M1443 1511l-7 14M1491 1527l5 5M1509 1526l1 7M1606 1528l-6 19M1627 1518l18 6M1665 1511l-1 7M1701 1523l6 9M1738 1514l5 9M1759 1506l10 9" fill="none" stroke="#c01210" stroke-width="1" stroke-linecap="round" opacity="0.25"/>
<path d="M1585 1415h.1M1694 1461h.1M1500 1309h.1M1675 1444h.1M1634 1518h.1M1612 1346h.1M1544 1279h.1M1694 1373h.1M1602 1307h.1M1731 1375h.1M1457 1454h.1M1680 1291h.1M1651 1312h.1M1505 1503h.1M1737 1288h.1M1470 1372h.1M1494 1457h.1M1469 1334h.1M1653 1382h.1M1647 1341h.1M1717 1451h.1M1580 1437h.1M1632 1392h.1M1748 1471h.1M1658 1498h.1M1581 1515h.1M1568 1403h.1M1645 1383h.1M1529 1406h.1M1467 1402h.1M1699 1400h.1M1588 1499h.1M1741 1386h.1M1706 1322h.1M1524 1513h.1M1641 1367h.1M1491 1509h.1M1615 1457h.1M1554 1454h.1M1653 1321h.1M1708 1483h.1M1453 1320h.1M1516 1429h.1M1506 1340h.1M1725 1341h.1M1468 1441h.1M1674 1324h.1M1509 1394h.1M1451 1416h.1M1683 1344h.1M1592 1330h.1M1443 1441h.1M1538 1331h.1M1451 1511h.1M1698 1426h.1M1632 1466h.1M1693 1404h.1M1618 1463h.1M1594 1445h.1M1452 1280h.1M1690 1336h.1M1738 1425h.1M1591 1377h.1M1473 1450h.1M1572 1504h.1M1560 1334h.1M1503 1452h.1M1507 1389h.1M1479 1463h.1M1728 1348h.1M1643 1391h.1M1747 1501h.1M1474 1409h.1M1597 1404h.1M1623 1330h.1M1505 1415h.1M1622 1376h.1M1493 1408h.1M1682 1383h.1M1544 1296h.1M1705 1340h.1M1739 1314h.1M1475 1475h.1M1587 1499h.1M1493 1488h.1M1670 1405h.1M1551 1334h.1M1586 1326h.1M1746 1492h.1M1721 1359h.1M1571 1291h.1M1630 1303h.1M1502 1505h.1M1633 1384h.1M1451 1402h.1M1640 1338h.1M1687 1384h.1M1571 1395h.1M1543 1391h.1M1568 1464h.1M1667 1386h.1M1704 1486h.1M1639 1367h.1M1570 1308h.1M1534 1299h.1M1662 1458h.1M1691 1499h.1M1463 1486h.1M1556 1492h.1M1540 1340h.1M1538 1387h.1M1525 1458h.1M1648 1317h.1M1668 1505h.1M1724 1329h.1M1556 1435h.1M1552 1305h.1M1523 1397h.1M1532 1344h.1M1531 1509h.1M1561 1381h.1M1480 1388h.1M1635 1471h.1M1489 1348h.1M1628 1287h.1M1545 1319h.1M1710 1412h.1M1613 1338h.1M1462 1387h.1M1533 1371h.1M1685 1278h.1M1597 1510h.1M1706 1272h.1M1728 1363h.1M1505 1461h.1M1590 1457h.1M1546 1297h.1M1535 1455h.1M1552 1425h.1M1473 1390h.1M1710 1492h.1M1597 1360h.1M1599 1435h.1M1589 1336h.1M1661 1272h.1M1738 1507h.1M1556 1411h.1M1458 1350h.1M1523 1293h.1M1490 1393h.1" fill="none" stroke="#c01210" stroke-width="1.8" stroke-linecap="round" opacity="0.6"/>
<path d="M1513 1276h.1M1537 1285h.1M1543 1275h.1M1547 1273h.1M1553 1275h.1M1547 1271h.1M1578 1277h.1M1608 1270h.1M1604 1271h.1M1647 1278h.1M1650 1268h.1M1652 1273h.1M1719 1290h.1M1711 1287h.1M1734 1274h.1M1735 1268h.1M1510 1286h.1M1515 1288h.1M1571 1295h.1M1571 1297h.1M1624 1284h.1M1660 1291h.1M1663 1294h.1M1674 1302h.1M1673 1293h.1M1706 1286h.1M1729 1300h.1M1474 1311h.1M1492 1310h.1M1484 1313h.1M1509 1312h.1M1517 1325h.1M1561 1313h.1M1604 1320h.1M1607 1314h.1M1644 1324h.1M1451 1329h.1M1452 1333h.1M1456 1337h.1M1486 1341h.1M1491 1342h.1M1550 1326h.1M1557 1322h.1M1602 1327h.1M1620 1330h.1M1624 1330h.1M1639 1337h.1M1659 1337h.1M1658 1334h.1M1671 1332h.1M1678 1324h.1M1729 1335h.1M1500 1355h.1M1499 1346h.1M1534 1364h.1M1577 1363h.1M1567 1361h.1M1576 1347h.1M1606 1352h.1M1678 1365h.1M1714 1341h.1M1744 1347h.1M1749 1346h.1M1472 1372h.1M1458 1372h.1M1488 1367h.1M1502 1355h.1M1508 1354h.1M1548 1364h.1M1555 1360h.1M1565 1357h.1M1572 1362h.1M1580 1373h.1M1576 1369h.1M1607 1364h.1M1608 1361h.1M1628 1377h.1M1624 1385h.1M1629 1371h.1M1646 1355h.1M1686 1374h.1M1681 1371h.1M1696 1380h.1M1730 1372h.1M1742 1375h.1M1438 1385h.1M1466 1399h.1M1466 1394h.1M1476 1392h.1M1521 1396h.1M1518 1394h.1M1561 1383h.1M1569 1386h.1M1609 1390h.1M1637 1392h.1M1643 1400h.1M1668 1388h.1M1665 1389h.1M1687 1393h.1M1726 1384h.1M1719 1389h.1M1746 1388h.1M1748 1393h.1M1484 1410h.1M1479 1401h.1M1500 1419h.1M1518 1420h.1M1515 1414h.1M1543 1399h.1M1549 1413h.1M1575 1401h.1M1605 1404h.1M1599 1411h.1M1651 1398h.1M1651 1422h.1M1648 1407h.1M1666 1410h.1M1662 1415h.1M1703 1395h.1M1699 1401h.1M1702 1409h.1M1714 1406h.1M1728 1396h.1M1487 1426h.1M1484 1421h.1M1532 1417h.1M1557 1429h.1M1559 1439h.1M1572 1415h.1M1707 1435h.1M1712 1432h.1M1753 1426h.1M1761 1422h.1M1440 1443h.1M1456 1444h.1M1459 1439h.1M1488 1443h.1M1487 1443h.1M1514 1455h.1M1511 1447h.1M1605 1434h.1M1730 1438h.1M1725 1438h.1M1752 1439h.1M1435 1455h.1M1440 1456h.1M1463 1446h.1M1488 1466h.1M1492 1466h.1M1510 1468h.1M1503 1464h.1M1532 1461h.1M1579 1468h.1M1599 1445h.1M1592 1442h.1M1650 1476h.1M1640 1472h.1M1678 1458h.1M1697 1470h.1M1697 1465h.1M1700 1466h.1M1697 1461h.1M1725 1459h.1M1754 1468h.1M1439 1474h.1M1492 1471h.1M1545 1479h.1M1566 1480h.1M1613 1481h.1M1608 1482h.1M1615 1471h.1M1650 1469h.1M1676 1481h.1M1677 1483h.1M1693 1495h.1M1704 1482h.1M1703 1470h.1M1698 1478h.1M1738 1479h.1M1749 1484h.1M1757 1486h.1M1484 1483h.1M1544 1504h.1M1565 1501h.1M1555 1501h.1M1596 1498h.1M1602 1488h.1M1663 1489h.1M1732 1490h.1M1736 1505h.1M1735 1499h.1M1448 1502h.1M1448 1505h.1M1488 1526h.1M1503 1520h.1M1539 1517h.1M1584 1512h.1M1589 1515h.1M1621 1507h.1M1624 1519h.1M1641 1523h.1M1638 1520h.1M1666 1502h.1M1669 1509h.1M1695 1520h.1M1697 1521h.1M1710 1509h.1" fill="none" stroke="#c01210" stroke-width="3.6" stroke-linecap="round"/>
<path d="M1536 1289h.1M1552 1267h.1M1552 1266h.1M1556 1276h.1M1555 1276h.1M1605 1270h.1M1606 1267h.1M1649 1279h.1M1645 1267h.1M1646 1277h.1M1674 1282h.1M1706 1283h.1M1450 1284h.1M1478 1297h.1M1515 1291h.1M1509 1285h.1M1530 1301h.1M1529 1296h.1M1574 1294h.1M1573 1282h.1M1633 1306h.1M1705 1294h.1M1720 1291h.1M1741 1307h.1M1730 1313h.1M1757 1293h.1M1760 1297h.1M1440 1312h.1M1468 1317h.1M1469 1318h.1M1509 1322h.1M1512 1314h.1M1613 1316h.1M1636 1317h.1M1637 1315h.1M1649 1313h.1M1679 1308h.1M1685 1319h.1M1689 1310h.1M1703 1314h.1M1700 1315h.1M1732 1306h.1M1462 1339h.1M1486 1339h.1M1521 1331h.1M1538 1325h.1M1556 1339h.1M1550 1331h.1M1577 1344h.1M1577 1338h.1M1594 1323h.1M1601 1331h.1M1662 1324h.1M1681 1334h.1M1702 1325h.1M1719 1339h.1M1720 1347h.1M1727 1329h.1M1738 1338h.1M1467 1356h.1M1462 1355h.1M1502 1353h.1M1519 1342h.1M1527 1358h.1M1533 1359h.1M1603 1338h.1M1600 1343h.1M1608 1357h.1M1620 1358h.1M1641 1341h.1M1675 1350h.1M1675 1357h.1M1680 1355h.1M1723 1346h.1M1717 1339h.1M1746 1343h.1M1750 1340h.1M1471 1373h.1M1487 1363h.1M1483 1364h.1M1504 1353h.1M1507 1356h.1M1519 1376h.1M1567 1362h.1M1605 1366h.1M1631 1371h.1M1628 1374h.1M1651 1355h.1M1704 1364h.1M1726 1375h.1M1733 1365h.1M1455 1401h.1M1482 1400h.1M1469 1393h.1M1514 1400h.1M1544 1394h.1M1540 1393h.1M1571 1383h.1M1573 1384h.1M1627 1376h.1M1625 1382h.1M1640 1396h.1M1675 1388h.1M1671 1391h.1M1695 1390h.1M1684 1390h.1M1716 1386h.1M1710 1382h.1M1748 1395h.1M1750 1391h.1M1476 1403h.1M1478 1415h.1M1534 1408h.1M1582 1405h.1M1567 1398h.1M1601 1409h.1M1644 1407h.1M1654 1410h.1M1641 1412h.1M1697 1398h.1M1717 1408h.1M1728 1394h.1M1464 1418h.1M1458 1418h.1M1469 1424h.1M1463 1417h.1M1492 1419h.1M1491 1430h.1M1492 1429h.1M1494 1426h.1M1593 1432h.1M1627 1419h.1M1640 1416h.1M1646 1426h.1M1657 1432h.1M1657 1427h.1M1679 1437h.1M1674 1427h.1M1727 1412h.1M1761 1422h.1M1758 1427h.1M1461 1451h.1M1463 1440h.1M1488 1442h.1M1519 1449h.1M1527 1443h.1M1564 1450h.1M1566 1457h.1M1577 1430h.1M1572 1429h.1M1624 1451h.1M1631 1446h.1M1670 1432h.1M1661 1447h.1M1700 1449h.1M1707 1442h.1M1727 1437h.1M1460 1452h.1M1465 1452h.1M1531 1460h.1M1528 1465h.1M1543 1479h.1M1611 1471h.1M1610 1474h.1M1650 1471h.1M1640 1473h.1M1678 1466h.1M1674 1465h.1M1694 1467h.1M1701 1462h.1M1696 1454h.1M1724 1461h.1M1443 1480h.1M1439 1470h.1M1526 1482h.1M1523 1479h.1M1571 1481h.1M1603 1489h.1M1603 1481h.1M1642 1479h.1M1640 1473h.1M1673 1493h.1M1669 1489h.1M1693 1496h.1M1695 1492h.1M1692 1471h.1M1695 1477h.1M1742 1474h.1M1737 1477h.1M1441 1489h.1M1463 1493h.1M1492 1489h.1M1487 1495h.1M1503 1498h.1M1501 1498h.1M1539 1496h.1M1541 1500h.1M1598 1492h.1M1602 1493h.1M1608 1494h.1M1595 1489h.1M1651 1492h.1M1647 1493h.1M1658 1492h.1M1659 1491h.1M1663 1499h.1M1734 1493h.1M1453 1497h.1M1463 1526h.1M1462 1519h.1M1512 1515h.1M1532 1533h.1M1534 1519h.1M1553 1517h.1M1552 1515h.1M1551 1529h.1M1548 1521h.1M1599 1528h.1M1611 1522h.1M1620 1507h.1M1620 1510h.1M1629 1522h.1M1625 1519h.1M1643 1523h.1M1641 1517h.1M1664 1508h.1M1665 1509h.1M1719 1513h.1M1732 1507h.1" fill="none" stroke="#c01210" stroke-width="2.2" stroke-linecap="round"/>
</g>
<rect x="1721.3" y="1515.5" width="29" height="3" fill="#eee"/>
<text x="1735.8" y="1512.5" font-size="10" font-weight="bold" fill="#ddd" text-anchor="middle">10μm</text>
<rect x="1439.1" y="1530.2" width="316.2" height="252.3" fill="#000300"/>
<g clip-path="url(#c14)" filter="url(#mb)">
<path d="M1456 1550l-14 15M1461 1546l-3 7M1542 1543l-2 8M1556 1534l7 1M1609 1531l11 7M1646 1536l8 6M1642 1531l-12 4M1680 1552l-13 9M1711 1545l-8 1M1717 1548l2 15M1734 1538l-3 9M1527 1558l-17 1M1523 1554l-13 6M1561 1562l-17 2M1589 1557l-7 3M1635 1570l-4 21M1658 1564l-2 9M1716 1555l15 7M1733 1569l10 8M1451 1581l7 10M1482 1572l-20 6M1513 1582l-9 8M1551 1573l13 14M1579 1586l-5 9M1615 1583l4 11M1637 1577l-13 14M1643 1583l-5 5M1680 1570l-3 16M1683 1588l-4 11M1699 1572l-12 5M1733 1575l-5 17M1451 1594l-5 14M1493 1601l11 3M1522 1598l11 13M1546 1587l-9 2M1600 1587l8 10M1662 1601l4 16M1673 1590l-15 1M1680 1591l-9 16M1706 1599l-0 20M1727 1604l21 2M1744 1598l16 9M1443 1616l-10 13M1486 1615l-13 15M1509 1613l15 5M1528 1615l14 17M1532 1624l-2 21M1573 1624l11 16M1605 1614l-6 3M1621 1622l-3 7M1669 1622l-9 15M1738 1603l12 4M1747 1608l2 11M1451 1626l4 10M1490 1629l10 16M1512 1626l4 8M1519 1635l9 2M1549 1625l-1 7M1610 1630l5 7M1630 1644l5 15M1651 1621l12 3M1717 1635l14 6M1730 1628l8 10M1435 1647l-5 9M1484 1656l21 3M1509 1659l-8 12M1511 1657l-18 8M1536 1648l-8 2M1570 1646l16 9M1643 1660l-5 9M1684 1653l-15 2M1725 1649l16 14M1461 1657l21 2M1470 1674l-6 4M1515 1679l-7 14M1551 1663l20 1M1554 1672l5 5M1641 1662l-7 1M1650 1682l4 15M1733 1678l-5 14M1448 1682l-20 4M1459 1678l-20 2M1496 1688l12 10M1497 1693l1 7M1525 1683l5 6M1557 1697l-6 9M1572 1681l7 7M1646 1683l13 10M1683 1695l6 10M1758 1688l6 19M1442 1706l8 4M1486 1705l-8 15M1520 1710l1 10M1528 1715l-7 13M1561 1711l-15 15M1571 1693l19 7M1603 1705l0 16M1623 1708l-1 8M1627 1709l-10 7M1669 1700l13 3M1726 1704l-2 13M1438 1718l-16 6M1500 1724l9 1M1510 1728l17 3M1534 1721l21 2M1580 1726l-17 8M1604 1735l-5 12M1648 1732l15 9M1677 1724l5 15M1694 1731l-3 11M1757 1732l2 8M1482 1745l7 6M1500 1730l7 1M1576 1747l-12 9M1609 1749l3 18M1636 1738l-17 13M1702 1738l7 17M1733 1745l-4 6M1757 1748l21 2M1446 1749l13 2M1453 1760l-6 6M1485 1756l-1 9M1504 1762l-3 15M1523 1760l19 0M1544 1763l15 7M1556 1762l-8 4M1591 1750l10 1M1665 1755l8 9M1702 1759l4 10M1739 1765l4 8M1443 1771l-7 14M1491 1787l5 5M1509 1786l1 7M1606 1788l-6 19M1627 1778l18 6M1665 1771l-1 7M1701 1783l6 9M1738 1774l5 9M1759 1766l10 9" fill="none" stroke="#18a018" stroke-width="1.2" stroke-linecap="round" opacity="0.35"/>
<path d="M1626 1537h.1M1654 1532h.1M1719 1685h.1M1538 1540h.1M1561 1608h.1M1731 1578h.1M1700 1531h.1M1687 1558h.1M1542 1702h.1M1645 1562h.1M1612 1675h.1M1562 1596h.1M1724 1605h.1M1713 1781h.1M1725 1651h.1M1522 1728h.1M1739 1593h.1M1667 1646h.1M1499 1729h.1M1443 1592h.1M1719 1537h.1M1603 1674h.1M1727 1697h.1M1560 1628h.1M1606 1723h.1M1577 1576h.1M1558 1599h.1M1702 1706h.1M1751 1607h.1M1624 1693h.1M1751 1633h.1M1599 1641h.1M1708 1598h.1M1608 1768h.1M1579 1555h.1M1697 1587h.1M1752 1589h.1M1559 1542h.1M1506 1767h.1M1670 1627h.1M1613 1773h.1M1443 1763h.1M1506 1720h.1M1536 1643h.1M1471 1670h.1M1745 1710h.1M1722 1642h.1M1450 1555h.1M1541 1677h.1M1496 1763h.1M1516 1729h.1M1506 1593h.1M1680 1776h.1M1680 1777h.1M1642 1574h.1M1509 1564h.1M1530 1561h.1M1572 1594h.1M1708 1599h.1M1592 1781h.1M1596 1690h.1M1616 1557h.1M1513 1547h.1M1695 1751h.1M1643 1752h.1M1517 1573h.1M1446 1650h.1M1486 1607h.1M1694 1704h.1M1650 1558h.1M1652 1590h.1M1604 1559h.1M1592 1668h.1M1737 1773h.1M1626 1696h.1M1686 1609h.1M1738 1714h.1M1645 1726h.1M1711 1648h.1M1498 1608h.1M1480 1693h.1M1641 1574h.1M1733 1556h.1M1684 1716h.1M1569 1662h.1M1447 1704h.1M1491 1633h.1M1508 1719h.1M1637 1768h.1M1506 1575h.1M1458 1639h.1M1588 1611h.1M1489 1676h.1M1720 1633h.1M1584 1700h.1M1571 1550h.1M1518 1678h.1M1617 1724h.1M1624 1657h.1M1672 1679h.1M1494 1654h.1M1478 1765h.1M1557 1605h.1M1685 1565h.1M1617 1708h.1M1446 1588h.1M1573 1697h.1M1620 1641h.1M1511 1768h.1M1502 1739h.1M1590 1738h.1M1748 1655h.1M1729 1675h.1M1609 1765h.1M1446 1752h.1M1463 1663h.1M1594 1719h.1M1535 1732h.1M1653 1691h.1M1486 1682h.1M1703 1531h.1M1533 1739h.1M1479 1720h.1M1580 1690h.1M1750 1707h.1M1751 1689h.1M1548 1778h.1M1656 1763h.1M1680 1747h.1M1466 1651h.1M1460 1571h.1M1641 1546h.1M1451 1761h.1M1625 1774h.1M1562 1561h.1M1509 1551h.1M1483 1713h.1M1612 1704h.1M1513 1618h.1M1491 1533h.1M1698 1549h.1M1555 1778h.1M1683 1634h.1M1587 1531h.1M1727 1652h.1M1737 1540h.1M1741 1665h.1M1636 1623h.1M1611 1549h.1M1471 1643h.1M1572 1550h.1M1646 1777h.1M1496 1549h.1M1667 1734h.1M1753 1560h.1M1480 1675h.1M1499 1657h.1M1672 1617h.1M1586 1668h.1M1484 1772h.1M1669 1558h.1M1629 1667h.1M1564 1609h.1M1530 1715h.1M1732 1690h.1M1468 1563h.1M1552 1619h.1M1443 1711h.1M1510 1541h.1M1628 1714h.1M1562 1572h.1M1662 1647h.1M1740 1751h.1M1510 1717h.1M1480 1615h.1M1485 1643h.1M1705 1602h.1M1750 1633h.1M1625 1741h.1M1631 1699h.1" fill="none" stroke="#20b020" stroke-width="1.8" stroke-linecap="round" opacity="0.7"/>
<path d="M1456 1550l0 -3l2 -3l4 0l0 4l-2 2zM1461 1547l-2 -4l3 -4l3 -1l2 3l-3 4zM1495 1534l-1 -3l3 -1l4 0l-1 4l-3 1zM1509 1531l-2 2l-4 -2l-1 -3l3 -2l4 3zM1527 1550l0 -4l4 -1l4 0l0 4l-5 3zM1543 1541l-2 -4l1 -5l3 -1l2 2l0 7zM1556 1534l-4 2l-3 -1l-3 -3l3 -2l4 1zM1568 1540l1 -4l2 -3l4 1l0 4l-3 2zM1609 1531l-3 1l-4 -3l-3 -4l5 0l4 3zM1609 1539l-4 -1l-3 -2l3 -3l4 -2l1 4zM1647 1536l-4 0l-5 -2l2 -3l3 -2l4 3zM1643 1531l0 -3l3 -2l2 3l0 4l-3 1zM1675 1551l-2 3l-4 -3l-3 -4l4 -2l4 3zM1683 1550l0 -3l3 -2l4 1l1 4l-6 3zM1712 1545l2 -2l3 -3l2 4l-1 3l-4 2zM1717 1548l-4 -1l-1 -4l4 -1l3 1l0 2zM1734 1539l-1 -5l2 -5l2 -2l1 4l-1 4zM1453 1559l-2 -4l-1 -5l3 -2l2 3l0 4zM1462 1566l-1 3l-4 -1l-3 -5l4 -2l4 3zM1477 1555l-1 -2l2 -3l3 1l0 2l-2 3zM1515 1548l-2 2l-4 -2l-1 -2l2 0l3 0zM1526 1558l4 -2l3 -1l1 3l0 3l-5 0zM1526 1553l0 -3l7 -3l4 1l-3 3l-6 2zM1563 1562l1 -4l7 -1l3 3l-2 4l-7 2zM1569 1550l-4 -1l1 -4l3 -4l4 3l0 5zM1589 1557l2 -3l5 -3l3 1l-2 3l-4 2zM1628 1549l-4 0l-3 -1l0 -2l2 -2l3 2zM1635 1570l-3 -3l2 -4l3 -2l2 2l-1 4zM1658 1564l-2 -4l2 -6l3 0l2 2l-1 6zM1676 1566l-4 -3l-2 -4l3 -3l4 1l0 5zM1696 1550l-3 -3l2 -3l4 0l2 3l-2 2zM1715 1554l-3 2l-5 -3l-3 -4l5 -1l6 3zM1733 1569l-4 2l-4 -4l0 -4l4 0l4 2zM1751 1553l-1 4l-5 -2l-3 -3l4 -2l4 0zM1450 1580l-3 -1l-4 -3l3 -3l3 -2l3 5zM1475 1577l-3 1l-4 -3l-2 -6l6 2l3 3zM1482 1572l2 -2l3 -1l2 1l0 3l-3 0zM1506 1573l-3 0l-2 -4l0 -3l3 1l4 3zM1515 1581l-2 -4l6 -3l3 1l1 3l-5 3zM1550 1572l-3 0l-4 -4l-1 -5l5 3l3 3zM1564 1572l1 -3l7 -2l4 2l-3 4l-7 1zM1580 1584l-3 -2l4 -5l4 -1l0 3l-2 5zM1599 1583l0 -5l5 -5l4 1l-1 4l-4 4zM1615 1583l-4 -4l-2 -5l0 -7l5 6l1 5zM1637 1577l0 -2l1 -2l2 1l1 2l-1 2zM1644 1582l0 -2l3 -3l5 -3l-2 5l-4 3zM1680 1568l-3 -1l1 -4l3 -1l1 2l0 4zM1683 1589l0 -5l2 -4l2 -1l1 2l-1 5zM1699 1572l3 -3l3 -1l3 1l0 2l-5 1zM1733 1575l-1 -2l1 -4l3 -2l1 3l-1 5zM1738 1572l-3 0l-1 -3l2 -3l3 1l0 3zM1451 1593l-2 -2l1 -2l3 0l1 2l-1 1zM1458 1598l-3 -1l-1 -6l2 -3l3 3l1 6zM1493 1601l-4 0l-3 -1l-3 -2l4 -2l3 2zM1495 1607l3 -4l3 -3l3 0l0 3l-4 3zM1523 1598l-5 -3l-4 -2l2 -3l3 -1l3 4zM1546 1587l3 -3l5 -2l4 2l-2 4l-6 0zM1557 1595l-2 4l-3 -2l-1 -3l3 -3l2 1zM1582 1602l0 -3l4 -1l4 1l-1 4l-5 1zM1600 1587l-3 0l-2 -4l0 -2l2 0l3 3zM1619 1592l0 -2l2 0l1 1l0 3l-2 0zM1641 1598l-4 0l-3 -1l1 -3l3 -2l3 1zM1661 1599l-2 -2l-1 -5l2 -1l2 0l1 5zM1674 1590l2 -3l4 -1l2 3l-1 4l-5 -1zM1681 1589l-2 -2l4 -6l5 -3l0 5l-4 6zM1706 1596l-2 -2l0 -5l2 -1l2 1l0 6zM1726 1604l-3 3l-5 0l-1 -4l1 -3l4 1zM1745 1599l-7 -2l-5 -1l0 -3l3 -3l7 3zM1442 1617l1 -4l2 -4l3 0l0 3l-2 4zM1457 1623l0 -4l3 -3l4 1l0 4l-4 3zM1486 1615l-2 -4l2 -3l5 1l1 4l-2 4zM1510 1613l-5 2l-4 -2l-2 -3l3 -1l4 1zM1528 1616l-5 -4l-3 -4l0 -2l2 1l4 3zM1532 1624l-3 -3l0 -5l4 -3l1 4l1 4zM1572 1623l-3 1l-3 -2l3 -3l4 -1l1 3zM1572 1612l2 -4l3 -1l2 2l0 3l-3 2zM1602 1618l-2 -3l0 -5l4 -2l2 3l-1 6zM1607 1614l0 -4l6 -3l2 2l-1 3l-4 2zM1622 1620l-2 -3l0 -5l5 0l2 3l-1 6zM1642 1606l-1 -3l2 -4l3 0l0 3l-1 4zM1670 1620l-1 -2l3 -5l4 -2l-1 4l-2 6zM1678 1622l-1 -2l1 -3l3 -3l1 4l-2 4zM1722 1606l-2 1l-5 -5l0 -4l4 1l3 4zM1737 1603l-4 1l-6 -2l-1 -3l3 -1l6 2zM1747 1608l-2 -3l-1 -4l1 -3l3 2l1 5zM1451 1627l-3 -1l-2 -4l3 -2l2 0l2 4zM1462 1630l2 -5l6 -1l2 5l-1 3l-6 1zM1490 1628l-3 0l-1 -3l0 -4l3 1l2 3zM1512 1626l-5 -1l-2 -4l2 -3l3 0l1 4zM1519 1634l-5 2l-5 0l-1 -4l2 -3l4 2zM1548 1625l-3 -3l1 -3l4 0l4 2l-2 2zM1574 1628l-6 -1l-3 -3l1 -3l3 0l5 2zM1576 1632l-4 2l-6 -1l-3 -5l5 -2l7 3zM1609 1629l-3 1l-3 -3l2 -3l3 -2l2 4zM1624 1645l0 -4l2 -6l3 1l2 2l-4 7zM1629 1643l-3 -1l-2 -5l3 -2l2 1l2 4zM1650 1621l-3 2l-5 -2l-2 -3l3 -3l7 2zM1676 1642l2 -5l2 -3l2 0l1 2l-3 3zM1692 1641l-1 -2l2 -2l3 -1l1 3l-2 3zM1715 1634l-3 2l-5 -3l-1 -3l3 -2l5 2zM1730 1628l-4 1l-3 -3l2 -4l4 0l3 3zM1745 1639l-3 1l-2 -2l2 -2l4 -2l0 3zM1436 1646l-1 -2l3 -5l2 0l1 2l-3 4zM1456 1655l2 -3l7 -2l3 3l-4 4l-6 2zM1484 1656l-5 2l-6 -1l-2 -3l3 -2l5 0zM1510 1658l-2 -4l3 -4l3 1l2 3l-2 4zM1512 1657l3 -3l4 -2l3 1l0 2l-6 3zM1538 1648l2 -3l3 -3l2 4l-1 3l-4 2zM1570 1647l-4 0l-4 -2l-3 -5l5 1l5 2zM1572 1661l-4 -1l0 -6l3 -5l3 5l1 5zM1600 1650l3 -2l4 0l2 1l0 2l-6 1zM1624 1640l-3 1l-2 -1l0 -4l3 -2l2 3zM1643 1660l-3 1l-2 -5l1 -2l2 1l2 3zM1643 1660l-1 -3l3 -5l2 -1l2 2l-4 6zM1671 1650l-2 1l-5 -2l0 -2l2 -1l4 1zM1684 1653l3 -2l4 -1l1 2l-1 1l-3 0zM1724 1648l-4 0l-2 -4l-1 -3l3 0l5 3zM1732 1666l-2 -5l1 -5l3 -2l2 3l-1 4zM1748 1649l0 -2l3 -1l3 2l-2 4l-3 -1zM1459 1657l-1 2l-5 0l0 -3l0 -2l4 2zM1465 1671l1 -5l4 -1l2 2l1 3l-4 2zM1470 1674l2 -5l3 -2l3 1l2 4l-5 2zM1500 1676l-4 -2l1 -5l3 -4l3 4l0 5zM1515 1679l-2 -3l3 -2l2 0l2 2l-1 3zM1550 1663l-3 3l-7 -1l-3 -3l4 -2l6 -1zM1553 1672l-3 1l-3 -4l0 -3l4 0l1 2zM1583 1663l-3 1l-5 -2l0 -2l1 -2l5 2zM1601 1669l0 -4l5 0l2 3l0 4l-5 1zM1617 1663l-2 -2l0 -4l1 -2l3 2l1 5zM1642 1661l1 -2l4 -1l2 2l-1 4l-5 0zM1651 1683l-6 -3l1 -7l1 -3l4 1l1 6zM1663 1677l-1 -4l0 -4l4 2l2 2l-1 3zM1704 1666l-5 -2l-2 -4l2 -3l2 0l5 4zM1705 1668l3 -2l7 -1l3 1l-3 3l-6 1zM1731 1662l-2 -3l1 -2l2 -1l3 2l-1 3zM1734 1677l-1 -2l1 -5l3 -2l0 3l-1 6zM1447 1683l4 -3l4 0l2 1l-1 1l-4 1zM1460 1678l1 -4l3 0l1 4l0 3l-3 0zM1497 1689l-5 -1l-4 -3l1 -3l3 -2l4 4zM1497 1692l-3 -1l0 -3l2 -3l3 1l0 5zM1524 1683l-2 1l-4 -2l2 -4l3 0l2 2zM1533 1682l-4 1l-2 -4l0 -4l4 -1l2 4zM1558 1697l-1 -3l1 -3l4 0l0 3l-1 4zM1570 1680l-2 1l-4 -4l-1 -4l5 1l4 3zM1593 1692l-1 -3l4 -4l3 -2l1 4l-4 4zM1624 1677l-4 0l-3 -4l1 -2l3 -1l4 3zM1645 1682l-3 1l-4 -2l1 -3l3 -3l3 4zM1655 1692l0 -4l4 -4l2 2l1 2l-4 3zM1672 1684l2 -3l5 -2l5 0l-4 4l-4 1zM1682 1694l-3 0l-2 -4l1 -3l3 0l3 5zM1706 1693l0 -2l4 0l2 2l-1 1l-5 1zM1720 1678l4 -2l4 -1l3 1l-2 2l-5 1zM1758 1689l-4 -3l-1 -5l1 -4l4 1l1 5zM1441 1705l-1 1l-3 0l-1 -3l3 -1l3 1zM1456 1707l-2 -3l3 -5l3 0l1 3l-1 5zM1486 1705l-1 -4l2 -4l4 0l2 3l-2 5zM1513 1714l-3 0l1 -4l1 -3l3 1l-1 5zM1520 1710l-3 0l1 -3l1 -2l2 1l2 3zM1528 1716l-1 -5l1 -3l3 1l2 2l-1 2zM1562 1710l-2 -3l4 -3l6 -2l-2 6l-3 4zM1571 1693l-3 2l-4 -2l-4 -4l5 -2l6 2zM1603 1706l-4 -3l1 -6l2 -4l3 3l-1 5zM1623 1707l-2 -1l0 -5l5 -6l2 7l-1 5zM1629 1708l0 -3l3 -2l3 1l0 2l-4 3zM1667 1700l-2 2l-6 -2l-2 -3l3 0l5 0zM1663 1707l-3 -5l1 -4l3 -4l4 3l-1 6zM1702 1710l-2 -2l-1 -4l1 -4l2 3l2 5zM1711 1701l-3 -1l-1 -3l0 -4l3 2l3 3zM1726 1705l-2 -5l1 -4l2 -1l2 2l-1 3zM1752 1697l-4 1l-1 -5l0 -3l4 0l3 4zM1438 1718l1 -3l4 -1l5 0l-3 4l-4 2zM1452 1718l2 -5l3 -3l3 0l1 2l-4 4zM1498 1724l-2 3l-6 -1l-2 -3l2 -3l6 1zM1510 1728l-2 2l-4 -1l-2 -3l3 -1l2 1zM1534 1721l-2 2l-5 0l-2 -2l3 -2l4 0zM1546 1715l2 -3l3 -3l2 3l0 2l-3 3zM1548 1733l-1 -2l1 -5l3 -2l2 4l-2 5zM1580 1726l2 -4l6 -2l2 1l-1 3l-5 2zM1590 1715l-1 -2l1 -5l4 -1l2 4l-3 4zM1604 1733l-1 -2l1 -3l3 0l1 2l-1 3zM1648 1732l-4 1l-3 -2l-2 -5l4 -1l5 3zM1664 1722l-2 2l-4 -2l0 -2l2 -1l4 1zM1677 1725l-2 -2l-1 -2l1 -2l3 1l1 2zM1694 1731l-3 -2l1 -4l4 0l2 2l-1 2zM1700 1729l-3 -2l1 -5l3 -1l2 2l-1 3zM1717 1720l2 -2l7 -1l4 1l-4 3l-6 1zM1757 1732l-2 -2l-1 -5l0 -5l3 6l2 4zM1448 1742l-4 1l-4 -4l-1 -5l4 0l4 4zM1465 1747l-5 -3l-3 -5l3 -3l3 1l3 5zM1481 1745l-3 1l-5 -3l2 -4l4 -1l3 3zM1500 1730l-3 1l-5 0l-1 -3l2 -2l4 1zM1528 1744l-1 -3l1 -2l5 -2l1 4l-3 4zM1542 1744l1 -3l5 -2l5 -2l-4 4l-3 3zM1563 1748l-2 -3l4 -4l5 -1l-1 5l-3 5zM1578 1746l1 -4l4 -4l5 1l-1 4l-6 5zM1609 1748l-3 -2l-2 -6l4 -2l3 1l1 6zM1621 1736l-5 -5l-2 -3l0 -3l4 0l2 5zM1636 1739l2 -4l3 -4l3 1l0 3l-4 2zM1652 1732l-1 -3l2 -4l5 -1l0 5l-2 5zM1674 1753l-3 -2l1 -5l2 -4l2 3l1 7zM1696 1748l2 -3l6 -2l1 4l0 4l-5 -1zM1701 1737l-3 1l-1 -4l2 -3l4 0l2 4zM1734 1743l-1 -2l3 -7l3 1l2 3l-4 6zM1755 1748l-1 2l-4 1l-2 -4l3 -2l4 -1zM1447 1750l-3 2l-4 -1l0 -3l1 -2l4 1zM1454 1759l-1 -3l6 -6l4 1l0 4l-6 4zM1485 1755l-2 -3l-1 -5l4 0l2 1l1 5zM1504 1761l-2 -2l0 -4l3 -1l3 2l-1 4zM1524 1760l-4 4l-6 0l-4 -4l4 -4l5 1zM1545 1763l-4 0l-3 -1l-3 -4l4 0l5 2zM1556 1761l3 -3l5 -3l2 2l0 3l-5 1zM1590 1750l-1 3l-5 0l-3 -4l4 -1l5 -1zM1592 1759l2 -3l5 -4l4 0l0 3l-6 4zM1610 1753l-3 2l-3 -4l1 -3l4 -2l4 4zM1644 1761l-2 -2l2 -5l2 -1l3 1l-2 6zM1657 1748l1 -4l3 1l3 3l-3 3l-3 2zM1664 1754l-3 1l-2 -3l0 -3l3 0l3 3zM1702 1759l-4 -1l-1 -4l2 -3l3 1l3 4zM1710 1754l-3 3l-5 -1l-2 -2l2 -2l5 0zM1733 1752l-3 -2l-1 -6l3 -1l3 1l0 4zM1738 1764l-2 -1l-3 -5l2 -2l2 1l2 4zM1444 1769l-2 -2l3 -6l3 -1l1 3l-3 6zM1462 1785l-1 -2l1 -3l2 -1l1 2l-1 3zM1490 1786l-4 0l-4 -4l0 -4l4 1l2 3zM1508 1785l-3 -1l-1 -4l3 -3l2 3l2 3zM1534 1790l-2 -3l-2 -5l0 -2l2 2l4 6zM1542 1781l0 -3l4 -2l5 0l-3 4l-4 3zM1557 1786l-3 2l-4 -1l-2 -5l5 -1l4 0zM1588 1777l-3 -1l-3 -2l1 -4l3 1l2 2zM1606 1789l-2 -5l1 -3l3 -2l2 4l0 3zM1617 1768l-1 -2l2 -5l4 -1l1 3l-4 5zM1626 1778l-1 1l-5 -1l-4 -4l5 0l5 2zM1645 1791l-3 -3l-2 -4l2 -2l2 2l1 2zM1665 1772l-3 -3l2 -5l3 -4l1 5l-1 4zM1699 1781l-3 1l-4 -5l1 -5l5 2l3 5zM1706 1779l-1 -4l3 -3l4 -2l1 5l-3 5zM1737 1774l-3 -2l-1 -3l0 -3l3 0l1 4zM1758 1766l-2 0l-2 -2l-2 -4l3 1l3 3z" fill="#26d626"/>
</g>
<rect x="1721.3" y="1774.0" width="29" height="3" fill="#eee"/>
<text x="1735.8" y="1771.0" font-size="10" font-weight="bold" fill="#ddd" text-anchor="middle">10μm</text>
<rect x="1439.1" y="1789.7" width="316.2" height="252.3" fill="#000004"/>
<g clip-path="url(#c24)" filter="url(#mb)">
<path d="M1459 1807l-0.5 0.6M1463 1800l-0.7 1.7M1507 1789l0.9 0.5M1531 1807l-1.2 0.7M1550 1792l0.6 0.1M1573 1796l-0.7 0.6M1605 1788l1.1 0.7M1606 1795l0.5 0.8M1642 1792l1.6 1.2M1671 1809l1.6 0.6M1687 1807l-0.8 0.6M1716 1804l0.1 0.9M1736 1791l-0.6 2.1M1453 1810l-0.1 2.5M1480 1812l-1.9 2.3M1532 1817l-0.5 0.0M1531 1810l-0.1 0.0M1569 1820l-0.5 0.1M1569 1806l0.0 2.3M1595 1813l-1.7 0.9M1636 1824l-0.3 1.5M1660 1815l-0.7 2.8M1674 1818l0.5 2.4M1698 1806l-1.0 2.0M1710 1812l1.3 0.6M1729 1825l2.2 1.7M1748 1812l0.2 0.0M1504 1830l0.6 0.9M1547 1828l0.1 0.1M1569 1830l-2.6 0.6M1583 1839l-0.2 0.4M1604 1837l-1.2 1.1M1612 1834l0.8 2.3M1639 1834l-0.4 0.4M1647 1839l-0.8 0.8M1680 1824l-0.3 1.4M1686 1841l-0.2 0.5M1704 1830l-0.0 0.0M1734 1832l-0.1 0.2M1737 1829l0.3 1.1M1452 1849l-1.0 2.7M1457 1854l0.1 0.8M1487 1858l1.9 0.6M1501 1861l-1.3 1.1M1517 1851l1.0 1.3M1552 1845l-2.8 0.6M1554 1854l1.8 0.5M1597 1843l0.1 0.1M1622 1851l-2.7 0.6M1636 1854l1.7 1.1M1660 1852l0.6 2.8M1678 1849l-0.4 0.0M1684 1843l-0.8 1.4M1706 1850l-0.0 2.6M1719 1863l2.5 0.2M1736 1853l1.7 0.9M1446 1872l-0.7 0.9M1460 1879l-0.6 0.5M1488 1872l-0.4 0.4M1502 1871l2.1 0.6M1523 1868l0.3 0.3M1532 1877l-0.2 2.6M1570 1880l1.6 2.3M1578 1869l-2.4 1.0M1603 1871l-0.1 0.8M1612 1870l-1.2 0.6M1624 1874l-0.7 1.8M1644 1862l-0.2 0.3M1673 1875l-0.8 1.4M1679 1879l-0.0 0.1M1719 1862l0.7 0.8M1731 1860l1.1 0.4M1746 1862l0.1 0.7M1450 1882l0.5 1.4M1468 1889l-2.7 0.3M1487 1883l1.5 2.4M1508 1880l0.4 0.6M1512 1893l0.2 0.0M1549 1881l-0.1 0.5M1570 1890l2.1 0.7M1607 1886l0.2 0.2M1627 1898l-1.3 2.2M1627 1896l0.7 2.1M1645 1879l1.0 0.3M1681 1895l-1.2 1.6M1695 1897l-1.0 1.5M1709 1891l2.6 1.1M1728 1885l0.3 0.3M1743 1896l1.3 1.8M1439 1901l-0.4 0.7M1463 1914l-2.9 0.5M1475 1914l1.3 0.2M1518 1914l-1.0 0.4M1543 1906l-1.2 0.3M1565 1904l1.9 1.1M1572 1916l0.1 1.4M1605 1909l-0.3 0.0M1622 1898l0.4 0.3M1641 1916l0.4 0.9M1645 1915l-0.8 1.5M1667 1908l0.9 0.3M1690 1911l-1.0 0.1M1719 1902l1.7 1.5M1733 1917l-0.4 2.0M1750 1909l-0.6 0.1M1454 1916l2.2 0.3M1471 1927l-1.3 0.7M1476 1929l-0.4 0.3M1500 1930l-0.0 2.8M1518 1934l-1.1 2.2M1542 1922l1.7 0.1M1550 1928l0.2 0.2M1576 1920l2.7 0.9M1605 1928l-1.2 0.2M1646 1920l-0.4 0.1M1665 1932l-0.6 1.2M1700 1919l0.5 0.8M1713 1927l-2.7 0.4M1732 1918l-0.2 0.7M1735 1933l-0.2 0.7M1455 1941l-1.3 0.2M1464 1937l-1.3 0.1M1490 1943l2.1 1.7M1522 1940l1.4 1.4M1530 1938l1.4 1.5M1559 1954l-0.2 0.4M1568 1937l0.7 0.8M1620 1932l0.8 0.8M1641 1938l2.3 1.7M1660 1946l-0.8 0.7M1677 1941l-0.6 0.2M1709 1952l-0.5 0.0M1726 1937l-0.4 0.1M1439 1964l0.6 0.3M1459 1961l-1.3 2.6M1489 1959l-1.0 1.8M1519 1967l0.0 0.1M1531 1969l-1.3 2.6M1564 1967l-0.2 0.2M1602 1958l0.0 0.3M1624 1963l-0.4 2.3M1634 1964l-2.4 1.7M1661 1958l1.0 0.2M1663 1958l-0.0 2.9M1709 1957l0.9 1.5M1727 1956l-0.3 2.6M1749 1952l1.5 2.5M1443 1976l-1.8 0.7M1458 1972l-0.4 0.4M1505 1986l2.0 0.3M1530 1980l0.9 0.1M1551 1972l-0.1 0.1M1586 1982l-0.8 0.4M1606 1988l-1.0 2.3M1643 1989l1.8 1.1M1660 1980l2.1 0.8M1676 1980l0.5 1.6M1695 1987l-0.4 1.6M1700 1982l-0.1 1.7M1722 1979l-0.1 0.0M1756 1987l0.5 1.9M1444 1998l0.7 0.6M1479 2002l0.7 0.6M1495 1988l1.8 0.3M1530 2000l-1.5 2.2M1547 2000l-2.0 1.3M1565 2004l-1.6 1.8M1583 2002l-0.9 0.6M1608 2001l0.4 2.3M1616 1987l1.1 1.8M1642 1994l-0.9 0.7M1655 1987l-1.5 2.2M1674 2006l-0.1 1.7M1702 2007l-2.9 0.6M1737 1999l-0.1 0.1M1752 2007l0.4 0.0M1442 2008l0.4 0.1M1485 2008l-0.2 1.9M1517 2019l1.4 0.0M1540 2021l0.2 0.1M1562 2018l-0.7 0.3M1586 2009l2.0 0.1M1599 2015l-1.9 1.4M1645 2016l-0.1 0.5M1660 2008l-1.5 0.0M1661 2011l0.4 0.5M1700 2013l0.4 1.2M1736 2019l0.1 0.3M1447 2023l-1.0 2.1M1463 2041l-0.4 0.9M1486 2041l0.2 0.2M1507 2040l0.4 2.1M1532 2043l0.9 2.3M1545 2038l-0.9 0.5M1552 2043l2.6 1.1M1585 2033l0.5 0.6M1607 2042l-0.2 0.6M1619 2024l-0.5 0.9M1623 2036l2.3 0.7M1642 2043l0.9 2.4M1666 2025l-0.3 2.6M1734 2028l1.3 2.5M1756 2023l1.5 1.4" fill="none" stroke="#1a48f0" stroke-width="5" stroke-linecap="round"/>
</g>
<rect x="1721.3" y="2033.5" width="29" height="3" fill="#eee"/>
<text x="1735.8" y="2030.5" font-size="10" font-weight="bold" fill="#ddd" text-anchor="middle">10μm</text>
<rect x="1439.1" y="2048.8" width="316.2" height="252.8" fill="#070200"/>
<g clip-path="url(#c34)" filter="url(#mb)">
<path d="M1456 2069l-14 15M1461 2065l-3 7M1542 2061l-2 8M1556 2052l7 1M1609 2050l11 7M1646 2054l8 6M1642 2050l-12 4M1680 2070l-13 9M1711 2064l-8 1M1717 2066l2 15M1734 2056l-3 9M1527 2077l-17 1M1523 2072l-13 6M1561 2081l-17 2M1589 2076l-7 3M1635 2088l-4 21M1658 2083l-2 9M1716 2074l15 7M1733 2088l10 8M1451 2100l7 10M1482 2091l-20 6M1513 2101l-9 8M1551 2091l13 14M1579 2105l-5 9M1615 2102l4 11M1637 2096l-13 14M1643 2102l-5 5M1680 2088l-3 16M1683 2107l-4 11M1699 2091l-12 5M1733 2094l-5 17M1451 2112l-5 14M1493 2119l11 3M1522 2116l11 13M1546 2105l-9 2M1600 2105l8 10M1662 2120l4 16M1673 2108l-15 1M1680 2110l-9 16M1706 2118l-0 20M1727 2123l21 2M1744 2117l16 9M1443 2135l-10 13M1486 2134l-13 15M1509 2132l15 5M1528 2134l14 17M1532 2142l-2 21M1573 2143l11 16M1605 2133l-6 3M1621 2141l-3 7M1669 2141l-9 15M1738 2122l12 4M1747 2127l2 11M1451 2145l4 10M1490 2147l10 16M1512 2145l4 8M1519 2153l9 2M1549 2143l-1 7M1610 2149l5 7M1630 2163l5 15M1651 2140l12 3M1717 2153l14 6M1730 2147l8 10M1435 2165l-5 9M1484 2174l21 3M1509 2177l-8 12M1511 2176l-18 8M1536 2167l-8 2M1570 2165l16 9M1643 2179l-5 9M1684 2171l-15 2M1725 2167l16 14M1461 2176l21 2M1470 2192l-6 4M1515 2198l-7 14M1551 2181l20 1M1554 2191l5 5M1641 2180l-7 1M1650 2200l4 15M1733 2197l-5 14M1448 2201l-20 4M1459 2197l-20 2M1496 2207l12 10M1497 2212l1 7M1525 2202l5 6M1557 2216l-6 9M1572 2200l7 7M1646 2201l13 10M1683 2214l6 10M1758 2207l6 19M1442 2224l8 4M1486 2223l-8 15M1520 2229l1 10M1528 2234l-7 13M1561 2230l-15 15M1571 2211l19 7M1603 2224l0 16M1623 2227l-1 8M1627 2227l-10 7M1669 2219l13 3M1726 2223l-2 13M1438 2237l-16 6M1500 2243l9 1M1510 2246l17 3M1534 2240l21 2M1580 2245l-17 8M1604 2253l-5 12M1648 2251l15 9M1677 2243l5 15M1694 2250l-3 11M1757 2251l2 8M1482 2264l7 6M1500 2248l7 1M1576 2266l-12 9M1609 2268l3 18M1636 2257l-17 13M1702 2257l7 17M1733 2263l-4 6M1757 2266l21 2M1446 2268l13 2M1453 2279l-6 6M1485 2275l-1 9M1504 2281l-3 15M1523 2278l19 0M1544 2282l15 7M1556 2280l-8 4M1591 2269l10 1M1665 2274l8 9M1702 2278l4 10M1739 2284l4 8M1443 2290l-7 14M1491 2305l5 5M1509 2304l1 7M1606 2307l-6 19M1627 2296l18 6M1665 2290l-1 7M1701 2302l6 9M1738 2293l5 9M1759 2285l10 9" fill="none" stroke="#b03010" stroke-width="1" stroke-linecap="round" opacity="0.5"/>
<path d="M1456 2069l0 -4l2 -3l4 0l0 4l-2 3zM1461 2065l-2 -3l3 -4l3 -2l2 3l-3 4zM1495 2052l-1 -3l3 -1l4 1l-1 3l-3 2zM1509 2050l-2 1l-4 -2l-1 -3l3 -1l4 2zM1527 2069l0 -4l4 -2l4 1l0 4l-5 3zM1543 2059l-2 -3l1 -5l3 -2l2 3l0 6zM1556 2052l-4 2l-3 0l-3 -3l3 -3l4 1zM1568 2059l1 -4l2 -4l4 2l0 3l-3 3zM1609 2050l-3 0l-4 -2l-3 -4l5 0l4 3zM1609 2058l-4 -1l-3 -3l3 -3l4 -2l1 5zM1647 2054l-4 1l-5 -3l2 -3l3 -1l4 2zM1643 2049l0 -3l3 -1l2 3l0 3l-3 2zM1675 2070l-2 2l-4 -2l-3 -4l4 -3l4 4zM1683 2069l0 -3l3 -2l4 0l1 5l-6 2zM1712 2064l2 -3l3 -2l2 4l-1 3l-4 2zM1717 2067l-4 -2l-1 -3l4 -2l3 1l0 3zM1734 2057l-1 -4l2 -5l2 -3l1 4l-1 4zM1453 2078l-2 -5l-1 -4l3 -2l2 2l0 5zM1462 2085l-1 3l-4 -2l-3 -4l4 -2l4 2zM1477 2074l-1 -2l2 -4l3 1l0 3l-2 3zM1515 2067l-2 2l-4 -2l-1 -2l2 -1l3 1zM1526 2077l4 -2l3 -1l1 2l0 3l-5 1zM1526 2071l0 -2l7 -4l4 2l-3 2l-6 2zM1563 2080l1 -4l7 0l3 3l-2 3l-7 2zM1569 2069l-4 -1l1 -5l3 -3l4 2l0 6zM1589 2076l2 -4l5 -3l3 1l-2 3l-4 3zM1628 2068l-4 0l-3 -2l0 -2l2 -2l3 3zM1635 2089l-3 -3l2 -5l3 -2l2 3l-1 4zM1658 2083l-2 -4l2 -6l3 -1l2 3l-1 6zM1676 2085l-4 -3l-2 -5l3 -3l4 1l0 5zM1696 2069l-3 -3l2 -4l4 0l2 3l-2 3zM1715 2073l-3 1l-5 -2l-3 -4l5 -1l6 3zM1733 2088l-4 2l-4 -5l0 -4l4 0l4 3zM1751 2072l-1 3l-5 -1l-3 -4l4 -1l4 -1zM1450 2098l-3 0l-4 -4l3 -2l3 -2l3 5zM1475 2096l-3 1l-4 -4l-2 -5l6 2l3 2zM1482 2091l2 -3l3 -1l2 2l0 3l-3 0zM1506 2091l-3 1l-2 -5l0 -3l3 1l4 4zM1515 2100l-2 -4l6 -3l3 0l1 4l-5 3zM1550 2090l-3 1l-4 -4l-1 -5l5 2l3 3zM1564 2090l1 -2l7 -2l4 2l-3 3l-7 1zM1580 2102l-3 -2l4 -4l4 -1l0 3l-2 5zM1599 2101l0 -4l5 -5l4 1l-1 4l-4 4zM1615 2102l-4 -4l-2 -5l0 -7l5 5l1 6zM1637 2095l0 -2l1 -1l2 0l1 2l-1 3zM1644 2100l0 -2l3 -3l5 -2l-2 4l-4 3zM1680 2087l-3 -1l1 -4l3 -1l1 2l0 3zM1683 2107l0 -5l2 -3l2 -1l1 1l-1 6zM1699 2091l3 -3l3 -1l3 0l0 3l-5 1zM1733 2093l-1 -2l1 -4l3 -1l1 3l-1 4zM1738 2091l-3 0l-1 -4l2 -3l3 2l0 3zM1451 2112l-2 -2l1 -3l3 0l1 2l-1 2zM1458 2116l-3 0l-1 -6l2 -4l3 4l1 5zM1493 2119l-4 1l-3 -1l-3 -3l4 -1l3 1zM1495 2126l3 -5l3 -2l3 0l0 3l-4 3zM1523 2117l-5 -3l-4 -3l2 -2l3 -1l3 4zM1546 2105l3 -3l5 -2l4 3l-2 4l-6 0zM1557 2114l-2 3l-3 -1l-1 -4l3 -3l2 2zM1582 2121l0 -3l4 -1l4 1l-1 3l-5 2zM1600 2106l-3 0l-2 -4l0 -2l2 -1l3 3zM1619 2111l0 -2l2 -1l1 2l0 2l-2 0zM1641 2116l-4 1l-3 -1l1 -4l3 -2l3 2zM1661 2118l-2 -2l-1 -5l2 -1l2 0l1 5zM1674 2108l2 -2l4 -2l2 4l-1 4l-5 -1zM1681 2108l-2 -3l4 -6l5 -3l0 6l-4 5zM1706 2115l-2 -2l0 -5l2 -2l2 2l0 6zM1726 2123l-3 3l-5 0l-1 -4l1 -4l4 2zM1745 2117l-7 -1l-5 -1l0 -4l3 -2l7 2zM1442 2136l1 -4l2 -4l3 0l0 3l-2 4zM1457 2141l0 -3l3 -3l4 0l0 4l-4 4zM1486 2133l-2 -3l2 -3l5 1l1 4l-2 3zM1510 2132l-5 1l-4 -1l-2 -3l3 -1l4 1zM1528 2135l-5 -5l-3 -3l0 -3l2 1l4 4zM1532 2142l-3 -3l0 -4l4 -3l1 4l1 3zM1572 2142l-3 1l-3 -2l3 -4l4 0l1 3zM1572 2130l2 -3l3 -2l2 2l0 4l-3 1zM1602 2136l-2 -2l0 -6l4 -1l2 3l-1 5zM1607 2132l0 -3l6 -3l2 2l-1 3l-4 1zM1622 2139l-2 -3l0 -5l5 0l2 3l-1 6zM1642 2125l-1 -3l2 -4l3 0l0 2l-1 4zM1670 2139l-1 -2l3 -5l4 -2l-1 4l-2 6zM1678 2140l-1 -1l1 -3l3 -3l1 4l-2 3zM1722 2125l-2 0l-5 -5l0 -4l4 2l3 4zM1737 2121l-4 2l-6 -2l-1 -3l3 -1l6 1zM1747 2127l-2 -3l-1 -5l1 -2l3 1l1 6zM1451 2145l-3 -1l-2 -4l3 -2l2 1l2 3zM1462 2148l2 -4l6 -1l2 4l-1 4l-6 0zM1490 2147l-3 0l-1 -4l0 -3l3 1l2 3zM1512 2145l-5 -1l-2 -5l2 -3l3 1l1 3zM1519 2153l-5 2l-5 0l-1 -4l2 -4l4 3zM1548 2144l-3 -3l1 -3l4 0l4 1l-2 3zM1574 2147l-6 -1l-3 -3l1 -4l3 0l5 3zM1576 2151l-4 2l-6 -1l-3 -5l5 -3l7 3zM1609 2147l-3 1l-3 -3l2 -2l3 -3l2 5zM1624 2163l0 -3l2 -6l3 1l2 2l-4 7zM1629 2161l-3 0l-2 -5l3 -2l2 1l2 3zM1650 2139l-3 3l-5 -3l-2 -3l3 -2l7 1zM1676 2160l2 -4l2 -3l2 0l1 2l-3 3zM1692 2160l-1 -2l2 -3l3 -1l1 3l-2 3zM1715 2152l-3 3l-5 -3l-1 -3l3 -2l5 2zM1730 2147l-4 1l-3 -4l2 -3l4 0l3 2zM1745 2158l-3 1l-2 -2l2 -3l4 -1l0 3zM1436 2165l-1 -3l3 -4l2 -1l1 3l-3 3zM1456 2174l2 -3l7 -2l3 3l-4 3l-6 2zM1484 2174l-5 3l-6 -1l-2 -4l3 -2l5 1zM1510 2176l-2 -3l3 -5l3 1l2 3l-2 4zM1512 2176l3 -3l4 -2l3 0l0 3l-6 2zM1538 2167l2 -3l3 -3l2 4l-1 3l-4 1zM1570 2165l-4 0l-4 -2l-3 -4l5 0l5 3zM1572 2180l-4 -1l0 -6l3 -5l3 5l1 5zM1600 2169l3 -2l4 0l2 1l0 2l-6 1zM1624 2158l-3 2l-2 -1l0 -4l3 -2l2 3zM1643 2179l-3 0l-2 -5l1 -1l2 1l2 3zM1643 2179l-1 -3l3 -5l2 -1l2 2l-4 5zM1671 2168l-2 2l-5 -2l0 -2l2 -1l4 1zM1684 2171l3 -2l4 0l1 1l-1 2l-3 0zM1724 2166l-4 1l-2 -4l-1 -4l3 1l5 3zM1732 2184l-2 -5l1 -5l3 -1l2 2l-1 5zM1748 2168l0 -3l3 -1l3 3l-2 3l-3 0zM1459 2176l-1 1l-5 0l0 -2l0 -2l4 1zM1465 2189l1 -4l4 -1l2 1l1 3l-4 3zM1470 2192l2 -4l3 -2l3 1l2 4l-5 1zM1500 2195l-4 -3l1 -4l3 -4l3 4l0 4zM1515 2198l-2 -4l3 -2l2 0l2 2l-1 3zM1550 2181l-3 3l-7 0l-3 -4l4 -2l6 0zM1553 2191l-3 0l-3 -3l0 -3l4 -1l1 3zM1583 2181l-3 2l-5 -3l0 -1l1 -3l5 2zM1601 2188l0 -5l5 0l2 3l0 4l-5 1zM1617 2182l-2 -3l0 -3l1 -2l3 1l1 5zM1642 2180l1 -3l4 -1l2 3l-1 3l-5 1zM1651 2201l-6 -2l1 -7l1 -4l4 1l1 6zM1663 2195l-1 -3l0 -4l4 1l2 2l-1 4zM1704 2185l-5 -2l-2 -5l2 -2l2 0l5 3zM1705 2187l3 -3l7 -1l3 2l-3 2l-6 1zM1731 2180l-2 -2l1 -2l2 -2l3 2l-1 3zM1734 2196l-1 -3l1 -4l3 -2l0 3l-1 5zM1447 2201l4 -2l4 -1l2 1l-1 2l-4 1zM1460 2197l1 -4l3 0l1 3l0 3l-3 1zM1497 2207l-5 0l-4 -3l1 -3l3 -2l4 3zM1497 2211l-3 -1l0 -3l2 -3l3 1l0 4zM1524 2201l-2 1l-4 -1l2 -4l3 0l2 2zM1533 2200l-4 1l-2 -3l0 -4l4 -2l2 5zM1558 2215l-1 -2l1 -3l4 -1l0 4l-1 4zM1570 2198l-2 1l-4 -3l-1 -5l5 1l4 4zM1593 2211l-1 -3l4 -4l3 -2l1 3l-4 5zM1624 2195l-4 1l-3 -4l1 -3l3 -1l4 4zM1645 2201l-3 0l-4 -1l1 -3l3 -3l3 3zM1655 2210l0 -3l4 -4l2 1l1 2l-4 4zM1672 2202l2 -3l5 -1l5 0l-4 3l-4 2zM1682 2213l-3 0l-2 -5l1 -2l3 0l3 4zM1706 2211l0 -2l4 1l2 1l-1 2l-5 1zM1720 2197l4 -2l4 -2l3 2l-2 2l-5 0zM1758 2208l-4 -3l-1 -6l1 -4l4 2l1 5zM1441 2224l-1 1l-3 -1l-1 -2l3 -1l3 1zM1456 2226l-2 -3l3 -5l3 0l1 2l-1 5zM1486 2223l-1 -4l2 -3l4 -1l2 3l-2 5zM1513 2233l-3 -1l1 -4l1 -2l3 1l-1 4zM1520 2229l-3 -1l1 -3l1 -2l2 2l2 2zM1528 2235l-1 -5l1 -4l3 1l2 2l-1 3zM1562 2229l-2 -4l4 -2l6 -3l-2 7l-3 4zM1571 2211l-3 3l-4 -2l-4 -5l5 -2l6 2zM1603 2225l-4 -4l1 -6l2 -4l3 3l-1 5zM1623 2226l-2 -2l0 -5l5 -5l2 6l-1 5zM1629 2227l0 -3l3 -2l3 0l0 3l-4 2zM1667 2218l-2 2l-6 -2l-2 -2l3 -1l5 1zM1663 2225l-3 -4l1 -5l3 -3l4 3l-1 5zM1702 2228l-2 -1l-1 -4l1 -4l2 2l2 5zM1711 2219l-3 0l-1 -3l0 -5l3 3l3 3zM1726 2223l-2 -5l1 -3l2 -1l2 1l-1 4zM1752 2216l-4 0l-1 -4l0 -3l4 0l3 3zM1438 2237l1 -4l4 -1l5 1l-3 4l-4 2zM1452 2237l2 -5l3 -3l3 0l1 2l-4 4zM1498 2243l-2 3l-6 -1l-2 -3l2 -4l6 2zM1510 2246l-2 2l-4 -1l-2 -2l3 -1l2 0zM1534 2240l-2 1l-5 0l-2 -2l3 -1l4 0zM1546 2234l2 -4l3 -2l2 2l0 3l-3 3zM1548 2251l-1 -2l1 -5l3 -1l2 3l-2 5zM1580 2244l2 -3l6 -3l2 2l-1 2l-5 3zM1590 2234l-1 -3l1 -5l4 0l2 3l-3 4zM1604 2252l-1 -2l1 -4l3 0l1 2l-1 3zM1648 2251l-4 1l-3 -3l-2 -4l4 -1l5 2zM1664 2241l-2 1l-4 -1l0 -2l2 -2l4 1zM1677 2243l-2 -1l-1 -3l1 -2l3 1l1 3zM1694 2249l-3 -2l1 -3l4 0l2 2l-1 2zM1700 2247l-3 -1l1 -5l3 -2l2 2l-1 4zM1717 2239l2 -3l7 -1l4 2l-4 3l-6 1zM1757 2250l-2 -1l-1 -5l0 -5l3 5l2 4zM1448 2261l-4 0l-4 -4l-1 -4l4 0l4 4zM1465 2266l-5 -4l-3 -4l3 -3l3 1l3 4zM1481 2264l-3 1l-5 -3l2 -4l4 -1l3 3zM1500 2248l-3 1l-5 0l-1 -2l2 -2l4 1zM1528 2262l-1 -2l1 -3l5 -1l1 4l-3 3zM1542 2262l1 -3l5 -2l5 -2l-4 4l-3 3zM1563 2266l-2 -2l4 -4l5 -1l-1 5l-3 4zM1578 2264l1 -3l4 -5l5 1l-1 5l-6 5zM1609 2266l-3 -1l-2 -6l4 -2l3 1l1 6zM1621 2254l-5 -4l-2 -3l0 -3l4 0l2 5zM1636 2258l2 -5l3 -3l3 1l0 3l-4 2zM1652 2251l-1 -3l2 -4l5 -1l0 4l-2 6zM1674 2271l-3 -1l1 -6l2 -3l2 3l1 6zM1696 2267l2 -4l6 -2l1 4l0 4l-5 0zM1701 2255l-3 1l-1 -3l2 -3l4 0l2 4zM1734 2262l-1 -3l3 -6l3 1l2 3l-4 6zM1755 2266l-1 3l-4 0l-2 -3l3 -3l4 0zM1447 2268l-3 2l-4 -1l0 -2l1 -2l4 0zM1454 2278l-1 -3l6 -6l4 0l0 5l-6 3zM1485 2273l-2 -3l-1 -4l4 -1l2 2l1 5zM1504 2279l-2 -2l0 -4l3 -1l3 3l-1 4zM1524 2278l-4 5l-6 -1l-4 -4l4 -4l5 2zM1545 2282l-4 0l-3 -2l-3 -3l4 -1l5 3zM1556 2280l3 -3l5 -4l2 3l0 3l-5 1zM1590 2269l-1 2l-5 0l-3 -3l4 -2l5 -1zM1592 2278l2 -4l5 -3l4 -1l0 4l-6 4zM1610 2272l-3 2l-3 -4l1 -3l4 -2l4 4zM1644 2279l-2 -1l2 -5l2 -1l3 1l-2 5zM1657 2267l1 -4l3 1l3 3l-3 3l-3 1zM1664 2273l-3 1l-2 -3l0 -3l3 0l3 2zM1702 2278l-4 -1l-1 -4l2 -3l3 1l3 3zM1710 2273l-3 2l-5 0l-2 -2l2 -3l5 0zM1733 2270l-3 -2l-1 -5l3 -1l3 1l0 4zM1738 2283l-2 -2l-3 -4l2 -3l2 1l2 5zM1444 2287l-2 -1l3 -6l3 -1l1 3l-3 6zM1462 2304l-1 -3l1 -2l2 -2l1 3l-1 3zM1490 2305l-4 -1l-4 -4l0 -3l4 0l2 4zM1508 2303l-3 0l-1 -4l3 -3l2 2l2 3zM1534 2308l-2 -2l-2 -5l0 -3l2 2l4 7zM1542 2299l0 -3l4 -2l5 1l-3 4l-4 2zM1557 2304l-3 2l-4 -1l-2 -5l5 -1l4 1zM1588 2295l-3 0l-3 -3l1 -3l3 1l2 2zM1606 2307l-2 -4l1 -4l3 -1l2 3l0 4zM1617 2287l-1 -2l2 -5l4 -2l1 4l-4 5zM1626 2296l-1 1l-5 -1l-4 -3l5 0l5 1zM1645 2310l-3 -3l-2 -4l2 -2l2 1l1 3zM1665 2290l-3 -3l2 -4l3 -5l1 5l-1 4zM1699 2300l-3 0l-4 -4l1 -6l5 2l3 5zM1706 2297l-1 -3l3 -4l4 -2l1 5l-3 6zM1737 2292l-3 -2l-1 -3l0 -3l3 0l1 5zM1758 2285l-2 0l-2 -3l-2 -3l3 0l3 4z" fill="#a0a018"/>
<path d="M1457 2068l-1 -3l2 -2l3 0l0 3l-2 2zM1462 2064l-2 -3l2 -2l2 -1l2 1l-2 3zM1495 2052l0 -2l2 -1l3 1l-1 2l-2 1zM1509 2050l-2 1l-3 -2l-1 -2l2 -1l4 2zM1528 2068l0 -3l3 -1l3 0l0 3l-4 3zM1543 2058l-1 -3l0 -3l3 -2l1 2l0 5zM1554 2052l-2 1l-3 0l-1 -2l2 -2l3 1zM1569 2058l1 -3l2 -3l2 2l0 2l-2 2zM1608 2049l-2 1l-3 -2l-2 -3l3 0l3 2zM1609 2057l-3 -1l-2 -2l1 -2l3 -2l1 4zM1646 2054l-3 0l-4 -2l2 -2l2 -1l3 2zM1644 2049l0 -2l2 -1l2 2l0 3l-3 1zM1674 2069l-1 2l-3 -1l-2 -3l3 -2l3 2zM1683 2068l1 -2l2 -2l3 1l1 3l-4 2zM1713 2064l1 -2l3 -2l1 3l-1 2l-3 2zM1717 2066l-3 -1l-1 -3l3 -1l2 1l0 2zM1735 2056l-1 -4l1 -4l2 -1l0 3l0 3zM1453 2076l-2 -3l0 -4l2 -1l1 2l0 3zM1462 2085l-1 2l-3 -1l-3 -3l4 -2l2 2zM1477 2073l0 -1l1 -3l2 1l0 2l-1 2zM1514 2067l-1 1l-3 -1l-1 -2l2 0l2 0zM1527 2077l3 -2l3 0l1 2l-1 2l-3 0zM1527 2071l0 -2l6 -3l2 1l-2 2l-4 2zM1564 2080l1 -3l6 0l2 2l-2 3l-5 1zM1569 2068l-3 -1l1 -3l2 -3l3 2l0 4zM1591 2075l1 -3l4 -2l2 1l-1 2l-3 2zM1627 2067l-3 0l-2 -1l0 -1l1 -2l2 2zM1635 2088l-2 -3l2 -3l2 -2l2 2l-2 3zM1659 2081l-2 -3l2 -4l2 -1l1 2l-1 4zM1675 2083l-3 -2l-1 -4l2 -2l4 1l0 4zM1696 2068l-2 -2l2 -3l2 0l2 2l-2 2zM1714 2073l-2 0l-4 -1l-2 -3l3 -1l5 2zM1732 2087l-3 2l-2 -4l-1 -3l3 0l3 2zM1750 2072l-1 2l-3 -1l-2 -2l3 -1l3 -1zM1450 2097l-3 0l-3 -2l2 -3l3 -1l2 4zM1475 2095l-3 1l-3 -3l-1 -4l4 2l3 2zM1483 2091l2 -2l2 -1l1 1l1 2l-3 0zM1506 2091l-2 0l-2 -3l0 -2l2 0l3 3zM1516 2099l-1 -3l4 -2l2 0l1 3l-4 2zM1549 2090l-2 0l-3 -3l-1 -4l4 2l2 2zM1565 2090l1 -2l5 -1l3 1l-2 3l-5 1zM1581 2101l-2 -1l2 -4l3 0l1 2l-2 4zM1600 2100l0 -3l4 -4l2 1l0 3l-3 3zM1614 2100l-3 -3l-1 -4l0 -5l3 4l2 4zM1637 2095l0 -2l1 -1l1 1l1 1l-1 2zM1645 2100l0 -2l2 -2l4 -2l-2 4l-2 2zM1680 2086l-2 -1l1 -3l2 -1l1 2l0 3zM1684 2106l0 -4l1 -3l2 -1l0 2l0 4zM1701 2090l1 -2l3 0l2 0l0 1l-4 1zM1733 2093l0 -2l0 -3l2 -1l1 2l0 4zM1738 2090l-2 0l-1 -3l1 -2l2 1l0 3zM1451 2111l-1 -1l0 -2l3 0l1 1l-1 2zM1457 2116l-2 -1l0 -4l1 -3l2 3l1 4zM1492 2119l-3 0l-3 0l-1 -2l2 -1l2 1zM1497 2124l1 -3l3 -2l2 0l0 3l-3 2zM1521 2115l-3 -2l-3 -2l1 -2l3 0l2 2zM1547 2105l2 -2l4 -2l3 2l-2 3l-4 0zM1556 2114l-1 2l-2 -1l-1 -3l2 -2l2 2zM1582 2120l1 -2l2 0l3 0l0 3l-4 1zM1599 2105l-2 0l-1 -3l0 -1l1 -1l2 2zM1619 2111l1 -2l1 0l1 1l0 2l-2 0zM1640 2116l-3 0l-2 -1l1 -2l2 -2l2 1zM1661 2116l-1 -1l-2 -4l2 0l2 0l0 3zM1675 2108l1 -2l4 -1l1 3l-1 3l-4 -1zM1682 2107l-2 -2l3 -5l4 -2l0 4l-3 4zM1706 2114l-2 -2l0 -3l2 -2l1 2l0 4zM1724 2123l-2 2l-4 0l0 -3l1 -3l3 2zM1743 2116l-5 -1l-4 -1l0 -2l2 -2l6 2zM1443 2134l1 -2l2 -3l1 0l1 2l-2 3zM1458 2141l0 -3l2 -2l3 0l0 3l-3 3zM1487 2133l-2 -3l2 -2l3 0l1 4l-1 2zM1508 2132l-3 1l-3 -2l-2 -2l3 -1l2 1zM1527 2133l-4 -3l-3 -3l1 -2l1 1l3 3zM1532 2141l-3 -2l1 -4l2 -2l2 3l0 3zM1572 2142l-2 0l-3 -1l2 -3l3 0l1 2zM1573 2130l2 -3l2 -1l2 2l-1 2l-2 1zM1602 2135l-1 -2l0 -4l3 -1l1 2l0 4zM1608 2132l1 -3l3 -2l2 1l0 2l-3 2zM1622 2137l-1 -2l0 -3l3 0l2 2l0 4zM1642 2124l0 -2l2 -3l1 0l1 1l-2 3zM1671 2138l-1 -1l2 -5l3 -1l-1 3l-1 4zM1679 2140l-2 -1l1 -2l2 -3l1 3l-1 3zM1722 2124l-2 0l-4 -3l0 -3l3 1l2 3zM1735 2121l-2 1l-5 -1l-1 -3l3 0l4 1zM1747 2125l-2 -2l-1 -3l2 -2l1 1l1 4zM1451 2144l-3 0l-1 -3l2 -2l2 1l1 2zM1463 2148l2 -3l5 -1l1 3l-1 3l-4 0zM1489 2146l-2 0l-1 -3l0 -2l3 1l1 2zM1511 2143l-3 -1l-2 -3l1 -2l3 0l0 3zM1517 2153l-4 1l-4 0l0 -3l1 -3l4 2zM1549 2143l-3 -2l1 -2l2 -1l3 2l-1 2zM1572 2146l-3 -1l-3 -2l1 -3l2 0l4 2zM1574 2151l-2 1l-5 -1l-2 -3l4 -2l5 2zM1608 2147l-2 1l-2 -3l1 -2l3 -1l1 3zM1625 2162l0 -2l1 -5l2 1l2 1l-3 5zM1629 2160l-3 0l-1 -4l2 -1l2 0l1 3zM1649 2139l-2 2l-4 -2l-2 -2l3 -2l4 1zM1677 2159l2 -4l1 -2l2 0l1 2l-3 2zM1693 2159l-1 -1l2 -2l2 -1l1 2l-2 2zM1714 2152l-2 2l-4 -3l-1 -2l2 -1l4 1zM1729 2146l-2 1l-3 -3l2 -2l2 0l3 1zM1745 2158l-3 0l-1 -1l2 -2l2 -1l1 2zM1436 2164l0 -2l2 -4l2 0l0 2l-2 3zM1458 2174l1 -2l5 -2l2 2l-3 3l-4 1zM1482 2174l-4 2l-5 -1l0 -2l1 -2l5 1zM1510 2175l-1 -3l2 -3l3 1l1 2l-2 3zM1513 2175l2 -2l3 -1l3 0l-1 2l-4 1zM1539 2166l2 -2l2 -2l1 3l0 2l-3 1zM1569 2165l-3 0l-3 -2l-2 -3l4 0l3 2zM1572 2179l-3 -1l0 -4l2 -4l2 4l1 3zM1601 2168l3 -1l2 0l2 1l0 2l-5 0zM1623 2158l-2 1l-2 -1l1 -2l2 -2l2 2zM1642 2178l-1 0l-2 -3l1 -2l1 1l2 3zM1643 2178l0 -3l2 -3l2 -1l1 2l-3 4zM1670 2168l-2 1l-3 -1l0 -2l1 0l3 0zM1685 2171l3 -1l2 -1l2 1l-1 1l-3 1zM1723 2165l-3 0l-2 -2l-1 -3l3 0l4 2zM1732 2182l-1 -3l1 -4l2 -1l1 2l-1 3zM1748 2168l0 -2l3 -1l2 2l-2 3l-2 -1zM1458 2176l-1 1l-3 0l-1 -2l1 -1l3 0zM1466 2189l1 -4l3 -1l2 2l0 2l-3 1zM1472 2191l1 -3l2 -2l2 1l1 3l-3 1zM1500 2194l-3 -2l1 -4l2 -3l2 3l1 4zM1516 2197l-2 -3l2 -1l2 0l1 1l0 2zM1548 2181l-2 2l-5 0l-2 -2l3 -2l4 0zM1552 2190l-2 0l-2 -2l0 -2l2 -1l2 2zM1581 2181l-2 1l-3 -2l0 -1l1 -2l3 2zM1602 2187l0 -3l4 0l1 2l0 3l-3 1zM1617 2180l-2 -1l0 -3l2 -1l1 1l1 4zM1643 2180l1 -2l3 -1l1 2l0 3l-4 0zM1650 2199l-4 -2l0 -5l1 -2l3 0l1 5zM1663 2194l-1 -2l1 -3l3 1l1 1l-1 3zM1703 2183l-4 -1l-1 -4l1 -1l2 -1l3 3zM1707 2186l2 -1l5 -1l3 1l-3 2l-5 1zM1731 2179l-2 -1l1 -2l2 -1l2 2l-1 2zM1734 2195l0 -2l0 -3l2 -2l1 3l-1 3zM1449 2201l3 -2l3 0l1 0l-1 2l-2 0zM1461 2197l0 -3l3 0l1 2l-1 2l-2 1zM1495 2206l-4 0l-2 -3l1 -2l2 -1l3 2zM1497 2210l-2 -1l-1 -2l2 -2l2 1l0 3zM1524 2201l-2 0l-3 -1l2 -2l2 -1l1 2zM1532 2200l-3 0l-1 -2l0 -3l3 -1l1 3zM1558 2215l0 -2l0 -2l3 -1l1 3l-1 3zM1570 2198l-2 0l-3 -2l0 -3l3 0l3 3zM1594 2210l-1 -2l3 -3l2 -2l1 3l-3 3zM1623 2194l-2 1l-3 -3l1 -2l2 -1l3 3zM1644 2200l-2 0l-3 -1l1 -2l2 -2l2 3zM1656 2209l0 -3l3 -3l2 2l0 1l-2 3zM1673 2202l2 -2l4 -2l3 1l-3 2l-3 1zM1681 2212l-2 0l-1 -4l0 -2l2 1l3 3zM1706 2211l1 -1l3 0l1 1l-1 2l-3 0zM1722 2197l2 -2l3 -1l3 1l-2 2l-3 0zM1758 2206l-4 -2l0 -4l1 -3l3 1l0 4zM1441 2224l-1 1l-2 -1l-1 -2l2 0l2 0zM1457 2225l-2 -3l3 -3l2 0l0 2l-1 3zM1487 2222l-1 -3l2 -3l2 0l2 3l-2 3zM1513 2232l-3 0l1 -3l1 -2l2 1l0 3zM1520 2228l-3 0l1 -2l1 -2l2 1l1 2zM1529 2233l-1 -3l1 -3l2 1l1 1l-1 2zM1563 2228l-2 -2l3 -2l5 -2l-2 5l-2 3zM1570 2211l-2 2l-3 -2l-3 -3l4 -2l4 2zM1602 2223l-2 -3l1 -4l1 -3l3 2l-1 4zM1624 2225l-2 -1l0 -4l3 -4l2 5l-1 4zM1630 2226l0 -2l2 -2l2 1l1 2l-3 1zM1666 2218l-2 2l-4 -2l-2 -2l3 0l3 0zM1663 2224l-2 -4l0 -3l2 -3l4 2l-1 4zM1702 2227l-2 -1l0 -3l0 -3l2 2l1 4zM1711 2219l-2 -1l-2 -2l0 -3l3 1l2 3zM1726 2222l-1 -4l0 -3l2 -1l1 2l0 2zM1751 2215l-3 0l0 -3l0 -2l3 0l2 2zM1439 2236l1 -2l3 -1l3 1l-2 2l-3 2zM1454 2235l1 -3l2 -3l2 0l1 2l-3 3zM1497 2243l-2 2l-4 -1l-2 -2l2 -3l4 1zM1509 2246l-2 2l-3 -1l-1 -2l2 -1l2 1zM1533 2240l-2 1l-3 0l-1 -2l2 -1l3 0zM1547 2233l2 -2l2 -2l1 2l0 1l-2 2zM1548 2251l-1 -2l1 -4l3 -1l1 3l-2 3zM1581 2244l2 -3l4 -2l2 1l-1 2l-4 2zM1591 2233l-1 -2l1 -4l3 0l1 3l-2 3zM1605 2251l-2 -2l1 -2l2 0l1 1l-1 3zM1647 2250l-3 1l-2 -2l-2 -3l3 -1l4 2zM1663 2241l-2 1l-2 -1l0 -2l1 -1l3 1zM1677 2242l-2 0l0 -2l1 -2l1 1l1 2zM1694 2249l-2 -2l1 -2l2 0l2 1l-1 2zM1700 2246l-2 -1l1 -4l2 -1l1 2l0 2zM1718 2239l2 -2l5 -1l3 1l-3 2l-5 1zM1757 2249l-1 -1l-1 -3l0 -4l2 4l1 3zM1447 2260l-3 0l-3 -3l0 -3l3 0l2 3zM1464 2264l-3 -3l-3 -3l2 -2l3 1l2 3zM1481 2263l-3 1l-3 -2l1 -3l3 -1l2 2zM1499 2248l-2 1l-4 0l-1 -2l2 -2l3 1zM1528 2262l-1 -2l2 -2l3 -1l0 3l-2 3zM1543 2262l1 -3l3 -1l4 -2l-2 3l-3 3zM1563 2266l-1 -2l3 -3l3 -1l0 4l-3 3zM1579 2263l1 -2l3 -4l4 1l-1 3l-5 4zM1609 2265l-3 -1l-1 -5l3 -1l2 1l1 4zM1620 2252l-4 -3l-1 -2l0 -2l2 0l2 3zM1637 2256l2 -3l2 -2l2 0l0 3l-2 1zM1653 2250l-1 -2l2 -3l3 -1l0 3l-1 4zM1674 2270l-2 -1l1 -4l1 -3l2 2l0 5zM1697 2267l2 -3l4 -1l1 2l0 3l-4 0zM1701 2255l-3 0l0 -2l2 -2l2 0l2 2zM1735 2261l-1 -2l2 -5l3 1l1 2l-3 4zM1754 2266l-1 2l-2 0l-2 -2l3 -2l2 0zM1446 2268l-2 1l-3 0l-1 -2l1 -2l3 1zM1455 2277l-1 -2l4 -5l4 1l0 3l-5 3zM1485 2272l-2 -2l0 -3l2 -1l3 1l0 4zM1504 2278l-1 -1l0 -3l2 -1l2 2l-1 3zM1522 2278l-2 3l-5 0l-3 -3l3 -3l4 1zM1544 2281l-3 0l-2 -1l-3 -2l3 -1l4 2zM1558 2279l2 -2l3 -2l2 1l0 3l-4 0zM1589 2269l-1 1l-3 0l-2 -2l3 -1l3 -1zM1594 2277l1 -3l4 -2l3 -1l-1 3l-4 3zM1609 2271l-2 1l-2 -2l1 -3l2 -1l3 3zM1645 2278l-2 -1l1 -4l2 0l2 0l-2 4zM1658 2267l0 -3l2 1l3 2l-2 2l-3 1zM1663 2272l-2 1l-2 -3l1 -2l2 0l2 2zM1702 2277l-4 -1l0 -3l1 -2l3 1l2 2zM1708 2273l-2 2l-3 -1l-2 -1l1 -2l4 0zM1733 2269l-3 -2l0 -4l2 0l2 0l1 4zM1738 2282l-2 -2l-2 -3l1 -2l2 1l1 3zM1445 2286l-2 -1l2 -4l3 -1l0 2l-2 4zM1462 2303l-1 -2l2 -2l1 -1l0 2l0 2zM1489 2304l-3 -1l-3 -3l0 -2l3 0l2 3zM1508 2302l-2 0l-1 -3l2 -2l2 2l1 2zM1534 2307l-2 -2l-2 -4l1 -2l1 2l3 5zM1543 2299l0 -2l3 -2l4 0l-2 4l-4 1zM1556 2304l-2 1l-3 0l-1 -4l3 -1l3 1zM1587 2294l-2 0l-2 -2l0 -2l3 0l1 2zM1606 2306l-1 -4l0 -2l3 -1l2 2l-1 3zM1618 2286l-1 -1l1 -4l3 -1l1 2l-3 4zM1626 2296l-1 1l-4 -1l-3 -2l4 -1l4 2zM1645 2308l-3 -2l-1 -3l1 -1l1 1l1 2zM1665 2289l-2 -2l1 -4l2 -3l1 4l0 3zM1699 2299l-3 0l-3 -3l1 -4l4 1l2 4zM1706 2296l0 -2l2 -3l3 -1l1 3l-3 4zM1737 2291l-2 -1l-2 -3l0 -2l3 0l1 4zM1758 2284l-2 0l-1 -2l-2 -2l3 0l2 3z" fill="#60c828"/>
<path d="M1458 2067l0 -1l0 -1l2 0l0 1l-1 1zM1529 2067l1 -1l1 -1l1 0l0 2l-2 1zM1543 2056l0 -2l0 -1l1 -1l1 1l0 2zM1607 2049l-1 0l-2 -1l-1 -2l2 0l1 2zM1608 2055l-2 0l-1 -1l1 -1l2 -1l0 2zM1644 2053l-1 0l-2 -1l1 -1l1 -1l2 1zM1685 2067l0 -1l1 -1l1 1l1 1l-2 1zM1714 2064l1 -1l1 -1l1 1l-1 1l-1 1zM1717 2065l-2 -1l0 -1l1 -1l1 1l0 1zM1735 2053l0 -1l0 -2l1 -1l1 1l-1 2zM1593 2074l0 -1l2 -2l1 1l0 1l-2 1zM1731 2086l-2 1l-1 -2l0 -1l1 0l2 1zM1449 2096l-1 0l-2 -1l1 -1l1 -1l1 2zM1473 2094l-1 0l-1 -1l-1 -2l2 1l1 1zM1613 2097l-1 -1l-1 -2l0 -3l2 2l0 2zM1646 2099l0 -1l1 -1l2 -1l-1 2l-1 1zM1490 2118l-2 0l-1 0l-1 -1l1 0l1 0zM1598 2104l-1 0l-1 -2l0 -1l1 0l1 1zM1506 2131l-2 0l-1 0l-1 -1l1 -1l1 1zM1603 2133l-1 -1l0 -2l1 -1l1 1l0 2zM1672 2136l-1 0l1 -2l2 -1l-1 2l0 2zM1746 2124l0 -2l-1 -1l1 -1l1 0l0 3zM1450 2143l-1 0l-1 -2l1 0l1 0l1 1zM1571 2144l-2 0l-2 -2l1 -1l1 0l2 1zM1608 2146l-1 0l-2 -1l1 -1l1 -1l1 2zM1628 2158l-1 0l-1 -2l1 0l1 0l1 1zM1679 2157l1 -2l1 -1l0 0l1 1l-1 1zM1694 2158l-1 0l1 -1l1 -1l0 1l-1 1zM1744 2157l-1 0l-1 0l1 -1l2 -1l0 1zM1459 2173l1 -1l2 -1l2 2l-2 1l-2 1zM1479 2174l-2 0l-2 0l-1 -1l1 -1l2 0zM1515 2174l1 -1l2 -1l1 0l0 2l-2 0zM1568 2164l-2 0l-1 -1l-2 -1l2 0l2 1zM1641 2177l0 0l-1 -2l0 0l1 0l1 1zM1688 2171l1 -1l1 0l1 0l-1 1l-1 0zM1733 2180l-1 -2l0 -2l1 0l1 0l0 2zM1749 2168l0 -1l1 0l1 0l-1 2l-1 -1zM1457 2175l-1 1l-2 0l0 -1l1 -1l1 1zM1468 2188l1 -2l1 -1l1 1l0 1l-1 1zM1603 2187l1 -1l1 0l1 1l0 1l-2 0zM1649 2196l-2 -1l0 -2l1 -2l1 1l1 2zM1709 2186l1 -1l3 0l1 0l-1 1l-2 1zM1462 2196l0 -1l2 0l0 1l0 1l-1 1zM1532 2199l-2 0l-1 -1l0 -2l2 0l1 1zM1595 2208l-1 -1l2 -2l1 0l0 1l-1 2zM1658 2207l0 -1l2 -1l0 0l1 1l-2 1zM1675 2201l1 -1l2 -1l2 1l-2 1l-1 0zM1680 2210l-1 0l0 -1l0 -1l1 0l1 1zM1708 2211l0 -1l1 1l1 0l-1 1l-1 0zM1757 2203l-2 -1l0 -2l0 -2l2 1l0 2zM1440 2223l-1 1l0 -1l-1 0l1 -1l1 1zM1520 2227l-2 0l1 -1l0 -1l1 1l1 1zM1602 2220l-1 -1l1 -3l0 -1l1 1l0 2zM1624 2224l-1 -1l0 -1l2 -2l0 2l0 2zM1631 2225l0 -1l2 -1l0 0l1 1l-2 1zM1456 2233l0 -1l1 -2l1 0l1 1l-2 2zM1495 2242l-1 1l-2 0l-1 -1l1 -1l2 0zM1549 2232l1 -1l1 -1l1 1l-1 1l-1 1zM1605 2250l0 -1l0 -1l1 0l0 1l0 1zM1645 2249l-1 1l-1 -1l-1 -2l2 0l1 1zM1677 2241l-1 0l-1 -1l1 -1l1 0l0 1zM1695 2248l-2 -1l1 -1l1 0l1 0l-1 1zM1564 2265l-1 -1l2 -1l2 -1l-1 2l-1 2zM1581 2262l0 -1l2 -2l2 1l-1 1l-2 2zM1609 2263l-2 0l0 -3l1 0l1 0l1 2zM1618 2250l-2 -2l-1 -1l1 -1l1 0l1 2zM1674 2268l-1 -1l0 -2l1 -1l1 1l0 3zM1736 2260l-1 -1l2 -3l1 1l0 1l-1 2zM1456 2276l0 -1l2 -3l2 1l0 1l-2 2zM1542 2281l-1 -1l-1 0l-2 -1l2 -1l2 1zM1588 2269l0 0l-2 0l-1 -1l1 0l2 -1zM1658 2267l1 -2l1 1l1 1l-1 1l-1 0zM1533 2305l-1 -1l-1 -2l0 -1l1 1l2 2zM1625 2296l0 0l-2 0l-2 -1l2 0l2 0zM1707 2295l0 -1l1 -2l2 0l0 2l-1 2z" fill="#d0d030"/>
<path d="M1463 2060l-0.8 1.9M1497 2051l-1.0 0.5M1506 2048l2.5 1.3M1531 2066l-1.1 0.6M1544 2054l-0.1 0.2M1606 2053l0.8 1.2M1643 2051l0.8 0.6M1671 2068l1.9 0.7M1717 2063l-2.8 0.5M1716 2063l0.2 1.2M1479 2071l-0.5 0.6M1569 2065l0.0 2.7M1595 2072l-1.6 0.8M1636 2083l-0.3 1.3M1471 2092l1.8 1.6M1487 2090l-0.1 0.0M1519 2096l-0.0 0.0M1583 2098l-0.9 1.6M1648 2097l-1.9 1.9M1681 2083l-0.5 2.7M1585 2119l-2.2 0.9M1684 2102l-1.3 2.1M1503 2130l2.0 0.6M1746 2121l0.2 1.0M1450 2141l0.5 1.4M1468 2148l-1.8 0.2M1511 2151l2.0 0.4M1570 2149l2.5 0.9M1607 2145l0.5 0.7M1627 2157l-1.3 2.3M1695 2156l-1.4 2.2M1461 2173l-0.1 0.0M1544 2165l-2.3 0.6M1572 2175l0.1 1.9M1621 2157l1.0 0.7M1641 2175l0.6 1.2M1645 2175l-0.1 0.1M1691 2170l-2.3 0.3M1454 2175l2.9 0.3M1542 2181l1.6 0.1M1559 2213l-0.2 0.3M1621 2192l0.4 0.4M1726 2196l-0.5 0.1M1438 2223l1.7 0.7M1565 2226l-1.7 1.6M1624 2222l-0.4 2.2M1633 2223l-1.1 0.8M1662 2217l0.3 0.1M1727 2215l-0.3 2.4M1458 2230l-1.6 1.8M1530 2239l1.6 0.1M1549 2248l-0.8 2.0M1606 2249l-0.0 0.1M1661 2240l0.8 0.3M1676 2239l0.6 1.8M1695 2246l-0.2 0.9M1444 2257l0.6 0.5M1461 2258l0.6 1.3M1495 2247l0.8 0.1M1608 2261l0.1 0.3M1701 2266l-1.8 0.4M1505 2275l-0.2 0.8M1586 2268l1.5 0.1M1660 2267l-1.8 0.0M1666 2284l-0.3 2.3M1697 2296l0.2 0.2M1735 2288l0.2 0.3M1756 2282l1.6 1.5" fill="none" stroke="#2050a0" stroke-width="3" stroke-linecap="round" opacity="0.6"/>
</g>
<rect x="1721.3" y="2293.1" width="29" height="3" fill="#eee"/>
<text x="1735.8" y="2290.1" font-size="10" font-weight="bold" fill="#ddd" text-anchor="middle">10μm</text>
<text x="341" y="1257" font-size="33" text-anchor="middle">Control</text>
<text x="653.3" y="1257" font-size="33" text-anchor="middle">OGD</text>
<text x="959.3" y="1257" font-size="33" text-anchor="middle">OGD+GAS</text>
<text x="1272.5" y="1257" font-size="33" text-anchor="middle">OGD+RSL3</text>
<text x="1592.3" y="1257" font-size="33" text-anchor="middle">OGD+GAS+RSL3</text>
<text transform="translate(131.6 1394.6) rotate(-90)" font-size="33" text-anchor="middle">GPX4</text>
<text transform="translate(131.6 1651.5) rotate(-90)" font-size="33" text-anchor="middle">NeuN</text>
<text transform="translate(131.6 1913) rotate(-90)" font-size="33" text-anchor="middle">DAPI</text>
<text transform="translate(131.6 2170.5) rotate(-90)" font-size="33" text-anchor="middle">Merge</text>
</svg>
</body></html>
